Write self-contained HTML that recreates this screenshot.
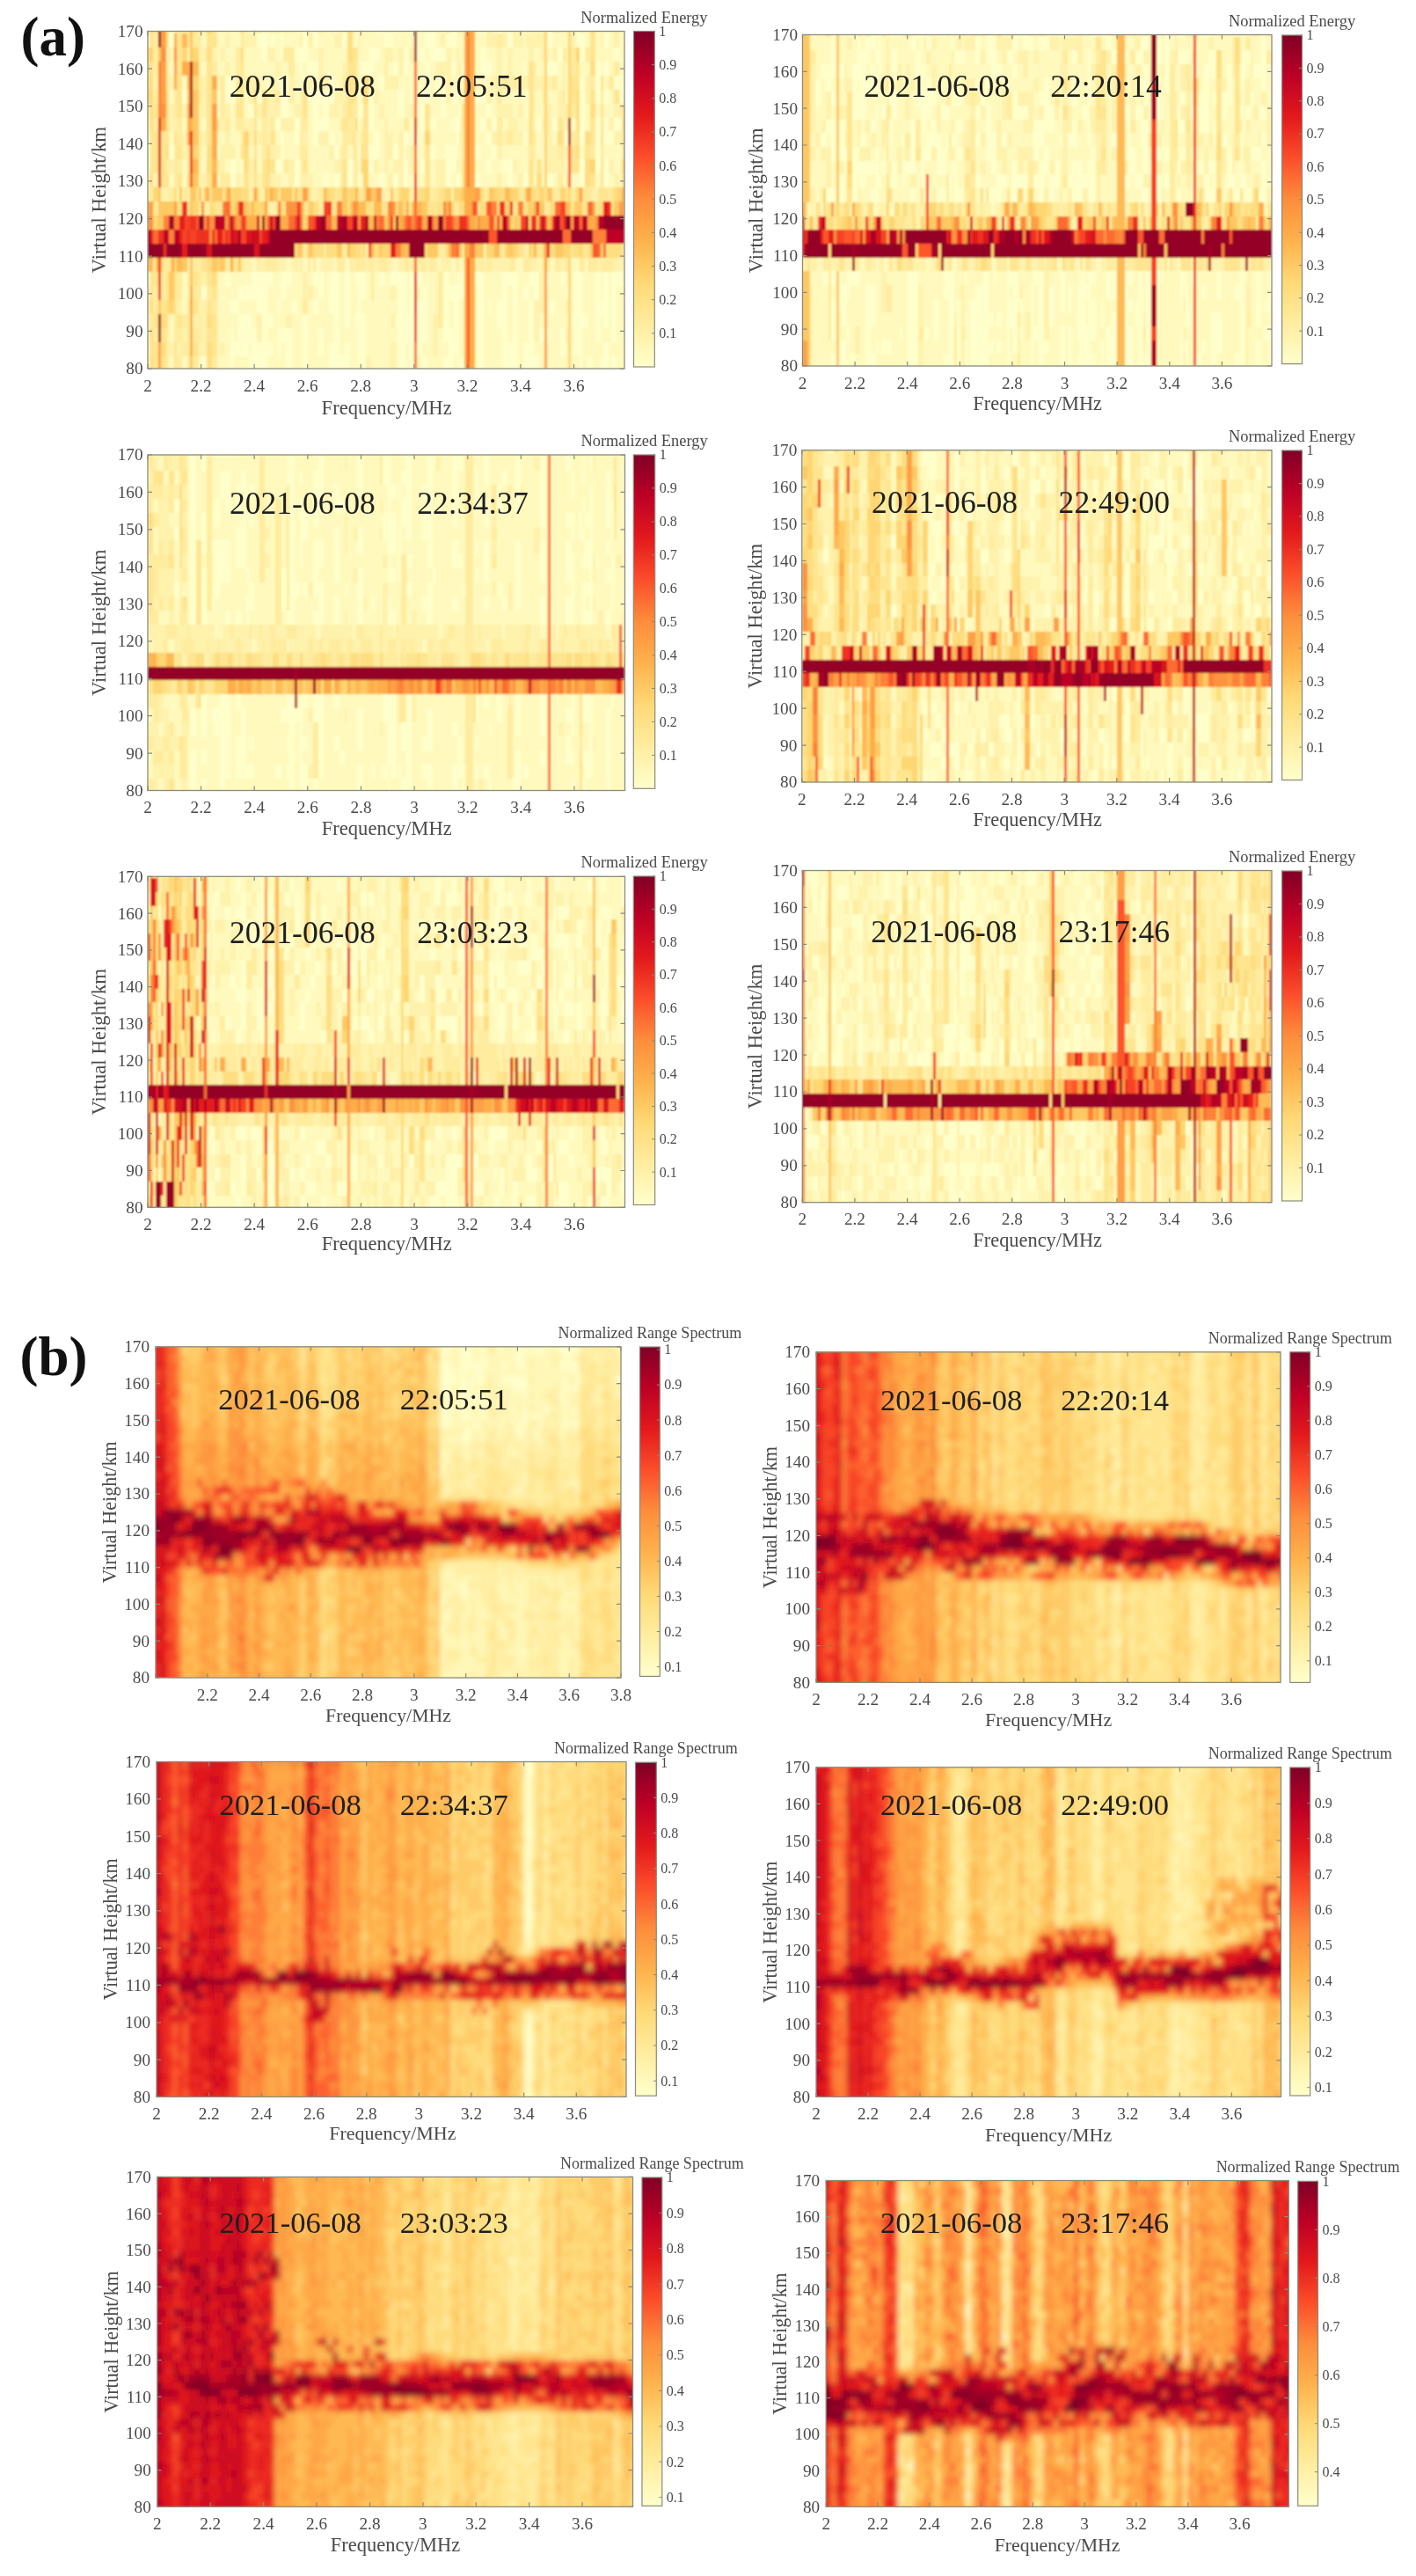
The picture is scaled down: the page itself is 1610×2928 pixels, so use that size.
<!DOCTYPE html><html><head><meta charset="utf-8"><style>html,body{margin:0;padding:0;background:#fff}svg{display:block;filter:blur(0.7px)}</style></head><body>
<svg width="1610" height="2928" viewBox="0 0 1610 2928" font-family="'Liberation Serif', 'Times New Roman', serif">
<defs><filter id="bl1" x="0" y="0" width="1" height="1"><feGaussianBlur stdDeviation="1.1"/></filter><filter id="bl2" x="0" y="0" width="1" height="1"><feGaussianBlur stdDeviation="3"/></filter></defs>
<rect width="100%" height="100%" fill="#fff"/>
<clipPath id="ca1"><rect x="168" y="35.5" width="542" height="383.5"/></clipPath>
<g clip-path="url(#ca1)"><g filter="url(#bl1)"><path fill="#ffffcc" d="M262 22h3v399h-3zm12 0h3v399h-3zm12 0h9v399h-9zm12 0h6v399h-6zm21 0h3v399h-3zm25 0h6v399h-6zm12 0h6v399h-6zm24 0h6v399h-6zm12 0h6v399h-6zm15 0h9v399h-9zm46 0h9v399h-9zm12 0h6v399h-6zm9 0h12v399h-12zm30 0h18v399h-18zm39 0h7v399h-7zm28 0h18v399h-18zm81 0h13v399h-13zm25 0h6v399h-6zm9 0h6v399h-6zm12 0h3v399h-3z"/><path fill="#fff9bd" d="M192 22h6v399h-6zm15 0h6v399h-6zm40 0h15v399h-15zm18 0h9v399h-9zm12 0h6v399h-6zm27 0h3v399h-3zm6 0h9v399h-9zm12 0h22v399h-22zm28 0h6v399h-6zm12 0h18v399h-18zm24 0h6v399h-6zm12 0h6v399h-6zm18 0h28v399h-28zm31 0h6v399h-6zm15 0h3v399h-3zm24 0h18v399h-18zm36 0h6v399h-6zm18 0h3v399h-3zm10 0h15v399h-15zm39 0h12v399h-12zm21 0h9v399h-9zm12 0h18v399h-18zm21 0h3v399h-3zm6 0h3v399h-3zm16 0h12v399h-12zm18 0h3v399h-3zm9 0h6v399h-6zm9 0h9v399h-9z"/><path fill="#fff2ad" d="M168 22h3v399h-3zm61 0h6v399h-6zm54 0h3v399h-3zm12 0h3v399h-3zm12 0h3v399h-3zm137 0h3v399h-3zm121 0h6v399h-6zm42 0h3v399h-3zm33 0h3v399h-3z"/><path fill="#ffec9e" d="M177 22h3v399h-3zm21 0h3v399h-3zm15 0h3v399h-3zm10 0h6v399h-6zm181 0h3v399h-3z"/><path fill="#ffe590" d="M174 22h3v399h-3zm9 0h9v399h-9zm18 0h6v399h-6zm34 0h12v399h-12zm366 0h6v399h-6z"/><path fill="#fede81" d="M171 22h3v399h-3z"/><path fill="#fed672" d="M619 22h3v399h-3zm27 0h3v399h-3z"/><path fill="#fec864" d="M180 22h3v399h-3zm36 0h7v399h-7z"/><path fill="#fead4a" d="M528 22h3v399h-3zm6 0h6v399h-6z"/><path fill="#fd8239" d="M531 22h3v399h-3z"/><path fill="#fc6c33" d="M471 22h3v399h-3z"/><path fill="#ffffcc" d="M229 405h6v16h-6zm54 0h3v16h-3zm12 -16h3v32h-3zm30 -16h7v48h-7zm49 16h6v32h-6zm12 16h6v16h-6zm136 0h6v16h-6zm73 0h18v16h-18zm73 0h6v16h-6zm15 0h3v16h-3zm12 0h3v16h-3zm-430 -16h9v16h-9zm12 -32h6v48h-6zm27 32h6v16h-6zm12 -16h3v32h-3zm46 0h6v32h-6zm233 16h12v16h-12zm42 -16h6v32h-6zm-366 -16h3v32h-3zm12 0h3v32h-3zm39 16h3v16h-3zm140 -16h3v32h-3zm139 -16h6v48h-6zm12 32h6v16h-6zm9 0h3v16h-3zm73 -64h3v80h-3zm-391 48h6v16h-6zm100 0h3v16h-3zm46 0h3v16h-3zm115 -16h6v32h-6zm100 16h3v16h-3zm-400 -16h6v16h-6zm30 -32h3v48h-3zm21 32h3v16h-3zm16 0h6v16h-6zm42 -32h6v48h-6zm182 32h3v16h-3zm69 0h6v16h-6zm58 0h3v16h-3zm-454 -16h6v16h-6zm42 0h3v16h-3zm6 0h9v16h-9zm45 -16h3v32h-3zm40 0h6v32h-6zm160 0h6v32h-6zm73 16h6v16h-6zm12 -16h6v32h-6zm36 16h3v16h-3zm-387 -16h6v16h-6zm48 0h6v16h-6zm21 0h7v16h-7zm79 0h3v16h-3zm27 0h6v16h-6zm13 0h9v16h-9zm96 0h3v16h-3zm61 0h6v16h-6zm21 0h3v16h-3zm15 0h6v16h-6zm64 0h6v16h-6zm-436 -128h3v32h-3zm70 0h6v32h-6zm33 16h6v16h-6zm30 -16h3v32h-3zm33 16h6v16h-6zm16 0h6v16h-6zm15 -16h3v32h-3zm60 16h3v16h-3zm18 0h3v16h-3zm55 0h6v16h-6zm27 0h6v16h-6zm-309 -16h6v16h-6zm106 -16h6v32h-6zm134 16h6v16h-6zm-361 -16h6v16h-6zm55 0h3v16h-3zm178 -16h6v32h-6zm22 16h6v16h-6zm42 0h6v16h-6zm51 0h3v16h-3zm19 0h6v16h-6zm145 0h3v16h-3zm-369 -31h6v31h-6zm39 15h6v16h-6zm12 0h3v16h-3zm76 0h3v16h-3zm91 0h6v16h-6zm42 0h3v16h-3zm48 0h3v16h-3zm49 0h6v16h-6zm-379 -15h6v15h-6zm49 0h12v15h-12zm57 -32h6v47h-6zm70 32h6v15h-6zm61 0h3v15h-3zm9 0h6v15h-6zm51 0h6v15h-6zm18 0h6v15h-6zm73 0h6v15h-6zm-454 -32h3v32h-3zm36 16h3v16h-3zm39 -32h6v48h-6zm46 16h6v32h-6zm133 -16h3v48h-3zm21 32h3v16h-3zm31 0h6v16h-6zm45 -16h3v32h-3zm-391 0h6v16h-6zm49 -16h6v32h-6zm9 0h3v32h-3zm30 16h3v16h-3zm55 0h6v16h-6zm12 0h6v16h-6zm12 -16h6v32h-6zm112 -16h3v48h-3zm54 32h3v16h-3zm10 0h3v16h-3zm157 -16h3v32h-3zm-403 0h3v16h-3zm127 0h6v16h-6zm64 0h6v16h-6zm27 0h3v16h-3zm179 0h3v16h-3zm-360 -32h3v32h-3zm9 16h6v16h-6zm66 0h9v16h-9zm31 0h6v16h-6zm15 -16h3v32h-3zm63 16h3v16h-3zm25 0h9v16h-9zm45 0h3v16h-3zm27 0h12v16h-12zm-287 -16h6v16h-6zm84 0h12v16h-12zm70 0h15v16h-15zm61 0h3v16h-3zm84 0h6v16h-6zm67 0h3v16h-3zm-509 -16h6v16h-6zm103 0h3v16h-3zm12 0h6v16h-6zm82 0h3v16h-3zm15 0h3v16h-3zm33 0h10v16h-10zm49 -16h9v32h-9zm136 0h6v32h-6zm-375 0h3v16h-3zm18 0h3v16h-3zm18 0h3v16h-3zm58 0h3v16h-3zm84 0h12v16h-12zm22 0h6v16h-6zm103 0h3v16h-3zm15 0h6v16h-6zm30 0h3v16h-3z"/><path fill="#fff9bd" d="M226 405h3v16h-3zm48 0h3v16h-3zm33 0h3v16h-3zm12 -16h3v32h-3zm37 -32h6v64h-6zm48 16h3v48h-3zm70 32h6v16h-6zm42 0h6v16h-6zm49 -32h6v48h-6zm75 32h3v16h-3zm12 0h7v16h-7zm10 -32h3v48h-3zm15 16h6v32h-6zm-394 0h3v16h-3zm197 0h6v16h-6zm24 0h6v16h-6zm103 0h3v16h-3zm91 0h3v16h-3zm-391 -16h3v16h-3zm85 0h6v16h-6zm52 0h3v16h-3zm133 -48h6v64h-6zm109 48h6v16h-6zm-424 -16h3v16h-3zm24 -16h6v32h-6zm33 0h3v32h-3zm191 0h6v32h-6zm130 -16h3v48h-3zm-366 16h3v16h-3zm9 0h3v16h-3zm24 -16h3v32h-3zm97 0h3v32h-3zm6 16h6v16h-6zm34 0h3v16h-3zm218 -32h3v48h-3zm-400 0h3v32h-3zm94 16h6v16h-6zm118 0h6v16h-6zm91 -16h6v32h-6zm36 16h6v16h-6zm-433 -16h3v16h-3zm106 0h3v16h-3zm9 0h3v16h-3zm197 0h6v16h-6zm30 0h12v16h-12zm-224 -16h6v16h-6zm58 0h6v16h-6zm15 0h3v16h-3zm21 0h3v16h-3zm12 0h6v16h-6zm121 0h6v16h-6zm73 0h3v16h-3zm66 0h7v16h-7zm-378 -96h3v16h-3zm45 0h3v16h-3zm37 -32h6v48h-6zm54 32h3v16h-3zm55 0h6v16h-6zm9 0h9v16h-9zm39 0h6v16h-6zm33 -48h4v64h-4zm25 48h6v16h-6zm12 0h6v16h-6zm24 -16h3v32h-3zm33 16h3v16h-3zm12 0h7v16h-7zm25 0h6v16h-6zm-509 -48h3v48h-3zm61 16h6v32h-6zm63 0h6v32h-6zm152 16h3v16h-3zm30 0h3v16h-3zm69 0h3v16h-3zm22 0h6v16h-6zm133 -16h3v32h-3zm-415 0h6v16h-6zm112 0h3v16h-3zm64 0h3v16h-3zm18 -16h6v32h-6zm27 -15h3v47h-3zm15 31h3v16h-3zm52 0h18v16h-18zm88 0h6v16h-6zm27 0h6v16h-6zm-424 -47h3v47h-3zm118 16h6v31h-6zm27 15h3v16h-3zm58 -15h6v31h-6zm42 15h12v16h-12zm36 -31h3v47h-3zm-314 16h6v15h-6zm63 0h6v15h-6zm152 -32h3v47h-3zm9 32h6v15h-6zm21 0h3v15h-3zm33 -16h6v31h-6zm64 16h6v15h-6zm36 -32h3v47h-3zm45 32h3v15h-3zm-193 -48h3v48h-3zm54 32h9v16h-9zm33 0h4v16h-4zm37 -16h6v32h-6zm94 16h6v16h-6zm9 0h6v16h-6zm-276 -16h3v16h-3zm55 -32h6v48h-6zm9 0h3v48h-3zm97 32h12v16h-12zm-273 -32h6v32h-6zm82 -16h6v48h-6zm27 0h3v48h-3zm46 32h6v16h-6zm24 -16h6v32h-6zm36 16h9v16h-9zm30 0h7v16h-7zm143 0h6v16h-6zm-457 -16h6v16h-6zm33 -32h3v48h-3zm21 16h15v32h-15zm24 16h3v16h-3zm12 0h3v16h-3zm25 0h6v16h-6zm100 0h3v16h-3zm99 -48h3v64h-3zm28 32h6v32h-6zm12 0h6v32h-6zm76 16h6v16h-6zm-303 -16h6v16h-6zm36 0h3v16h-3zm18 -32h6v48h-6zm73 32h3v16h-3zm30 0h6v16h-6zm94 0h3v16h-3zm70 -32h6v48h-6zm9 32h6v16h-6zm-457 -16h6v16h-6zm224 -16h9v32h-9zm12 16h6v16h-6zm12 -16h6v32h-6zm42 16h3v16h-3zm27 0h4v16h-4zm94 -16h3v32h-3zm-342 0h6v16h-6zm94 0h3v16h-3zm12 0h3v16h-3zm40 0h3v16h-3zm30 0h3v16h-3zm30 0h3v16h-3zm67 0h6v16h-6zm30 0h6v16h-6zm51 0h3v16h-3zm34 0h6v16h-6z"/><path fill="#fff2ad" d="M416 405h6v16h-6zm31 -16h3v32h-3zm-255 0h6v16h-6zm9 0h6v16h-6zm25 0h3v16h-3zm24 0h6v16h-6zm242 -32h6v48h-6zm-285 16h6v16h-6zm85 -16h3v32h-3zm318 -16h3v48h-3zm33 32h3v16h-3zm-424 -16h7v16h-7zm106 0h7v16h-7zm122 0h3v16h-3zm-246 -16h6v16h-6zm25 0h3v16h-3zm387 -32h6v48h-6zm30 32h3v16h-3zm-430 -16h3v16h-3zm131 0h12v16h-12zm103 0h3v16h-3zm-103 -16h6v16h-6zm-67 -16h6v16h-6zm21 0h3v16h-3zm18 0h9v16h-9zm16 0h12v16h-12zm33 0h15v16h-15zm36 0h3v16h-3zm15 -16h3v32h-3zm9 16h6v16h-6zm16 0h3v16h-3zm12 0h6v16h-6zm12 0h3v16h-3zm9 0h3v16h-3zm9 0h6v16h-6zm12 0h3v16h-3zm6 0h12v16h-12zm42 0h3v16h-3zm7 -16h3v32h-3zm9 16h6v16h-6zm12 0h9v16h-9zm33 0h3v16h-3zm6 0h3v16h-3zm27 0h3v16h-3zm43 0h3v16h-3zm18 0h12v16h-12zm-100 -16h3v16h-3zm-363 -48h3v16h-3zm75 0h3v16h-3zm-127 -16h9v16h-9zm18 0h3v16h-3zm6 0h3v16h-3zm6 0h3v16h-3zm85 0h3v16h-3zm55 0h9v16h-9zm81 0h10v16h-10zm34 0h3v16h-3zm21 0h3v16h-3zm24 0h3v16h-3zm161 0h6v16h-6zm-500 -16h6v16h-6zm52 -16h3v32h-3zm42 16h6v16h-6zm18 -16h3v32h-3zm6 16h3v16h-3zm18 0h9v16h-9zm18 -16h7v32h-7zm13 16h15v16h-15zm45 -32h3v48h-3zm15 16h3v32h-3zm40 16h3v16h-3zm12 -48h6v64h-6zm42 32h12v32h-12zm94 16h6v16h-6zm54 0h3v16h-3zm55 0h6v16h-6zm-506 -16h6v16h-6zm55 0h9v16h-9zm94 0h3v16h-3zm39 0h6v16h-6zm45 0h6v16h-6zm12 -47h4v63h-4zm10 47h6v16h-6zm18 -16h6v32h-6zm54 16h3v16h-3zm64 0h6v16h-6zm39 0h18v16h-18zm70 0h6v16h-6zm-485 -32h6v32h-6zm43 16h18v16h-18zm60 0h9v16h-9zm64 0h6v16h-6zm67 -16h3v32h-3zm181 16h12v16h-12zm21 0h3v16h-3zm-387 -16h6v16h-6zm30 -15h3v31h-3zm6 15h3v16h-3zm12 -47h3v63h-3zm40 47h6v16h-6zm18 0h12v16h-12zm42 0h3v16h-3zm118 0h3v16h-3zm37 0h6v16h-6zm12 0h6v16h-6zm12 0h12v16h-12zm39 -31h6v47h-6zm76 31h9v16h-9zm-506 -15h9v15h-9zm34 -16h3v31h-3zm24 16h6v15h-6zm27 0h6v15h-6zm42 0h16v15h-16zm22 -32h3v47h-3zm45 32h3v15h-3zm24 0h3v15h-3zm143 0h6v15h-6zm24 0h12v15h-12zm39 0h3v15h-3zm27 0h3v15h-3zm49 0h6v15h-6zm-500 -16h6v16h-6zm15 0h6v16h-6zm49 0h6v16h-6zm36 0h3v16h-3zm18 0h9v16h-9zm25 0h6v16h-6zm39 0h12v16h-12zm57 0h6v16h-6zm34 0h6v16h-6zm106 0h12v16h-12zm18 0h6v16h-6zm45 -16h6v32h-6zm64 16h9v16h-9zm-412 -32h3v32h-3zm24 0h3v32h-3zm18 0h7v32h-7zm52 16h15v16h-15zm45 0h6v16h-6zm82 -48h6v64h-6zm15 48h3v16h-3zm31 0h6v16h-6zm63 -16h3v32h-3zm49 0h6v32h-6zm-491 0h6v16h-6zm18 0h6v16h-6zm85 0h6v16h-6zm12 0h6v16h-6zm61 0h6v16h-6zm18 0h6v16h-6zm51 0h6v16h-6zm18 0h7v16h-7zm10 0h6v16h-6zm112 0h6v16h-6zm18 -32h6v48h-6zm12 32h12v16h-12zm21 0h6v16h-6zm12 0h6v16h-6zm-396 -32h3v32h-3zm30 16h6v16h-6zm57 0h6v16h-6zm49 -16h6v32h-6zm27 16h6v16h-6zm48 -16h4v32h-4zm16 0h6v32h-6zm42 16h12v16h-12zm24 0h6v16h-6zm-330 -16h9v16h-9zm24 0h3v16h-3zm28 0h6v16h-6zm9 0h6v16h-6zm54 0h3v16h-3zm6 0h3v16h-3zm131 0h3v16h-3zm24 0h6v16h-6zm54 0h3v16h-3zm82 -16h6v32h-6zm15 0h3v32h-3zm12 16h6v16h-6zm15 0h3v16h-3zm-387 -16h6v16h-6zm21 -16h6v32h-6zm9 16h6v16h-6zm55 0h3v16h-3zm9 0h6v16h-6zm30 0h9v16h-9zm27 0h3v16h-3zm94 0h6v16h-6zm52 0h12v16h-12zm18 0h6v16h-6zm12 -16h12v32h-12zm15 16h3v16h-3zm12 0h6v16h-6zm39 0h6v16h-6zm34 0h3v16h-3zm15 0h6v16h-6zm-491 -16h6v16h-6zm19 0h3v16h-3zm63 0h6v16h-6zm21 0h9v16h-9zm12 0h6v16h-6zm40 0h6v16h-6zm24 0h3v16h-3zm15 0h3v16h-3zm106 0h6v16h-6zm12 0h6v16h-6zm34 0h6v16h-6zm75 0h12v16h-12zm15 0h3v16h-3zm16 0h6v16h-6z"/><path fill="#ffec9e" d="M189 373h3v48h-3zm12 32h6v16h-6zm18 0h4v16h-4zm22 0h6v16h-6zm-34 -16h6v16h-6zm-33 -16h3v16h-3zm27 0h6v16h-6zm18 0h4v16h-4zm-48 -16h3v16h-3zm36 0h6v16h-6zm291 -48h6v64h-6zm-330 32h3v16h-3zm6 -16h3v32h-3zm67 16h6v16h-6zm103 0h6v16h-6zm-161 -32h6v32h-6zm18 0h6v32h-6zm18 16h4v16h-4zm16 0h6v16h-6zm187 -32h3v48h-3zm-248 0h3v16h-3zm12 0h6v16h-6zm33 0h4v16h-4zm37 0h6v16h-6zm18 0h3v16h-3zm18 0h3v16h-3zm9 0h15v16h-15zm49 0h3v16h-3zm6 0h3v16h-3zm27 0h9v16h-9zm15 0h3v16h-3zm9 0h9v16h-9zm12 0h3v16h-3zm12 0h10v16h-10zm28 0h6v16h-6zm9 0h3v16h-3zm9 0h6v16h-6zm12 0h6v16h-6zm30 0h3v16h-3zm21 0h3v16h-3zm6 0h4v16h-4zm7 0h6v16h-6zm27 0h6v16h-6zm15 0h9v16h-9zm21 0h3v16h-3zm6 0h3v16h-3zm9 0h6v16h-6zm12 0h3v16h-3zm16 0h6v16h-6zm9 0h12v16h-12zm15 0h15v16h-15zm-339 -16h6v16h-6zm24 0h3v16h-3zm21 0h6v16h-6zm109 0h9v16h-9zm27 0h3v16h-3zm46 0h3v16h-3zm24 0h3v16h-3zm18 0h3v16h-3zm-381 -48h3v16h-3zm18 0h3v16h-3zm54 0h3v16h-3zm9 0h3v16h-3zm34 0h3v16h-3zm15 -16h6v32h-6zm103 0h3v32h-3zm51 16h6v16h-6zm103 0h6v16h-6zm58 0h3v16h-3zm-509 -16h6v16h-6zm24 0h6v16h-6zm218 0h3v16h-3zm37 0h6v16h-6zm45 0h6v16h-6zm58 0h6v16h-6zm42 0h3v16h-3zm36 0h9v16h-9zm21 0h6v16h-6zm19 0h6v16h-6zm24 0h3v16h-3zm-442 -16h12v16h-12zm384 0h6v16h-6zm-445 -16h3v16h-3zm12 0h6v16h-6zm121 0h6v16h-6zm-24 -47h6v47h-6zm43 31h9v16h-9zm48 -16h6v32h-6zm12 16h3v16h-3zm124 -16h3v32h-3zm76 16h6v16h-6zm33 0h6v16h-6zm37 0h6v16h-6zm12 0h3v16h-3zm-482 -31h6v31h-6zm73 0h3v31h-3zm67 15h3v16h-3zm54 -15h6v31h-6zm15 15h3v16h-3zm155 -15h6v31h-6zm12 15h6v16h-6zm72 0h6v16h-6zm-475 -15h3v15h-3zm73 0h3v15h-3zm9 0h6v15h-6zm12 0h6v15h-6zm39 0h6v15h-6zm37 0h6v15h-6zm57 -16h3v31h-3zm58 16h6v15h-6zm-291 -16h3v16h-3zm82 -32h6v48h-6zm139 32h6v16h-6zm254 0h3v16h-3zm6 0h6v16h-6zm-475 -16h3v16h-3zm94 -48h6v64h-6zm45 48h6v16h-6zm252 0h6v16h-6zm75 0h3v16h-3zm43 0h3v16h-3zm-494 -32h3v32h-3zm85 16h3v16h-3zm88 0h6v16h-6zm27 0h6v16h-6zm182 0h6v16h-6zm12 0h6v16h-6zm45 0h6v16h-6zm43 0h6v16h-6zm21 0h6v16h-6zm-518 -48h3v48h-3zm67 32h6v16h-6zm87 -16h7v32h-7zm321 0h6v32h-6zm49 16h6v16h-6zm-376 -16h6v16h-6zm318 0h3v16h-3zm25 0h6v16h-6zm-446 -16h4v16h-4zm55 0h3v16h-3zm291 0h6v16h-6zm-364 -16h6v16h-6zm40 0h6v16h-6zm457 0h6v16h-6z"/><path fill="#ffe590" d="M177 389h3v32h-3zm21 0h3v32h-3zm-27 0h3v16h-3zm48 0h7v16h-7zm-42 -32h3v16h-3zm21 -48h3v48h-3zm21 32h7v16h-7zm-48 -32h3v32h-3zm6 0h3v16h-3zm42 0h7v16h-7zm-27 -16h3v16h-3zm37 0h6v16h-6zm36 0h6v16h-6zm145 -16h3v16h-3zm158 0h3v16h-3zm21 0h6v16h-6zm21 0h3v16h-3zm39 0h3v16h-3zm13 0h9v16h-9zm45 0h3v16h-3zm-494 -48h3v16h-3zm34 0h3v16h-3zm75 0h3v16h-3zm55 0h6v16h-6zm45 0h3v16h-3zm12 0h7v16h-7zm52 0h12v16h-12zm15 -16h3v32h-3zm42 16h3v16h-3zm40 0h6v16h-6zm12 -16h3v32h-3zm54 16h3v16h-3zm13 -16h6v32h-6zm33 0h3v32h-3zm-485 0h3v16h-3zm13 0h3v16h-3zm30 0h3v16h-3zm33 0h3v16h-3zm30 0h3v16h-3zm16 0h3v16h-3zm9 0h3v16h-3zm39 0h9v16h-9zm27 0h3v16h-3zm67 0h3v16h-3zm24 0h3v16h-3zm91 0h3v16h-3zm21 0h3v16h-3zm9 0h3v16h-3zm24 0h3v16h-3zm37 0h12v16h-12zm-403 -16h6v16h-6zm12 0h3v16h-3zm9 -16h6v32h-6zm91 0h6v32h-6zm94 -16h6v48h-6zm42 16h3v32h-3zm146 16h6v16h-6zm12 -16h3v32h-3zm-512 -32h3v48h-3zm6 0h3v48h-3zm36 16h3v32h-3zm94 16h6v16h-6zm37 0h6v16h-6zm266 0h6v16h-6zm39 0h10v16h-10zm-375 -16h3v16h-3zm15 0h3v16h-3zm121 0h9v16h-9zm239 0h6v16h-6zm16 0h6v16h-6zm42 -16h3v32h-3zm-509 0h3v16h-3zm109 0h6v16h-6zm94 0h3v16h-3zm12 -31h6v47h-6zm242 31h4v16h-4zm16 -15h6v31h-6zm12 -16h3v47h-3zm-394 0h3v31h-3zm100 16h6v15h-6zm94 -16h6v31h-6zm42 0h3v31h-3zm109 16h6v15h-6zm-457 -16h3v16h-3zm91 0h9v16h-9zm30 -16h6v32h-6zm46 0h6v32h-6zm51 -32h6v64h-6zm312 48h3v16h-3zm-433 -16h3v16h-3zm127 -48h3v64h-3zm248 32h6v32h-6zm22 16h6v16h-6zm27 0h6v16h-6zm-294 -16h3v16h-3zm251 -16h4v32h-4zm28 16h3v16h-3zm-512 -16h3v16h-3zm103 0h3v16h-3zm130 -16h3v16h-3zm267 -16h6v32h-6zm-500 0h3v16h-3zm42 -16h3v32h-3zm-36 0h3v16h-3zm42 0h7v16h-7z"/><path fill="#fede81" d="M235 389h6v32h-6zm-52 0h6v16h-6zm0 -32h6v16h-6zm52 0h6v16h-6zm-46 -16h3v16h-3zm52 -32h6v16h-6zm-6 -16h6v16h-6zm100 -16h3v16h-3zm21 0h12v16h-12zm15 0h12v16h-12zm33 0h6v16h-6zm9 0h3v16h-3zm12 0h6v16h-6zm58 0h3v16h-3zm24 0h3v16h-3zm97 0h3v16h-3zm12 0h3v16h-3zm9 0h6v16h-6zm27 0h7v16h-7zm37 0h18v16h-18zm-488 -48h6v16h-6zm37 0h6v16h-6zm118 0h6v16h-6zm39 -16h3v32h-3zm21 16h6v16h-6zm34 0h3v16h-3zm9 0h3v16h-3zm39 0h3v16h-3zm24 0h6v16h-6zm24 0h7v16h-7zm19 0h3v16h-3zm33 0h3v16h-3zm27 0h6v16h-6zm55 0h6v16h-6zm-482 -16h3v16h-3zm64 0h3v16h-3zm12 0h9v16h-9zm18 0h3v16h-3zm46 0h3v16h-3zm12 0h3v16h-3zm24 0h6v16h-6zm39 0h3v16h-3zm40 0h3v16h-3zm24 0h6v16h-6zm27 0h3v16h-3zm42 0h4v16h-4zm22 0h6v16h-6zm36 0h6v16h-6zm94 0h3v16h-3zm-485 -16h3v16h-3zm91 -32h3v48h-3zm306 32h6v16h-6zm55 -16h6v32h-6zm42 16h3v16h-3zm-472 -32h6v32h-6zm42 0h6v32h-6zm12 16h3v16h-3zm121 0h3v16h-3zm-221 -16h3v16h-3zm466 0h4v16h-4zm-366 -16h3v16h-3zm345 0h6v16h-6zm31 0h6v16h-6zm-261 -15h3v15h-3zm251 -32h4v47h-4zm52 32h3v15h-3zm-36 -16h6v16h-6zm-382 -16h3v16h-3zm124 -16h6v32h-6zm-245 -16h3v32h-3zm503 0h6v16h-6zm-436 -16h6v16h-6zm39 0h3v16h-3zm121 -32h6v48h-6zm-121 0h3v16h-3zm397 0h6v16h-6z"/><path fill="#fed672" d="M192 341h6v16h-6zm-9 -48h3v16h-3zm15 0h3v16h-3zm49 0h3v16h-3zm151 -16h6v16h-6zm36 0h10v16h-10zm119 0h9v16h-9zm21 0h3v16h-3zm9 0h6v16h-6zm18 0h3v16h-3zm39 0h6v16h-6zm19 0h3v16h-3zm24 0h3v16h-3zm-509 -32h6v16h-6zm170 0h6v16h-6zm236 0h6v16h-6zm9 0h3v16h-3zm12 0h3v16h-3zm-382 -16h7v16h-7zm43 0h6v16h-6zm21 0h3v16h-3zm6 0h12v16h-12zm30 0h3v16h-3zm25 0h3v16h-3zm6 0h3v16h-3zm163 0h3v16h-3zm61 0h3v16h-3zm30 0h3v16h-3zm48 0h3v16h-3zm-478 -16h6v16h-6zm91 0h9v16h-9zm39 0h3v16h-3zm67 0h3v16h-3zm27 0h6v16h-6zm58 0h9v16h-9zm27 0h6v16h-6zm24 0h6v16h-6zm9 0h9v16h-9zm46 0h6v16h-6zm18 0h9v16h-9zm33 0h6v16h-6zm24 0h6v16h-6zm18 0h4v16h-4zm46 0h6v16h-6zm-288 -32h6v32h-6zm258 0h6v16h-6zm36 0h3v16h-3zm-488 -16h7v16h-7zm58 -16h6v16h-6zm206 0h6v16h-6zm-315 -47h3v16h-3zm51 -16h7v16h-7zm-51 -32h6v16h-6zm39 0h6v16h-6zm12 0h7v16h-7zm436 0h4v16h-4zm-420 -32h6v16h-6z"/><path fill="#fec864" d="M192 309h6v32h-6zm15 -16h6v16h-6zm34 0h6v16h-6zm9 0h6v16h-6zm21 0h3v16h-3zm67 -16h6v16h-6zm12 0h6v16h-6zm33 0h6v16h-6zm48 0h3v16h-3zm55 0h12v16h-12zm36 0h3v16h-3zm18 0h10v16h-10zm37 0h6v16h-6zm54 0h9v16h-9zm40 0h3v16h-3zm-488 -48h3v32h-3zm112 16h3v16h-3zm142 0h4v16h-4zm10 0h3v16h-3zm115 0h3v16h-3zm24 0h3v16h-3zm24 0h3v16h-3zm12 0h3v16h-3zm-436 -16h12v16h-12zm91 0h6v16h-6zm76 0h3v16h-3zm36 -16h6v32h-6zm9 16h3v16h-3zm58 0h3v16h-3zm24 0h6v16h-6zm97 0h3v16h-3zm24 0h3v16h-3zm12 0h6v16h-6zm33 0h3v16h-3zm9 0h7v16h-7zm43 0h6v16h-6zm-494 -16h3v16h-3zm22 0h3v16h-3zm6 0h3v16h-3zm9 0h12v16h-12zm15 0h3v16h-3zm45 0h3v16h-3zm9 0h6v16h-6zm9 0h13v16h-13zm16 0h3v16h-3zm87 0h6v16h-6zm22 0h3v16h-3zm81 0h3v16h-3zm31 0h6v16h-6zm66 0h6v16h-6zm-399 -16h3v16h-3zm0 -95h3v63h-3zm18 0h6v16h-6z"/><path fill="#feba55" d="M168 293h6v16h-6zm9 0h3v16h-3zm24 0h6v16h-6zm194 -16h3v16h-3zm27 0h3v16h-3zm34 0h9v16h-9zm54 0h3v16h-3zm52 0h6v16h-6zm45 0h3v16h-3zm-230 -32h6v16h-6zm42 0h6v16h-6zm121 0h3v16h-3zm28 0h3v16h-3zm-300 -16h3v16h-3zm18 0h3v16h-3zm121 0h9v16h-9zm18 0h9v16h-9zm28 0h3v16h-3zm15 0h3v16h-3zm6 0h6v16h-6zm33 0h3v16h-3zm136 0h3v16h-3zm-275 -16h3v16h-3zm36 0h3v16h-3zm170 0h6v16h-6zm-355 -32h7v16h-7zm22 0h6v16h-6zm-28 -79h3v16h-3zm6 -32h7v16h-7zm-12 -32h6v16h-6z"/><path fill="#fead4a" d="M216 325h3v80h-3zm-21 -32h3v16h-3zm67 0h3v16h-3zm269 -16h3v16h-3zm-251 -32h12v16h-12zm21 0h3v16h-3zm18 0h9v16h-9zm134 0h6v16h-6zm27 0h6v16h-6zm66 0h10v16h-10zm79 0h3v16h-3zm46 0h6v16h-6zm-209 -16h3v16h-3zm69 -16h3v32h-3zm76 16h3v16h-3zm67 0h3v16h-3zm-439 -16h3v16h-3zm72 0h3v16h-3zm291 0h6v16h-6zm109 0h3v16h-3zm-466 -16h6v16h-6zm0 -48h6v32h-6zm-58 -15h6v15h-6zm30 0h6v15h-6zm-15 -48h3v16h-3zm15 -16h3v32h-3zm28 16h6v16h-6zm-34 -16h6v16h-6zm-9 -32h3v16h-3z"/><path fill="#fea044" d="M180 389h3v32h-3zm439 -112h3v144h-3zm-363 -32h3v16h-3zm12 0h6v16h-6zm227 0h3v16h-3zm154 0h3v16h-3zm19 0h3v16h-3zm-500 -16h6v16h-6zm30 0h3v16h-3zm103 0h3v16h-3zm146 0h3v16h-3zm257 0h6v16h-6zm-445 -16h3v16h-3zm30 0h3v16h-3zm55 0h6v16h-6zm72 0h6v16h-6zm12 0h6v16h-6zm112 0h6v16h-6zm119 0h3v16h-3zm-446 -64h3v16h-3zm28 -31h6v31h-6zm-28 0h3v16h-3zm-30 -48h6v48h-6zm15 0h3v16h-3zm-15 -48h6v32h-6z"/><path fill="#fd933f" d="M238 245h3v32h-3zm-70 0h6v16h-6zm64 0h3v16h-3zm9 0h3v16h-3zm166 0h3v16h-3zm34 0h3v16h-3zm27 0h3v16h-3zm24 0h3v16h-3zm24 0h6v16h-6zm27 0h3v16h-3zm134 0h3v16h-3zm-448 -16h3v16h-3zm96 0h13v16h-13zm76 0h6v16h-6zm-218 -111h6v16h-6zm0 -64h6v16h-6zm15 0h3v16h-3z"/><path fill="#fd8239" d="M450 277h6v16h-6zm63 0h6v16h-6zm21 0h6v16h-6zm-342 -16h6v16h-6zm482 0h15v16h-15zm-488 -16h6v16h-6zm12 0h6v16h-6zm230 0h3v16h-3zm31 0h3v16h-3zm45 -16h3v32h-3zm-251 0h3v16h-3zm63 0h3v16h-3zm25 0h3v16h-3zm42 0h6v16h-6zm58 0h6v16h-6zm69 0h3v16h-3zm49 0h6v16h-6zm30 0h6v16h-6zm-409 -159h3v64h-3z"/><path fill="#fc6c33" d="M519 277h3v16h-3zm161 0h3v16h-3zm6 0h3v16h-3zm-512 -16h6v16h-6zm70 0h3v16h-3zm396 0h9v16h-9zm-312 -16h7v16h-7zm13 0h3v16h-3zm30 0h6v16h-6zm60 0h6v16h-6zm100 0h3v16h-3zm46 0h3v16h-3zm82 0h3v16h-3zm-403 -16h6v16h-6zm375 0h6v16h-6zm37 0h6v16h-6z"/><path fill="#fc562c" d="M531 293h3v128h-3zm143 -16h6v16h-6zm-421 -16h3v16h-3zm303 0h9v16h-9zm-333 -16h3v16h-3zm36 0h3v16h-3zm6 0h3v16h-3zm39 0h3v16h-3zm46 0h6v16h-6zm112 0h6v16h-6zm51 0h3v16h-3zm43 0h6v16h-6zm81 0h3v16h-3zm-100 -16h6v16h-6zm16 0h6v16h-6zm-337 -32h3v16h-3zm430 -32h3v48h-3z"/><path fill="#f74327" d="M419 277h3v16h-3zm-212 -16h6v16h-6zm9 0h7v16h-7zm43 0h3v16h-3zm15 -16h6v32h-6zm21 16h3v16h-3zm-85 -16h6v16h-6zm25 0h3v16h-3zm75 0h3v16h-3zm25 0h3v16h-3zm21 0h3v16h-3zm39 0h6v16h-6zm79 0h6v16h-6zm33 0h6v16h-6zm58 0h3v16h-3zm27 0h6v16h-6zm21 0h3v16h-3zm6 0h3v16h-3zm-251 -16h6v16h-6zm269 0h6v16h-6zm55 0h3v16h-3z"/><path fill="#ee3122" d="M471 357h3v32h-3zm-291 -64h3v48h-3zm6 -16h3v16h-3zm-6 -16h6v16h-6zm33 0h3v16h-3zm10 0h15v16h-15zm18 0h3v16h-3zm15 0h3v16h-3zm-40 -16h7v16h-7zm228 0h3v16h-3zm78 0h9v16h-9zm82 0h6v16h-6zm36 0h3v16h-3zm-433 -16h6v16h-6zm64 0h6v16h-6zm67 0h3v16h-3zm36 0h3v16h-3zm194 0h6v16h-6zm42 0h3v16h-3zm-139 -32h3v32h-3zm-255 -48h3v48h-3z"/><path fill="#e51f1d" d="M471 309h3v48h-3zm-264 -32h6v16h-6zm237 0h6v16h-6zm178 0h3v16h-3zm-451 -16h3v16h-3zm33 -16h3v32h-3zm43 16h6v16h-6zm51 0h6v16h-6zm-91 -16h3v16h-3zm203 0h6v16h-6zm218 0h3v16h-3zm-48 -16h3v16h-3zm106 0h6v16h-6z"/><path fill="#d9131f" d="M235 277h6v16h-6zm54 0h6v16h-6zm-24 -16h6v16h-6zm15 0h6v16h-6zm-100 -127h3v79h-3zm291 0h3v31h-3z"/><path fill="#cc0a22" d="M262 261h3v16h-3zm24 0h9v16h-9zm18 0h3v16h-3z"/><path fill="#bf0126" d="M186 261h6v16h-6zm12 0h6v16h-6zm491 0h21v16h-21zm-445 -16h12v16h-12zm48 0h3v16h-3zm15 0h3v16h-3zm31 0h3v16h-3zm21 0h6v16h-6zm24 0h6v16h-6zm18 0h6v16h-6zm24 0h3v16h-3zm64 0h3v16h-3zm82 0h6v16h-6zm27 0h3v16h-3zm18 0h3v16h-3zm36 0h7v16h-7zm10 0h6v16h-6zm18 0h6v16h-6z"/><path fill="#aa0026" d="M168 261h3v16h-3zm103 0h3v16h-3zm-79 -16h6v16h-6zm70 0h3v16h-3zm106 0h3v16h-3zm21 0h6v16h-6zm97 0h3v16h-3zm145 0h6v16h-6zm15 -111h3v31h-3zm-430 -64h3v64h-3zm255 -48h3v48h-3z"/><path fill="#950026" d="M180 357h3v32h-3zm-12 -80h18v16h-18zm21 0h18v16h-18zm24 0h22v16h-22zm28 0h48v16h-48zm54 0h40v16h-40zm170 -16h18v32h-18zm-158 0h158v16h-158zm176 0h73v16h-73zm82 0h75v16h-75zm84 0h25v16h-25zm-423 -16h6v16h-6zm72 0h3v16h-3zm15 0h6v16h-6zm52 0h3v16h-3zm51 0h3v16h-3zm34 0h3v16h-3zm48 0h6v16h-6zm145 0h6v16h-6zm43 0h24v16h-24zm-506 -223h3v32h-3z"/></g></g>
<rect x="168" y="35.5" width="542" height="383.5" fill="none" stroke="#8a8a7a" stroke-width="1.3"/>
<path d="M168 419v-5M168 35.5v5M228.6 419v-5M228.6 35.5v5M289.1 419v-5M289.1 35.5v5M349.7 419v-5M349.7 35.5v5M410.2 419v-5M410.2 35.5v5M470.8 419v-5M470.8 35.5v5M531.4 419v-5M531.4 35.5v5M591.9 419v-5M591.9 35.5v5M652.5 419v-5M652.5 35.5v5M168 419h5M710 419h-5M168 376.4h5M710 376.4h-5M168 333.8h5M710 333.8h-5M168 291.2h5M710 291.2h-5M168 248.6h5M710 248.6h-5M168 205.9h5M710 205.9h-5M168 163.3h5M710 163.3h-5M168 120.7h5M710 120.7h-5M168 78.1h5M710 78.1h-5M168 35.5h5M710 35.5h-5" stroke="#8a8a7a" stroke-width="1.2" fill="none"/>
<g font-size="19.2" fill="#4a4a4a" text-anchor="end"><text x="162.5" y="425.4">80</text><text x="162.5" y="382.8">90</text><text x="162.5" y="340.2">100</text><text x="162.5" y="297.6">110</text><text x="162.5" y="255">120</text><text x="162.5" y="212.4">130</text><text x="162.5" y="169.8">140</text><text x="162.5" y="127.2">150</text><text x="162.5" y="84.5">160</text><text x="162.5" y="41.9">170</text></g><g font-size="19.2" fill="#4a4a4a" text-anchor="middle"><text x="168" y="444.5">2</text><text x="228.6" y="444.5">2.2</text><text x="289.1" y="444.5">2.4</text><text x="349.7" y="444.5">2.6</text><text x="410.2" y="444.5">2.8</text><text x="470.8" y="444.5">3</text><text x="531.4" y="444.5">3.2</text><text x="591.9" y="444.5">3.4</text><text x="652.5" y="444.5">3.6</text></g>
<text x="365.6" y="471.3" font-size="22.6" fill="#4a4a4a">Frequency/MHz</text>
<text transform="translate(120,227.2) rotate(-90)" text-anchor="middle" font-size="22.8" fill="#4a4a4a">Virtual Height/km</text>
<g font-size="35.6" fill="#1e1e1e"><text x="260.8" y="109.7">2021-06-08</text><text x="473.1" y="109.7">22:05:51</text></g>
<linearGradient id="ga1" x1="0" y1="1" x2="0" y2="0"><stop offset="0.000" stop-color="#ffffcc"/><stop offset="0.125" stop-color="#ffeda0"/><stop offset="0.250" stop-color="#fed976"/><stop offset="0.375" stop-color="#feb24c"/><stop offset="0.500" stop-color="#fd8d3c"/><stop offset="0.625" stop-color="#fc4e2a"/><stop offset="0.750" stop-color="#e31a1c"/><stop offset="0.875" stop-color="#bd0026"/><stop offset="1.000" stop-color="#800026"/></linearGradient>
<rect x="720.5" y="35.5" width="23.8" height="381.5" fill="url(#ga1)" stroke="#8a8a7a" stroke-width="1.2"/>
<path d="M744.3 378.9h-3.5M744.3 340.7h-3.5M744.3 302.6h-3.5M744.3 264.4h-3.5M744.3 226.2h-3.5M744.3 188.1h-3.5M744.3 149.9h-3.5M744.3 111.8h-3.5M744.3 73.6h-3.5M744.3 35.5h-3.5" stroke="#8a8a7a" stroke-width="1"/>
<g font-size="16" fill="#4a4a4a"><text x="749.3" y="384.2">0.1</text><text x="749.3" y="346.1">0.2</text><text x="749.3" y="307.9">0.3</text><text x="749.3" y="269.8">0.4</text><text x="749.3" y="231.6">0.5</text><text x="749.3" y="193.5">0.6</text><text x="749.3" y="155.3">0.7</text><text x="749.3" y="117.2">0.8</text><text x="749.3" y="79">0.9</text><text x="749.3" y="40.9">1</text></g>
<text x="732.4" y="25.5" text-anchor="middle" font-size="18.4" fill="#4a4a4a">Normalized Energy</text>
<clipPath id="ca2"><rect x="912.5" y="39.5" width="533.5" height="376.5"/></clipPath>
<g clip-path="url(#ca2)"><g filter="url(#bl1)"><path fill="#ffffcc" d="M945 26h6v392h-6zm9 0h6v392h-6zm15 0h9v392h-9zm15 0h12v392h-12zm48 0h12v392h-12zm15 0h3v392h-3zm32 0h6v392h-6zm9 0h3v392h-3zm15 0h24v392h-24zm42 0h3v392h-3zm6 0h6v392h-6zm21 0h3v392h-3zm9 0h12v392h-12zm27 0h3v392h-3zm20 0h3v392h-3zm9 0h9v392h-9zm27 0h6v392h-6zm15 0h9v392h-9zm15 0h15v392h-15zm21 0h3v392h-3zm27 0h3v392h-3zm6 0h3v392h-3zm21 0h2v392h-2zm8 0h6v392h-6zm33 0h6v392h-6zm18 0h12v392h-12z"/><path fill="#fff9bd" d="M924 26h18v392h-18zm36 0h9v392h-9zm18 0h6v392h-6zm18 0h36v392h-36zm54 0h29v392h-29zm35 0h3v392h-3zm6 0h12v392h-12zm36 0h18v392h-18zm21 0h3v392h-3zm9 0h15v392h-15zm18 0h6v392h-6zm18 0h15v392h-15zm18 0h17v392h-17zm20 0h6v392h-6zm15 0h18v392h-18zm42 0h6v392h-6zm30 0h12v392h-12zm18 0h6v392h-6zm9 0h3v392h-3zm6 0h6v392h-6zm9 0h9v392h-9zm11 0h6v392h-6zm18 0h21v392h-21zm33 0h6v392h-6zm18 0h6v392h-6z"/><path fill="#fff2ad" d="M921 26h3v392h-3zm123 0h3v392h-3zm372 0h6v392h-6z"/><path fill="#ffec9e" d="M942 26h3v392h-3zm388 0h6v392h-6z"/><path fill="#ffe590" d="M1383 26h6v392h-6z"/><path fill="#fec864" d="M912 26h9v392h-9zm39 0h3v392h-3z"/><path fill="#feba55" d="M1270 26h9v392h-9z"/><path fill="#f74327" d="M1309 26h6v392h-6z"/><path fill="#ee3122" d="M1357 26h3v392h-3z"/><path fill="#ffffcc" d="M960 387h3v31h-3zm6 15h3v16h-3zm107 0h6v16h-6zm24 -15h3v31h-3zm108 -16h3v47h-3zm9 0h5v47h-5zm11 31h3v16h-3zm6 -31h6v47h-6zm21 16h3v31h-3zm6 -16h6v47h-6zm102 31h6v16h-6zm44 0h6v16h-6zm39 -31h3v47h-3zm-447 16h3v15h-3zm6 0h12v15h-12zm125 0h3v15h-3zm6 0h6v15h-6zm233 0h3v15h-3zm17 -32h6v47h-6zm-420 16h3v16h-3zm60 0h3v16h-3zm27 0h6v16h-6zm12 -31h5v47h-5zm98 31h3v16h-3zm15 0h6v16h-6zm50 -47h3v63h-3zm215 47h3v16h-3zm-480 -47h3v47h-3zm137 31h3v16h-3zm30 0h3v16h-3zm6 0h6v16h-6zm15 -15h3v31h-3zm45 -16h6v47h-6zm38 -16h3v63h-3zm21 32h3v31h-3zm39 0h3v31h-3zm60 15h3v16h-3zm-191 -15h3v15h-3zm45 -32h3v47h-3zm9 16h5v31h-5zm226 16h3v15h-3zm-477 -32h3v32h-3zm110 0h6v32h-6zm161 16h3v16h-3zm24 -16h6v32h-6zm108 16h3v16h-3zm17 -16h6v32h-6zm21 16h6v16h-6zm39 -16h3v32h-3zm-507 0h6v16h-6zm30 0h3v16h-3zm131 0h3v16h-3zm33 0h3v16h-3zm18 0h3v16h-3zm27 0h6v16h-6zm143 0h3v16h-3zm27 0h3v16h-3zm9 0h3v16h-3zm-415 -94h6v16h-6zm57 -47h3v63h-3zm60 47h3v16h-3zm9 0h11v16h-11zm20 -31h3v47h-3zm6 31h3v16h-3zm36 0h12v16h-12zm66 -16h6v32h-6zm26 -15h9v47h-9zm99 15h3v32h-3zm21 16h3v16h-3zm32 0h6v16h-6zm33 0h6v16h-6zm12 0h6v16h-6zm-438 -31h6v31h-6zm21 15h3v16h-3zm15 -15h6v31h-6zm12 0h3v31h-3zm107 15h12v16h-12zm24 0h12v16h-12zm18 0h6v16h-6zm24 -15h6v31h-6zm15 15h5v16h-5zm17 0h6v16h-6zm60 0h3v16h-3zm33 0h6v16h-6zm47 0h3v16h-3zm24 0h9v16h-9zm-435 -31h3v31h-3zm42 16h6v15h-6zm27 0h3v15h-3zm36 -16h11v31h-11zm62 -16h6v47h-6zm161 16h3v31h-3zm51 16h3v15h-3zm24 0h6v15h-6zm11 0h3v15h-3zm21 -16h6v31h-6zm-384 -31h3v47h-3zm39 31h9v16h-9zm41 0h3v16h-3zm84 -31h6v47h-6zm143 31h3v16h-3zm6 0h6v16h-6zm21 0h3v16h-3zm77 0h6v16h-6zm-489 -16h6v16h-6zm45 0h6v16h-6zm48 0h3v16h-3zm27 0h17v16h-17zm23 0h3v16h-3zm9 0h3v16h-3zm54 0h6v16h-6zm66 0h3v16h-3zm9 0h11v16h-11zm175 0h6v16h-6zm-450 -15h6v15h-6zm111 -32h3v47h-3zm9 32h6v15h-6zm32 0h3v15h-3zm102 -16h6v31h-6zm26 16h6v15h-6zm120 -16h3v31h-3zm6 16h3v15h-3zm18 -32h6v47h-6zm8 -31h3v78h-3zm-393 -16h6v79h-6zm18 63h3v16h-3zm6 0h6v16h-6zm12 -16h6v32h-6zm39 -15h6v47h-6zm17 31h9v16h-9zm87 0h12v16h-12zm48 0h3v16h-3zm26 0h6v16h-6zm60 0h3v16h-3zm27 -16h3v32h-3zm36 16h3v16h-3zm35 -16h6v32h-6zm27 16h6v16h-6zm-489 -31h6v31h-6zm84 0h3v31h-3zm33 -32h3v63h-3zm15 47h6v16h-6zm26 -15h3v31h-3zm6 15h3v16h-3zm128 -15h6v31h-6zm126 15h3v16h-3zm50 -31h6v47h-6zm27 31h3v16h-3zm-483 -31h6v31h-6zm57 16h3v15h-3zm69 0h5v15h-5zm259 -63h6v78h-6zm-391 47h6v16h-6zm66 -47h3v63h-3zm15 31h6v32h-6zm12 16h3v16h-3zm24 0h3v16h-3zm77 0h12v16h-12zm247 -16h3v32h-3zm51 16h3v16h-3zm-429 -16h3v16h-3zm89 0h3v16h-3zm6 0h6v16h-6zm36 -15h6v31h-6zm21 15h3v16h-3zm71 0h6v16h-6zm72 0h3v16h-3zm27 -31h3v47h-3zm21 31h3v16h-3zm6 0h3v16h-3zm6 0h3v16h-3zm65 0h6v16h-6zm-363 -15h6v15h-6zm110 0h9v15h-9zm95 -16h6v31h-6zm-295 0h6v16h-6zm48 0h15v16h-15zm33 0h3v16h-3zm6 0h3v16h-3zm20 0h6v16h-6zm87 0h12v16h-12zm54 0h3v16h-3zm41 0h6v16h-6zm87 0h3v16h-3zm6 0h3v16h-3zm18 0h6v16h-6zm8 0h6v16h-6zm33 0h6v16h-6z"/><path fill="#fff9bd" d="M942 387h3v31h-3zm30 15h6v16h-6zm152 0h3v16h-3zm27 0h6v16h-6zm36 0h6v16h-6zm113 0h3v16h-3zm15 -78h3v94h-3zm15 -16h6v110h-6zm39 94h2v16h-2zm14 0h6v16h-6zm36 -31h3v47h-3zm15 16h6v31h-6zm-489 0h6v15h-6zm24 -63h3v78h-3zm21 47h6v31h-6zm250 16h6v15h-6zm-286 -16h6v16h-6zm170 0h3v16h-3zm224 0h3v16h-3zm21 -31h2v47h-2zm59 31h9v16h-9zm-474 -16h3v16h-3zm18 -31h6v47h-6zm236 31h3v16h-3zm74 0h6v16h-6zm60 0h3v16h-3zm92 0h6v16h-6zm-310 -47h3v47h-3zm140 32h6v15h-6zm36 -32h3v47h-3zm77 32h12v15h-12zm57 -32h3v47h-3zm-489 16h6v16h-6zm143 -16h3v32h-3zm15 0h6v32h-6zm137 16h6v16h-6zm42 0h6v16h-6zm95 -16h6v32h-6zm60 0h3v32h-3zm-516 0h3v16h-3zm36 0h3v16h-3zm27 0h12v16h-12zm60 0h6v16h-6zm65 0h9v16h-9zm63 0h3v16h-3zm176 0h3v16h-3zm21 0h2v16h-2zm47 0h3v16h-3zm-334 -15h3v15h-3zm63 0h3v15h-3zm-227 -63h3v16h-3zm75 0h3v16h-3zm444 0h3v16h-3zm-453 -32h6v32h-6zm48 0h3v32h-3zm9 -15h6v47h-6zm41 15h3v32h-3zm27 16h6v16h-6zm99 0h3v16h-3zm56 -31h6v47h-6zm15 31h9v16h-9zm15 0h3v16h-3zm12 -16h3v32h-3zm36 0h3v32h-3zm6 16h3v16h-3zm65 0h3v16h-3zm-492 -31h3v31h-3zm24 0h6v31h-6zm30 15h3v16h-3zm15 0h6v16h-6zm98 -15h3v31h-3zm27 15h12v16h-12zm30 -31h3v47h-3zm42 31h6v16h-6zm98 0h3v16h-3zm92 0h3v16h-3zm39 0h6v16h-6zm-337 -15h3v15h-3zm30 -16h6v31h-6zm12 16h6v15h-6zm173 -16h6v31h-6zm119 16h3v15h-3zm15 0h6v15h-6zm-453 -16h3v16h-3zm15 0h6v16h-6zm125 0h6v16h-6zm36 -31h6v47h-6zm30 31h6v16h-6zm47 -16h3v32h-3zm9 16h3v16h-3zm42 -31h3v47h-3zm27 31h3v16h-3zm71 0h6v16h-6zm57 0h6v16h-6zm-513 -16h3v16h-3zm21 0h3v16h-3zm27 -15h6v31h-6zm15 15h6v16h-6zm104 0h3v16h-3zm84 0h3v16h-3zm15 0h6v16h-6zm53 0h6v16h-6zm45 0h3v16h-3zm9 -15h3v31h-3zm48 15h3v16h-3zm27 0h2v16h-2zm44 0h9v16h-9zm15 -15h3v31h-3zm-396 0h3v15h-3zm47 -16h3v31h-3zm30 16h12v15h-12zm36 0h3v15h-3zm161 0h3v15h-3zm9 0h3v15h-3zm62 -47h3v62h-3zm54 47h9v15h-9zm-486 -16h6v16h-6zm39 -16h12v32h-12zm51 16h12v16h-12zm47 0h3v16h-3zm6 0h3v16h-3zm140 -47h3v63h-3zm9 47h3v16h-3zm143 0h3v16h-3zm33 -31h3v47h-3zm-459 0h6v31h-6zm81 15h6v16h-6zm86 0h6v16h-6zm119 -15h6v31h-6zm39 15h6v16h-6zm15 -15h3v31h-3zm12 -47h3v78h-3zm104 62h3v16h-3zm18 -15h6v31h-6zm-483 0h6v15h-6zm30 0h3v15h-3zm57 0h3v15h-3zm50 -16h3v31h-3zm6 0h3v31h-3zm27 0h6v31h-6zm30 0h3v31h-3zm6 16h6v15h-6zm21 -32h3v47h-3zm9 0h6v47h-6zm98 32h3v15h-3zm36 -16h3v31h-3zm65 16h3v15h-3zm-396 -16h6v16h-6zm51 -16h6v32h-6zm68 16h12v16h-12zm18 0h6v16h-6zm66 -16h6v32h-6zm98 16h3v16h-3zm12 0h3v16h-3zm119 0h6v16h-6zm-474 -31h3v31h-3zm12 -16h6v47h-6zm15 16h6v31h-6zm21 15h6v16h-6zm42 -15h3v31h-3zm15 15h3v16h-3zm32 -15h3v31h-3zm24 15h6v16h-6zm48 0h6v16h-6zm89 -15h6v31h-6zm42 -16h3v47h-3zm87 16h2v31h-2zm41 -16h3v47h-3zm18 16h6v31h-6zm-507 -16h3v31h-3zm120 16h6v15h-6zm74 0h6v15h-6zm122 -16h3v31h-3zm27 16h6v15h-6zm15 0h3v15h-3zm6 0h3v15h-3zm45 -16h6v31h-6zm12 16h3v15h-3zm6 0h3v15h-3zm32 -16h9v31h-9zm33 0h3v31h-3zm-378 0h6v16h-6zm47 0h3v16h-3zm6 0h3v16h-3zm21 0h6v16h-6zm36 0h3v16h-3zm6 0h6v16h-6zm21 0h3v16h-3zm15 0h6v16h-6zm107 0h12v16h-12zm122 0h6v16h-6zm15 0h3v16h-3z"/><path fill="#fff2ad" d="M1047 387h3v31h-3zm47 0h3v31h-3zm251 15h3v16h-3zm-373 -31h6v31h-6zm185 0h3v31h-3zm143 16h3v15h-3zm-134 -32h6v32h-6zm21 -47h6v79h-6zm158 63h3v16h-3zm-298 -47h3v47h-3zm38 31h3v16h-3zm9 -31h3v47h-3zm206 31h3v16h-3zm-298 -47h6v47h-6zm343 32h3v15h-3zm-254 -16h3v16h-3zm69 0h3v16h-3zm-248 -31h6v15h-6zm12 0h6v15h-6zm21 0h9v15h-9zm15 0h9v15h-9zm30 0h6v15h-6zm9 0h6v15h-6zm15 0h6v15h-6zm24 0h6v15h-6zm9 0h6v15h-6zm12 0h6v15h-6zm14 0h6v15h-6zm15 0h6v15h-6zm12 0h9v15h-9zm60 0h6v15h-6zm12 0h9v15h-9zm15 0h3v15h-3zm53 0h6v15h-6zm12 0h6v15h-6zm15 0h3v15h-3zm12 0h3v15h-3zm36 0h9v15h-9zm18 0h6v15h-6zm21 0h3v15h-3zm15 0h2v15h-2zm8 0h15v15h-15zm33 0h6v15h-6zm27 0h9v15h-9zm-396 -63h3v31h-3zm95 0h3v31h-3zm83 16h3v15h-3zm84 -16h3v31h-3zm68 16h3v15h-3zm-405 -16h3v16h-3zm15 0h6v16h-6zm18 0h9v16h-9zm24 0h3v16h-3zm9 0h3v16h-3zm15 0h3v16h-3zm38 0h3v16h-3zm9 0h3v16h-3zm15 0h6v16h-6zm9 0h9v16h-9zm15 0h3v16h-3zm72 -16h3v32h-3zm32 16h6v16h-6zm18 0h3v16h-3zm24 0h6v16h-6zm15 0h3v16h-3zm6 0h3v16h-3zm6 0h3v16h-3zm68 0h6v16h-6zm15 0h3v16h-3zm51 -16h3v32h-3zm-516 0h3v16h-3zm9 0h3v16h-3zm42 0h3v16h-3zm84 0h6v16h-6zm128 0h6v16h-6zm27 0h5v16h-5zm17 0h6v16h-6zm15 -16h6v32h-6zm75 16h3v16h-3zm39 -16h3v32h-3zm35 16h3v16h-3zm48 0h3v16h-3zm-504 -47h6v47h-6zm96 31h6v16h-6zm265 0h6v16h-6zm39 0h3v16h-3zm9 0h6v16h-6zm15 0h6v16h-6zm62 0h9v16h-9zm-471 -15h6v15h-6zm54 0h6v15h-6zm12 -16h6v31h-6zm77 16h6v15h-6zm18 0h6v15h-6zm24 -16h6v31h-6zm18 0h6v31h-6zm18 16h6v15h-6zm18 0h6v15h-6zm15 -47h6v62h-6zm107 47h6v15h-6zm21 0h3v15h-3zm6 0h6v15h-6zm12 0h3v15h-3zm15 -16h5v31h-5zm20 0h6v31h-6zm12 -16h3v47h-3zm-477 16h3v16h-3zm9 0h6v16h-6zm45 0h12v16h-12zm51 0h6v16h-6zm30 0h6v16h-6zm20 0h6v16h-6zm54 -31h6v47h-6zm30 31h12v16h-12zm83 -16h6v32h-6zm18 16h6v16h-6zm96 0h3v16h-3zm53 0h3v16h-3zm-486 -16h6v16h-6zm33 0h3v16h-3zm15 -15h3v31h-3zm15 15h6v16h-6zm12 0h9v16h-9zm92 0h9v16h-9zm21 0h6v16h-6zm30 0h6v16h-6zm170 0h6v16h-6zm39 0h3v16h-3zm9 0h6v16h-6zm11 0h6v16h-6zm57 0h3v16h-3zm9 -31h6v47h-6zm-516 -47h3v78h-3zm9 63h6v15h-6zm51 0h6v15h-6zm18 0h6v15h-6zm63 -16h5v31h-5zm17 16h3v15h-3zm15 0h6v15h-6zm66 0h12v15h-12zm51 -16h5v31h-5zm11 16h6v15h-6zm15 -16h6v31h-6zm24 -47h6v78h-6zm57 63h3v15h-3zm89 0h3v15h-3zm-471 -32h6v32h-6zm15 16h9v16h-9zm57 0h3v16h-3zm18 -16h6v32h-6zm74 16h6v16h-6zm12 0h6v16h-6zm24 -16h6v32h-6zm30 0h6v32h-6zm12 16h6v16h-6zm18 0h6v16h-6zm86 -31h6v47h-6zm15 31h6v16h-6zm36 -16h3v32h-3zm6 16h6v16h-6zm83 0h6v16h-6zm-417 -16h3v16h-3zm71 -15h3v31h-3zm18 0h6v31h-6zm12 15h6v16h-6zm48 0h12v16h-12zm51 0h6v16h-6zm89 0h3v16h-3zm51 0h6v16h-6zm86 0h6v16h-6zm-474 -15h9v15h-9zm42 0h6v15h-6zm18 -16h6v31h-6zm15 16h6v15h-6zm24 -16h6v31h-6zm44 16h6v15h-6zm72 0h6v15h-6zm39 0h5v15h-5zm128 -16h6v31h-6zm12 16h3v15h-3zm35 0h6v15h-6zm-429 -16h3v16h-3zm69 0h6v16h-6zm134 -16h6v32h-6zm42 16h9v16h-9zm35 0h6v16h-6zm39 0h3v16h-3zm12 0h6v16h-6zm30 0h3v16h-3zm80 -31h3v47h-3zm21 15h3v32h-3zm-414 -15h3v31h-3zm45 15h6v16h-6zm29 0h3v16h-3zm33 0h6v16h-6zm24 -15h6v31h-6zm18 15h6v16h-6zm18 0h6v16h-6zm50 -31h6v47h-6zm33 31h6v16h-6zm42 0h6v16h-6zm30 0h6v16h-6zm24 0h3v16h-3zm-391 -15h6v15h-6zm87 0h3v15h-3zm9 0h6v15h-6zm29 0h6v15h-6zm9 0h12v15h-12zm36 0h6v15h-6zm12 0h6v15h-6zm48 0h12v15h-12zm15 0h17v15h-17zm83 0h6v15h-6zm45 0h3v15h-3zm38 0h6v15h-6zm-390 -16h6v16h-6zm18 0h6v16h-6zm24 0h9v16h-9zm50 0h3v16h-3zm18 0h3v16h-3zm9 0h6v16h-6zm12 0h6v16h-6zm66 0h6v16h-6zm83 0h6v16h-6zm15 0h3v16h-3zm6 0h6v16h-6zm21 0h3v16h-3zm15 0h3v16h-3zm27 0h9v16h-9zm12 0h3v16h-3zm65 0h6v16h-6zm15 0h6v16h-6z"/><path fill="#ffec9e" d="M1085 371h3v47h-3zm72 31h3v16h-3zm-113 -31h6v16h-6zm50 0h3v16h-3zm206 0h3v16h-3zm-143 -16h3v16h-3zm262 0h3v16h-3zm-411 -31h6v31h-6zm-72 -31h6v15h-6zm36 0h6v15h-6zm12 0h6v15h-6zm42 0h6v15h-6zm86 0h3v15h-3zm21 0h12v15h-12zm24 0h3v15h-3zm24 0h6v15h-6zm9 0h6v15h-6zm21 0h6v15h-6zm47 0h9v15h-9zm24 0h9v15h-9zm24 0h3v15h-3zm54 0h3v15h-3zm68 0h3v15h-3zm-504 -47h6v15h-6zm24 -16h3v31h-3zm81 16h9v15h-9zm113 0h3v15h-3zm15 0h3v15h-3zm12 0h3v15h-3zm48 0h2v15h-2zm5 0h3v15h-3zm39 0h3v15h-3zm33 0h6v15h-6zm21 0h6v15h-6zm51 0h5v15h-5zm62 0h3v15h-3zm-489 -16h3v16h-3zm15 0h6v16h-6zm111 0h2v16h-2zm8 0h6v16h-6zm42 0h3v16h-3zm45 0h6v16h-6zm36 0h9v16h-9zm12 0h6v16h-6zm11 0h3v16h-3zm27 0h3v16h-3zm18 0h6v16h-6zm63 0h3v16h-3zm42 0h2v16h-2zm-293 -32h3v32h-3zm21 16h6v16h-6zm6 -16h6v16h-6zm66 -15h6v31h-6zm39 15h6v16h-6zm38 -15h12v15h-12zm33 0h3v15h-3zm69 -32h6v47h-6zm-340 16h3v16h-3zm95 -31h6v47h-6zm233 31h3v16h-3zm-307 -16h6v16h-6zm12 -15h6v31h-6zm38 15h3v16h-3zm173 -15h6v31h-6zm54 15h3v16h-3zm54 -31h3v47h-3zm44 31h6v16h-6zm-396 -15h3v15h-3zm238 0h6v15h-6zm39 0h6v15h-6zm-140 -32h6v32h-6zm203 16h6v16h-6zm-272 -16h3v16h-3zm27 0h6v16h-6zm96 0h6v16h-6zm53 -15h6v31h-6zm-244 -16h3v31h-3zm238 16h6v15h-6zm102 -16h6v31h-6zm-269 0h3v16h-3zm-158 -16h6v16h-6zm287 0h6v16h-6zm38 0h6v16h-6zm39 0h6v16h-6zm51 0h3v16h-3zm104 0h6v16h-6zm-24 -15h6v15h-6zm-477 -16h3v16h-3zm36 0h3v16h-3zm158 0h6v16h-6z"/><path fill="#ffe590" d="M918 293h3v15h-3zm36 0h6v15h-6zm57 0h3v15h-3zm21 0h6v15h-6zm47 0h3v15h-3zm15 0h6v15h-6zm15 0h3v15h-3zm12 0h6v15h-6zm27 0h9v15h-9zm18 0h6v15h-6zm30 0h6v15h-6zm21 0h5v15h-5zm11 0h3v15h-3zm6 0h6v15h-6zm57 0h15v15h-15zm33 0h3v15h-3zm6 0h3v15h-3zm12 0h12v15h-12zm21 0h6v15h-6zm29 0h18v15h-18zm30 0h6v15h-6zm9 0h6v15h-6zm-516 -47h6v15h-6zm54 0h3v15h-3zm12 0h3v15h-3zm24 0h6v15h-6zm12 0h12v15h-12zm83 0h3v15h-3zm6 -32h3v47h-3zm12 32h3v15h-3zm36 0h3v15h-3zm36 0h9v15h-9zm134 -16h3v31h-3zm15 16h3v15h-3zm6 0h9v15h-9zm44 0h3v15h-3zm-462 -16h6v16h-6zm15 0h3v16h-3zm36 0h3v16h-3zm57 0h6v16h-6zm15 0h3v16h-3zm38 0h6v16h-6zm15 -16h3v32h-3zm36 16h3v16h-3zm9 0h3v16h-3zm9 0h3v16h-3zm9 0h3v16h-3zm48 0h5v16h-5zm17 0h6v16h-6zm12 0h3v16h-3zm15 0h6v16h-6zm72 0h3v16h-3zm15 0h3v16h-3zm35 0h3v16h-3zm30 0h6v16h-6zm9 0h3v16h-3zm-456 -16h6v16h-6zm84 0h3v16h-3zm74 0h3v16h-3zm24 0h3v16h-3zm221 0h3v16h-3zm32 0h3v16h-3zm12 0h3v16h-3zm-402 -16h3v16h-3zm89 0h6v16h-6zm6 -15h6v15h-6zm-140 -79h6v79h-6zm78 63h6v16h-6zm56 0h6v16h-6zm155 0h6v16h-6zm152 0h6v16h-6zm-68 -31h3v31h-3zm12 0h6v15h-6zm56 -63h6v78h-6zm-396 47h3v16h-3zm200 0h6v16h-6zm38 0h12v16h-12zm0 -16h6v16h-6zm114 0h3v16h-3zm-152 -15h6v15h-6zm38 -16h12v16h-12zm6 -16h6v16h-6zm-6 -15h6v15h-6z"/><path fill="#fede81" d="M1020 293h6v15h-6zm45 0h5v15h-5zm50 0h6v15h-6zm93 0h3v15h-3zm163 0h3v15h-3zm-429 -16h3v16h-3zm125 0h3v16h-3zm-128 -31h9v15h-9zm12 0h6v15h-6zm24 0h6v15h-6zm15 -16h3v31h-3zm48 16h3v15h-3zm12 0h3v15h-3zm41 0h9v15h-9zm18 0h3v15h-3zm24 0h3v15h-3zm54 0h3v15h-3zm62 0h3v15h-3zm30 0h3v15h-3zm42 0h3v15h-3zm53 0h3v15h-3zm18 0h3v15h-3zm15 0h6v15h-6zm33 0h3v15h-3zm-504 -16h3v16h-3zm24 0h6v16h-6zm12 0h6v16h-6zm15 0h3v16h-3zm30 0h6v16h-6zm9 0h6v16h-6zm30 0h3v16h-3zm11 0h6v16h-6zm12 0h6v16h-6zm18 0h3v16h-3zm93 0h6v16h-6zm62 0h3v16h-3zm33 0h6v16h-6zm12 0h3v16h-3zm18 0h3v16h-3zm24 0h6v16h-6zm27 0h3v16h-3zm38 0h3v16h-3zm12 0h3v16h-3zm6 0h9v16h-9zm21 0h3v16h-3zm-435 -16h6v16h-6zm107 0h3v16h-3zm248 0h3v16h-3zm62 0h3v16h-3zm-462 -16h6v16h-6zm420 -47h6v32h-6zm-23 -62h3v15h-3zm23 -32h6v32h-6zm21 -15h6v31h-6z"/><path fill="#fed672" d="M1041 277h3v16h-3zm86 0h3v16h-3zm-170 -31h6v15h-6zm45 0h3v15h-3zm9 0h6v15h-6zm36 0h3v15h-3zm137 -16h3v31h-3zm15 16h3v15h-3zm32 0h6v15h-6zm15 0h3v15h-3zm60 0h3v15h-3zm24 0h3v15h-3zm107 0h3v15h-3zm-522 -16h3v16h-3zm36 0h3v16h-3zm57 0h3v16h-3zm51 0h6v16h-6zm119 0h6v16h-6zm9 0h3v16h-3zm104 0h3v16h-3zm80 0h3v16h-3zm15 0h3v16h-3zm6 0h6v16h-6zm15 0h3v16h-3zm-471 -16h3v16h-3zm221 0h6v16h-6zm12 0h6v16h-6zm259 0h3v16h-3zm-465 -31h6v15h-6z"/><path fill="#fec864" d="M1294 277h3v16h-3zm30 0h3v16h-3zm-361 -31h6v15h-6zm24 0h3v15h-3zm69 0h9v15h-9zm14 0h12v15h-12zm42 0h6v15h-6zm54 0h3v15h-3zm15 0h3v15h-3zm56 0h6v15h-6zm15 0h6v15h-6zm12 0h3v15h-3zm36 0h3v15h-3zm42 0h3v15h-3zm18 0h6v15h-6zm38 0h9v15h-9zm15 0h6v15h-6zm9 0h6v15h-6zm-247 -16h3v16h-3zm50 0h6v16h-6zm176 0h3v16h-3zm-18 -16h6v16h-6z"/><path fill="#feba55" d="M921 246h3v15h-3zm161 0h3v15h-3zm39 0h6v15h-6zm24 0h3v15h-3zm122 0h3v15h-3zm66 0h3v15h-3zm21 0h3v15h-3zm65 0h3v15h-3zm-268 -16h6v16h-6zm18 0h6v16h-6zm53 0h3v16h-3zm27 0h3v16h-3zm72 0h3v16h-3zm39 0h6v16h-6z"/><path fill="#fead4a" d="M969 230h3v16h-3zm173 0h6v16h-6zm289 0h6v16h-6z"/><path fill="#fea044" d="M912 387h6v31h-6zm96 -126h3v16h-3zm-15 -15h3v15h-3zm179 0h9v15h-9zm42 0h3v15h-3zm181 0h3v15h-3zm48 0h3v15h-3zm-531 -16h3v16h-3zm33 0h3v16h-3z"/><path fill="#fd933f" d="M948 261h3v16h-3zm33 0h3v16h-3zm39 0h3v16h-3zm6 0h3v16h-3zm56 0h6v16h-6zm12 0h6v16h-6zm69 0h3v16h-3zm92 0h3v16h-3zm18 0h3v16h-3zm-301 -15h3v15h-3zm113 0h6v15h-6zm75 0h3v15h-3zm-60 -16h3v16h-3zm233 0h6v16h-6zm65 0h3v16h-3z"/><path fill="#fd8239" d="M1300 277h3v16h-3zm89 0h3v16h-3zm-167 -16h3v16h-3zm45 0h6v16h-6zm99 0h3v16h-3zm-203 -15h3v15h-3zm119 0h6v15h-6zm54 0h3v15h-3zm41 0h6v15h-6zm54 0h6v15h-6z"/><path fill="#fc6c33" d="M972 261h6v16h-6zm274 0h9v16h-9zm12 0h9v16h-9zm18 0h3v16h-3zm42 0h6v16h-6zm-253 -15h5v15h-5zm137 0h12v15h-12z"/><path fill="#fc562c" d="M1026 277h6v16h-6zm18 0h15v16h-15zm-108 -16h6v16h-6zm24 0h9v16h-9zm218 0h3v16h-3zm6 0h3v16h-3zm41 0h3v16h-3zm69 0h6v16h-6zm104 0h3v16h-3z"/><path fill="#f74327" d="M951 261h9v16h-9zm18 0h3v16h-3zm33 0h6v16h-6zm226 0h6v16h-6zm-298 -15h3v15h-3zm123 -48h3v63h-3zm74 48h6v15h-6zm116 0h3v15h-3z"/><path fill="#ee3122" d="M915 261h3v16h-3zm173 0h6v16h-6zm15 0h3v16h-3zm9 0h6v16h-6zm18 0h3v16h-3zm42 0h6v16h-6zm-188 -15h3v15h-3zm155 0h3v15h-3zm9 0h6v15h-6zm110 0h3v15h-3zm30 0h6v15h-6z"/><path fill="#e51f1d" d="M912 261h3v32h-3zm21 0h3v16h-3zm9 0h6v16h-6zm134 0h3v16h-3zm33 0h3v16h-3zm24 0h3v16h-3zm101 0h6v16h-6zm-9 -15h6v15h-6zm158 0h6v15h-6z"/><path fill="#d9131f" d="M978 261h3v16h-3zm6 0h6v16h-6zm12 0h6v16h-6zm83 0h3v16h-3zm27 0h3v16h-3zm12 0h6v16h-6zm63 0h3v16h-3zm6 0h6v16h-6zm32 0h3v16h-3zm21 0h6v16h-6zm-328 -15h3v15h-3zm191 0h3v15h-3zm224 0h3v15h-3z"/><path fill="#cc0a22" d="M933 246h6v15h-6zm63 0h6v15h-6z"/><path fill="#bf0126" d="M1309 387h6v31h-6zm-295 -126h6v16h-6zm140 0h3v16h-3zm39 0h3v16h-3z"/><path fill="#aa0026" d="M1309 324h6v47h-6zm-340 -47h3v31h-3zm101 16h3v15h-3zm304 -16h3v31h-3zm42 16h3v15h-3zm-357 -16h6v16h-6zm-69 -16h6v16h-6zm21 0h3v16h-3zm125 0h6v16h-6zm30 0h6v16h-6zm143 -172h6v47h-6z"/><path fill="#950026" d="M915 277h27v16h-27zm30 0h24v16h-24zm27 0h54v16h-54zm60 -16h9v32h-9zm33 0h2v32h-2zm5 16h57v16h-57zm60 0h164v16h-164zm167 0h3v16h-3zm6 0h21v16h-21zm24 0h47v16h-47zm50 -16h12v32h-12zm15 16h54v16h-54zm-474 -16h15v16h-15zm105 0h3v16h-3zm6 0h3v16h-3zm12 0h24v16h-24zm26 0h9v16h-9zm33 0h3v16h-3zm24 0h6v16h-6zm18 0h12v16h-12zm15 0h6v16h-6zm39 0h23v16h-23zm83 0h15v16h-15zm21 0h18v16h-18zm24 0h42v16h-42zm45 0h8v16h-8zm20 0h9v16h-9zm12 0h45v16h-45zm-53 -31h9v16h-9zm-39 -204h6v63h-6z"/></g></g>
<rect x="912.5" y="39.5" width="533.5" height="376.5" fill="none" stroke="#8a8a7a" stroke-width="1.3"/>
<path d="M912.5 416v-5M912.5 39.5v5M972.1 416v-5M972.1 39.5v5M1031.7 416v-5M1031.7 39.5v5M1091.3 416v-5M1091.3 39.5v5M1150.9 416v-5M1150.9 39.5v5M1210.5 416v-5M1210.5 39.5v5M1270.2 416v-5M1270.2 39.5v5M1329.8 416v-5M1329.8 39.5v5M1389.4 416v-5M1389.4 39.5v5M912.5 416h5M1446 416h-5M912.5 374.2h5M1446 374.2h-5M912.5 332.3h5M1446 332.3h-5M912.5 290.5h5M1446 290.5h-5M912.5 248.7h5M1446 248.7h-5M912.5 206.8h5M1446 206.8h-5M912.5 165h5M1446 165h-5M912.5 123.2h5M1446 123.2h-5M912.5 81.3h5M1446 81.3h-5M912.5 39.5h5M1446 39.5h-5" stroke="#8a8a7a" stroke-width="1.2" fill="none"/>
<g font-size="19.2" fill="#4a4a4a" text-anchor="end"><text x="907" y="422.4">80</text><text x="907" y="380.6">90</text><text x="907" y="338.8">100</text><text x="907" y="296.9">110</text><text x="907" y="255.1">120</text><text x="907" y="213.3">130</text><text x="907" y="171.4">140</text><text x="907" y="129.6">150</text><text x="907" y="87.8">160</text><text x="907" y="45.9">170</text></g><g font-size="19.2" fill="#4a4a4a" text-anchor="middle"><text x="912.5" y="441.5">2</text><text x="972.1" y="441.5">2.2</text><text x="1031.7" y="441.5">2.4</text><text x="1091.3" y="441.5">2.6</text><text x="1150.9" y="441.5">2.8</text><text x="1210.5" y="441.5">3</text><text x="1270.2" y="441.5">3.2</text><text x="1329.8" y="441.5">3.4</text><text x="1389.4" y="441.5">3.6</text></g>
<text x="1106.3" y="465.8" font-size="22.4" fill="#4a4a4a">Frequency/MHz</text>
<text transform="translate(866.5,227.8) rotate(-90)" text-anchor="middle" font-size="22.6" fill="#4a4a4a">Virtual Height/km</text>
<g font-size="35.6" fill="#1e1e1e"><text x="982.2" y="109.8">2021-06-08</text><text x="1194.2" y="109.8">22:20:14</text></g>
<linearGradient id="ga2" x1="0" y1="1" x2="0" y2="0"><stop offset="0.000" stop-color="#ffffcc"/><stop offset="0.125" stop-color="#ffeda0"/><stop offset="0.250" stop-color="#fed976"/><stop offset="0.375" stop-color="#feb24c"/><stop offset="0.500" stop-color="#fd8d3c"/><stop offset="0.625" stop-color="#fc4e2a"/><stop offset="0.750" stop-color="#e31a1c"/><stop offset="0.875" stop-color="#bd0026"/><stop offset="1.000" stop-color="#800026"/></linearGradient>
<rect x="1457.6" y="40" width="22.9" height="373.6" fill="url(#ga2)" stroke="#8a8a7a" stroke-width="1.2"/>
<path d="M1480.5 376.2h-3.5M1480.5 338.9h-3.5M1480.5 301.5h-3.5M1480.5 264.2h-3.5M1480.5 226.8h-3.5M1480.5 189.4h-3.5M1480.5 152.1h-3.5M1480.5 114.7h-3.5M1480.5 77.4h-3.5M1480.5 40h-3.5" stroke="#8a8a7a" stroke-width="1"/>
<g font-size="16" fill="#4a4a4a"><text x="1485.5" y="381.6">0.1</text><text x="1485.5" y="344.2">0.2</text><text x="1485.5" y="306.9">0.3</text><text x="1485.5" y="269.5">0.4</text><text x="1485.5" y="232.2">0.5</text><text x="1485.5" y="194.8">0.6</text><text x="1485.5" y="157.4">0.7</text><text x="1485.5" y="120.1">0.8</text><text x="1485.5" y="82.7">0.9</text><text x="1485.5" y="45.4">1</text></g>
<text x="1469" y="30" text-anchor="middle" font-size="18.4" fill="#4a4a4a">Normalized Energy</text>
<clipPath id="ca3"><rect x="168" y="517" width="542.5" height="381.5"/></clipPath>
<g clip-path="url(#ca3)"><g filter="url(#bl1)"><path fill="#ffffcc" d="M216 503h7v398h-7zm13 0h6v398h-6zm21 0h12v398h-12zm18 0h12v398h-12zm61 0h6v398h-6zm12 0h3v398h-3zm15 0h12v398h-12zm24 0h6v398h-6zm27 0h6v398h-6zm28 0h15v398h-15zm27 0h6v398h-6zm24 0h6v398h-6zm28 0h6v398h-6zm36 0h6v398h-6zm36 0h6v398h-6zm28 0h6v398h-6zm30 0h9v398h-9zm18 0h3v398h-3zm9 0h3v398h-3zm18 0h6v398h-6z"/><path fill="#fff9bd" d="M198 503h6v398h-6zm15 0h3v398h-3zm10 0h6v398h-6zm18 0h9v398h-9zm21 0h6v398h-6zm18 0h37v398h-37zm40 0h6v398h-6zm15 0h6v398h-6zm9 0h12v398h-12zm24 0h12v398h-12zm18 0h21v398h-21zm27 0h22v398h-22zm37 0h6v398h-6zm18 0h18v398h-18zm24 0h22v398h-22zm28 0h9v398h-9zm18 0h12v398h-12zm18 0h30v398h-30zm36 0h22v398h-22zm28 0h3v398h-3zm6 0h18v398h-18zm27 0h9v398h-9zm12 0h6v398h-6zm9 0h15v398h-15zm21 0h15v398h-15z"/><path fill="#fff2ad" d="M180 503h12v398h-12z"/><path fill="#ffec9e" d="M168 503h12v398h-12zm24 0h6v398h-6zm15 0h6v398h-6zm28 0h6v398h-6zm82 0h3v398h-3zm9 0h3v398h-3zm130 0h6v398h-6zm73 0h9v398h-9z"/><path fill="#ffe590" d="M204 503h3v398h-3z"/><path fill="#fc6c33" d="M623 503h3v398h-3z"/><path fill="#ffffcc" d="M344 869h6v32h-6zm112 16h6v16h-6zm70 -16h3v32h-3zm30 16h3v16h-3zm27 0h3v16h-3zm-303 -16h9v16h-9zm33 0h7v16h-7zm13 0h3v16h-3zm97 0h3v16h-3zm30 0h3v16h-3zm27 0h6v16h-6zm40 -32h6v48h-6zm21 32h3v16h-3zm54 0h6v16h-6zm70 -16h6v32h-6zm-279 0h6v16h-6zm-103 -16h6v16h-6zm43 0h3v16h-3zm18 0h6v16h-6zm112 -16h6v32h-6zm24 16h6v16h-6zm61 0h3v16h-3zm-297 -32h6v32h-6zm312 16h3v16h-3zm-315 -16h3v16h-3zm79 0h9v16h-9zm15 0h6v16h-6zm206 -16h3v32h-3zm24 0h6v32h-6zm100 0h6v32h-6zm-339 0h3v16h-3zm18 0h6v16h-6zm351 0h3v16h-3zm-415 -111h3v32h-3zm46 16h3v16h-3zm339 0h6v16h-6zm-424 -16h3v16h-3zm42 -16h6v32h-6zm37 -16h6v48h-6zm103 32h3v16h-3zm57 0h6v16h-6zm91 0h6v16h-6zm124 -48h3v64h-3zm-497 32h6v16h-6zm46 -48h6v64h-6zm91 48h6v16h-6zm9 0h6v16h-6zm48 0h3v16h-3zm134 0h3v16h-3zm39 0h6v16h-6zm100 0h6v16h-6zm-385 -16h3v16h-3zm173 -47h3v63h-3zm39 47h3v16h-3zm49 0h3v16h-3zm-21 -16h6v16h-6zm145 -16h6v32h-6zm12 16h3v16h-3zm-436 -16h3v16h-3zm300 0h3v16h-3zm-343 -15h6v15h-6zm146 -16h6v31h-6zm136 0h6v31h-6zm179 0h3v31h-3zm36 -16h3v47h-3zm-451 0h6v32h-6zm39 16h6v16h-6zm173 -16h6v32h-6zm209 16h6v16h-6zm-467 -16h6v16h-6zm188 0h6v16h-6zm155 -32h3v48h-3zm24 16h6v32h-6zm-282 0h6v16h-6zm170 0h3v16h-3zm27 0h6v16h-6zm-154 -48h3v48h-3zm130 32h6v16h-6zm115 0h6v16h-6zm-79 -16h3v16h-3zm28 0h6v16h-6zm-276 -16h6v16h-6zm91 0h6v16h-6zm121 0h6v16h-6zm70 0h3v16h-3zm169 0h6v16h-6z"/><path fill="#fff9bd" d="M180 885h6v16h-6zm24 0h3v16h-3zm31 -96h6v112h-6zm21 96h6v16h-6zm12 0h12v16h-12zm49 0h3v16h-3zm9 0h3v16h-3zm36 0h6v16h-6zm18 -32h6v48h-6zm55 32h6v16h-6zm9 0h6v16h-6zm106 0h6v16h-6zm64 -16h6v32h-6zm30 0h6v32h-6zm27 16h3v16h-3zm-503 -32h6v32h-6zm61 16h6v16h-6zm212 0h3v16h-3zm15 -16h6v32h-6zm194 16h3v16h-3zm12 0h3v16h-3zm-345 -80h3v80h-3zm9 64h3v16h-3zm81 0h6v16h-6zm28 -32h6v48h-6zm51 32h6v16h-6zm28 -16h6v32h-6zm36 -32h6v64h-6zm-334 32h7v16h-7zm13 0h6v16h-6zm357 0h6v16h-6zm28 0h6v16h-6zm36 0h3v16h-3zm12 -16h3v32h-3zm-482 0h6v16h-6zm24 -16h3v32h-3zm64 0h6v32h-6zm58 16h3v16h-3zm54 -16h6v32h-6zm264 16h6v16h-6zm-476 -16h6v16h-6zm24 -16h6v32h-6zm322 0h6v32h-6zm-328 0h6v16h-6zm30 0h7v16h-7zm58 0h6v16h-6zm133 0h6v16h-6zm79 0h6v16h-6zm158 0h6v16h-6zm45 0h6v16h-6zm-518 -63h3v16h-3zm21 0h6v16h-6zm134 0h3v16h-3zm227 0h3v16h-3zm-303 -64h3v64h-3zm109 48h6v16h-6zm88 0h3v16h-3zm167 0h6v16h-6zm75 0h6v16h-6zm-509 -16h12v16h-12zm55 0h6v16h-6zm18 -32h3v48h-3zm21 -16h6v64h-6zm67 0h3v64h-3zm121 32h6v32h-6zm52 16h6v16h-6zm36 0h6v16h-6zm36 0h6v16h-6zm-330 -32h6v32h-6zm12 -16h6v48h-6zm88 32h6v16h-6zm88 -16h6v32h-6zm245 0h6v32h-6zm-482 0h6v16h-6zm173 0h6v16h-6zm61 0h3v16h-3zm73 -16h6v32h-6zm36 16h6v16h-6zm64 0h6v16h-6zm30 0h6v16h-6zm-282 -16h6v16h-6zm73 0h6v16h-6zm27 0h6v16h-6zm24 0h6v16h-6zm176 0h3v16h-3zm-433 -16h6v16h-6zm178 0h6v16h-6zm37 0h6v16h-6zm245 0h6v16h-6zm-515 -31h6v31h-6zm261 15h6v16h-6zm21 0h12v16h-12zm194 0h3v16h-3zm12 0h3v16h-3zm-412 -31h12v31h-12zm106 16h12v15h-12zm100 0h6v15h-6zm58 0h6v15h-6zm36 0h6v15h-6zm36 -16h6v31h-6zm28 16h6v15h-6zm30 0h6v15h-6zm45 0h6v15h-6zm-497 -16h6v16h-6zm76 0h6v16h-6zm94 0h6v16h-6zm18 0h6v16h-6zm27 -16h6v32h-6zm255 16h3v16h-3zm-488 -16h6v16h-6zm55 -32h6v48h-6zm21 32h6v16h-6zm24 0h6v16h-6zm161 -16h6v32h-6zm9 16h6v16h-6zm200 0h9v16h-9zm-327 -64h3v64h-3zm24 48h3v16h-3zm115 0h6v16h-6zm94 0h6v16h-6zm94 -16h6v32h-6zm18 16h3v16h-3zm-476 -16h6v16h-6zm82 -16h6v32h-6zm112 -16h6v48h-6zm64 0h6v48h-6zm227 32h3v16h-3zm-491 -16h6v16h-6zm70 0h12v16h-12zm24 -16h6v32h-6zm67 0h3v32h-3zm15 16h6v16h-6zm100 0h6v16h-6zm194 0h3v16h-3zm39 -16h6v32h-6zm-515 0h6v16h-6zm42 0h7v16h-7zm19 0h6v16h-6zm94 0h6v16h-6zm78 0h6v16h-6zm79 0h6v16h-6zm28 0h6v16h-6zm72 0h6v16h-6zm28 0h6v16h-6zm48 0h3v16h-3z"/><path fill="#fff2ad" d="M174 869h6v32h-6zm33 16h6v16h-6zm337 0h6v16h-6zm-352 -16h6v16h-6zm158 0h6v16h-6zm-176 -48h6v32h-6zm18 16h12v16h-12zm482 0h3v16h-3zm-506 -16h6v16h-6zm39 0h9v16h-9zm225 0h3v16h-3zm203 0h6v16h-6zm-422 -16h3v16h-3zm137 0h6v16h-6zm42 0h3v16h-3zm76 -16h6v32h-6zm109 0h6v16h-6zm-370 -47h6v16h-6zm25 0h6v16h-6zm221 -32h3v48h-3zm45 16h3v32h-3zm25 -16h6v48h-6zm-355 0h3v32h-3zm6 0h6v32h-6zm24 16h9v16h-9zm22 -16h15v32h-15zm18 16h9v16h-9zm12 0h18v16h-18zm24 0h12v16h-12zm18 0h6v16h-6zm9 -16h6v32h-6zm28 16h21v16h-21zm27 0h6v16h-6zm12 -16h6v32h-6zm21 0h6v32h-6zm12 16h9v16h-9zm22 -16h9v32h-9zm12 -48h6v80h-6zm15 64h3v16h-3zm12 -16h3v32h-3zm9 0h9v32h-9zm21 0h6v32h-6zm18 16h13v16h-13zm28 0h15v16h-15zm18 -16h3v32h-3zm15 16h24v16h-24zm30 0h13v16h-13zm25 0h12v16h-12zm15 0h18v16h-18zm27 -16h3v32h-3zm6 0h6v32h-6zm12 0h3v32h-3zm6 16h6v16h-6zm9 -16h3v32h-3zm6 -16h3v48h-3zm-536 16h3v16h-3zm30 0h12v16h-12zm15 0h4v16h-4zm19 0h9v16h-9zm18 0h9v16h-9zm12 0h18v16h-18zm21 0h9v16h-9zm12 0h3v16h-3zm15 0h13v16h-13zm25 0h21v16h-21zm27 0h3v16h-3zm9 0h15v16h-15zm21 0h6v16h-6zm9 0h3v16h-3zm9 0h10v16h-10zm28 0h6v16h-6zm15 0h6v16h-6zm9 0h6v16h-6zm15 0h12v16h-12zm24 0h6v16h-6zm13 0h6v16h-6zm21 0h6v16h-6zm9 0h9v16h-9zm12 0h12v16h-12zm15 0h24v16h-24zm33 0h7v16h-7zm13 0h3v16h-3zm6 0h6v16h-6zm9 0h6v16h-6zm9 0h12v16h-12zm15 0h9v16h-9zm12 0h3v16h-3zm9 -16h6v32h-6zm-488 0h6v16h-6zm200 0h3v16h-3zm76 0h6v16h-6zm-294 -16h6v16h-6zm30 -32h3v48h-3zm209 32h4v16h-4zm164 -16h6v32h-6zm97 16h3v16h-3zm-482 -32h6v32h-6zm158 16h6v16h-6zm209 0h6v16h-6zm-158 -16h6v16h-6zm273 -16h3v32h-3zm-467 0h6v16h-6zm94 0h6v16h-6zm134 0h6v16h-6zm266 0h6v16h-6zm-309 -47h3v47h-3zm167 31h6v16h-6zm48 -15h7v31h-7zm-415 0h6v15h-6zm109 0h6v15h-6zm100 0h6v15h-6zm31 0h3v15h-3zm-225 -16h6v16h-6zm352 0h6v16h-6zm-264 -16h6v16h-6zm55 0h6v16h-6zm82 0h3v16h-3zm-234 -16h6v16h-6zm9 0h6v16h-6zm370 0h6v16h-6zm15 0h3v16h-3zm-424 -16h6v16h-6zm6 -16h6v16h-6zm18 0h12v16h-12zm200 0h3v16h-3zm103 0h6v16h-6zm112 0h7v16h-7zm67 -16h3v32h-3zm-476 0h6v16h-6zm152 0h6v16h-6z"/><path fill="#ffec9e" d="M204 853h3v32h-3zm152 -32h6v64h-6zm221 -16h6v80h-6zm-397 48h6v16h-6zm6 -16h6v16h-6zm473 0h3v16h-3zm-206 -48h3v32h-3zm-249 0h3v16h-3zm-6 -16h3v16h-3zm25 0h3v16h-3zm-25 -31h3v16h-3zm43 0h3v16h-3zm24 0h6v16h-6zm9 0h6v16h-6zm24 0h12v16h-12zm22 -16h6v32h-6zm12 16h9v16h-9zm12 0h12v16h-12zm33 -16h6v32h-6zm15 16h6v16h-6zm34 0h6v16h-6zm9 0h18v16h-18zm51 0h12v16h-12zm31 0h6v16h-6zm36 0h6v16h-6zm12 0h9v16h-9zm15 0h3v16h-3zm21 0h9v16h-9zm49 0h3v16h-3zm33 0h6v16h-6zm18 0h3v16h-3zm-515 -16h3v16h-3zm27 0h7v16h-7zm34 0h3v16h-3zm21 0h6v16h-6zm30 0h3v16h-3zm9 0h10v16h-10zm43 0h6v16h-6zm12 0h6v16h-6zm12 0h3v16h-3zm9 0h6v16h-6zm12 0h6v16h-6zm15 0h13v16h-13zm22 -16h3v32h-3zm9 16h9v16h-9zm24 0h6v16h-6zm21 0h6v16h-6zm15 0h9v16h-9zm58 0h12v16h-12zm36 0h6v16h-6zm19 0h9v16h-9zm24 0h3v16h-3zm21 0h9v16h-9zm12 0h3v16h-3zm9 0h6v16h-6zm9 0h3v16h-3zm9 -16h3v32h-3zm-509 0h3v16h-3zm9 0h3v16h-3zm15 0h3v16h-3zm49 0h3v16h-3zm21 0h3v16h-3zm12 0h3v16h-3zm12 0h6v16h-6zm22 0h9v16h-9zm78 0h6v16h-6zm43 0h3v16h-3zm60 0h7v16h-7zm34 0h3v16h-3zm54 0h6v16h-6zm43 0h3v16h-3zm15 0h3v16h-3zm39 0h3v16h-3zm-491 -16h3v16h-3zm109 -127h4v143h-4zm-133 111h6v16h-6zm115 -95h6v79h-6zm-115 47h12v16h-12zm379 0h6v16h-6zm-379 -16h6v16h-6zm379 -15h6v15h-6zm139 -16h3v31h-3zm-139 -32h6v32h-6zm-379 0h6v16h-6zm115 -32h6v48h-6zm-91 16h3v16h-3zm228 -32h3v48h-3zm266 32h3v16h-3zm-512 -16h6v16h-6zm-6 -16h6v16h-6z"/><path fill="#ffe590" d="M192 885h6v16h-6zm467 -32h3v48h-3zm0 -64h3v48h-3zm-121 0h3v32h-3zm-315 0h6v16h-6zm-55 -16h6v16h-6zm21 0h6v16h-6zm18 0h6v16h-6zm25 0h12v16h-12zm-31 -31h3v16h-3zm12 0h10v16h-10zm37 0h9v16h-9zm21 0h3v16h-3zm15 0h12v16h-12zm70 0h9v16h-9zm15 0h6v16h-6zm12 0h9v16h-9zm24 0h3v16h-3zm16 0h3v16h-3zm33 0h3v16h-3zm6 0h12v16h-12zm15 0h9v16h-9zm24 0h16v16h-16zm46 0h6v16h-6zm12 0h6v16h-6zm24 0h15v16h-15zm27 0h13v16h-13zm16 0h18v16h-18zm36 0h9v16h-9zm15 0h6v16h-6zm18 0h6v16h-6zm-472 -128h6v96h-6zm-55 32h6v48h-6zm39 32h6v16h-6zm-15 -48h6v16h-6zm-24 -31h6v31h-6zm530 -48h3v32h-3zm-524 -16h12v16h-12zm18 0h6v16h-6zm15 0h6v16h-6zm491 -16h3v16h-3z"/><path fill="#fede81" d="M183 773h6v16h-6zm127 0h3v16h-3zm55 0h3v16h-3zm12 0h3v16h-3zm-154 -31h9v16h-9zm21 0h6v16h-6zm15 0h6v16h-6zm21 0h6v16h-6zm30 0h7v16h-7zm16 0h6v16h-6zm15 0h3v16h-3zm24 0h6v16h-6zm33 0h9v16h-9zm12 0h13v16h-13zm22 0h3v16h-3zm42 0h3v16h-3zm61 0h12v16h-12zm39 0h6v16h-6zm24 0h3v16h-3zm46 0h6v16h-6zm9 0h9v16h-9zm18 0h6v16h-6zm18 0h6v16h-6zm18 0h3v16h-3zm-503 -143h3v15h-3zm-36 -16h6v16h-6zm36 -32h3v16h-3z"/><path fill="#fed672" d="M174 773h9v16h-9zm27 0h6v16h-6zm19 0h3v16h-3zm6 0h6v16h-6zm18 0h15v16h-15zm54 0h3v16h-3zm25 0h3v16h-3zm21 0h3v16h-3zm45 0h6v16h-6zm-209 -31h9v16h-9z"/><path fill="#fec864" d="M213 773h7v16h-7zm55 0h3v16h-3zm18 0h6v16h-6zm15 0h9v16h-9zm19 0h3v16h-3zm6 0h6v16h-6zm12 0h3v16h-3zm9 0h6v16h-6zm39 0h3v16h-3zm12 0h6v16h-6zm12 0h7v16h-7zm104 0h3v16h-3zm-337 -31h3v16h-3z"/><path fill="#feba55" d="M277 773h3v16h-3zm15 0h6v16h-6zm21 0h7v16h-7zm19 0h3v16h-3zm9 0h3v16h-3zm12 0h3v16h-3zm6 0h3v16h-3zm45 0h6v16h-6zm13 0h3v16h-3zm9 0h3v16h-3zm54 0h6v16h-6zm76 0h6v16h-6zm30 0h9v16h-9zm55 0h3v16h-3zm9 0h3v16h-3zm27 0h9v16h-9zm-506 -31h3v16h-3zm18 0h9v16h-9z"/><path fill="#fead4a" d="M259 773h9v16h-9zm12 0h6v16h-6zm9 0h6v16h-6zm82 0h3v16h-3zm6 0h9v16h-9zm12 0h6v16h-6zm15 0h3v16h-3zm25 0h6v16h-6zm9 0h12v16h-12zm42 0h3v16h-3zm21 0h3v16h-3zm12 0h3v16h-3zm13 0h9v16h-9zm18 0h3v16h-3zm6 0h3v16h-3zm6 0h6v16h-6zm33 0h3v16h-3zm34 0h3v16h-3zm45 0h6v16h-6zm27 0h6v16h-6zm21 0h3v16h-3zm-539 -31h3v16h-3zm6 0h3v16h-3z"/><path fill="#fea044" d="M444 773h6v16h-6zm15 0h6v16h-6zm73 0h3v16h-3zm33 0h6v16h-6zm30 0h3v16h-3zm22 0h6v16h-6zm15 0h3v16h-3zm24 0h3v16h-3zm36 0h6v16h-6z"/><path fill="#fd933f" d="M441 773h3v16h-3zm9 0h3v16h-3zm15 0h6v16h-6zm9 0h6v16h-6zm12 0h6v16h-6zm40 0h6v16h-6zm27 0h3v16h-3zm30 0h3v16h-3zm15 0h3v16h-3zm9 0h7v16h-7zm37 0h6v16h-6zm9 0h3v16h-3zm12 0h12v16h-12zm33 0h3v16h-3z"/><path fill="#fd8239" d="M453 773h6v16h-6zm48 0h3v16h-3zm6 0h7v16h-7zm31 0h3v16h-3zm39 0h3v16h-3zm27 0h3v16h-3zm22 0h6v16h-6zm9 0h6v16h-6z"/><path fill="#fc6c33" d="M571 773h6v16h-6z"/><path fill="#fc562c" d="M544 773h3v16h-3zm18 0h3v16h-3zm142 -63h3v48h-3z"/><path fill="#f74327" d="M495 773h6v16h-6z"/><path fill="#ee3122" d="M701 773h6v16h-6z"/><path fill="#bf0126" d="M601 773h3v16h-3z"/><path fill="#aa0026" d="M335 758h3v47h-3z"/><path fill="#950026" d="M356 758h3v31h-3zm-188 0h167v15h-167zm170 0h18v15h-18zm21 0h351v15h-351z"/></g></g>
<rect x="168" y="517" width="542.5" height="381.5" fill="none" stroke="#8a8a7a" stroke-width="1.3"/>
<path d="M168 898.5v-5M168 517v5M228.6 898.5v-5M228.6 517v5M289.2 898.5v-5M289.2 517v5M349.8 898.5v-5M349.8 517v5M410.5 898.5v-5M410.5 517v5M471.1 898.5v-5M471.1 517v5M531.7 898.5v-5M531.7 517v5M592.3 898.5v-5M592.3 517v5M652.9 898.5v-5M652.9 517v5M168 898.5h5M710.5 898.5h-5M168 856.1h5M710.5 856.1h-5M168 813.7h5M710.5 813.7h-5M168 771.3h5M710.5 771.3h-5M168 728.9h5M710.5 728.9h-5M168 686.6h5M710.5 686.6h-5M168 644.2h5M710.5 644.2h-5M168 601.8h5M710.5 601.8h-5M168 559.4h5M710.5 559.4h-5M168 517h5M710.5 517h-5" stroke="#8a8a7a" stroke-width="1.2" fill="none"/>
<g font-size="19.2" fill="#4a4a4a" text-anchor="end"><text x="162.5" y="904.9">80</text><text x="162.5" y="862.5">90</text><text x="162.5" y="820.2">100</text><text x="162.5" y="777.8">110</text><text x="162.5" y="735.4">120</text><text x="162.5" y="693">130</text><text x="162.5" y="650.6">140</text><text x="162.5" y="608.2">150</text><text x="162.5" y="565.8">160</text><text x="162.5" y="523.4">170</text></g><g font-size="19.2" fill="#4a4a4a" text-anchor="middle"><text x="168" y="924">2</text><text x="228.6" y="924">2.2</text><text x="289.2" y="924">2.4</text><text x="349.8" y="924">2.6</text><text x="410.5" y="924">2.8</text><text x="471.1" y="924">3</text><text x="531.7" y="924">3.2</text><text x="592.3" y="924">3.4</text><text x="652.9" y="924">3.6</text></g>
<text x="365.7" y="949.4" font-size="22.6" fill="#4a4a4a">Frequency/MHz</text>
<text transform="translate(120,707.8) rotate(-90)" text-anchor="middle" font-size="22.8" fill="#4a4a4a">Virtual Height/km</text>
<g font-size="35.6" fill="#1e1e1e"><text x="260.9" y="583.7">2021-06-08</text><text x="474.2" y="583.7">22:34:37</text></g>
<linearGradient id="ga3" x1="0" y1="1" x2="0" y2="0"><stop offset="0.000" stop-color="#ffffcc"/><stop offset="0.125" stop-color="#ffeda0"/><stop offset="0.250" stop-color="#fed976"/><stop offset="0.375" stop-color="#feb24c"/><stop offset="0.500" stop-color="#fd8d3c"/><stop offset="0.625" stop-color="#fc4e2a"/><stop offset="0.750" stop-color="#e31a1c"/><stop offset="0.875" stop-color="#bd0026"/><stop offset="1.000" stop-color="#800026"/></linearGradient>
<rect x="720.3" y="517" width="24.4" height="379.3" fill="url(#ga3)" stroke="#8a8a7a" stroke-width="1.2"/>
<path d="M744.7 858.4h-3.5M744.7 820.4h-3.5M744.7 782.5h-3.5M744.7 744.6h-3.5M744.7 706.6h-3.5M744.7 668.7h-3.5M744.7 630.8h-3.5M744.7 592.9h-3.5M744.7 554.9h-3.5M744.7 517h-3.5" stroke="#8a8a7a" stroke-width="1"/>
<g font-size="16" fill="#4a4a4a"><text x="749.7" y="863.7">0.1</text><text x="749.7" y="825.8">0.2</text><text x="749.7" y="787.9">0.3</text><text x="749.7" y="749.9">0.4</text><text x="749.7" y="712">0.5</text><text x="749.7" y="674.1">0.6</text><text x="749.7" y="636.1">0.7</text><text x="749.7" y="598.2">0.8</text><text x="749.7" y="560.3">0.9</text><text x="749.7" y="522.4">1</text></g>
<text x="732.5" y="507" text-anchor="middle" font-size="18.4" fill="#4a4a4a">Normalized Energy</text>
<clipPath id="ca4"><rect x="911.8" y="511.7" width="534.2" height="377.3"/></clipPath>
<g clip-path="url(#ca4)"><g filter="url(#bl1)"><path fill="#ffffcc" d="M1157 498h3v393h-3zm122 0h6v393h-6zm48 0h6v393h-6zm18 0h6v393h-6zm14 0h9v393h-9z"/><path fill="#fff9bd" d="M1013 498h6v393h-6zm36 0h27v393h-27zm30 0h3v393h-3zm6 0h24v393h-24zm30 0h6v393h-6zm21 0h12v393h-12zm15 0h6v393h-6zm20 0h6v393h-6zm18 0h12v393h-12zm15 0h6v393h-6zm24 0h9v393h-9zm30 0h3v393h-3zm6 0h6v393h-6zm12 0h3v393h-3zm21 0h27v393h-27zm36 0h6v393h-6zm35 0h15v393h-15zm27 0h12v393h-12zm18 0h3v393h-3zm9 0h12v393h-12zm18 0h6v393h-6z"/><path fill="#fff2ad" d="M936 498h12v393h-12zm18 0h6v393h-6zm12 0h3v393h-3zm11 0h9v393h-9zm66 0h6v393h-6zm39 0h3v393h-3zm27 0h6v393h-6zm12 0h15v393h-15zm27 0h3v393h-3zm12 0h11v393h-11zm17 0h12v393h-12zm36 0h6v393h-6zm30 0h12v393h-12zm18 0h3v393h-3zm24 0h6v393h-6zm39 0h3v393h-3zm15 0h6v393h-6zm12 0h5v393h-5zm32 0h6v393h-6zm24 0h6v393h-6zm9 0h6v393h-6zm18 0h6v393h-6z"/><path fill="#ffec9e" d="M948 498h6v393h-6zm53 0h6v393h-6zm18 0h6v393h-6zm200 0h6v393h-6zm18 0h6v393h-6zm54 0h6v393h-6z"/><path fill="#ffe590" d="M924 498h12v393h-12zm47 0h6v393h-6zm36 0h6v393h-6zm24 0h6v393h-6zm170 0h3v393h-3z"/><path fill="#fede81" d="M912 498h6v393h-6zm48 0h6v393h-6zm9 0h2v393h-2zm17 0h3v393h-3zm9 0h6v393h-6zm30 0h6v393h-6zm12 0h6v393h-6zm218 0h3v393h-3z"/><path fill="#fed672" d="M918 498h6v393h-6zm71 0h6v393h-6z"/><path fill="#fec864" d="M1270 498h6v393h-6zm119 0h6v393h-6z"/><path fill="#fc6c33" d="M1076 498h3v393h-3z"/><path fill="#fc562c" d="M1210 498h3v393h-3zm15 0h3v393h-3z"/><path fill="#bf0126" d="M1356 498h3v393h-3z"/><path fill="#ffffcc" d="M1049 875h6v16h-6zm9 0h6v16h-6zm39 0h9v16h-9zm146 0h6v16h-6zm75 0h6v16h-6zm50 0h6v16h-6zm30 0h3v16h-3zm9 0h6v16h-6zm21 0h6v16h-6zm-492 -15h6v15h-6zm134 0h6v15h-6zm15 -16h6v31h-6zm12 16h3v15h-3zm18 0h6v15h-6zm27 0h6v15h-6zm92 0h3v15h-3zm21 -16h6v31h-6zm9 16h6v15h-6zm33 -32h3v47h-3zm6 32h3v15h-3zm80 0h6v15h-6zm30 0h3v15h-3zm27 0h6v15h-6zm-382 -16h12v16h-12zm21 0h6v16h-6zm21 0h6v16h-6zm24 0h6v16h-6zm53 0h6v16h-6zm54 0h3v16h-3zm-182 -16h6v16h-6zm21 0h6v16h-6zm36 0h3v16h-3zm9 0h6v16h-6zm27 0h9v16h-9zm62 0h6v16h-6zm30 0h3v16h-3zm15 0h6v16h-6zm27 -16h3v32h-3zm42 16h9v16h-9zm50 -16h6v32h-6zm45 16h9v16h-9zm12 -16h3v32h-3zm-361 0h6v16h-6zm72 0h12v16h-12zm35 0h6v16h-6zm251 -15h3v31h-3zm-373 0h6v15h-6zm9 0h6v15h-6zm27 0h6v15h-6zm12 0h3v15h-3zm137 0h3v15h-3zm99 0h6v15h-6zm41 0h3v15h-3zm24 0h3v15h-3zm-421 -16h3v16h-3zm129 0h3v16h-3zm95 0h3v16h-3zm57 0h3v16h-3zm6 0h6v16h-6zm176 0h6v16h-6zm-373 -79h3v16h-3zm21 0h3v16h-3zm9 0h3v16h-3zm167 0h6v16h-6zm33 0h3v16h-3zm9 0h6v16h-6zm92 0h3v16h-3zm-385 -15h6v15h-6zm42 0h3v15h-3zm134 0h6v15h-6zm27 0h3v15h-3zm27 -16h6v31h-6zm173 0h6v31h-6zm9 16h9v15h-9zm-367 -16h6v16h-6zm173 0h6v16h-6zm45 0h3v16h-3zm30 0h6v16h-6zm27 0h6v16h-6zm62 0h6v16h-6zm18 0h3v16h-3zm-358 -63h3v63h-3zm15 47h6v16h-6zm15 0h6v16h-6zm149 0h3v16h-3zm167 0h6v16h-6zm24 0h3v16h-3zm15 0h6v16h-6zm-382 -15h6v15h-6zm24 0h3v15h-3zm9 0h6v15h-6zm137 0h3v15h-3zm123 0h5v15h-5zm23 -16h3v31h-3zm24 16h3v15h-3zm15 0h3v15h-3zm15 0h6v15h-6zm-492 -16h6v16h-6zm128 -32h6v48h-6zm51 32h9v16h-9zm27 0h6v16h-6zm134 0h3v16h-3zm21 0h3v16h-3zm9 -16h6v32h-6zm18 16h3v16h-3zm9 0h6v16h-6zm74 0h6v16h-6zm-394 -16h6v16h-6zm78 0h6v16h-6zm137 -16h3v32h-3zm84 16h12v16h-12zm86 -16h3v32h-3zm-340 0h6v16h-6zm24 0h9v16h-9zm15 0h3v16h-3zm45 -31h6v47h-6zm29 31h6v16h-6zm42 0h3v16h-3zm105 -15h6v31h-6zm95 15h3v16h-3zm9 0h3v16h-3zm-409 -15h6v15h-6zm42 0h3v15h-3zm45 -16h6v31h-6zm176 16h3v15h-3zm24 0h3v15h-3zm125 0h3v15h-3zm-361 -16h6v16h-6zm21 -47h6v63h-6zm21 47h3v16h-3zm65 -16h6v32h-6zm135 16h6v16h-6zm45 -16h5v32h-5zm62 16h9v16h-9zm-298 -31h6v31h-6zm62 15h6v16h-6zm12 0h6v16h-6zm42 0h3v16h-3zm12 0h6v16h-6zm54 0h3v16h-3zm15 0h12v16h-12zm-257 -31h9v31h-9zm87 16h6v15h-6zm41 0h6v15h-6zm33 0h3v15h-3zm48 0h6v15h-6zm12 0h3v15h-3zm27 0h3v15h-3zm95 0h3v15h-3zm30 0h6v15h-6zm-379 -32h6v32h-6zm102 16h6v16h-6zm20 0h6v16h-6zm84 0h6v16h-6zm57 0h6v16h-6zm62 0h3v16h-3zm-432 -16h6v16h-6zm158 0h6v16h-6zm15 0h6v16h-6zm27 0h6v16h-6zm89 0h3v16h-3zm45 0h3v16h-3zm137 0h3v16h-3zm12 0h3v16h-3z"/><path fill="#fff9bd" d="M942 860h6v31h-6zm179 15h3v16h-3zm44 0h6v16h-6zm12 0h6v16h-6zm60 0h6v16h-6zm18 0h3v16h-3zm96 -15h5v31h-5zm8 0h3v31h-3zm24 15h12v16h-12zm-301 -15h3v15h-3zm78 -16h5v31h-5zm56 16h3v15h-3zm27 -16h6v31h-6zm36 16h12v15h-12zm45 -16h3v31h-3zm38 16h6v15h-6zm45 0h6v15h-6zm-471 -48h6v48h-6zm212 32h3v16h-3zm131 0h6v16h-6zm60 0h12v16h-12zm-373 -16h3v16h-3zm11 0h3v16h-3zm66 -16h3v32h-3zm39 16h3v16h-3zm95 -16h6v32h-6zm42 16h6v16h-6zm36 0h3v16h-3zm104 0h3v16h-3zm-250 -31h6v31h-6zm12 0h3v31h-3zm39 15h5v16h-5zm41 0h3v16h-3zm42 0h6v16h-6zm108 -31h5v47h-5zm-397 16h6v15h-6zm92 -16h3v31h-3zm173 16h6v15h-6zm30 0h9v15h-9zm110 -16h9v31h-9zm-235 0h6v16h-6zm24 0h3v16h-3zm131 0h6v16h-6zm12 0h6v16h-6zm33 0h3v16h-3zm-338 -63h6v16h-6zm176 0h3v16h-3zm-185 -16h3v16h-3zm266 0h6v16h-6zm18 0h3v16h-3zm18 0h6v16h-6zm45 0h3v16h-3zm27 -15h2v31h-2zm-415 0h6v15h-6zm241 0h12v15h-12zm24 0h3v15h-3zm126 -16h6v31h-6zm12 16h12v15h-12zm14 0h3v15h-3zm36 -16h6v31h-6zm-447 -16h6v32h-6zm35 16h3v16h-3zm272 0h6v16h-6zm75 -16h3v32h-3zm21 -31h6v63h-6zm-365 31h6v16h-6zm203 -15h6v31h-6zm30 15h6v16h-6zm30 -15h6v31h-6zm119 15h6v16h-6zm21 0h6v16h-6zm-417 -15h3v15h-3zm158 0h6v15h-6zm36 -16h11v31h-11zm17 16h6v15h-6zm39 0h3v15h-3zm45 0h3v15h-3zm155 -63h6v78h-6zm-268 -32h3v95h-3zm71 79h6v16h-6zm66 0h6v16h-6zm77 -32h6v48h-6zm-426 16h6v16h-6zm41 0h3v16h-3zm132 0h6v16h-6zm12 0h3v16h-3zm122 0h6v16h-6zm36 -16h6v32h-6zm60 0h6v32h-6zm12 16h5v16h-5zm56 0h6v16h-6zm-158 -16h6v16h-6zm75 -15h3v31h-3zm21 -16h6v47h-6zm38 31h6v16h-6zm-274 -15h6v15h-6zm12 0h3v15h-3zm44 0h6v15h-6zm12 0h6v15h-6zm39 -16h3v31h-3zm-274 0h6v16h-6zm35 0h3v16h-3zm66 0h6v16h-6zm39 0h3v16h-3zm161 0h6v16h-6zm12 -16h3v32h-3zm24 16h12v16h-12zm48 0h6v16h-6zm12 0h6v16h-6zm20 0h3v16h-3zm24 0h6v16h-6zm24 0h6v16h-6zm-453 -16h6v16h-6zm26 0h6v16h-6zm141 0h3v16h-3zm36 0h3v16h-3zm56 0h3v16h-3zm48 -15h3v31h-3zm18 15h6v16h-6zm137 0h6v16h-6zm-480 -15h12v15h-12zm110 -16h3v31h-3zm78 0h6v31h-6zm36 16h5v15h-5zm223 0h6v15h-6zm24 0h6v15h-6zm-325 -16h3v16h-3zm75 -16h3v32h-3zm20 16h6v16h-6zm36 0h6v16h-6zm114 0h6v16h-6zm12 -16h6v32h-6zm50 16h6v16h-6zm-423 -16h3v16h-3zm14 0h6v16h-6zm257 0h6v16h-6zm24 0h3v16h-3zm18 0h6v16h-6zm12 0h6v16h-6zm33 0h3v16h-3zm83 0h6v16h-6z"/><path fill="#fff2ad" d="M930 875h6v16h-6zm83 0h6v16h-6zm123 0h6v16h-6zm35 0h6v16h-6zm30 -47h3v63h-3zm30 47h6v16h-6zm33 0h6v16h-6zm12 0h3v16h-3zm15 0h6v16h-6zm12 0h3v16h-3zm9 0h6v16h-6zm65 -15h6v31h-6zm48 15h3v16h-3zm-346 -15h3v15h-3zm12 -16h6v31h-6zm113 16h6v15h-6zm15 0h6v15h-6zm12 0h3v15h-3zm191 -16h3v31h-3zm6 16h6v15h-6zm-415 -32h6v32h-6zm84 16h3v16h-3zm18 0h6v16h-6zm21 0h6v16h-6zm15 -16h6v32h-6zm20 16h6v16h-6zm24 -16h6v32h-6zm42 0h6v32h-6zm54 16h6v16h-6zm9 -16h3v32h-3zm62 16h12v16h-12zm27 0h6v16h-6zm36 0h3v16h-3zm15 0h6v16h-6zm-376 -16h6v16h-6zm15 0h3v16h-3zm110 0h6v16h-6zm123 -31h6v47h-6zm-206 15h3v16h-3zm98 -15h6v31h-6zm51 15h6v16h-6zm51 0h6v16h-6zm27 0h6v16h-6zm12 0h6v16h-6zm44 0h9v16h-9zm51 0h6v16h-6zm-427 -15h12v15h-12zm66 -16h3v31h-3zm21 16h6v15h-6zm36 0h6v15h-6zm53 0h15v15h-15zm87 0h3v15h-3zm101 0h6v15h-6zm48 0h3v15h-3zm-454 -16h6v16h-6zm99 0h6v16h-6zm21 0h6v16h-6zm60 0h6v16h-6zm38 0h6v16h-6zm111 0h6v16h-6zm33 0h6v16h-6zm56 0h6v16h-6zm9 0h3v16h-3zm24 0h3v16h-3zm-394 -47h3v16h-3zm200 0h6v16h-6zm-313 -16h6v16h-6zm33 0h3v16h-3zm15 0h3v16h-3zm11 0h3v16h-3zm21 0h3v16h-3zm6 0h3v16h-3zm6 0h6v16h-6zm30 0h6v16h-6zm30 0h3v16h-3zm72 0h3v16h-3zm6 0h3v16h-3zm62 -16h3v32h-3zm21 16h3v16h-3zm27 0h3v16h-3zm39 0h6v16h-6zm21 0h9v16h-9zm98 0h3v16h-3zm12 0h3v16h-3zm-495 -16h6v16h-6zm140 -15h6v31h-6zm45 0h6v31h-6zm74 15h9v16h-9zm15 0h3v16h-3zm15 -15h6v31h-6zm12 0h3v31h-3zm114 15h6v16h-6zm17 -15h6v31h-6zm27 15h6v16h-6zm12 -15h6v31h-6zm-400 -16h6v31h-6zm18 16h6v15h-6zm45 0h6v15h-6zm27 0h6v15h-6zm137 -32h3v47h-3zm36 32h6v15h-6zm42 0h6v15h-6zm27 0h6v15h-6zm89 0h3v15h-3zm-409 -16h6v16h-6zm129 0h6v16h-6zm53 0h6v16h-6zm108 -31h3v47h-3zm65 31h6v16h-6zm9 -16h6v32h-6zm51 0h6v32h-6zm12 16h6v16h-6zm-349 -16h6v16h-6zm24 0h6v16h-6zm56 0h6v16h-6zm30 0h9v16h-9zm18 0h6v16h-6zm114 0h6v16h-6zm56 0h6v16h-6zm24 0h3v16h-3zm9 -15h3v31h-3zm-421 0h6v15h-6zm18 0h6v15h-6zm45 0h6v15h-6zm131 0h6v15h-6zm9 0h6v15h-6zm27 0h3v15h-3zm6 0h6v15h-6zm39 0h3v15h-3zm21 0h3v15h-3zm128 0h3v15h-3zm-495 -16h6v16h-6zm83 0h6v16h-6zm84 -16h3v32h-3zm9 0h3v32h-3zm83 16h6v16h-6zm75 0h6v16h-6zm15 0h6v16h-6zm39 0h6v16h-6zm50 0h6v16h-6zm33 -16h6v32h-6zm27 16h6v16h-6zm12 0h6v16h-6zm-370 -16h6v16h-6zm45 0h6v16h-6zm21 0h6v16h-6zm83 0h6v16h-6zm84 -16h3v32h-3zm30 16h6v16h-6zm41 0h3v16h-3zm21 0h3v16h-3zm-382 -16h6v16h-6zm176 -31h6v47h-6zm45 31h3v16h-3zm78 -31h6v47h-6zm56 31h6v16h-6zm-438 -15h6v15h-6zm71 0h6v15h-6zm63 0h6v15h-6zm27 -32h6v47h-6zm15 32h3v15h-3zm30 0h6v15h-6zm95 0h3v15h-3zm6 -32h6v47h-6zm27 16h6v31h-6zm110 16h9v15h-9zm21 0h3v15h-3zm18 0h3v15h-3zm9 0h3v15h-3zm-373 -16h9v16h-9zm146 0h6v16h-6zm24 -16h6v32h-6zm15 16h3v16h-3zm140 0h3v16h-3zm24 -16h3v32h-3zm42 16h6v16h-6zm-376 -16h12v16h-12zm72 0h6v16h-6zm92 -15h3v31h-3zm48 15h3v16h-3zm27 0h3v16h-3zm65 0h6v16h-6zm9 0h6v16h-6zm24 0h6v16h-6zm21 0h3v16h-3zm-218 -31h6v31h-6zm30 0h3v31h-3zm21 16h6v15h-6zm36 0h6v15h-6zm27 -32h6v47h-6zm15 32h6v15h-6zm56 0h9v15h-9zm36 0h3v15h-3zm-477 -16h6v16h-6zm131 0h3v16h-3zm12 0h6v16h-6zm104 -16h6v32h-6zm42 16h6v16h-6zm63 0h6v16h-6zm59 0h3v16h-3zm69 -16h6v32h-6zm-415 0h6v16h-6zm84 0h3v16h-3zm122 0h6v16h-6zm9 0h3v16h-3zm27 0h6v16h-6zm51 0h6v16h-6zm39 0h6v16h-6zm17 0h6v16h-6z"/><path fill="#ffec9e" d="M1160 875h5v16h-5zm89 0h6v16h-6zm90 0h6v16h-6zm-326 -15h6v15h-6zm30 0h3v15h-3zm87 0h6v15h-6zm53 0h6v15h-6zm206 0h6v15h-6zm45 0h6v15h-6zm-457 -16h3v16h-3zm54 0h6v16h-6zm78 0h6v16h-6zm12 0h3v16h-3zm95 0h3v16h-3zm191 0h6v16h-6zm-453 -16h6v16h-6zm176 0h6v16h-6zm83 0h3v16h-3zm126 0h6v16h-6zm38 -16h6v32h-6zm12 16h6v16h-6zm-423 -31h3v31h-3zm229 15h6v16h-6zm132 0h6v16h-6zm-167 -15h5v15h-5zm17 -16h6v31h-6zm39 16h3v15h-3zm69 0h6v15h-6zm104 0h6v15h-6zm18 0h6v15h-6zm9 0h6v15h-6zm-391 -16h6v16h-6zm18 0h3v16h-3zm140 0h6v16h-6zm30 0h3v16h-3zm126 0h6v16h-6zm38 0h6v16h-6zm24 0h6v16h-6zm-489 -63h3v32h-3zm27 16h6v16h-6zm15 0h3v16h-3zm35 0h3v16h-3zm36 0h3v16h-3zm27 0h9v16h-9zm66 -16h3v32h-3zm12 16h3v16h-3zm9 0h3v16h-3zm53 0h3v16h-3zm9 0h3v16h-3zm12 0h3v16h-3zm36 0h3v16h-3zm84 0h3v16h-3zm9 0h3v16h-3zm9 0h2v16h-2zm11 0h3v16h-3zm18 0h6v16h-6zm12 0h3v16h-3zm21 0h6v16h-6zm30 0h3v16h-3zm-388 -16h3v16h-3zm9 0h3v16h-3zm6 0h3v16h-3zm27 0h3v16h-3zm24 0h3v16h-3zm110 0h3v16h-3zm21 0h3v16h-3zm113 0h6v16h-6zm21 0h6v16h-6zm15 0h6v16h-6zm39 0h3v16h-3zm-358 -16h3v16h-3zm146 0h3v16h-3zm72 0h3v16h-3zm12 0h6v16h-6zm21 0h12v16h-12zm26 0h3v16h-3zm18 0h6v16h-6zm30 0h6v16h-6zm36 0h3v16h-3zm-513 -15h6v15h-6zm191 0h3v15h-3zm9 0h6v15h-6zm21 0h6v15h-6zm44 0h6v15h-6zm188 0h6v15h-6zm51 0h6v15h-6zm-510 -16h6v16h-6zm12 0h6v16h-6zm30 0h5v16h-5zm14 0h6v16h-6zm99 0h3v16h-3zm27 0h3v16h-3zm54 0h5v16h-5zm41 0h9v16h-9zm99 0h3v16h-3zm107 -16h6v32h-6zm15 16h3v16h-3zm-373 -16h6v16h-6zm33 0h3v16h-3zm42 0h6v16h-6zm137 0h3v16h-3zm173 0h6v16h-6zm-504 -15h6v15h-6zm149 0h3v15h-3zm27 0h9v15h-9zm42 0h3v15h-3zm53 0h3v15h-3zm63 0h6v15h-6zm36 0h3v15h-3zm101 0h6v15h-6zm-435 -48h3v48h-3zm11 32h3v16h-3zm132 0h6v16h-6zm119 0h3v16h-3zm21 0h6v16h-6zm-280 -16h2v16h-2zm38 0h6v16h-6zm39 0h3v16h-3zm78 0h6v16h-6zm41 0h6v16h-6zm18 0h6v16h-6zm102 0h6v16h-6zm-355 -16h6v16h-6zm50 0h6v16h-6zm63 -15h3v31h-3zm63 15h3v16h-3zm54 0h5v16h-5zm217 0h6v16h-6zm24 0h6v16h-6zm39 0h6v16h-6zm-486 -31h6v31h-6zm92 16h3v15h-3zm84 -16h6v31h-6zm83 0h3v31h-3zm72 16h6v15h-6zm48 0h6v15h-6zm101 -16h6v31h-6zm-501 0h3v16h-3zm53 0h3v16h-3zm123 0h6v16h-6zm12 0h3v16h-3zm-185 -16h6v16h-6zm30 -15h3v31h-3zm283 0h6v31h-6zm51 15h3v16h-3zm39 -15h6v31h-6zm-368 0h6v15h-6zm36 0h6v15h-6zm36 0h3v15h-3zm87 0h6v15h-6zm71 0h3v15h-3zm12 0h3v15h-3zm72 -16h6v31h-6zm137 16h3v15h-3zm-492 -16h6v16h-6zm24 0h6v16h-6zm167 -16h3v32h-3zm256 16h6v16h-6zm-370 -16h6v16h-6zm75 0h3v16h-3zm27 0h6v16h-6zm27 0h6v16h-6zm24 0h11v16h-11zm17 0h6v16h-6zm12 0h6v16h-6zm24 0h3v16h-3zm176 0h6v16h-6zm45 0h6v16h-6z"/><path fill="#ffe590" d="M948 875h6v16h-6zm38 -15h3v31h-3zm33 15h12v16h-12zm-107 -15h6v15h-6zm48 0h6v15h-6zm59 -16h12v16h-12zm-59 -16h6v16h-6zm59 0h6v16h-6zm266 -16h6v32h-6zm42 16h6v16h-6zm-379 -16h6v16h-6zm53 -15h6v31h-6zm248 15h6v16h-6zm-289 -15h6v15h-6zm367 0h6v15h-6zm-341 -16h3v16h-3zm421 0h6v16h-6zm9 0h6v16h-6zm18 0h6v16h-6zm-361 -47h3v16h-3zm87 0h2v16h-2zm149 0h3v16h-3zm101 0h3v16h-3zm-459 -16h6v16h-6zm53 0h3v16h-3zm9 0h6v16h-6zm39 0h3v16h-3zm122 0h3v16h-3zm24 0h3v16h-3zm6 0h3v16h-3zm30 0h12v16h-12zm24 0h6v16h-6zm24 0h3v16h-3zm9 0h3v16h-3zm-343 -31h6v31h-6zm47 15h6v16h-6zm260 0h6v16h-6zm128 0h6v16h-6zm51 0h6v16h-6zm-465 -15h2v15h-2zm110 0h3v15h-3zm206 -47h6v62h-6zm15 47h3v15h-3zm59 0h3v15h-3zm48 0h6v15h-6zm-447 -16h6v16h-6zm26 -16h3v32h-3zm57 0h3v32h-3zm72 16h6v16h-6zm36 0h6v16h-6zm-150 -16h6v16h-6zm18 0h12v16h-12zm60 0h3v16h-3zm27 0h3v16h-3zm149 0h6v16h-6zm45 0h3v16h-3zm-352 -15h6v15h-6zm32 0h6v15h-6zm45 0h6v15h-6zm18 -32h3v32h-3zm36 -31h3v63h-3zm72 0h6v63h-6zm149 47h3v16h-3zm59 -32h3v48h-3zm-199 16h5v16h-5zm-135 -16h6v16h-6zm230 -15h6v31h-6zm-286 -16h2v31h-2zm50 16h6v15h-6zm185 0h6v15h-6zm-244 -16h6v16h-6zm223 0h6v16h-6zm-271 -16h6v16h-6zm113 0h6v16h-6zm18 0h3v16h-3zm-74 -15h2v15h-2zm32 0h6v15h-6zm-35 -16h3v16h-3zm-6 -16h6v16h-6zm26 0h3v16h-3zm15 0h6v16h-6zm18 0h6v16h-6z"/><path fill="#fede81" d="M971 875h3v16h-3zm75 -31h3v47h-3zm-116 -32h6v48h-6zm41 16h6v16h-6zm60 0h6v16h-6zm-24 -16h6v16h-6zm48 -31h3v47h-3zm352 31h6v16h-6zm-436 -15h6v15h-6zm457 0h6v15h-6zm-510 -16h6v16h-6zm367 0h6v16h-6zm42 0h6v16h-6zm56 0h6v16h-6zm-262 -47h6v16h-6zm21 0h6v16h-6zm110 0h3v16h-3zm24 0h3v16h-3zm21 0h9v16h-9zm15 0h6v16h-6zm113 0h6v16h-6zm12 0h6v16h-6zm-507 -16h3v16h-3zm6 0h6v16h-6zm21 0h3v16h-3zm101 0h6v16h-6zm24 0h6v16h-6zm9 0h6v16h-6zm51 0h3v16h-3zm53 0h3v16h-3zm27 0h3v16h-3zm84 0h9v16h-9zm71 0h6v16h-6zm15 0h6v16h-6zm42 0h6v16h-6zm-463 -47h6v47h-6zm18 31h6v16h-6zm27 0h6v16h-6zm36 -15h3v31h-3zm105 15h3v16h-3zm119 0h3v16h-3zm9 0h6v16h-6zm-367 -15h12v15h-12zm89 0h6v15h-6zm51 0h6v15h-6zm200 -16h3v31h-3zm-340 0h6v16h-6zm71 0h6v16h-6zm42 -16h6v32h-6zm51 16h3v16h-3zm209 0h6v16h-6zm68 -31h3v47h-3zm-250 15h6v16h-6zm42 -15h6v31h-6zm-233 -16h6v31h-6zm71 16h6v15h-6zm60 0h6v15h-6zm108 0h3v15h-3zm101 -32h3v47h-3zm33 32h6v15h-6zm-320 -16h6v16h-6zm36 0h6v16h-6zm254 -16h3v16h-3zm30 -16h6v32h-6zm-284 0h6v16h-6zm-89 -31h6v16h-6zm161 0h3v16h-3zm72 -31h6v47h-6zm110 31h3v16h-3zm30 0h6v16h-6zm-320 -16h6v16h-6zm230 0h3v16h-3zm-212 -15h6v15h-6zm-18 -16h6v16h-6zm36 0h6v16h-6zm-83 -16h6v16h-6zm24 0h6v16h-6z"/><path fill="#fed672" d="M924 875h3v16h-3zm36 0h6v16h-6zm9 0h2v16h-2zm26 0h6v16h-6zm42 -15h6v31h-6zm-107 0h6v15h-6zm95 0h12v15h-12zm-39 -32h3v32h-3zm442 0h6v32h-6zm-382 -16h3v32h-3zm-86 0h6v16h-6zm35 0h6v16h-6zm-9 -15h3v15h-3zm-74 -16h6v16h-6zm48 0h6v16h-6zm77 0h6v16h-6zm-113 -47h3v16h-3zm6 0h6v16h-6zm41 0h6v16h-6zm45 0h6v16h-6zm27 0h6v16h-6zm69 0h3v16h-3zm50 0h3v16h-3zm24 0h6v16h-6zm75 0h3v16h-3zm57 0h3v16h-3zm35 0h3v16h-3zm6 -16h3v32h-3zm15 16h6v16h-6zm-441 -16h3v16h-3zm9 0h3v16h-3zm27 0h2v16h-2zm29 0h3v16h-3zm90 0h3v16h-3zm83 0h3v16h-3zm45 0h3v16h-3zm48 0h6v16h-6zm98 0h3v16h-3zm21 0h3v16h-3zm39 0h3v16h-3zm-436 -31h3v31h-3zm51 -16h6v47h-6zm9 31h3v16h-3zm12 0h6v16h-6zm33 0h6v16h-6zm45 0h3v16h-3zm155 -15h6v31h-6zm137 15h6v16h-6zm12 0h3v16h-3zm-445 -15h6v15h-6zm30 0h6v15h-6zm132 -32h3v47h-3zm8 32h6v15h-6zm-158 -16h6v16h-6zm42 0h6v16h-6zm51 -79h6v79h-6zm191 63h6v16h-6zm-305 -15h3v15h-3zm9 0h6v15h-6zm42 0h6v15h-6zm-125 -16h6v16h-6zm48 -32h6v48h-6zm89 0h6v48h-6zm108 32h3v16h-3zm104 0h3v16h-3zm-242 -16h12v16h-12zm-50 -16h2v16h-2zm26 0h6v16h-6zm24 0h6v16h-6zm242 -15h3v31h-3zm-349 -16h6v31h-6zm59 16h6v15h-6zm15 0h3v15h-3zm51 0h6v15h-6zm254 0h6v15h-6zm-367 -16h6v16h-6zm71 -31h6v47h-6zm24 15h6v32h-6zm-59 0h3v16h-3zm77 0h6v16h-6zm-12 -15h6v15h-6zm-30 -32h6v16h-6zm42 0h6v16h-6z"/><path fill="#fec864" d="M918 875h6v16h-6zm62 -15h6v15h-6zm15 -16h6v16h-6zm170 -16h6v16h-6zm0 -31h6v15h-6zm263 -16h6v16h-6zm-95 -16h3v16h-3zm35 0h6v16h-6zm-388 -31h9v16h-9zm18 0h3v16h-3zm15 0h3v16h-3zm18 0h6v16h-6zm96 0h3v16h-3zm6 -16h6v32h-6zm15 16h12v16h-12zm68 0h3v16h-3zm48 0h3v16h-3zm15 0h6v16h-6zm42 0h6v16h-6zm47 0h3v16h-3zm-259 -63h6v63h-6zm48 47h5v16h-5zm32 0h6v16h-6zm60 0h3v16h-3zm78 0h15v16h-15zm-248 -16h3v16h-3zm-125 -15h6v15h-6zm146 -16h6v31h-6zm-75 -47h6v16h-6zm266 0h6v16h-6zm-373 -16h6v16h-6zm36 -16h6v32h-6zm-36 -15h6v15h-6zm-6 -47h6v15h-6zm107 0h6v15h-6zm18 0h6v15h-6z"/><path fill="#feba55" d="M1165 844h6v31h-6zm-185 -32h6v48h-6zm185 0h6v16h-6zm263 0h6v16h-6zm-448 -31h6v16h-6zm185 0h6v16h-6zm-244 -16h6v16h-6zm65 0h6v16h-6zm93 0h3v16h-3zm257 0h6v16h-6zm92 0h6v16h-6zm-483 -31h6v16h-6zm137 0h6v16h-6zm24 0h6v16h-6zm74 -16h6v32h-6zm191 16h3v16h-3zm24 0h3v16h-3zm-218 -16h3v16h-3zm9 0h3v16h-3zm-232 -16h6v16h-6zm0 -47h6v32h-6zm0 -31h6v16h-6zm-6 -16h6v16h-6zm83 -31h6v15h-6z"/><path fill="#fead4a" d="M992 828h3v47h-3zm-3 0h3v32h-3zm-9 -31h6v15h-6zm-53 -32h3v16h-3zm30 0h6v16h-6zm9 0h3v16h-3zm26 0h3v16h-3zm90 0h3v16h-3zm24 0h3v16h-3zm21 0h6v16h-6zm15 0h3v16h-3zm23 0h3v16h-3zm156 0h3v16h-3zm21 0h3v16h-3zm20 0h6v16h-6zm48 0h3v16h-3zm-391 -47h3v16h-3zm105 0h3v16h-3zm27 0h6v16h-6zm220 0h6v16h-6zm72 0h3v16h-3zm-525 -16h6v16h-6zm107 0h3v16h-3zm39 0h3v16h-3zm84 0h6v16h-6zm205 0h3v16h-3zm-399 -62h6v15h-6zm-6 -79h6v47h-6zm83 0h6v16h-6zm-83 -31h6v15h-6zm83 -32h6v16h-6z"/><path fill="#fea044" d="M989 781h6v47h-6zm-41 -16h6v16h-6zm21 0h5v16h-5zm14 0h3v16h-3zm15 0h3v16h-3zm150 0h6v16h-6zm247 0h6v16h-6zm-373 -47h6v16h-6zm78 0h9v16h-9zm15 0h3v16h-3zm-30 -16h3v16h-3zm80 0h6v16h-6zm33 0h6v16h-6zm-286 -31h6v16h-6zm119 -47h6v31h-6zm-83 -79h6v16h-6zm83 -31h6v47h-6z"/><path fill="#fd933f" d="M992 875h3v16h-3zm-68 -63h6v32h-6zm45 0h2v16h-2zm8 -47h6v16h-6zm72 0h3v16h-3zm96 0h3v16h-3zm17 0h3v16h-3zm189 0h2v16h-2zm29 0h15v16h-15zm-307 -47h3v16h-3zm140 0h3v16h-3zm60 0h3v16h-3zm69 0h3v16h-3zm65 0h3v16h-3zm-495 -31h6v31h-6zm0 -47h6v31h-6zm119 -48h6v32h-6z"/><path fill="#fd8239" d="M924 844h6v16h-6zm45 0h2v16h-2zm-45 -63h6v31h-6zm45 0h2v31h-2zm-27 -16h6v16h-6zm21 0h3v16h-3zm11 0h3v16h-3zm21 0h3v16h-3zm6 0h9v16h-9zm15 0h3v16h-3zm18 0h3v16h-3zm24 0h3v16h-3zm12 0h3v16h-3zm24 0h6v16h-6zm21 0h3v16h-3zm215 0h3v16h-3zm44 0h6v16h-6zm27 0h9v16h-9zm12 0h3v16h-3zm21 0h9v16h-9zm-167 -15h3v15h-3zm6 -16h3v16h-3zm33 0h3v16h-3zm92 0h6v16h-6zm-418 -16h6v16h-6zm373 0h3v16h-3zm63 0h6v16h-6z"/><path fill="#fc6c33" d="M969 828h2v16h-2zm149 -63h3v16h-3zm206 0h6v16h-6zm29 0h3v16h-3zm6 0h3v16h-3zm57 0h12v16h-12zm-209 -15h3v15h-3zm12 0h3v15h-3zm57 0h6v15h-6zm51 0h12v15h-12zm15 0h3v15h-3zm-350 -16h6v16h-6zm102 0h6v16h-6zm80 0h6v16h-6zm153 0h6v16h-6zm-406 -16h6v16h-6zm206 0h6v16h-6zm149 0h6v16h-6zm24 0h6v16h-6zm51 0h2v16h-2z"/><path fill="#fc562c" d="M927 860h3v31h-3zm47 0h3v31h-3zm15 0h3v31h-3zm-77 -95h3v16h-3zm98 0h6v16h-6zm36 0h3v16h-3zm15 0h3v16h-3zm12 0h3v16h-3zm15 0h6v16h-6zm257 0h6v16h-6zm98 0h3v16h-3zm-191 -15h3v15h-3zm39 0h6v15h-6zm-123 -16h6v16h-6zm99 0h6v16h-6zm119 0h6v16h-6zm-41 -16h6v16h-6z"/><path fill="#f74327" d="M1040 765h6v16h-6zm36 0h3v16h-3zm27 0h3v16h-3zm134 -15h3v15h-3zm66 0h6v15h-6zm-388 -16h6v16h-6zm343 0h3v16h-3zm161 0h6v16h-6zm-21 -16h3v16h-3zm-250 -47h3v31h-3z"/><path fill="#ee3122" d="M915 765h6v16h-6zm39 0h3v16h-3zm77 0h3v16h-3zm21 0h6v16h-6zm33 0h3v16h-3zm36 0h6v16h-6zm47 0h6v16h-6zm27 -15h3v15h-3zm15 0h3v15h-3zm24 0h3v15h-3zm15 0h3v15h-3zm36 0h6v15h-6zm152 0h9v15h-9zm-480 -16h9v16h-9zm92 -47h3v63h-3zm296 47h6v16h-6zm86 0h6v16h-6zm-355 -173h3v47h-3zm-146 -16h3v32h-3zm33 -15h3v31h-3z"/><path fill="#e51f1d" d="M1160 765h2v16h-2zm20 0h6v16h-6zm12 0h6v16h-6zm54 0h3v16h-3zm15 -15h6v15h-6zm78 0h3v15h-3zm-224 -16h3v16h-3zm80 0h6v16h-6zm39 0h3v16h-3zm131 0h3v16h-3zm39 0h6v16h-6zm-179 -142h3v48h-3z"/><path fill="#d9131f" d="M1312 765h9v16h-9zm-57 -15h6v15h-6zm42 0h3v15h-3zm24 0h6v15h-6zm-314 -16h6v16h-6zm93 0h6v16h-6zm110 -63h3v31h-3z"/><path fill="#cc0a22" d="M1240 765h6v16h-6zm-27 -15h6v15h-6zm-247 -16h5v16h-5zm11 0h3v16h-3zm93 0h3v16h-3zm6 0h6v16h-6zm128 0h3v16h-3zm36 0h3v16h-3z"/><path fill="#bf0126" d="M1210 812h3v48h-3zm87 -31h3v31h-3zm-188 0h3v16h-3zm146 0h3v16h-3zm-101 -16h6v16h-6zm20 0h6v16h-6zm33 0h12v16h-12zm24 0h6v16h-6zm39 -15h6v15h-6zm12 0h3v15h-3zm18 0h3v15h-3zm9 0h12v15h-12zm-221 -16h3v16h-3zm251 0h3v16h-3zm-263 -110h3v31h-3zm134 -94h3v47h-3z"/><path fill="#aa0026" d="M930 765h6v16h-6zm89 0h6v16h-6zm45 0h6v16h-6zm45 0h6v16h-6zm24 0h3v16h-3zm53 0h6v16h-6zm33 0h3v16h-3zm18 0h3v16h-3zm12 0h3v16h-3zm-81 -15h9v15h-9zm15 0h3v15h-3zm15 0h3v15h-3zm24 0h12v15h-12zm-185 -16h6v16h-6zm24 0h3v16h-3zm30 0h3v16h-3zm116 0h6v16h-6zm36 0h6v16h-6zm42 0h6v16h-6zm51 0h3v16h-3z"/><path fill="#950026" d="M936 750h6v31h-6zm89 0h6v31h-6zm12 0h3v31h-3zm63 0h3v31h-3zm36 0h6v31h-6zm62 15h9v16h-9zm24 0h9v16h-9zm30 0h60v16h-60zm-340 -15h24v15h-24zm30 0h83v15h-83zm89 0h6v15h-6zm9 0h60v15h-60zm63 0h33v15h-33zm39 0h26v15h-26zm35 0h6v15h-6zm9 0h9v15h-9zm15 0h6v15h-6zm39 0h9v15h-9zm105 0h92v15h-92zm-281 -16h6v16h-6zm173 0h3v16h-3z"/></g></g>
<rect x="911.8" y="511.7" width="534.2" height="377.3" fill="none" stroke="#8a8a7a" stroke-width="1.3"/>
<path d="M911.8 889v-5M911.8 511.7v5M971.5 889v-5M971.5 511.7v5M1031.2 889v-5M1031.2 511.7v5M1090.9 889v-5M1090.9 511.7v5M1150.5 889v-5M1150.5 511.7v5M1210.2 889v-5M1210.2 511.7v5M1269.9 889v-5M1269.9 511.7v5M1329.6 889v-5M1329.6 511.7v5M1389.3 889v-5M1389.3 511.7v5M911.8 889h5M1446 889h-5M911.8 847.1h5M1446 847.1h-5M911.8 805.2h5M1446 805.2h-5M911.8 763.2h5M1446 763.2h-5M911.8 721.3h5M1446 721.3h-5M911.8 679.4h5M1446 679.4h-5M911.8 637.5h5M1446 637.5h-5M911.8 595.5h5M1446 595.5h-5M911.8 553.6h5M1446 553.6h-5M911.8 511.7h5M1446 511.7h-5" stroke="#8a8a7a" stroke-width="1.2" fill="none"/>
<g font-size="19.2" fill="#4a4a4a" text-anchor="end"><text x="906.3" y="895.4">80</text><text x="906.3" y="853.5">90</text><text x="906.3" y="811.6">100</text><text x="906.3" y="769.7">110</text><text x="906.3" y="727.7">120</text><text x="906.3" y="685.8">130</text><text x="906.3" y="643.9">140</text><text x="906.3" y="602">150</text><text x="906.3" y="560.1">160</text><text x="906.3" y="518.1">170</text></g><g font-size="19.2" fill="#4a4a4a" text-anchor="middle"><text x="911.8" y="914.5">2</text><text x="971.5" y="914.5">2.2</text><text x="1031.2" y="914.5">2.4</text><text x="1090.9" y="914.5">2.6</text><text x="1150.5" y="914.5">2.8</text><text x="1210.2" y="914.5">3</text><text x="1269.9" y="914.5">3.2</text><text x="1329.6" y="914.5">3.4</text><text x="1389.3" y="914.5">3.6</text></g>
<text x="1106.3" y="938.7" font-size="22.4" fill="#4a4a4a">Frequency/MHz</text>
<text transform="translate(865.8,700.4) rotate(-90)" text-anchor="middle" font-size="22.6" fill="#4a4a4a">Virtual Height/km</text>
<g font-size="35.6" fill="#1e1e1e"><text x="991.1" y="583.3">2021-06-08</text><text x="1203.6" y="583.3">22:49:00</text></g>
<linearGradient id="ga4" x1="0" y1="1" x2="0" y2="0"><stop offset="0.000" stop-color="#ffffcc"/><stop offset="0.125" stop-color="#ffeda0"/><stop offset="0.250" stop-color="#fed976"/><stop offset="0.375" stop-color="#feb24c"/><stop offset="0.500" stop-color="#fd8d3c"/><stop offset="0.625" stop-color="#fc4e2a"/><stop offset="0.750" stop-color="#e31a1c"/><stop offset="0.875" stop-color="#bd0026"/><stop offset="1.000" stop-color="#800026"/></linearGradient>
<rect x="1457.6" y="512" width="22.9" height="374.7" fill="url(#ga4)" stroke="#8a8a7a" stroke-width="1.2"/>
<path d="M1480.5 849.2h-3.5M1480.5 811.8h-3.5M1480.5 774.3h-3.5M1480.5 736.8h-3.5M1480.5 699.4h-3.5M1480.5 661.9h-3.5M1480.5 624.4h-3.5M1480.5 586.9h-3.5M1480.5 549.5h-3.5M1480.5 512h-3.5" stroke="#8a8a7a" stroke-width="1"/>
<g font-size="16" fill="#4a4a4a"><text x="1485.5" y="854.6">0.1</text><text x="1485.5" y="817.1">0.2</text><text x="1485.5" y="779.7">0.3</text><text x="1485.5" y="742.2">0.4</text><text x="1485.5" y="704.7">0.5</text><text x="1485.5" y="667.2">0.6</text><text x="1485.5" y="629.8">0.7</text><text x="1485.5" y="592.3">0.8</text><text x="1485.5" y="554.8">0.9</text><text x="1485.5" y="517.4">1</text></g>
<text x="1469" y="502" text-anchor="middle" font-size="18.4" fill="#4a4a4a">Normalized Energy</text>
<clipPath id="ca5"><rect x="168" y="996.3" width="542.5" height="376"/></clipPath>
<g clip-path="url(#ca5)"><g filter="url(#bl1)"><path fill="#ffffcc" d="M241 983h3v391h-3zm33 0h6v391h-6zm18 0h6v391h-6zm12 0h6v391h-6zm191 0h6v391h-6zm12 0h13v391h-13zm19 0h3v391h-3zm36 0h12v391h-12zm21 0h6v391h-6zm46 0h3v391h-3zm12 0h6v391h-6zm42 0h9v391h-9z"/><path fill="#fff9bd" d="M180 983h3v391h-3zm55 0h3v391h-3zm9 0h6v391h-6zm12 0h18v391h-18zm30 0h6v391h-6zm12 0h3v391h-3zm12 0h3v391h-3zm13 0h60v391h-60zm63 0h9v391h-9zm15 0h6v391h-6zm9 0h7v391h-7zm10 0h6v391h-6zm9 0h9v391h-9zm15 0h9v391h-9zm15 0h12v391h-12zm24 0h9v391h-9zm18 0h6v391h-6zm37 0h12v391h-12zm18 0h6v391h-6zm18 0h3v391h-3zm6 0h3v391h-3zm15 0h25v391h-25zm37 0h9v391h-9zm15 0h18v391h-18zm30 0h6v391h-6zm18 0h15v391h-15z"/><path fill="#fff2ad" d="M174 983h3v391h-3zm52 0h3v391h-3zm12 0h3v391h-3zm12 0h6v391h-6zm30 0h6v391h-6zm37 0h6v391h-6zm66 0h3v391h-3zm15 0h3v391h-3zm9 0h3v391h-3zm10 0h3v391h-3zm9 0h3v391h-3zm12 0h6v391h-6zm15 0h3v391h-3zm18 0h12v391h-12zm21 0h3v391h-3zm28 0h6v391h-6zm12 0h3v391h-3zm45 0h3v391h-3zm12 0h6v391h-6zm34 0h6v391h-6zm42 0h9v391h-9z"/><path fill="#ffec9e" d="M186 983h3v391h-3zm21 0h3v391h-3zm16 0h3v391h-3zm327 0h6v391h-6z"/><path fill="#ffe590" d="M168 983h3v391h-3zm15 0h3v391h-3zm12 0h3v391h-3zm9 0h3v391h-3zm6 0h3v391h-3zm482 0h3v391h-3z"/><path fill="#fede81" d="M192 983h3v391h-3zm21 0h10v391h-10zm243 0h3v391h-3z"/><path fill="#fed672" d="M177 983h3v391h-3zm24 0h3v391h-3zm28 0h3v391h-3z"/><path fill="#fec864" d="M171 983h3v391h-3zm27 0h3v391h-3zm476 0h3v391h-3z"/><path fill="#feba55" d="M313 983h4v391h-4z"/><path fill="#fead4a" d="M395 983h3v391h-3z"/><path fill="#fea044" d="M301 983h3v391h-3zm234 0h3v391h-3z"/><path fill="#fd8239" d="M620 983h3v391h-3z"/><path fill="#fc6c33" d="M232 983h3v391h-3z"/><path fill="#fc562c" d="M529 983h3v391h-3z"/><path fill="#d9131f" d="M189 983h3v391h-3z"/><path fill="#ffffcc" d="M268 1359h6v15h-6zm42 0h3v15h-3zm31 0h6v15h-6zm24 0h6v15h-6zm94 0h6v15h-6zm30 0h6v15h-6zm109 0h12v15h-12zm37 -16h6v31h-6zm33 16h6v15h-6zm-433 -16h3v16h-3zm27 0h6v16h-6zm85 0h12v16h-12zm36 0h12v16h-12zm118 0h6v16h-6zm37 0h12v16h-12zm154 -16h3v32h-3zm15 0h3v32h-3zm-463 0h6v16h-6zm66 -15h3v31h-3zm19 15h6v16h-6zm12 0h6v16h-6zm60 -15h6v31h-6zm197 15h12v16h-12zm25 -15h6v31h-6zm54 15h6v16h-6zm-330 -15h6v15h-6zm24 0h6v15h-6zm58 0h6v15h-6zm36 0h6v15h-6zm55 0h6v15h-6zm18 0h6v15h-6zm60 0h6v15h-6zm49 0h6v15h-6zm-288 -16h12v16h-12zm124 0h6v16h-6zm73 -16h6v32h-6zm54 16h7v16h-7zm25 0h6v16h-6zm-397 -16h3v16h-3zm30 0h6v16h-6zm18 0h6v16h-6zm55 0h6v16h-6zm79 0h6v16h-6zm112 0h3v16h-3zm42 0h3v16h-3zm73 0h6v16h-6zm-379 -109h6v15h-6zm30 -16h3v31h-3zm67 16h6v15h-6zm55 0h6v15h-6zm39 0h6v15h-6zm139 0h12v15h-12zm-342 -16h6v16h-6zm85 -16h6v32h-6zm60 16h6v16h-6zm9 0h10v16h-10zm19 0h6v16h-6zm72 0h6v16h-6zm103 0h6v16h-6zm52 -16h6v32h-6zm-221 0h3v16h-3zm9 0h3v16h-3zm100 0h6v16h-6zm54 0h6v16h-6zm34 0h3v16h-3zm15 0h6v16h-6zm60 0h3v16h-3zm-469 -15h3v15h-3zm30 0h6v15h-6zm42 0h3v15h-3zm37 0h6v15h-6zm42 0h6v15h-6zm28 0h9v15h-9zm30 0h6v15h-6zm30 -16h6v31h-6zm24 16h6v15h-6zm55 -32h6v47h-6zm21 32h6v15h-6zm27 0h6v15h-6zm13 0h3v15h-3zm18 0h6v15h-6zm-373 -16h6v16h-6zm91 0h6v16h-6zm48 -47h6v63h-6zm28 47h6v16h-6zm181 0h7v16h-7zm37 -16h6v32h-6zm9 16h6v16h-6zm45 0h6v16h-6zm-366 -16h6v16h-6zm24 0h6v16h-6zm18 0h6v16h-6zm33 -31h7v47h-7zm43 31h3v16h-3zm136 0h15v16h-15zm28 0h3v16h-3zm-294 -15h6v15h-6zm24 0h6v15h-6zm42 0h6v15h-6zm40 0h9v15h-9zm60 0h6v15h-6zm31 0h6v15h-6zm24 0h6v15h-6zm60 0h13v15h-13zm-369 -16h3v16h-3zm51 0h6v16h-6zm43 0h6v16h-6zm24 -31h6v47h-6zm30 31h6v16h-6zm15 0h3v16h-3zm19 0h3v16h-3zm18 0h3v16h-3zm42 -16h6v32h-6zm97 16h3v16h-3zm15 0h9v16h-9zm15 0h6v16h-6zm28 0h9v16h-9zm24 -16h6v32h-6zm21 0h6v32h-6zm-397 0h6v16h-6zm55 -31h6v47h-6zm36 31h6v16h-6zm149 0h6v16h-6zm57 0h6v16h-6zm115 -15h3v31h-3zm-512 0h3v15h-3zm76 0h6v15h-6zm12 0h6v15h-6zm30 0h3v15h-3zm67 0h6v15h-6zm70 0h3v15h-3zm200 0h6v15h-6zm-391 -16h6v16h-6zm79 0h6v16h-6zm87 0h7v16h-7zm10 0h6v16h-6zm33 0h3v16h-3zm124 0h6v16h-6zm21 -16h6v32h-6zm109 0h3v32h-3zm-481 0h3v16h-3zm12 0h3v16h-3zm30 0h6v16h-6zm30 -15h3v31h-3zm31 15h6v16h-6zm54 0h6v16h-6zm52 0h3v16h-3zm182 0h3v16h-3zm15 0h3v16h-3zm36 0h6v16h-6zm-351 -15h12v15h-12zm24 0h6v15h-6zm48 0h6v15h-6zm12 0h6v15h-6zm25 0h3v15h-3zm130 0h6v15h-6zm79 0h6v15h-6zm21 0h6v15h-6zm21 0h6v15h-6z"/><path fill="#fff9bd" d="M238 1327h3v47h-3zm12 32h6v15h-6zm24 0h12v15h-12zm18 -16h6v31h-6zm91 16h3v15h-3zm15 0h3v15h-3zm73 0h6v15h-6zm49 0h9v15h-9zm30 0h6v15h-6zm18 0h6v15h-6zm9 -47h3v62h-3zm52 31h3v31h-3zm63 16h3v15h-3zm-375 -16h6v16h-6zm90 0h3v16h-3zm46 0h3v16h-3zm24 0h6v16h-6zm85 0h6v16h-6zm27 0h6v16h-6zm-415 -16h3v16h-3zm52 0h3v16h-3zm172 -15h3v31h-3zm40 15h6v16h-6zm54 0h9v16h-9zm40 -31h3v47h-3zm18 31h6v16h-6zm15 -31h3v47h-3zm76 16h6v31h-6zm24 15h9v16h-9zm-424 -15h3v15h-3zm51 0h6v15h-6zm91 -16h3v31h-3zm70 -16h3v47h-3zm42 16h6v31h-6zm67 0h3v31h-3zm21 0h6v31h-6zm82 16h3v15h-3zm18 0h6v15h-6zm9 0h3v15h-3zm-454 -16h3v16h-3zm36 0h6v16h-6zm152 0h3v16h-3zm66 0h3v16h-3zm22 0h6v16h-6zm36 0h6v16h-6zm18 0h6v16h-6zm21 0h6v16h-6zm-366 -16h3v16h-3zm57 0h6v16h-6zm24 0h6v16h-6zm13 0h6v16h-6zm100 0h3v16h-3zm54 0h6v16h-6zm36 0h7v16h-7zm13 0h6v16h-6zm103 0h9v16h-9zm18 0h6v16h-6zm51 0h3v16h-3zm-506 -62h3v15h-3zm440 0h3v15h-3zm-452 -16h3v16h-3zm64 -47h3v31h-3zm36 16h6v15h-6zm18 0h6v15h-6zm12 -16h6v31h-6zm94 16h3v15h-3zm19 0h3v15h-3zm36 -16h3v31h-3zm42 16h6v15h-6zm12 0h7v15h-7zm55 0h6v15h-6zm21 0h12v15h-12zm46 0h3v15h-3zm39 0h6v15h-6zm-445 -16h3v16h-3zm18 -31h3v47h-3zm142 15h3v32h-3zm94 16h6v16h-6zm85 0h3v16h-3zm27 0h6v16h-6zm34 -31h6v47h-6zm18 31h6v16h-6zm24 -31h3v47h-3zm-415 -16h6v47h-6zm245 31h6v16h-6zm25 0h9v16h-9zm45 -15h3v31h-3zm103 0h6v31h-6zm-388 0h6v15h-6zm24 0h6v15h-6zm149 0h3v15h-3zm18 0h6v15h-6zm91 0h3v15h-3zm27 -16h6v31h-6zm52 16h6v15h-6zm48 0h3v15h-3zm-466 -16h3v16h-3zm15 0h3v16h-3zm54 -31h6v47h-6zm91 31h3v16h-3zm43 0h3v16h-3zm12 -16h6v32h-6zm69 16h22v16h-22zm70 -16h3v32h-3zm6 0h6v32h-6zm100 0h6v32h-6zm-497 0h3v16h-3zm55 -31h3v47h-3zm63 31h6v16h-6zm94 0h3v16h-3zm109 -15h7v31h-7zm13 15h6v16h-6zm121 0h6v16h-6zm27 0h6v16h-6zm-394 -15h12v15h-12zm179 -16h3v31h-3zm18 16h12v15h-12zm24 0h6v15h-6zm67 0h3v15h-3zm6 0h6v15h-6zm61 0h3v15h-3zm36 0h3v15h-3zm-415 -16h6v16h-6zm24 0h6v16h-6zm43 0h6v16h-6zm121 0h6v16h-6zm54 -63h3v79h-3zm28 63h9v16h-9zm45 0h3v16h-3zm12 0h3v16h-3zm46 -16h6v32h-6zm60 0h6v32h-6zm-379 0h6v16h-6zm79 0h3v16h-3zm15 -15h3v31h-3zm9 15h3v16h-3zm19 -15h3v31h-3zm45 -16h6v47h-6zm61 31h3v16h-3zm36 -15h6v31h-6zm97 -32h3v63h-3zm24 47h3v16h-3zm-451 -31h3v31h-3zm12 16h6v15h-6zm257 0h7v15h-7zm-281 -16h3v16h-3zm15 0h3v16h-3zm39 0h6v16h-6zm103 0h3v16h-3zm34 0h3v16h-3zm103 0h9v16h-9zm63 -16h12v32h-12zm46 -15h3v47h-3zm12 15h6v32h-6zm27 16h6v16h-6zm15 0h12v16h-12zm-433 -31h6v31h-6zm24 0h6v31h-6zm18 15h6v16h-6zm12 0h6v16h-6zm13 0h6v16h-6zm81 -15h3v31h-3zm79 15h6v16h-6zm30 0h7v16h-7zm25 -15h3v31h-3zm45 0h3v31h-3zm112 15h6v16h-6zm-515 -15h3v15h-3zm52 0h3v15h-3zm54 0h6v15h-6zm137 0h3v15h-3zm21 0h6v15h-6zm33 0h6v15h-6zm43 0h15v15h-15zm48 0h6v15h-6zm61 0h6v15h-6z"/><path fill="#fff2ad" d="M286 1327h6v47h-6zm49 32h6v15h-6zm54 0h6v15h-6zm46 -16h3v31h-3zm9 16h3v15h-3zm21 0h6v15h-6zm79 0h6v15h-6zm66 -16h7v31h-7zm52 0h3v31h-3zm15 16h6v15h-6zm-433 -16h6v16h-6zm79 -16h6v32h-6zm18 16h6v16h-6zm36 0h6v16h-6zm33 0h7v16h-7zm10 0h6v16h-6zm63 0h9v16h-9zm43 0h3v16h-3zm24 0h6v16h-6zm24 -31h3v47h-3zm109 31h6v16h-6zm12 -31h6v47h-6zm-454 15h3v16h-3zm15 0h6v16h-6zm103 0h6v16h-6zm27 0h3v16h-3zm61 0h6v16h-6zm136 0h6v16h-6zm12 0h3v16h-3zm61 0h6v16h-6zm45 0h6v16h-6zm-457 -15h6v15h-6zm91 0h6v15h-6zm42 -32h6v47h-6zm43 32h6v15h-6zm24 0h3v15h-3zm15 0h6v15h-6zm30 0h3v15h-3zm12 0h6v15h-6zm43 0h12v15h-12zm24 0h6v15h-6zm42 0h7v15h-7zm79 0h3v15h-3zm-421 -16h6v16h-6zm42 -31h3v47h-3zm13 31h6v16h-6zm48 0h6v16h-6zm39 0h7v16h-7zm97 0h7v16h-7zm31 0h6v16h-6zm42 -16h3v32h-3zm15 16h3v16h-3zm34 0h3v16h-3zm33 -16h3v32h-3zm30 16h3v16h-3zm-506 -31h3v31h-3zm49 15h3v16h-3zm27 0h6v16h-6zm73 0h6v16h-6zm112 0h6v16h-6zm36 0h9v16h-9zm67 0h6v16h-6zm33 -15h6v31h-6zm27 15h7v16h-7zm22 0h3v16h-3zm57 0h3v16h-3zm6 0h6v16h-6zm12 0h3v16h-3zm-512 -15h3v15h-3zm76 0h9v15h-9zm15 0h3v15h-3zm18 0h6v15h-6zm25 0h6v15h-6zm27 0h9v15h-9zm45 0h3v15h-3zm9 0h7v15h-7zm10 0h6v15h-6zm24 0h3v15h-3zm18 0h6v15h-6zm27 0h3v15h-3zm9 0h3v15h-3zm28 0h3v15h-3zm18 0h6v15h-6zm12 0h12v15h-12zm18 0h3v15h-3zm43 0h3v15h-3zm18 0h6v15h-6zm15 0h6v15h-6zm48 0h6v15h-6zm-518 -47h3v15h-3zm67 -32h3v47h-3zm24 32h6v15h-6zm39 0h3v15h-3zm40 -32h6v47h-6zm42 32h3v15h-3zm40 -32h3v47h-3zm18 16h3v31h-3zm76 -16h3v47h-3zm24 32h6v15h-6zm57 0h3v15h-3zm7 0h6v15h-6zm45 -32h3v47h-3zm18 32h3v15h-3zm-494 -16h3v16h-3zm40 0h3v16h-3zm48 0h3v16h-3zm21 0h3v16h-3zm52 0h6v16h-6zm21 -16h3v32h-3zm9 16h6v16h-6zm27 0h3v16h-3zm9 -16h7v32h-7zm37 0h3v32h-3zm12 0h3v32h-3zm9 16h3v16h-3zm27 -16h9v32h-9zm73 0h3v32h-3zm30 0h3v32h-3zm6 0h3v32h-3zm31 0h6v32h-6zm9 0h3v32h-3zm6 16h6v16h-6zm33 -31h3v47h-3zm6 15h6v32h-6zm-460 0h3v16h-3zm6 -15h3v31h-3zm6 15h6v16h-6zm27 0h3v16h-3zm9 0h3v16h-3zm9 0h6v16h-6zm18 0h3v16h-3zm19 0h12v16h-12zm15 0h3v16h-3zm9 0h3v16h-3zm9 0h3v16h-3zm12 0h9v16h-9zm18 0h9v16h-9zm37 0h3v16h-3zm6 0h3v16h-3zm85 0h6v16h-6zm51 0h3v16h-3zm9 -15h3v31h-3zm12 15h3v16h-3zm9 0h3v16h-3zm6 0h3v16h-3zm6 0h3v16h-3zm10 -15h3v31h-3zm24 15h3v16h-3zm6 0h6v16h-6zm15 -15h3v31h-3zm18 -16h3v47h-3zm6 16h3v31h-3zm9 15h12v16h-12zm-439 -15h12v15h-12zm130 0h3v15h-3zm15 0h6v15h-6zm137 0h6v15h-6zm42 -32h3v47h-3zm97 16h3v31h-3zm-391 0h6v16h-6zm79 0h6v16h-6zm12 -31h6v47h-6zm167 31h6v16h-6zm91 0h6v16h-6zm54 0h3v16h-3zm6 0h6v16h-6zm-451 -16h6v16h-6zm85 -15h6v31h-6zm30 15h6v16h-6zm30 0h6v16h-6zm76 -15h6v31h-6zm18 -32h6v63h-6zm18 47h19v16h-19zm-266 -47h3v47h-3zm151 32h3v15h-3zm24 0h7v15h-7zm34 -47h3v62h-3zm94 47h6v15h-6zm30 0h6v15h-6zm27 0h3v15h-3zm37 -32h3v47h-3zm21 32h3v15h-3zm24 0h6v15h-6zm-491 -16h3v16h-3zm58 -16h6v32h-6zm145 16h6v16h-6zm100 -16h3v32h-3zm73 16h3v16h-3zm42 -16h6v32h-6zm58 0h3v32h-3zm-406 0h6v16h-6zm67 0h12v16h-12zm18 0h6v16h-6zm45 -15h3v31h-3zm152 15h12v16h-12zm36 0h3v16h-3zm79 -15h3v31h-3zm-430 0h3v15h-3zm39 -16h6v31h-6zm67 16h6v15h-6zm30 0h6v15h-6zm61 0h6v15h-6zm94 0h6v15h-6zm66 0h9v15h-9zm-397 -32h3v32h-3zm121 16h9v16h-9zm31 0h12v16h-12zm112 0h6v16h-6zm36 -16h6v32h-6zm61 16h6v16h-6zm39 0h6v16h-6zm34 0h3v16h-3zm45 0h3v16h-3zm-455 -47h3v47h-3zm28 16h3v31h-3zm9 15h6v16h-6zm24 0h6v16h-6zm91 -31h6v47h-6zm61 31h6v16h-6zm15 0h3v16h-3zm66 -31h6v47h-6zm13 16h6v31h-6zm24 0h6v31h-6zm12 15h6v16h-6zm54 0h6v16h-6zm28 0h3v16h-3zm15 -15h9v31h-9zm60 15h3v16h-3zm-384 -15h12v15h-12zm63 0h3v15h-3zm109 0h6v15h-6zm49 -16h6v31h-6zm30 16h3v15h-3zm6 0h3v15h-3zm76 0h6v15h-6zm-488 -16h3v16h-3zm12 0h3v16h-3zm43 -31h3v47h-3zm33 15h6v32h-6zm30 16h6v16h-6zm24 0h3v16h-3zm91 0h6v16h-6zm82 0h6v16h-6zm79 0h3v16h-3zm48 0h7v16h-7zm22 0h9v16h-9zm15 0h6v16h-6zm-406 -16h3v16h-3zm82 0h6v16h-6zm97 0h6v16h-6zm118 0h6v16h-6zm36 0h3v16h-3zm21 0h3v16h-3zm-415 -15h6v15h-6zm149 0h12v15h-12zm24 0h12v15h-12zm33 0h3v15h-3zm24 0h7v15h-7zm34 0h9v15h-9zm45 0h3v15h-3zm61 0h6v15h-6zm33 0h6v15h-6zm21 0h6v15h-6zm37 0h6v15h-6zm21 0h3v15h-3zm30 0h3v15h-3z"/><path fill="#ffec9e" d="M216 1359h4v15h-4zm10 0h3v15h-3zm97 0h6v15h-6zm-67 -16h6v16h-6zm24 0h6v16h-6zm18 0h3v16h-3zm128 0h3v16h-3zm45 0h6v16h-6zm161 0h3v16h-3zm-255 -16h6v16h-6zm67 0h3v16h-3zm185 -15h3v31h-3zm-455 -16h3v31h-3zm76 16h12v15h-12zm221 0h6v15h-6zm146 0h3v15h-3zm84 0h6v15h-6zm-521 -16h6v16h-6zm9 0h3v16h-3zm24 -16h3v32h-3zm194 16h3v16h-3zm-212 -16h3v16h-3zm49 0h6v16h-6zm194 0h9v16h-9zm-255 -15h3v15h-3zm43 0h6v15h-6zm9 0h3v15h-3zm12 0h9v15h-9zm12 0h12v15h-12zm36 0h6v15h-6zm22 0h3v15h-3zm9 0h3v15h-3zm9 0h21v15h-21zm30 0h15v15h-15zm18 0h12v15h-12zm15 0h3v15h-3zm6 0h6v15h-6zm25 0h12v15h-12zm18 0h9v15h-9zm12 0h3v15h-3zm9 0h15v15h-15zm24 0h6v15h-6zm9 0h22v15h-22zm37 0h6v15h-6zm30 0h6v15h-6zm9 0h6v15h-6zm15 0h9v15h-9zm12 0h13v15h-13zm25 0h6v15h-6zm12 0h9v15h-9zm15 0h6v15h-6zm9 0h9v15h-9zm12 0h9v15h-9zm15 0h6v15h-6zm15 0h3v15h-3zm-503 -47h3v15h-3zm9 0h3v15h-3zm22 0h12v15h-12zm54 0h9v15h-9zm43 -16h9v31h-9zm30 -16h3v47h-3zm55 32h6v15h-6zm45 -32h3v47h-3zm9 32h6v15h-6zm21 0h6v15h-6zm9 0h6v15h-6zm13 -16h6v31h-6zm30 -31h6v62h-6zm12 15h9v47h-9zm91 32h12v15h-12zm42 0h12v15h-12zm-494 -16h3v16h-3zm40 0h3v16h-3zm6 0h3v16h-3zm15 0h15v16h-15zm30 0h6v16h-6zm9 -16h3v32h-3zm12 0h6v32h-6zm16 16h3v16h-3zm6 0h3v16h-3zm12 -16h3v32h-3zm15 16h6v16h-6zm12 0h6v16h-6zm15 0h12v16h-12zm21 -16h6v32h-6zm16 16h6v16h-6zm21 0h6v16h-6zm24 -16h3v32h-3zm6 0h3v32h-3zm12 0h3v32h-3zm21 0h10v32h-10zm16 16h3v16h-3zm18 -16h3v32h-3zm27 16h3v16h-3zm6 0h6v16h-6zm36 0h13v16h-13zm19 -16h6v32h-6zm15 16h3v16h-3zm6 0h3v16h-3zm9 -16h3v32h-3zm6 16h3v16h-3zm6 0h3v16h-3zm9 -16h3v32h-3zm9 16h3v16h-3zm15 0h9v16h-9zm-533 -16h3v16h-3zm82 0h18v16h-18zm21 0h6v16h-6zm9 0h6v16h-6zm12 0h3v16h-3zm6 0h3v16h-3zm37 0h3v16h-3zm9 0h3v16h-3zm15 0h3v16h-3zm18 -15h3v31h-3zm21 15h6v16h-6zm22 0h3v16h-3zm15 0h3v16h-3zm9 -15h3v31h-3zm6 15h3v16h-3zm18 0h3v16h-3zm12 0h3v16h-3zm6 0h6v16h-6zm37 0h3v16h-3zm9 0h3v16h-3zm9 0h3v16h-3zm30 0h3v16h-3zm9 0h6v16h-6zm30 -15h7v31h-7zm13 15h3v16h-3zm9 0h3v16h-3zm21 -15h3v31h-3zm18 15h3v16h-3zm36 0h3v16h-3zm-527 -31h3v31h-3zm15 16h3v15h-3zm212 0h3v15h-3zm31 -16h6v31h-6zm51 16h6v15h-6zm203 0h3v15h-3zm-509 -16h3v16h-3zm67 0h6v16h-6zm209 0h6v16h-6zm79 0h6v16h-6zm79 0h3v16h-3zm-443 -16h3v16h-3zm21 0h3v16h-3zm18 0h3v16h-3zm13 -15h3v31h-3zm181 15h3v16h-3zm82 0h6v16h-6zm-306 -31h3v31h-3zm324 16h7v15h-7zm185 0h3v15h-3zm-488 -16h3v16h-3zm6 0h3v16h-3zm70 -16h6v32h-6zm55 16h6v16h-6zm197 -16h3v32h-3zm121 16h3v16h-3zm-458 -16h3v16h-3zm91 -15h6v31h-6zm131 15h3v16h-3zm78 0h6v16h-6zm-269 -15h3v15h-3zm369 0h3v15h-3zm82 0h6v15h-6zm-482 -16h3v16h-3zm231 0h3v16h-3zm88 0h6v16h-6zm-334 -16h3v16h-3zm46 0h3v16h-3zm103 0h6v16h-6zm48 0h6v16h-6zm264 0h6v16h-6zm-473 -15h3v15h-3zm6 0h3v15h-3zm233 0h3v15h-3zm261 0h6v15h-6zm39 0h3v15h-3zm-497 -16h3v16h-3zm6 -16h4v16h-4zm19 0h3v16h-3zm-67 -15h3v15h-3zm21 0h3v15h-3zm21 0h3v15h-3zm443 0h3v15h-3zm15 0h6v15h-6z"/><path fill="#ffe590" d="M207 1343h3v31h-3zm22 16h3v15h-3zm69 0h3v15h-3zm-124 -16h3v16h-3zm39 -31h3v47h-3zm264 -16h6v47h-6zm140 31h3v16h-3zm-319 -31h3v31h-3zm228 0h3v31h-3zm91 -16h3v32h-3zm-234 0h6v16h-6zm-160 -15h3v15h-3zm18 0h6v15h-6zm15 0h3v15h-3zm33 0h6v15h-6zm31 0h6v15h-6zm163 0h6v15h-6zm179 0h3v15h-3zm24 0h6v15h-6zm18 0h3v15h-3zm-478 -47h6v15h-6zm78 0h6v15h-6zm25 0h3v15h-3zm15 0h6v15h-6zm57 0h3v15h-3zm9 0h7v15h-7zm58 0h3v15h-3zm64 0h3v15h-3zm33 0h9v15h-9zm33 0h3v15h-3zm31 0h3v15h-3zm9 0h9v15h-9zm-425 -16h3v16h-3zm-27 -31h3v31h-3zm27 0h3v15h-3zm158 0h6v15h-6zm-197 -16h3v16h-3zm46 0h3v16h-3zm269 0h6v16h-6zm121 -16h7v16h-7zm-430 -31h3v31h-3zm309 16h6v15h-6zm-282 -32h3v32h-3zm13 0h3v32h-3zm-4 -15h4v31h-4zm155 15h6v16h-6zm143 0h6v16h-6zm-328 -15h3v15h-3zm131 0h6v15h-6zm233 0h6v15h-6zm-337 -16h3v16h-3zm246 -16h6v32h-6zm36 16h6v16h-6zm55 -47h6v31h-6zm-364 -16h3v32h-3zm6 16h3v16h-3zm-3 -16h3v16h-3zm18 0h3v16h-3zm13 -15h3v15h-3z"/><path fill="#fede81" d="M201 1359h3v15h-3zm9 -16h3v16h-3zm-21 -31h3v31h-3zm109 15h3v16h-3zm228 0h3v16h-3zm-316 -15h3v15h-3zm255 -32h6v32h-6zm-258 0h3v16h-3zm91 0h3v16h-3zm179 0h6v16h-6zm49 0h3v16h-3zm69 0h3v16h-3zm-424 -15h3v15h-3zm403 -47h3v31h-3zm127 0h3v31h-3zm-448 0h18v15h-18zm24 0h12v15h-12zm43 0h3v15h-3zm21 0h3v15h-3zm18 0h3v15h-3zm6 0h15v15h-15zm24 0h3v15h-3zm15 0h6v15h-6zm19 0h6v15h-6zm36 0h3v15h-3zm6 0h3v15h-3zm12 -16h6v31h-6zm9 16h6v15h-6zm21 0h7v15h-7zm13 0h3v15h-3zm63 0h3v15h-3zm6 0h3v15h-3zm15 0h3v15h-3zm31 0h3v15h-3zm27 0h9v15h-9zm21 0h6v15h-6zm-482 -16h3v16h-3zm228 0h3v16h-3zm-234 -16h3v16h-3zm-24 -15h3v15h-3zm146 -79h6v94h-6zm148 79h6v15h-6zm36 0h6v15h-6zm-324 -16h3v16h-3zm27 0h3v16h-3zm167 -47h6v63h-6zm179 47h6v16h-6zm60 0h7v16h-7zm85 -78h6v78h-6zm-527 31h3v31h-3zm36 16h3v15h-3zm6 0h3v15h-3zm340 0h6v15h-6zm60 0h7v15h-7zm-412 -16h6v16h-6zm209 -16h3v32h-3zm-230 -31h3v47h-3zm21 31h3v16h-3zm261 -15h6v31h-6zm-88 0h6v15h-6zm-24 -16h6v16h-6zm-170 -31h3v15h-3zm24 0h6v15h-6zm9 0h3v15h-3zm137 -16h6v31h-6zm-164 0h3v16h-3zm18 0h3v16h-3zm258 0h6v16h-6zm-264 -16h3v16h-3zm355 0h6v16h-6zm-321 -15h3v15h-3zm230 0h6v15h-6z"/><path fill="#fed672" d="M168 1359h3v15h-3zm48 -32h4v32h-4zm-18 0h3v16h-3zm-27 -15h3v15h-3zm21 -16h3v16h-3zm24 0h4v16h-4zm-45 -16h3v16h-3zm21 -15h3v15h-3zm0 -47h3v15h-3zm24 -16h4v31h-4zm101 16h3v15h-3zm6 0h6v15h-6zm33 0h3v15h-3zm30 0h3v15h-3zm112 0h3v15h-3zm94 0h3v15h-3zm112 0h6v15h-6zm-536 -16h3v16h-3zm36 -16h3v16h-3zm6 0h3v16h-3zm10 0h3v16h-3zm169 -15h6v15h-6zm-179 -16h6v16h-6zm255 0h6v16h-6zm-245 -31h3v31h-3zm-22 0h3v15h-3zm209 0h3v15h-3zm52 -16h6v31h-6zm-267 0h3v16h-3zm24 0h4v16h-4zm-12 -16h3v16h-3zm16 -31h3v31h-3zm-49 -16h3v32h-3zm524 16h6v16h-6zm-527 -16h3v16h-3zm36 0h3v16h-3zm9 0h3v16h-3zm134 0h6v16h-6zm112 -15h6v15h-6zm-261 -16h3v16h-3zm6 -16h3v32h-3zm-12 0h3v16h-3zm155 -15h6v31h-6zm112 15h6v16h-6z"/><path fill="#fec864" d="M201 1327h3v16h-3zm19 0h3v16h-3zm9 0h3v16h-3zm-46 -15h3v15h-3zm46 -32h3v32h-3zm-28 -15h3v15h-3zm122 -16h6v16h-6zm27 0h6v16h-6zm9 0h6v16h-6zm15 0h6v16h-6zm12 0h6v16h-6zm91 0h6v16h-6zm15 0h3v16h-3zm25 0h6v16h-6zm54 0h6v16h-6zm-370 -31h3v15h-3zm43 -16h3v16h-3zm339 0h3v16h-3zm115 0h3v16h-3zm-521 -31h3v31h-3zm33 0h3v15h-3zm19 -16h3v16h-3zm160 0h6v16h-6zm-188 -63h3v16h-3zm9 0h3v16h-3zm-9 -47h3v16h-3zm494 0h6v16h-6zm-494 -62h3v15h-3z"/><path fill="#feba55" d="M229 1343h3v16h-3zm0 -31h3v15h-3zm-22 -47h3v15h-3zm134 -16h3v16h-3zm69 0h3v16h-3zm13 0h6v16h-6zm15 0h12v16h-12zm15 0h3v16h-3zm6 0h6v16h-6zm9 0h3v16h-3zm91 0h3v16h-3zm-367 -63h3v32h-3zm37 16h3v16h-3zm88 0h6v16h-6zm9 0h3v16h-3zm160 0h6v16h-6zm-288 -172h3v31h-3zm31 -32h3v16h-3zm-58 -15h3v15h-3z"/><path fill="#fead4a" d="M220 1265h3v47h-3zm78 -16h3v16h-3zm37 0h6v16h-6zm21 0h3v16h-3zm9 0h6v16h-6zm18 0h3v16h-3zm15 0h9v16h-9zm22 0h3v16h-3zm36 0h3v16h-3zm9 0h3v16h-3zm6 0h6v16h-6zm15 0h6v16h-6zm9 0h6v16h-6zm15 0h4v16h-4zm40 0h9v16h-9zm-300 -47h6v16h-6zm24 0h6v16h-6zm30 0h3v16h-3zm391 0h3v16h-3zm-524 -63h3v32h-3zm42 -62h3v47h-3z"/><path fill="#fea044" d="M177 1312h3v15h-3zm3 -32h3v16h-3zm0 -31h6v16h-6zm124 0h3v16h-3zm13 0h6v16h-6zm27 0h6v16h-6zm48 0h6v16h-6zm21 0h4v16h-4zm16 0h6v16h-6zm21 0h3v16h-3zm51 0h6v16h-6zm13 0h3v16h-3zm18 0h3v16h-3zm6 0h12v16h-12zm30 0h3v16h-3zm-388 -47h3v16h-3zm3 -63h3v16h-3zm40 -15h3v31h-3zm-16 -47h3v15h-3zm9 -16h4v16h-4zm13 -31h3v15h-3z"/><path fill="#fd933f" d="M186 1296h3v47h-3zm-18 -47h6v16h-6zm27 0h3v16h-3zm18 0h3v16h-3zm67 0h3v16h-3zm9 0h9v16h-9zm21 0h3v16h-3zm19 0h6v16h-6zm42 0h3v16h-3zm36 0h3v16h-3zm10 0h3v16h-3zm66 0h3v16h-3zm24 0h3v16h-3zm16 0h6v16h-6zm39 0h6v16h-6zm15 0h9v16h-9zm-351 -63h3v32h-3zm-43 -15h3v31h-3zm-12 -63h3v31h-3zm9 -47h3v31h-3zm15 -31h3v31h-3z"/><path fill="#fd8239" d="M168 1139h3v16h-3zm6 -94h3v47h-3z"/><path fill="#fc6c33" d="M223 1296h3v31h-3zm27 -47h6v16h-6zm430 0h6v16h-6zm12 0h12v16h-12zm-503 -235h3v31h-3zm-12 -16h3v16h-3z"/><path fill="#fc562c" d="M168 1312h3v31h-3zm94 -63h3v16h-3zm6 0h3v16h-3zm339 0h3v16h-3zm10 0h3v16h-3zm-434 -31h3v15h-3zm-9 -126h3v47h-3zm55 0h3v32h-3zm-28 -31h3v31h-3zm9 0h3v31h-3z"/><path fill="#f74327" d="M204 1343h3v16h-3zm28 0h3v16h-3zm-25 -31h3v31h-3zm173 -47h3v15h-3zm-188 -16h3v16h-3zm82 0h6v16h-6zm367 0h3v16h-3zm-470 -63h3v47h-3zm209 -15h3v31h-3zm294 0h3v31h-3zm-467 -47h3v47h-3zm-39 -63h3v31h-3zm24 -16h3v16h-3z"/><path fill="#ee3122" d="M171 1343h3v31h-3zm503 -16h3v47h-3zm-491 16h3v16h-3zm18 -63h3v47h-3zm100 0h3v32h-3zm-112 -31h3v16h-3zm76 0h3v16h-3zm321 0h3v16h-3zm24 0h4v16h-4zm-309 -16h3v16h-3zm-94 -31h3v31h-3zm91 0h3v31h-3zm15 -31h4v62h-4zm82 31h3v31h-3zm146 0h3v31h-3zm82 0h3v31h-3zm48 0h3v31h-3zm-458 -78h3v15h-3zm-27 -79h3v32h-3z"/><path fill="#e51f1d" d="M210 1265h3v47h-3zm-6 15h3v16h-3zm12 -15h4v31h-4zm373 -16h3v31h-3zm12 0h3v31h-3zm-375 0h6v16h-6zm9 0h9v16h-9zm48 0h6v16h-6zm352 0h6v16h-6zm24 0h6v16h-6zm9 0h3v16h-3zm36 0h6v16h-6zm-527 -16h3v16h-3zm9 0h3v16h-3zm249 -31h3v31h-3zm245 0h3v31h-3zm-488 -63h3v47h-3zm-15 -31h3v16h-3zm15 -47h3v31h-3zm31 -31h3v47h-3zm-3 -32h3v47h-3zm-49 0h3v32h-3z"/><path fill="#d9131f" d="M195 1296h3v47h-3zm-18 -31h3v47h-3zm497 15h3v16h-3zm-470 -15h3v15h-3zm-18 -16h3v16h-3zm12 0h3v16h-3zm49 0h3v16h-3zm24 0h3v16h-3zm343 0h3v16h-3zm6 0h6v16h-6zm12 0h3v16h-3zm12 0h6v16h-6zm42 0h6v16h-6zm-488 -63h3v47h-3zm182 16h3v31h-3zm200 0h3v31h-3zm15 0h3v31h-3zm37 0h3v31h-3zm-452 -16h3v16h-3zm-12 -31h3v31h-3zm64 0h3v16h-3zm69 -63h3v63h-3zm-69 -15h3v47h-3zm163 0h3v47h-3z"/><path fill="#cc0a22" d="M226 1280h3v47h-3zm-58 -15h3v47h-3zm6 -16h6v16h-6zm27 0h6v16h-6zm19 0h3v16h-3zm36 0h6v16h-6zm336 0h6v16h-6zm64 0h3v16h-3zm-440 -94h4v47h-4zm13 16h3v15h-3zm0 -47h3v15h-3zm-55 -126h3v32h-3z"/><path fill="#bf0126" d="M207 1249h6v16h-6zm25 0h3v16h-3zm366 0h3v16h-3zm6 0h3v16h-3zm22 0h6v16h-6zm24 0h6v16h-6zm15 0h3v16h-3zm9 0h6v16h-6zm-503 -16h3v16h-3z"/><path fill="#aa0026" d="M189 1343h3v31h-3zm27 -94h4v16h-4zm7 0h3v16h-3zm21 0h3v16h-3zm63 0h3v16h-3zm73 -16h3v32h-3zm55 16h3v16h-3zm100 -16h3v32h-3zm136 16h3v16h-3zm-488 -16h3v16h-3zm403 -31h3v31h-3zm15 0h3v31h-3zm73 -94h3v31h-3zm-139 -78h3v47h-3z"/><path fill="#950026" d="M177 1343h6v31h-6zm15 0h6v31h-6zm-24 -110h3v16h-3zm6 0h3v16h-3zm6 0h3v16h-3zm12 0h40v16h-40zm43 0h66v16h-66zm69 0h76v16h-76zm79 0h12v16h-12zm15 0h137v16h-137zm140 0h36v16h-36zm39 0h124v16h-124zm127 0h6v16h-6zm-169 -31h3v31h-3z"/></g></g>
<rect x="168" y="996.3" width="542.5" height="376" fill="none" stroke="#8a8a7a" stroke-width="1.3"/>
<path d="M168 1372.3v-5M168 996.3v5M228.6 1372.3v-5M228.6 996.3v5M289.2 1372.3v-5M289.2 996.3v5M349.8 1372.3v-5M349.8 996.3v5M410.5 1372.3v-5M410.5 996.3v5M471.1 1372.3v-5M471.1 996.3v5M531.7 1372.3v-5M531.7 996.3v5M592.3 1372.3v-5M592.3 996.3v5M652.9 1372.3v-5M652.9 996.3v5M168 1372.3h5M710.5 1372.3h-5M168 1330.5h5M710.5 1330.5h-5M168 1288.7h5M710.5 1288.7h-5M168 1247h5M710.5 1247h-5M168 1205.2h5M710.5 1205.2h-5M168 1163.4h5M710.5 1163.4h-5M168 1121.6h5M710.5 1121.6h-5M168 1079.9h5M710.5 1079.9h-5M168 1038.1h5M710.5 1038.1h-5M168 996.3h5M710.5 996.3h-5" stroke="#8a8a7a" stroke-width="1.2" fill="none"/>
<g font-size="19.2" fill="#4a4a4a" text-anchor="end"><text x="162.5" y="1378.7">80</text><text x="162.5" y="1337">90</text><text x="162.5" y="1295.2">100</text><text x="162.5" y="1253.4">110</text><text x="162.5" y="1211.6">120</text><text x="162.5" y="1169.8">130</text><text x="162.5" y="1128.1">140</text><text x="162.5" y="1086.3">150</text><text x="162.5" y="1044.5">160</text><text x="162.5" y="1002.7">170</text></g><g font-size="19.2" fill="#4a4a4a" text-anchor="middle"><text x="168" y="1397.8">2</text><text x="228.6" y="1397.8">2.2</text><text x="289.2" y="1397.8">2.4</text><text x="349.8" y="1397.8">2.6</text><text x="410.5" y="1397.8">2.8</text><text x="471.1" y="1397.8">3</text><text x="531.7" y="1397.8">3.2</text><text x="592.3" y="1397.8">3.4</text><text x="652.9" y="1397.8">3.6</text></g>
<text x="365.7" y="1420.8" font-size="22.6" fill="#4a4a4a">Frequency/MHz</text>
<text transform="translate(120,1184.3) rotate(-90)" text-anchor="middle" font-size="22.8" fill="#4a4a4a">Virtual Height/km</text>
<g font-size="35.6" fill="#1e1e1e"><text x="260.9" y="1072">2021-06-08</text><text x="474.2" y="1072">23:03:23</text></g>
<linearGradient id="ga5" x1="0" y1="1" x2="0" y2="0"><stop offset="0.000" stop-color="#ffffcc"/><stop offset="0.125" stop-color="#ffeda0"/><stop offset="0.250" stop-color="#fed976"/><stop offset="0.375" stop-color="#feb24c"/><stop offset="0.500" stop-color="#fd8d3c"/><stop offset="0.625" stop-color="#fc4e2a"/><stop offset="0.750" stop-color="#e31a1c"/><stop offset="0.875" stop-color="#bd0026"/><stop offset="1.000" stop-color="#800026"/></linearGradient>
<rect x="720.3" y="996" width="24.4" height="373.5" fill="url(#ga5)" stroke="#8a8a7a" stroke-width="1.2"/>
<path d="M744.7 1332.2h-3.5M744.7 1294.8h-3.5M744.7 1257.5h-3.5M744.7 1220.1h-3.5M744.7 1182.8h-3.5M744.7 1145.4h-3.5M744.7 1108h-3.5M744.7 1070.7h-3.5M744.7 1033.3h-3.5M744.7 996h-3.5" stroke="#8a8a7a" stroke-width="1"/>
<g font-size="16" fill="#4a4a4a"><text x="749.7" y="1337.5">0.1</text><text x="749.7" y="1300.2">0.2</text><text x="749.7" y="1262.8">0.3</text><text x="749.7" y="1225.5">0.4</text><text x="749.7" y="1188.1">0.5</text><text x="749.7" y="1150.8">0.6</text><text x="749.7" y="1113.4">0.7</text><text x="749.7" y="1076.1">0.8</text><text x="749.7" y="1038.7">0.9</text><text x="749.7" y="1001.4">1</text></g>
<text x="732.5" y="986" text-anchor="middle" font-size="18.4" fill="#4a4a4a">Normalized Energy</text>
<clipPath id="ca6"><rect x="912.3" y="989.5" width="533.7" height="377.2"/></clipPath>
<g clip-path="url(#ca6)"><g filter="url(#bl1)"><path fill="#ffffcc" d="M924 976h6v393h-6zm9 0h6v393h-6zm42 0h6v393h-6zm48 0h3v393h-3zm29 0h6v393h-6zm33 0h3v393h-3zm6 0h12v393h-12zm75 0h12v393h-12z"/><path fill="#fff9bd" d="M915 976h3v393h-3zm15 0h3v393h-3zm9 0h3v393h-3zm6 0h30v393h-30zm42 0h9v393h-9zm12 0h6v393h-6zm12 0h12v393h-12zm21 0h11v393h-11zm14 0h6v393h-6zm12 0h3v393h-3zm9 0h6v393h-6zm12 0h6v393h-6zm24 0h45v393h-45zm48 0h15v393h-15zm27 0h3v393h-3zm9 0h6v393h-6zm12 0h47v393h-47zm53 0h3v393h-3zm15 0h3v393h-3zm24 0h6v393h-6zm63 0h3v393h-3zm47 0h6v393h-6z"/><path fill="#fff2ad" d="M918 976h6v393h-6zm63 0h6v393h-6zm15 0h3v393h-3zm47 0h3v393h-3zm21 0h3v393h-3zm24 0h3v393h-3zm60 0h3v393h-3zm33 0h6v393h-6zm65 0h6v393h-6zm63 0h3v393h-3zm6 0h12v393h-12zm18 0h3v393h-3zm15 0h6v393h-6zm23 0h6v393h-6zm18 0h9v393h-9zm24 0h9v393h-9z"/><path fill="#ffec9e" d="M1026 976h6v393h-6zm235 0h6v393h-6zm18 0h12v393h-12zm18 0h12v393h-12zm30 0h6v393h-6zm15 0h6v393h-6zm18 0h3v393h-3zm5 0h6v393h-6zm12 0h12v393h-12zm30 0h3v393h-3zm33 0h3v393h-3z"/><path fill="#ffe590" d="M1005 976h6v393h-6zm56 0h3v393h-3zm12 0h6v393h-6zm182 0h6v393h-6zm81 0h6v393h-6zm27 0h2v393h-2zm47 0h3v393h-3zm12 0h18v393h-18z"/><path fill="#fed672" d="M1193 976h3v393h-3z"/><path fill="#fec864" d="M942 976h3v393h-3zm501 0h3v393h-3z"/><path fill="#fd8239" d="M912 976h3v393h-3zm400 0h3v393h-3z"/><path fill="#fc562c" d="M1196 976h3v393h-3zm74 0h9v393h-9zm128 0h3v393h-3z"/><path fill="#bf0126" d="M1357 976h3v393h-3z"/><path fill="#ffffcc" d="M957 1353h3v16h-3zm89 -16h6v32h-6zm33 -15h6v47h-6zm72 31h9v16h-9zm53 0h6v16h-6zm-211 -31h3v31h-3zm27 15h3v16h-3zm12 0h6v16h-6zm86 -15h3v31h-3zm18 15h6v16h-6zm21 0h3v16h-3zm42 0h5v16h-5zm47 0h6v16h-6zm-235 -15h6v15h-6zm15 0h6v15h-6zm47 0h6v15h-6zm30 0h6v15h-6zm18 0h15v15h-15zm83 0h6v15h-6zm24 0h6v15h-6zm12 -16h6v31h-6zm12 16h3v15h-3zm-214 -16h5v16h-5zm89 -16h3v32h-3zm54 16h6v16h-6zm86 0h3v16h-3zm87 -16h3v32h-3zm-436 0h6v16h-6zm39 0h3v16h-3zm116 0h12v16h-12zm36 -16h6v32h-6zm9 16h3v16h-3zm30 0h3v16h-3zm9 0h3v16h-3zm65 0h12v16h-12zm-271 -16h6v16h-6zm42 0h3v16h-3zm74 0h6v16h-6zm12 0h6v16h-6zm24 0h6v16h-6zm33 0h6v16h-6zm51 0h6v16h-6zm29 0h6v16h-6zm12 0h6v16h-6zm39 0h3v16h-3zm81 0h6v16h-6zm-433 -15h3v15h-3zm30 -63h12v16h-12zm87 0h6v16h-6zm11 0h9v16h-9zm30 -32h6v48h-6zm30 32h6v16h-6zm12 0h12v16h-12zm21 -16h6v32h-6zm12 16h3v16h-3zm9 0h3v16h-3zm-227 -16h3v16h-3zm21 -16h6v32h-6zm45 16h3v16h-3zm15 0h6v16h-6zm9 0h3v16h-3zm6 0h6v16h-6zm53 -16h6v32h-6zm42 -31h6v63h-6zm30 47h6v16h-6zm27 0h9v16h-9zm32 0h6v16h-6zm12 -16h6v32h-6zm30 16h3v16h-3zm-295 -31h3v31h-3zm75 0h6v31h-6zm202 15h6v16h-6zm-304 -31h3v31h-3zm15 -16h6v47h-6zm75 32h3v15h-3zm-27 -32h3v32h-3zm45 16h5v16h-5zm92 0h3v16h-3zm18 0h3v16h-3zm45 0h3v16h-3zm11 0h6v16h-6zm24 0h6v16h-6zm39 0h3v16h-3zm81 0h6v16h-6zm56 0h3v16h-3zm12 0h3v16h-3zm-477 -16h3v16h-3zm18 0h3v16h-3zm54 0h6v16h-6zm21 0h6v16h-6zm14 -15h6v31h-6zm57 15h6v16h-6zm113 0h6v16h-6zm18 0h6v16h-6zm12 0h6v16h-6zm-331 -15h3v15h-3zm15 0h3v15h-3zm36 0h3v15h-3zm274 -16h6v31h-6zm114 16h3v15h-3zm-397 -16h3v16h-3zm54 0h6v16h-6zm9 0h3v16h-3zm59 0h6v16h-6zm24 0h6v16h-6zm15 0h3v16h-3zm18 0h6v16h-6zm15 0h6v16h-6zm77 0h6v16h-6zm18 0h9v16h-9zm-331 -16h3v16h-3zm30 -16h6v32h-6zm271 16h6v16h-6zm18 0h6v16h-6zm120 0h3v16h-3zm-403 -16h6v16h-6zm95 0h6v16h-6zm72 0h3v16h-3zm122 0h6v16h-6zm12 -15h3v31h-3zm-283 0h6v15h-6zm24 0h3v15h-3zm18 0h6v15h-6zm47 0h3v15h-3zm51 0h9v15h-9zm48 0h3v15h-3zm59 0h6v15h-6zm12 0h12v15h-12zm126 0h3v15h-3zm59 0h6v15h-6zm-447 -16h3v16h-3zm54 -31h3v47h-3zm26 31h6v16h-6zm33 0h6v16h-6zm24 -16h6v32h-6zm18 16h6v16h-6zm9 0h3v16h-3zm18 0h9v16h-9zm80 0h6v16h-6zm18 0h6v16h-6zm21 0h3v16h-3zm24 0h6v16h-6zm-340 -16h15v16h-15zm54 -15h6v31h-6zm27 15h6v16h-6zm32 0h3v16h-3zm54 0h3v16h-3zm39 -15h3v31h-3zm77 15h6v16h-6zm18 -15h3v31h-3zm-334 0h6v15h-6zm75 0h3v15h-3zm134 -16h3v31h-3zm9 16h6v15h-6zm63 0h5v15h-5zm23 -16h6v31h-6zm-271 0h6v16h-6zm15 0h3v16h-3zm51 0h3v16h-3zm29 0h6v16h-6zm12 0h3v16h-3zm57 0h3v16h-3zm36 0h6v16h-6zm30 0h6v16h-6zm29 0h6v16h-6zm24 0h12v16h-12zm120 0h3v16h-3z"/><path fill="#fff9bd" d="M924 1353h6v16h-6zm51 0h6v16h-6zm21 -16h3v32h-3zm27 0h9v32h-9zm29 16h6v16h-6zm36 -16h3v32h-3zm9 16h6v16h-6zm69 0h12v16h-12zm27 -16h3v32h-3zm122 0h6v32h-6zm18 -15h3v47h-3zm56 31h6v16h-6zm-471 -16h6v16h-6zm15 0h6v16h-6zm110 0h3v16h-3zm30 0h6v16h-6zm12 0h3v16h-3zm6 0h6v16h-6zm75 0h3v16h-3zm143 0h3v16h-3zm39 0h6v16h-6zm65 0h6v16h-6zm-438 -31h6v31h-6zm30 16h6v15h-6zm143 0h3v15h-3zm33 0h6v15h-6zm179 0h3v15h-3zm-436 -16h6v16h-6zm9 0h6v16h-6zm48 0h6v16h-6zm15 0h3v16h-3zm30 0h6v16h-6zm26 0h6v16h-6zm33 0h3v16h-3zm6 0h12v16h-12zm280 0h6v16h-6zm18 0h6v16h-6zm-346 -16h3v16h-3zm126 -16h6v32h-6zm77 16h6v16h-6zm167 0h6v16h-6zm-495 -16h6v16h-6zm87 0h6v16h-6zm18 0h9v16h-9zm29 0h6v16h-6zm12 0h3v16h-3zm84 0h3v16h-3zm18 0h3v16h-3zm167 0h3v16h-3zm-400 -78h6v16h-6zm164 0h6v16h-6zm84 0h6v16h-6zm-263 -16h12v16h-12zm63 -16h6v32h-6zm104 16h6v16h-6zm63 0h3v16h-3zm21 0h6v16h-6zm77 0h6v16h-6zm51 0h6v16h-6zm36 0h3v16h-3zm-409 -47h6v47h-6zm72 0h3v47h-3zm47 31h3v16h-3zm9 -15h6v31h-6zm36 0h3v31h-3zm9 -47h6v78h-6zm69 62h3v16h-3zm15 -15h6v31h-6zm190 0h6v31h-6zm27 15h3v16h-3zm-480 -15h6v15h-6zm57 0h6v15h-6zm116 -16h6v31h-6zm57 16h3v15h-3zm21 -32h6v47h-6zm24 32h3v15h-3zm92 0h6v15h-6zm48 -32h3v47h-3zm80 32h6v15h-6zm-370 -16h3v16h-3zm21 0h3v16h-3zm182 0h6v16h-6zm69 0h6v16h-6zm-397 -16h6v16h-6zm15 -15h6v31h-6zm42 15h12v16h-12zm110 0h3v16h-3zm63 0h3v16h-3zm18 0h3v16h-3zm119 0h6v16h-6zm24 0h3v16h-3zm39 0h6v16h-6zm41 0h3v16h-3zm-366 -31h3v31h-3zm29 16h6v15h-6zm123 0h3v15h-3zm71 0h6v15h-6zm149 0h3v15h-3zm-399 -16h3v16h-3zm68 -63h3v79h-3zm21 63h3v16h-3zm96 -16h6v32h-6zm128 16h3v16h-3zm6 0h6v16h-6zm27 0h6v16h-6zm-367 -16h6v16h-6zm191 -16h3v32h-3zm182 16h6v16h-6zm65 -16h6v32h-6zm-495 -15h12v31h-12zm15 15h6v16h-6zm90 0h3v16h-3zm62 -31h3v47h-3zm12 31h6v16h-6zm72 -15h6v31h-6zm77 0h6v31h-6zm69 0h6v31h-6zm-167 0h3v15h-3zm27 -32h3v47h-3zm122 32h6v15h-6zm12 0h3v15h-3zm33 0h6v15h-6zm-361 -16h6v16h-6zm71 -16h6v32h-6zm233 16h6v16h-6zm18 0h6v16h-6zm110 0h6v16h-6zm-495 -16h6v16h-6zm78 0h3v16h-3zm27 0h3v16h-3zm68 0h6v16h-6zm57 0h3v16h-3zm18 0h9v16h-9zm15 0h6v16h-6zm146 0h6v16h-6zm21 0h6v16h-6zm47 0h6v16h-6zm-462 -31h6v31h-6zm42 0h6v31h-6zm68 16h3v15h-3zm42 0h3v15h-3zm161 0h6v15h-6zm63 0h3v15h-3zm89 -16h3v31h-3zm-480 0h6v16h-6zm87 0h6v16h-6zm18 0h9v16h-9zm29 0h6v16h-6zm45 0h6v16h-6zm69 0h3v16h-3zm9 0h3v16h-3zm140 0h6v16h-6z"/><path fill="#fff2ad" d="M915 1322h3v47h-3zm18 31h6v16h-6zm36 0h6v16h-6zm30 0h12v16h-12zm59 -16h3v32h-3zm15 16h6v16h-6zm36 0h9v16h-9zm21 0h6v16h-6zm57 0h6v16h-6zm35 0h6v16h-6zm18 0h6v16h-6zm12 0h3v16h-3zm149 -16h6v32h-6zm-471 -31h3v47h-3zm15 31h12v16h-12zm15 0h9v16h-9zm27 0h6v16h-6zm18 0h15v16h-15zm104 0h6v16h-6zm18 0h6v16h-6zm15 -15h6v31h-6zm36 15h3v16h-3zm56 0h6v16h-6zm93 0h6v16h-6zm33 0h3v16h-3zm74 0h3v16h-3zm-510 -15h6v15h-6zm9 0h6v15h-6zm18 0h9v15h-9zm18 -16h6v31h-6zm48 16h3v15h-3zm21 0h5v15h-5zm113 0h6v15h-6zm9 -48h6v63h-6zm33 48h3v15h-3zm29 -16h6v31h-6zm39 16h9v15h-9zm18 0h6v15h-6zm63 0h6v15h-6zm-343 -16h18v16h-18zm33 0h6v16h-6zm14 0h6v16h-6zm27 0h6v16h-6zm42 0h3v16h-3zm6 -32h6v48h-6zm9 32h3v16h-3zm6 -16h6v32h-6zm42 0h3v32h-3zm32 0h6v32h-6zm81 16h12v16h-12zm146 0h3v16h-3zm-504 -16h6v16h-6zm12 0h6v16h-6zm21 0h3v16h-3zm39 0h12v16h-12zm18 0h9v16h-9zm15 0h5v16h-5zm29 0h6v16h-6zm24 0h6v16h-6zm12 0h6v16h-6zm39 0h6v16h-6zm9 0h6v16h-6zm42 -16h3v32h-3zm6 0h5v32h-5zm17 16h6v16h-6zm18 0h6v16h-6zm27 0h6v16h-6zm18 0h6v16h-6zm12 0h6v16h-6zm36 -16h6v32h-6zm101 16h6v16h-6zm-504 -16h6v16h-6zm36 0h6v16h-6zm113 0h6v16h-6zm54 0h3v16h-3zm77 0h6v16h-6zm51 0h6v16h-6zm42 0h6v16h-6zm57 0h3v16h-3zm80 0h3v16h-3zm-519 -62h3v15h-3zm36 0h3v15h-3zm27 0h3v15h-3zm15 0h3v15h-3zm6 -16h3v31h-3zm12 16h3v15h-3zm12 0h3v15h-3zm26 0h6v15h-6zm42 0h3v15h-3zm24 0h3v15h-3zm21 0h6v15h-6zm33 0h3v15h-3zm83 0h3v15h-3zm-292 -32h6v32h-6zm42 16h9v16h-9zm18 0h3v16h-3zm6 0h6v16h-6zm32 0h3v16h-3zm27 0h3v16h-3zm24 0h6v16h-6zm18 0h3v16h-3zm6 -16h3v32h-3zm27 16h6v16h-6zm33 -32h3v48h-3zm6 32h5v16h-5zm-284 -16h3v16h-3zm54 -16h6v32h-6zm188 0h3v32h-3zm9 16h3v16h-3zm161 -16h6v32h-6zm53 16h3v16h-3zm-393 -31h6v31h-6zm30 15h3v16h-3zm21 0h5v16h-5zm20 0h3v16h-3zm9 0h6v16h-6zm48 0h3v16h-3zm21 0h6v16h-6zm74 0h6v16h-6zm30 0h6v16h-6zm39 0h6v16h-6zm18 -15h6v31h-6zm63 0h3v31h-3zm-421 0h3v15h-3zm12 0h6v15h-6zm48 -16h6v31h-6zm12 16h6v15h-6zm116 0h3v15h-3zm6 0h3v15h-3zm27 0h6v15h-6zm44 0h6v15h-6zm18 0h6v15h-6zm12 -16h6v31h-6zm57 0h6v31h-6zm63 16h3v15h-3zm44 0h3v15h-3zm30 0h6v15h-6zm-471 -16h9v16h-9zm12 -16h6v32h-6zm63 16h6v16h-6zm26 0h3v16h-3zm9 -31h6v47h-6zm69 31h6v16h-6zm21 0h3v16h-3zm21 0h3v16h-3zm32 0h6v16h-6zm42 0h9v16h-9zm90 -31h6v47h-6zm35 31h6v16h-6zm57 0h3v16h-3zm-510 -31h6v31h-6zm42 15h3v16h-3zm54 -15h3v31h-3zm18 15h5v16h-5zm92 0h3v16h-3zm74 0h6v16h-6zm93 0h6v16h-6zm107 0h3v16h-3zm36 0h3v16h-3zm-483 -15h3v15h-3zm42 0h6v15h-6zm33 0h6v15h-6zm26 0h3v15h-3zm57 0h6v15h-6zm12 -16h3v31h-3zm51 0h3v31h-3zm149 16h6v15h-6zm107 -16h3v31h-3zm-519 0h3v16h-3zm18 0h6v16h-6zm12 0h6v16h-6zm15 0h9v16h-9zm57 0h3v16h-3zm98 -16h3v32h-3zm18 16h3v16h-3zm42 0h3v16h-3zm116 0h6v16h-6zm-367 -16h9v16h-9zm15 0h3v16h-3zm21 -16h6v32h-6zm51 0h6v32h-6zm9 16h3v16h-3zm18 0h5v16h-5zm65 -16h6v32h-6zm39 16h6v16h-6zm9 0h6v16h-6zm36 -31h6v47h-6zm17 31h6v16h-6zm36 0h6v16h-6zm45 -31h6v47h-6zm12 31h12v16h-12zm30 -16h6v32h-6zm33 16h3v16h-3zm41 -16h3v32h-3zm-435 0h3v16h-3zm33 0h6v16h-6zm122 -15h6v31h-6zm9 0h3v31h-3zm30 0h6v31h-6zm18 15h3v16h-3zm38 0h6v16h-6zm51 0h3v16h-3zm30 0h6v16h-6zm107 0h3v16h-3zm24 0h6v16h-6zm9 0h3v16h-3zm-417 -15h6v15h-6zm12 0h11v15h-11zm35 0h6v15h-6zm60 0h3v15h-3zm164 0h6v15h-6zm12 0h6v15h-6zm80 -16h6v31h-6zm39 16h6v15h-6zm-483 -16h3v16h-3zm21 0h6v16h-6zm15 -16h6v32h-6zm12 16h6v16h-6zm24 0h6v16h-6zm27 0h5v16h-5zm20 0h3v16h-3zm84 0h6v16h-6zm15 0h3v16h-3zm21 0h3v16h-3zm21 -16h11v32h-11zm143 0h6v32h-6zm12 16h3v16h-3zm44 0h9v16h-9zm36 0h3v16h-3zm6 0h3v16h-3zm-510 -16h3v16h-3zm36 -15h3v31h-3zm164 15h12v16h-12zm30 0h6v16h-6zm107 -15h3v31h-3zm12 15h12v16h-12zm86 0h6v16h-6zm12 0h6v16h-6zm-390 -15h6v15h-6zm39 0h6v15h-6zm12 0h5v15h-5zm20 0h3v15h-3zm60 0h3v15h-3zm33 0h6v15h-6zm59 0h6v15h-6zm30 0h6v15h-6zm57 0h6v15h-6zm39 0h6v15h-6zm47 0h6v15h-6zm51 0h3v15h-3zm6 -16h3v31h-3zm-525 0h3v16h-3zm24 0h3v16h-3zm18 0h3v16h-3zm203 0h6v16h-6zm27 0h6v16h-6zm29 0h6v16h-6zm87 0h6v16h-6zm57 0h3v16h-3zm17 0h6v16h-6zm24 0h6v16h-6z"/><path fill="#ffec9e" d="M945 1353h6v16h-6zm301 0h6v16h-6zm102 0h6v16h-6zm47 0h3v16h-3zm15 0h3v16h-3zm18 -16h6v32h-6zm-361 0h6v16h-6zm155 0h6v16h-6zm215 0h3v16h-3zm-471 -15h3v15h-3zm355 -16h6v31h-6zm68 16h6v15h-6zm12 0h6v15h-6zm21 0h6v15h-6zm12 0h3v15h-3zm-495 -16h3v16h-3zm6 0h6v16h-6zm98 0h3v16h-3zm150 0h3v16h-3zm202 0h3v16h-3zm15 -32h3v48h-3zm18 32h6v16h-6zm-173 -16h6v16h-6zm12 0h3v16h-3zm104 0h6v16h-6zm-441 -16h3v16h-3zm113 0h3v16h-3zm99 0h6v16h-6zm179 0h6v16h-6zm-316 -31h3v16h-3zm62 0h3v16h-3zm-143 -31h6v15h-6zm15 0h3v15h-3zm15 0h6v15h-6zm9 0h15v15h-15zm21 0h9v15h-9zm30 0h9v15h-9zm41 0h6v15h-6zm18 0h3v15h-3zm9 0h6v15h-6zm12 0h6v15h-6zm15 0h3v15h-3zm12 0h6v15h-6zm12 0h3v15h-3zm9 0h9v15h-9zm15 0h6v15h-6zm24 0h6v15h-6zm26 0h6v15h-6zm12 0h6v15h-6zm12 0h6v15h-6zm-262 -16h6v16h-6zm54 -32h3v48h-3zm41 16h3v32h-3zm24 16h3v16h-3zm-83 -16h6v16h-6zm62 0h6v16h-6zm120 0h6v16h-6zm217 0h3v16h-3zm24 0h6v16h-6zm-417 -16h6v16h-6zm92 -15h6v31h-6zm96 0h5v31h-5zm122 15h6v16h-6zm68 0h9v16h-9zm30 0h3v16h-3zm-414 -15h6v15h-6zm59 0h9v15h-9zm176 0h6v15h-6zm96 0h6v15h-6zm98 0h3v15h-3zm-42 -16h3v16h-3zm33 0h3v16h-3zm-367 -16h3v16h-3zm129 0h6v16h-6zm12 0h5v16h-5zm56 -15h6v31h-6zm108 15h2v16h-2zm35 0h3v16h-3zm30 0h9v16h-9zm-435 -47h3v47h-3zm211 32h6v15h-6zm132 0h6v15h-6zm53 0h6v15h-6zm12 0h3v15h-3zm9 0h3v15h-3zm18 0h6v15h-6zm-423 -32h6v32h-6zm83 -31h3v63h-3zm233 47h6v16h-6zm42 -16h2v32h-2zm8 16h6v16h-6zm18 0h3v16h-3zm-456 -16h6v16h-6zm54 0h6v16h-6zm71 0h3v16h-3zm75 0h3v16h-3zm122 -16h6v32h-6zm140 16h3v16h-3zm39 0h6v16h-6zm-235 -16h11v16h-11zm220 0h3v16h-3zm-480 -15h3v15h-3zm60 0h6v15h-6zm182 0h6v15h-6zm23 0h6v15h-6zm63 0h3v15h-3zm122 0h6v15h-6zm21 0h3v15h-3zm18 0h6v15h-6zm9 0h3v15h-3zm-468 -16h6v16h-6zm36 0h6v16h-6zm161 0h3v16h-3zm21 0h6v16h-6zm68 0h6v16h-6zm60 0h6v16h-6zm21 -16h6v32h-6zm12 16h6v16h-6zm71 0h3v16h-3zm-423 -31h3v15h-3zm71 0h6v15h-6zm188 0h6v15h-6zm66 -16h6v31h-6zm98 16h3v15h-3zm-83 -16h6v16h-6zm35 0h6v16h-6zm24 0h3v16h-3zm33 0h6v16h-6z"/><path fill="#ffe590" d="M1365 1353h6v16h-6zm18 0h6v16h-6zm-122 -16h6v16h-6zm-316 -15h6v15h-6zm230 0h3v15h-3zm185 -16h3v16h-3zm5 0h6v16h-6zm75 0h3v16h-3zm-265 -16h3v16h-3zm128 0h6v16h-6zm-358 -16h6v16h-6zm51 0h3v16h-3zm283 0h6v16h-6zm81 0h3v16h-3zm5 0h6v16h-6zm-444 -62h3v31h-3zm54 15h6v16h-6zm77 0h6v16h-6zm63 0h6v16h-6zm12 -15h3v31h-3zm48 -32h3v63h-3zm24 32h3v31h-3zm-281 0h3v15h-3zm12 0h9v15h-9zm15 0h6v15h-6zm15 0h3v15h-3zm42 0h3v15h-3zm30 0h11v15h-11zm32 0h6v15h-6zm36 0h3v15h-3zm12 0h3v15h-3zm6 0h3v15h-3zm12 0h3v15h-3zm21 0h6v15h-6zm21 0h3v15h-3zm6 0h3v15h-3zm15 0h3v15h-3zm9 0h2v15h-2zm11 0h6v15h-6zm12 0h6v15h-6zm15 0h6v15h-6zm-253 -16h6v16h-6zm200 0h6v16h-6zm23 0h3v16h-3zm105 0h6v16h-6zm15 0h6v16h-6zm24 0h3v16h-3zm11 -47h3v63h-3zm15 47h3v16h-3zm39 0h3v16h-3zm-140 -16h12v16h-12zm24 -16h6v32h-6zm65 -15h3v47h-3zm72 15h3v32h-3zm-298 0h6v16h-6zm45 -31h6v47h-6zm74 31h6v16h-6zm116 0h6v16h-6zm30 0h3v16h-3zm-298 -47h6v47h-6zm218 32h6v15h-6zm56 -16h6v31h-6zm-122 0h6v16h-6zm99 0h3v16h-3zm35 0h6v16h-6zm18 0h3v16h-3zm6 0h3v16h-3zm21 0h3v16h-3zm-322 -16h3v16h-3zm203 0h12v16h-12zm62 0h3v16h-3zm18 0h3v16h-3zm6 0h3v16h-3zm-381 -47h6v47h-6zm235 32h6v15h-6zm158 -16h3v31h-3zm-220 0h5v16h-5zm86 0h6v16h-6zm12 0h12v16h-12zm95 0h3v16h-3zm15 0h3v16h-3zm6 0h6v16h-6zm27 0h3v16h-3zm-179 -16h6v16h-6zm104 0h6v16h-6zm21 0h3v16h-3zm21 -16h3v16h-3zm33 -15h3v31h-3zm-414 0h6v15h-6zm173 0h5v15h-5zm166 0h6v15h-6zm-104 -16h6v16h-6zm99 0h3v16h-3zm47 0h3v16h-3zm-381 -16h6v16h-6zm17 0h3v16h-3zm218 -15h6v15h-6zm146 -16h3v16h-3z"/><path fill="#fede81" d="M1437 1353h3v16h-3zm-30 -31h6v31h-6zm-152 -16h6v16h-6zm-74 -32h6v32h-6zm241 0h6v16h-6zm-229 -31h3v16h-3zm-194 -16h3v16h-3zm71 0h6v16h-6zm54 0h3v16h-3zm18 0h6v16h-6zm18 0h9v16h-9zm-117 -15h6v15h-6zm27 0h3v15h-3zm9 0h3v15h-3zm24 0h6v15h-6zm60 0h6v15h-6zm24 0h6v15h-6zm17 0h3v15h-3zm33 0h3v15h-3zm9 0h6v15h-6zm90 -32h6v32h-6zm9 16h3v16h-3zm65 0h3v16h-3zm-301 -16h6v16h-6zm33 0h6v16h-6zm221 0h2v16h-2zm56 0h9v16h-9zm-301 -16h3v16h-3zm24 -31h6v31h-6zm113 16h6v15h-6zm108 0h2v15h-2zm44 0h6v15h-6zm-289 -16h3v16h-3zm81 0h5v16h-5zm190 0h3v16h-3zm12 0h3v16h-3zm-15 -16h3v16h-3zm27 -15h6v31h-6zm-304 -32h6v47h-6zm33 32h6v15h-6zm45 -16h6v31h-6zm173 16h11v15h-11zm-167 -16h3v16h-3zm172 0h6v16h-6zm18 0h6v16h-6zm12 0h3v16h-3zm6 0h6v16h-6zm21 0h6v16h-6zm-223 -16h5v16h-5zm137 0h6v16h-6zm53 0h6v16h-6zm21 0h3v16h-3zm-337 -16h6v16h-6zm287 0h3v16h-3zm-334 -31h6v16h-6zm337 -16h2v32h-2zm44 -15h6v31h-6zm15 15h6v16h-6zm15 0h3v16h-3zm-244 -31h3v16h-3zm62 0h12v16h-12z"/><path fill="#fed672" d="M1285 1353h6v16h-6zm-110 -47h3v16h-3zm247 -16h6v16h-6zm-247 -16h3v16h-3zm167 0h6v16h-6zm-409 -15h6v15h-6zm-18 -32h3v16h-3zm9 0h12v16h-12zm42 0h6v16h-6zm95 0h3v16h-3zm15 0h12v16h-12zm27 0h6v16h-6zm45 0h6v16h-6zm30 0h9v16h-9zm-36 -31h6v16h-6zm89 0h6v16h-6zm137 0h3v16h-3zm27 0h3v16h-3zm30 0h3v16h-3zm-83 -16h6v16h-6zm-233 -16h6v16h-6zm9 -15h3v15h-3zm24 -32h6v16h-6zm250 0h3v16h-3zm-193 -15h5v15h-5zm205 0h6v15h-6zm0 -32h6v16h-6zm-295 -16h6v16h-6z"/><path fill="#fec864" d="M1285 1306h6v47h-6zm24 0h3v16h-3zm33 -16h6v16h-6zm-33 -16h3v16h-3zm-385 -15h6v15h-6zm24 0h6v15h-6zm24 0h3v15h-3zm24 0h6v15h-6zm116 0h3v15h-3zm6 0h6v15h-6zm69 0h6v15h-6zm32 0h18v15h-18zm30 0h6v15h-6zm90 0h12v15h-12zm44 0h3v15h-3zm27 0h9v15h-9zm-203 -32h3v32h-3zm-256 0h6v16h-6zm87 0h5v16h-5zm62 0h3v16h-3zm102 0h5v16h-5zm104 -15h3v15h-3zm-57 -16h3v16h-3zm9 0h6v16h-6zm36 0h9v16h-9zm110 0h6v16h-6zm33 0h3v16h-3zm-128 -32h3v32h-3zm92 16h3v16h-3zm-208 -63h3v16h-3z"/><path fill="#feba55" d="M1419 1353h3v16h-3zm-83 -63h6v63h-6zm83 16h3v16h-3zm-134 -32h6v32h-6zm24 16h3v16h-3zm6 -31h6v31h-6zm-361 0h3v15h-3zm12 0h3v15h-3zm15 0h6v15h-6zm21 0h6v15h-6zm18 0h9v15h-9zm65 0h6v15h-6zm51 0h9v15h-9zm15 0h6v15h-6zm48 0h3v15h-3zm11 0h6v15h-6zm33 0h3v15h-3zm48 0h3v15h-3zm74 0h3v15h-3zm69 -16h3v31h-3zm-3 0h3v16h-3zm6 0h9v16h-9zm-501 -16h6v16h-6zm12 0h3v16h-3zm12 0h6v16h-6zm33 0h6v16h-6zm12 0h3v16h-3zm9 0h18v16h-18zm29 0h6v16h-6zm45 0h12v16h-12zm33 0h3v16h-3zm9 0h3v16h-3zm6 0h6v16h-6zm33 0h6v16h-6zm18 0h9v16h-9zm80 -15h3v15h-3zm51 0h6v15h-6zm65 0h3v15h-3zm12 0h3v15h-3zm-110 -16h3v16h-3zm36 0h3v16h-3zm27 0h6v16h-6zm29 -16h3v16h-3zm57 0h6v16h-6zm3 -16h3v16h-3zm0 -62h3v31h-3z"/><path fill="#fead4a" d="M1419 1322h3v31h-3zm-36 0h6v15h-6zm36 -48h3v32h-3zm-83 0h6v16h-6zm-358 -15h3v15h-3zm146 0h6v15h-6zm33 0h6v15h-6zm21 0h3v15h-3zm155 0h6v15h-6zm21 0h3v15h-3zm74 0h6v15h-6zm-483 -32h3v16h-3zm12 0h3v16h-3zm24 0h6v16h-6zm27 0h6v16h-6zm24 0h6v16h-6zm32 0h3v16h-3zm90 0h6v16h-6zm83 0h6v16h-6zm140 0h6v16h-6zm36 0h6v16h-6zm-158 -15h6v15h-6zm69 0h3v15h-3zm36 -16h5v16h-5zm14 0h6v16h-6zm9 0h6v16h-6zm-12 -16h6v16h-6zm-56 -16h6v16h-6zm68 0h6v16h-6zm54 -31h3v31h-3z"/><path fill="#fea044" d="M1270 1274h9v95h-9zm113 0h6v48h-6zm-408 -15h3v15h-3zm12 0h3v15h-3zm21 0h6v15h-6zm30 0h5v15h-5zm8 0h12v15h-12zm51 0h6v15h-6zm66 0h6v15h-6zm39 0h2v15h-2zm44 0h3v15h-3zm18 0h12v15h-12zm42 0h3v15h-3zm15 0h12v15h-12zm80 0h3v15h-3zm-483 -32h3v16h-3zm54 0h3v16h-3zm15 0h6v16h-6zm62 0h3v16h-3zm60 0h6v16h-6zm24 0h3v16h-3zm92 0h6v16h-6zm51 0h3v16h-3zm24 0h3v16h-3zm6 0h6v16h-6zm15 0h3v16h-3zm15 0h6v16h-6zm38 0h3v16h-3zm45 0h3v16h-3zm24 0h3v16h-3zm-152 -15h6v15h-6zm54 0h3v15h-3zm15 0h5v15h-5zm-45 -32h6v16h-6zm68 0h6v16h-6zm60 -31h3v31h-3zm-164 -16h6v31h-6zm36 16h6v15h-6zm-36 -79h6v47h-6zm158 16h3v16h-3zm-167 -110h9v47h-9z"/><path fill="#fd933f" d="M1383 1337h6v16h-6zm-20 -15h2v15h-2zm0 -32h2v16h-2zm-418 -31h3v15h-3zm15 0h6v15h-6zm30 0h6v15h-6zm71 0h9v15h-9zm84 0h6v15h-6zm39 0h3v15h-3zm95 0h6v15h-6zm81 0h5v15h-5zm26 0h6v15h-6zm-116 -32h3v16h-3zm63 0h3v16h-3zm107 0h3v16h-3zm-164 -15h3v15h-3zm21 0h3v15h-3zm39 0h6v15h-6zm-117 -16h3v16h-3zm24 0h6v16h-6zm45 0h6v16h-6zm21 0h3v16h-3zm80 0h6v16h-6zm39 0h6v16h-6zm15 -16h3v16h-3zm-164 -63h6v16h-6zm0 -63h6v16h-6z"/><path fill="#fd8239" d="M1363 1337h2v16h-2zm0 -31h2v16h-2zm0 -32h2v16h-2zm-406 -15h3v15h-3zm12 0h3v15h-3zm74 0h3v15h-3zm30 0h3v15h-3zm9 0h3v15h-3zm21 0h6v15h-6zm90 0h3v15h-3zm44 0h6v15h-6zm48 0h6v15h-6zm24 0h3v15h-3zm62 0h12v15h-12zm48 0h3v15h-3zm24 0h3v15h-3zm-54 -16h6v16h-6zm-137 -16h6v16h-6zm108 0h3v16h-3zm-99 -15h3v15h-3zm54 0h3v15h-3zm-99 -16h3v16h-3zm21 0h6v16h-6zm27 0h6v16h-6zm39 0h6v16h-6zm21 0h6v16h-6zm89 0h6v16h-6zm-134 -157h6v15h-6z"/><path fill="#fc6c33" d="M930 1259h3v15h-3zm9 0h3v15h-3zm75 0h6v15h-6zm15 0h9v15h-9zm47 0h6v15h-6zm15 0h6v15h-6zm24 0h3v15h-3zm15 0h6v15h-6zm74 0h6v15h-6zm12 0h3v15h-3zm39 0h6v15h-6zm21 0h3v15h-3zm18 0h6v15h-6zm74 0h3v15h-3zm24 0h6v15h-6zm30 0h6v15h-6zm15 0h6v15h-6zm-33 -16h3v16h-3zm21 0h3v16h-3zm-212 -16h6v16h-6zm78 0h3v16h-3zm21 0h9v16h-9zm51 0h5v16h-5zm8 0h3v16h-3zm39 0h3v16h-3zm27 0h3v16h-3zm-158 -15h3v15h-3zm9 0h3v15h-3zm77 0h6v15h-6zm-152 -16h3v16h-3z"/><path fill="#fc562c" d="M1109 1259h3v15h-3zm60 0h9v15h-9zm134 0h3v15h-3zm101 0h6v15h-6zm6 -16h3v16h-3zm-191 -16h6v16h-6zm30 0h3v16h-3zm75 0h3v16h-3zm110 -15h3v31h-3zm-15 0h6v15h-6zm12 0h3v15h-3zm-149 -16h3v16h-3zm119 0h3v16h-3z"/><path fill="#f74327" d="M1428 1243h3v16h-3zm-426 -16h3v16h-3zm208 0h3v16h-3zm72 0h9v16h-9zm21 0h3v16h-3zm-21 -15h6v15h-6zm51 0h3v15h-3zm15 0h6v15h-6zm53 0h3v15h-3zm-176 -16h3v16h-3zm27 0h6v16h-6z"/><path fill="#ee3122" d="M942 1227h3v16h-3zm125 0h3v16h-3zm164 0h6v16h-6zm48 0h3v16h-3zm128 0h3v16h-3zm-346 -31h3v31h-3zm248 16h3v15h-3zm-81 -16h3v16h-3zm114 0h3v16h-3z"/><path fill="#e51f1d" d="M1371 1243h3v16h-3zm36 0h3v16h-3zm12 0h6v16h-6zm-152 -16h3v16h-3zm3 -15h3v15h-3zm30 0h6v15h-6zm140 -16h3v16h-3zm3 -94h3v47h-3zm-531 0h3v15h-3zm531 -63h3v47h-3zm-531 -63h3v31h-3z"/><path fill="#d9131f" d="M1374 1243h3v16h-3zm21 0h6v16h-6zm-173 -47h3v16h-3zm57 0h3v16h-3zm92 0h3v16h-3z"/><path fill="#cc0a22" d="M1365 1243h6v16h-6zm48 0h6v16h-6z"/><path fill="#bf0126" d="M1377 1243h3v16h-3zm6 0h6v16h-6zm18 -16h3v32h-3zm-158 0h6v16h-6zm18 0h6v16h-6zm33 0h6v16h-6zm33 -15h6v31h-6zm27 15h3v16h-3zm14 0h3v16h-3zm24 0h6v16h-6zm12 -15h3v31h-3zm-62 0h3v15h-3zm35 0h6v15h-6zm15 0h3v15h-3zm15 0h6v15h-6zm-9 -173h3v78h-3z"/><path fill="#aa0026" d="M942 1243h3v31h-3zm116 0h3v31h-3zm12 16h3v15h-3zm111 0h3v15h-3zm80 -16h3v31h-3zm39 16h3v15h-3zm51 0h3v15h-3zm29 -16h3v16h-3zm-122 -16h3v16h-3zm167 0h9v16h-9zm-161 -15h3v15h-3zm9 0h3v15h-3zm81 0h6v15h-6zm17 0h6v15h-6zm15 0h6v15h-6zm27 0h6v15h-6zm15 0h3v15h-3zm-232 -110h3v31h-3z"/><path fill="#950026" d="M912 1243h30v16h-30zm33 0h60v16h-60zm63 0h50v16h-50zm53 0h6v16h-6zm9 0h123v16h-123zm126 0h11v16h-11zm14 0h51v16h-51zm54 0h101v16h-101zm-206 -16h3v16h-3zm215 0h3v16h-3zm69 0h12v16h-12zm41 0h9v16h-9zm39 0h3v16h-3zm3 -15h3v15h-3zm12 0h9v15h-9zm-27 -32h9v16h-9z"/></g></g>
<rect x="912.3" y="989.5" width="533.7" height="377.2" fill="none" stroke="#8a8a7a" stroke-width="1.3"/>
<path d="M912.3 1366.7v-5M912.3 989.5v5M971.9 1366.7v-5M971.9 989.5v5M1031.6 1366.7v-5M1031.6 989.5v5M1091.2 1366.7v-5M1091.2 989.5v5M1150.8 1366.7v-5M1150.8 989.5v5M1210.5 1366.7v-5M1210.5 989.5v5M1270.1 1366.7v-5M1270.1 989.5v5M1329.7 1366.7v-5M1329.7 989.5v5M1389.4 1366.7v-5M1389.4 989.5v5M912.3 1366.7h5M1446 1366.7h-5M912.3 1324.8h5M1446 1324.8h-5M912.3 1282.9h5M1446 1282.9h-5M912.3 1241h5M1446 1241h-5M912.3 1199.1h5M1446 1199.1h-5M912.3 1157.1h5M1446 1157.1h-5M912.3 1115.2h5M1446 1115.2h-5M912.3 1073.3h5M1446 1073.3h-5M912.3 1031.4h5M1446 1031.4h-5M912.3 989.5h5M1446 989.5h-5" stroke="#8a8a7a" stroke-width="1.2" fill="none"/>
<g font-size="19.2" fill="#4a4a4a" text-anchor="end"><text x="906.8" y="1373.1">80</text><text x="906.8" y="1331.2">90</text><text x="906.8" y="1289.3">100</text><text x="906.8" y="1247.4">110</text><text x="906.8" y="1205.5">120</text><text x="906.8" y="1163.6">130</text><text x="906.8" y="1121.7">140</text><text x="906.8" y="1079.8">150</text><text x="906.8" y="1037.8">160</text><text x="906.8" y="995.9">170</text></g><g font-size="19.2" fill="#4a4a4a" text-anchor="middle"><text x="912.3" y="1392.2">2</text><text x="971.9" y="1392.2">2.2</text><text x="1031.6" y="1392.2">2.4</text><text x="1091.2" y="1392.2">2.6</text><text x="1150.8" y="1392.2">2.8</text><text x="1210.5" y="1392.2">3</text><text x="1270.1" y="1392.2">3.2</text><text x="1329.7" y="1392.2">3.4</text><text x="1389.4" y="1392.2">3.6</text></g>
<text x="1106.3" y="1416.5" font-size="22.4" fill="#4a4a4a">Frequency/MHz</text>
<text transform="translate(866.3,1178.1) rotate(-90)" text-anchor="middle" font-size="22.6" fill="#4a4a4a">Virtual Height/km</text>
<g font-size="35.6" fill="#1e1e1e"><text x="990.3" y="1070.6">2021-06-08</text><text x="1203.6" y="1070.6">23:17:46</text></g>
<linearGradient id="ga6" x1="0" y1="1" x2="0" y2="0"><stop offset="0.000" stop-color="#ffffcc"/><stop offset="0.125" stop-color="#ffeda0"/><stop offset="0.250" stop-color="#fed976"/><stop offset="0.375" stop-color="#feb24c"/><stop offset="0.500" stop-color="#fd8d3c"/><stop offset="0.625" stop-color="#fc4e2a"/><stop offset="0.750" stop-color="#e31a1c"/><stop offset="0.875" stop-color="#bd0026"/><stop offset="1.000" stop-color="#800026"/></linearGradient>
<rect x="1457.6" y="990" width="22.9" height="375" fill="url(#ga6)" stroke="#8a8a7a" stroke-width="1.2"/>
<path d="M1480.5 1327.5h-3.5M1480.5 1290h-3.5M1480.5 1252.5h-3.5M1480.5 1215h-3.5M1480.5 1177.5h-3.5M1480.5 1140h-3.5M1480.5 1102.5h-3.5M1480.5 1065h-3.5M1480.5 1027.5h-3.5M1480.5 990h-3.5" stroke="#8a8a7a" stroke-width="1"/>
<g font-size="16" fill="#4a4a4a"><text x="1485.5" y="1332.9">0.1</text><text x="1485.5" y="1295.4">0.2</text><text x="1485.5" y="1257.9">0.3</text><text x="1485.5" y="1220.4">0.4</text><text x="1485.5" y="1182.9">0.5</text><text x="1485.5" y="1145.4">0.6</text><text x="1485.5" y="1107.9">0.7</text><text x="1485.5" y="1070.4">0.8</text><text x="1485.5" y="1032.9">0.9</text><text x="1485.5" y="995.4">1</text></g>
<text x="1469" y="980" text-anchor="middle" font-size="18.4" fill="#4a4a4a">Normalized Energy</text>
<clipPath id="cb1"><rect x="177" y="1530.8" width="529" height="376.2"/></clipPath>
<g clip-path="url(#cb1)"><g filter="url(#bl2)"><path fill="#fff7b7" d="M500 1525h18v388h-18zm24 0h12v388h-12zm17 0h6v388h-6zm24 0h12v388h-12zm18 0h17v388h-17zm23 0h6v388h-6zm29 0h12v388h-12zm18 0h6v388h-6z"/><path fill="#ffeea3" d="M518 1525h6v388h-6zm18 0h5v388h-5zm11 0h18v388h-18zm30 0h6v388h-6zm23 0h6v388h-6zm12 0h23v388h-23zm35 0h6v388h-6z"/><path fill="#ffe58f" d="M365 1525h6v388h-6zm124 0h5v388h-5zm182 0h17v388h-17zm23 0h18v388h-18z"/><path fill="#fedb7b" d="M342 1525h5v388h-5zm35 0h6v388h-6zm282 0h12v388h-12zm29 0h6v388h-6z"/><path fill="#fecb67" d="M253 1525h6v388h-6zm53 0h6v388h-6zm65 0h6v388h-6zm23 0h18v388h-18zm30 0h6v388h-6zm12 0h6v388h-6zm11 0h6v388h-6zm36 0h6v388h-6zm11 0h6v388h-6z"/><path fill="#feb953" d="M206 1525h18v388h-18zm42 0h5v388h-5zm35 0h6v388h-6zm17 0h6v388h-6zm12 0h12v388h-12zm18 0h12v388h-12zm17 0h18v388h-18zm36 0h11v388h-11zm29 0h12v388h-12zm18 0h6v388h-6zm12 0h5v388h-5zm11 0h24v388h-24z"/><path fill="#fea747" d="M224 1525h24v388h-24zm53 0h6v388h-6zm12 0h11v388h-11zm35 0h6v388h-6zm153 0h6v388h-6z"/><path fill="#fd9640" d="M259 1525h18v388h-18z"/><path fill="#fd7e38" d="M201 1525h5v388h-5z"/><path fill="#fc612f" d="M195 1525h6v388h-6z"/><path fill="#f84528" d="M189 1525h6v388h-6z"/><path fill="#ec2c21" d="M171 1525h12v388h-12z"/><path fill="#df171d" d="M183 1525h6v388h-6z"/><path fill="#ffffcc" d="M594 1874h6v8h-6zm-94 -26h6v9h-6zm6 -16h6v8h-6zm-6 -17h6v8h-6zm24 -17h6v17h-6zm-24 -133h6v8h-6zm0 -17h6v8h-6zm24 -17h12v8h-12zm6 -8h6v8h-6zm58 0h6v8h-6zm18 0h6v8h-6zm-106 -25h12v25h-12zm41 16h6v9h-6zm42 0h5v9h-5zm11 -16h6v25h-6zm18 16h6v9h-6zm29 0h6v9h-6zm12 0h6v9h-6zm-129 -8h12v8h-12zm23 -17h6v25h-6zm59 17h6v8h-6zm-82 -81h6v81h-6zm59 73h5v8h-5zm35 0h6v8h-6zm35 0h6v8h-6zm-153 -73h6v73h-6zm36 64h5v9h-5zm105 0h6v9h-6zm-135 -41h6v41h-6zm24 25h6v16h-6zm11 8h6v8h-6zm53 -17h6v25h-6zm41 17h6v8h-6zm-52 -17h11v17h-11zm58 0h6v17h-6zm12 -16h6v33h-6zm-141 8h6v17h-6zm24 8h17v9h-17zm35 0h12v9h-12zm129 0h12v9h-12zm-159 -16h6v16h-6zm-11 0h11v8h-11zm17 -23h6v31h-6zm24 23h6v8h-6zm17 0h12v8h-12zm47 0h18v8h-18zm-105 -23h6v23h-6zm53 14h11v9h-11zm58 -14h6v23h-6zm-135 0h6v14h-6zm59 0h6v14h-6zm23 0h12v14h-12zm18 0h12v14h-12zm29 0h6v14h-6zm12 0h12v14h-12z"/><path fill="#fff7b7" d="M518 1890h6v23h-6zm29 0h6v23h-6zm30 9h6v14h-6zm-41 -17h5v17h-5zm11 -34h6v34h-6zm30 26h6v8h-6zm70 0h6v8h-6zm-129 -9h6v9h-6zm18 -8h5v8h-5zm76 -9h6v9h-6zm-65 -16h12v8h-12zm30 0h6v8h-6zm-30 -9h6v9h-6zm100 0h6v9h-6zm-70 -16h6v16h-6zm41 8h6v8h-6zm-82 -8h5v8h-5zm111 0h6v8h-6zm-129 -9h6v9h-6zm106 0h6v9h-6zm-6 -8h6v8h-6zm29 -109h6v9h-6zm-111 -8h5v8h-5zm11 -25h6v8h-6zm30 -9h6v17h-6zm35 -8h6v17h-6zm-94 0h6v8h-6zm29 -8h6v16h-6zm-11 -25h5v33h-5zm-18 -73h6v98h-6zm35 89h12v9h-12zm71 0h6v9h-6zm23 -16h6v25h-6zm-94 8h6v8h-6zm24 -33h6v41h-6zm23 33h6v8h-6zm12 0h12v8h-12zm0 -67h6v67h-6zm12 59h6v8h-6zm-71 -9h12v9h-12zm47 0h6v9h-6zm18 0h6v9h-6zm59 -16h5v25h-5zm-141 0h5v16h-5zm11 8h12v8h-12zm100 -8h6v16h-6zm53 8h12v8h-12zm-153 -8h6v8h-6zm12 -34h6v42h-6zm41 34h6v8h-6zm18 -48h12v56h-12zm12 31h5v17h-5zm-94 0h5v8h-5zm11 0h12v8h-12zm30 -31h6v39h-6zm23 31h6v8h-6zm47 0h6v8h-6zm-94 -17h6v17h-6zm-17 -14h5v23h-5zm64 0h6v23h-6zm47 14h6v9h-6zm30 0h5v9h-5zm-47 -14h5v14h-5zm70 0h12v14h-12z"/><path fill="#ffeea3" d="M565 1899h6v14h-6zm18 0h11v14h-11zm-77 -25h6v25h-6zm65 -9h6v34h-6zm35 17h6v17h-6zm-94 -8h6v16h-6zm29 8h6v8h-6zm24 0h6v8h-6zm18 0h5v8h-5zm117 0h12v8h-12zm-65 -17h6v9h-6zm18 0h6v9h-6zm24 0h5v9h-5zm-312 -8h6v8h-6zm218 -9h5v17h-5zm23 9h6v8h-6zm-100 -9h12v9h-12zm24 -8h6v17h-6zm105 8h12v9h-12zm42 0h5v9h-5zm-165 -16h6v16h-6zm59 -9h6v25h-6zm70 17h6v8h-6zm59 0h12v8h-12zm-135 -25h6v25h-6zm29 17h6v8h-6zm12 0h6v8h-6zm29 0h6v8h-6zm-129 -17h6v17h-6zm18 8h6v9h-6zm59 0h5v9h-5zm94 0h5v9h-5zm-165 -8h6v8h-6zm94 -17h6v25h-6zm-23 9h5v8h-5zm52 0h6v8h-6zm-129 -9h6v9h-6zm24 0h6v9h-6zm11 0h6v9h-6zm100 -16h6v25h-6zm24 16h6v9h-6zm12 -8h5v17h-5zm17 8h6v9h-6zm-129 -8h6v8h-6zm23 0h6v8h-6zm65 -8h6v16h-6zm47 8h12v8h-12zm-176 -17h12v17h-12zm17 0h6v17h-6zm30 0h6v17h-6zm12 0h5v17h-5zm11 9h6v8h-6zm12 0h6v8h-6zm29 0h6v8h-6zm-129 -9h12v9h-12zm59 0h6v9h-6zm112 0h5v9h-5zm-36 -67h6v9h-6zm12 -8h6v17h-6zm-153 -17h6v25h-6zm71 17h6v8h-6zm12 0h17v8h-17zm23 -17h6v25h-6zm-94 -33h6v50h-6zm12 42h12v8h-12zm17 0h6v8h-6zm24 0h6v8h-6zm29 0h6v8h-6zm41 -9h12v17h-12zm-129 -16h6v25h-6zm18 -9h6v34h-6zm47 25h6v9h-6zm12 -25h11v34h-11zm-53 9h6v16h-6zm11 -9h6v25h-6zm94 -17h6v42h-6zm18 17h6v25h-6zm-88 9h12v8h-12zm29 0h6v8h-6zm47 -9h6v17h-6zm-35 -17h6v26h-6zm-41 0h12v17h-12zm29 9h6v8h-6zm-88 -9h6v9h-6zm35 0h6v9h-6zm42 0h11v9h-11zm-12 -8h6v8h-6zm70 0h6v8h-6zm12 0h6v8h-6zm24 -33h5v41h-5zm23 33h12v8h-12zm-194 -8h6v8h-6zm100 -9h6v9h-6zm76 -8h6v17h-6zm12 0h6v17h-6zm-329 -8h6v8h-6zm206 0h6v8h-6zm17 0h6v8h-6zm77 0h6v8h-6zm35 0h12v8h-12zm-29 -17h6v17h-6zm11 8h6v9h-6zm12 -64h6v73h-6zm-12 48h12v8h-12zm18 0h12v8h-12zm-335 -9h6v9h-6zm294 0h12v9h-12zm18 -16h5v25h-5zm-12 -23h6v39h-6zm17 31h12v8h-12zm18 -17h12v25h-12zm-211 9h5v8h-5zm193 -23h6v31h-6zm-340 0h5v23h-5zm329 0h6v23h-6zm17 0h6v23h-6zm-29 0h6v14h-6zm18 0h5v14h-5z"/><path fill="#ffe58f" d="M553 1899h6v14h-6zm77 0h5v14h-5zm58 -9h6v23h-6zm-311 0h6v9h-6zm182 -16h6v25h-6zm100 16h12v9h-12zm-41 -8h6v8h-6zm41 0h6v8h-6zm-123 -8h5v8h-5zm29 -9h6v9h-6zm35 0h6v9h-6zm-47 -8h12v8h-12zm77 0h5v8h-5zm29 0h6v8h-6zm29 0h6v8h-6zm-129 -9h6v9h-6zm47 0h6v9h-6zm59 -25h6v34h-6zm-88 17h6v8h-6zm82 -8h6v16h-6zm-59 0h6v8h-6zm24 0h11v8h-11zm-65 -9h6v9h-6zm71 -16h5v16h-5zm29 0h6v16h-6zm29 8h6v8h-6zm-129 -8h6v8h-6zm59 0h6v8h-6zm47 0h6v8h-6zm23 -9h6v9h-6zm-58 -16h5v8h-5zm-130 -9h6v9h-6zm59 0h6v9h-6zm29 0h12v9h-12zm100 0h6v9h-6zm-70 -50h6v8h-6zm-35 -17h17v9h-17zm23 0h6v9h-6zm12 0h12v9h-12zm17 -8h6v17h-6zm12 0h6v17h-6zm-141 0h41v8h-41zm53 0h12v8h-12zm71 -42h5v50h-5zm11 42h6v8h-6zm-123 -8h6v8h-6zm29 0h18v8h-18zm53 -42h6v50h-6zm18 33h12v17h-12zm-77 0h6v9h-6zm12 -8h18v17h-18zm24 8h6v9h-6zm-59 -8h6v8h-6zm53 0h6v8h-6zm35 0h18v8h-18zm35 0h6v8h-6zm-105 -17h5v17h-5zm17 9h12v8h-12zm53 0h6v8h-6zm12 0h12v8h-12zm-100 -9h6v9h-6zm47 0h6v9h-6zm59 0h6v9h-6zm-71 -8h12v8h-12zm135 0h6v8h-6zm-135 -9h6v9h-6zm77 -8h5v17h-5zm17 8h6v9h-6zm12 0h6v9h-6zm-35 -8h6v8h-6zm41 0h6v8h-6zm23 0h6v8h-6zm-29 -25h12v17h-12zm29 -17h6v34h-6zm-346 0h5v25h-5zm29 17h6v8h-6zm6 -8h6v8h-6zm70 -9h6v9h-6zm212 -16h12v25h-12zm-282 8h6v8h-6zm-35 -8h5v8h-5zm152 0h6v8h-6zm-117 -25h6v25h-6zm311 16h6v9h-6zm-346 -16h5v16h-5zm317 -9h6v25h-6zm29 9h6v8h-6zm-317 -23h6v23h-6zm23 14h6v9h-6zm53 0h6v9h-6zm36 0h6v9h-6zm-47 -14h6v14h-6z"/><path fill="#fedb7b" d="M447 1899h6v14h-6zm42 -9h5v23h-5zm182 -16h6v25h-6zm-224 8h6v8h-6zm235 0h6v8h-6zm12 0h6v8h-6zm-329 -8h6v8h-6zm29 0h6v8h-6zm95 0h5v8h-5zm-53 -9h6v9h-6zm258 0h6v9h-6zm-323 -17h6v17h-6zm118 9h5v8h-5zm-124 -25h6v25h-6zm329 8h6v8h-6zm-23 -8h6v8h-6zm11 -25h6v33h-6zm-311 8h6v8h-6zm118 -8h5v16h-5zm-124 -9h6v17h-6zm82 9h6v8h-6zm-82 -25h12v8h-12zm124 -9h5v17h-5zm111 0h30v9h-30zm47 0h12v9h-12zm-6 -8h6v8h-6zm41 0h6v8h-6zm-99 -8h5v8h-5zm117 0h12v8h-12zm-170 -9h6v9h-6zm41 -42h6v25h-6zm64 9h6v16h-6zm-17 0h17v8h-17zm23 0h12v8h-12zm-64 -9h6v9h-6zm23 0h6v9h-6zm30 0h5v9h-5zm41 0h17v9h-17zm-118 -8h6v8h-6zm129 -8h6v16h-6zm18 8h12v8h-12zm-129 -8h6v8h-6zm76 0h6v8h-6zm24 -9h11v17h-11zm-182 0h5v9h-5zm205 0h18v9h-18zm-70 -8h6v8h-6zm47 -42h6v50h-6zm23 42h6v8h-6zm-205 -25h5v25h-5zm193 8h6v17h-6zm-317 0h12v9h-12zm329 -8h6v17h-6zm-329 -9h6v17h-6zm317 0h6v9h-6zm-246 -8h6v8h-6zm-65 -8h6v8h-6zm118 0h5v8h-5zm-6 -9h6v9h-6zm11 -8h6v17h-6zm-58 0h6v8h-6zm11 -8h6v16h-6zm-76 -50h6v58h-6zm35 50h6v8h-6zm53 0h6v8h-6zm-35 -9h6v9h-6zm12 0h6v9h-6zm47 0h6v9h-6zm11 0h6v9h-6zm-47 -8h6v8h-6zm12 0h6v8h-6zm-65 -25h6v25h-6zm42 17h6v8h-6zm47 0h11v8h-11zm-230 -9h6v9h-6zm106 -39h6v48h-6zm47 39h6v9h-6zm36 0h11v9h-11zm23 0h12v9h-12zm18 -16h6v25h-6zm11 0h6v25h-6zm-188 -9h6v25h-6zm130 0h6v25h-6zm11 17h12v8h-12zm-111 -8h6v8h-6zm64 0h12v8h-12zm59 0h6v8h-6zm12 0h6v8h-6zm-65 -23h6v23h-6zm18 14h6v9h-6zm-218 -14h6v14h-6zm188 0h6v14h-6zm48 0h11v14h-11zm17 0h6v14h-6zm35 0h6v14h-6z"/><path fill="#fecb67" d="M336 1899h6v14h-6zm23 -9h6v23h-6zm18 9h6v14h-6zm65 -9h5v23h-5zm11 9h6v14h-6zm12 -9h6v23h-6zm-165 0h6v9h-6zm159 -25h6v34h-6zm-211 17h5v8h-5zm223 0h6v8h-6zm-112 -8h6v8h-6zm83 0h5v8h-5zm-194 -9h5v9h-5zm52 0h6v9h-6zm-82 -8h6v8h-6zm124 0h5v8h-5zm70 0h6v8h-6zm-206 -9h6v9h-6zm177 0h6v9h-6zm-135 -8h5v8h-5zm94 0h5v8h-5zm17 -8h6v16h-6zm83 8h5v8h-5zm11 0h6v8h-6zm12 0h12v8h-12zm24 0h5v8h-5zm-206 -8h6v8h-6zm94 0h6v8h-6zm35 -17h6v17h-6zm30 8h5v9h-5zm23 0h6v9h-6zm-12 -8h12v8h-12zm-241 -8h6v8h-6zm36 0h5v8h-5zm70 0h6v8h-6zm41 -17h6v25h-6zm18 17h12v8h-12zm76 0h6v8h-6zm18 0h6v8h-6zm-223 -17h5v8h-5zm94 0h5v8h-5zm35 0h6v8h-6zm65 0h5v8h-5zm29 -8h6v8h-6zm159 -9h17v9h-17zm-171 -8h6v8h-6zm65 0h53v8h-53zm100 0h6v8h-6zm-100 -8h6v8h-6zm53 0h6v8h-6zm17 0h6v8h-6zm30 -26h6v9h-6zm6 -8h5v8h-5zm-77 -8h6v8h-6zm47 0h18v8h-18zm53 0h18v8h-18zm-164 -25h5v25h-5zm70 16h12v9h-12zm100 -8h12v8h-12zm29 0h6v8h-6zm-311 -59h6v51h-6zm305 42h12v9h-12zm-340 -8h5v8h-5zm0 -34h5v26h-5zm346 17h6v9h-6zm-217 -8h6v8h-6zm-188 -9h6v9h-6zm170 -8h6v17h-6zm36 8h5v9h-5zm-241 -8h5v8h-5zm88 -8h6v16h-6zm76 8h6v8h-6zm30 -8h5v16h-5zm-83 -25h6v33h-6zm106 25h6v8h-6zm-247 -50h6v50h-6zm65 41h6v9h-6zm29 0h6v9h-6zm41 0h6v9h-6zm24 0h17v9h-17zm82 0h6v9h-6zm12 -16h6v25h-6zm-265 0h6v16h-6zm42 -9h5v25h-5zm70 9h6v16h-6zm18 8h6v8h-6zm11 0h6v8h-6zm83 0h6v8h-6zm12 -33h5v41h-5zm11 -9h6v50h-6zm12 25h6v25h-6zm-165 -8h6v25h-6zm83 -8h11v33h-11zm29 -25h6v58h-6zm-129 41h6v9h-6zm29 0h6v9h-6zm18 0h12v9h-12zm17 0h12v9h-12zm112 0h6v9h-6zm-141 -33h6v33h-6zm18 25h6v8h-6zm23 -8h6v16h-6zm112 0h6v16h-6zm-265 0h12v8h-12zm77 -48h6v56h-6zm70 48h6v8h-6zm65 0h6v8h-6zm41 -9h6v17h-6zm18 9h6v8h-6zm-229 -48h5v48h-5zm52 23h6v25h-6zm12 16h6v9h-6zm24 0h6v9h-6zm11 -39h6v48h-6zm36 0h6v48h-6zm47 0h6v48h-6zm-212 0h6v39h-6zm112 31h6v8h-6zm59 -31h5v39h-5zm82 31h6v8h-6zm-265 -8h6v8h-6zm212 -23h6v31h-6zm24 14h5v17h-5zm23 -14h6v31h-6zm-253 0h6v23h-6zm12 0h6v23h-6zm88 14h6v9h-6zm18 -14h12v23h-12zm23 0h6v23h-6zm100 14h12v9h-12zm-158 -14h5v14h-5zm23 0h6v14h-6zm94 0h6v14h-6zm41 0h6v14h-6zm18 0h6v14h-6z"/><path fill="#feb953" d="M236 1899h6v14h-6zm17 0h6v14h-6zm12 0h6v14h-6zm41 0h6v14h-6zm88 0h6v14h-6zm-170 -9h6v9h-6zm71 0h5v9h-5zm105 -8h6v17h-6zm77 8h12v9h-12zm-224 -16h6v16h-6zm53 0h6v16h-6zm88 8h6v8h-6zm12 0h6v8h-6zm18 -17h6v25h-6zm53 17h6v8h-6zm-241 -8h6v8h-6zm88 0h6v8h-6zm123 0h6v8h-6zm47 -9h6v17h-6zm-94 0h12v9h-12zm-94 -8h6v8h-6zm18 0h6v8h-6zm112 0h6v8h-6zm-183 -17h6v17h-6zm141 8h6v9h-6zm83 0h6v9h-6zm-182 -8h5v8h-5zm105 -8h12v16h-12zm24 8h6v8h-6zm-100 -8h6v8h-6zm153 -9h6v17h-6zm-171 0h6v9h-6zm100 -8h6v17h-6zm18 -17h6v34h-6zm-200 0h6v25h-6zm71 9h5v16h-5zm29 8h6v8h-6zm70 0h12v8h-12zm100 -8h6v16h-6zm-241 -17h6v17h-6zm12 8h6v9h-6zm41 0h6v9h-6zm94 -16h6v25h-6zm83 8h6v17h-6zm-59 -8h6v8h-6zm59 -25h6v25h-6zm-106 8h6v8h-6zm135 0h12v8h-12zm65 0h11v8h-11zm17 0h6v8h-6zm65 0h6v8h-6zm18 0h5v8h-5zm-183 -8h18v8h-18zm65 0h6v8h-6zm135 0h6v8h-6zm6 -9h12v9h-12zm-211 -25h11v8h-11zm164 0h6v8h-6zm-170 -50h6v50h-6zm82 42h6v8h-6zm29 0h6v8h-6zm77 0h6v8h-6zm-177 -9h12v9h-12zm53 0h12v9h-12zm141 0h12v9h-12zm-435 -8h6v8h-6zm53 0h6v8h-6zm94 0h12v8h-12zm24 -25h6v33h-6zm12 8h6v25h-6zm11 17h6v8h-6zm-105 -8h5v8h-5zm64 -42h6v50h-6zm88 33h6v17h-6zm-100 0h6v9h-6zm-141 -8h6v8h-6zm118 0h6v8h-6zm76 0h6v8h-6zm-223 -8h6v8h-6zm82 -26h6v34h-6zm130 9h6v25h-6zm58 17h6v8h-6zm-241 -9h6v9h-6zm42 0h5v9h-5zm99 0h12v9h-12zm-23 -17h6v17h-6zm23 9h6v8h-6zm30 0h6v8h-6zm70 0h6v8h-6zm-241 -25h6v25h-6zm147 8h12v8h-12zm47 0h6v8h-6zm-170 -8h6v8h-6zm18 -25h5v33h-5zm11 25h6v8h-6zm118 0h6v8h-6zm53 -25h6v33h-6zm-253 -50h6v75h-6zm18 66h6v9h-6zm23 0h6v9h-6zm59 -89h6v98h-6zm76 81h6v17h-6zm-170 0h6v8h-6zm47 0h6v8h-6zm117 0h6v8h-6zm-158 -8h12v8h-12zm-6 -17h12v17h-12zm35 8h6v9h-6zm-23 -8h6v8h-6zm17 0h6v8h-6zm36 -42h5v50h-5zm182 42h6v8h-6zm-247 -33h6v33h-6zm6 16h6v9h-6zm23 0h6v9h-6zm18 -8h6v17h-6zm12 8h6v9h-6zm188 -39h6v48h-6zm-235 23h6v16h-6zm-6 0h6v8h-6zm29 0h6v8h-6zm-12 -9h6v9h-6zm36 0h6v9h-6zm-59 -14h6v14h-6zm12 0h6v14h-6z"/><path fill="#fea747" d="M259 1899h6v14h-6zm71 0h6v14h-6zm-118 -9h6v9h-6zm53 -33h6v33h-6zm88 17h6v16h-6zm65 8h6v8h-6zm-212 -8h12v8h-12zm53 0h6v8h-6zm41 0h6v8h-6zm112 -9h6v17h-6zm18 -8h6v25h-6zm-147 8h6v9h-6zm29 0h6v9h-6zm-12 -8h6v8h-6zm30 0h6v8h-6zm17 0h6v8h-6zm42 0h5v8h-5zm29 0h6v8h-6zm-206 -17h6v17h-6zm188 8h6v9h-6zm-194 -8h6v8h-6zm59 0h6v8h-6zm82 -8h6v16h-6zm83 8h6v8h-6zm-171 -8h6v8h-6zm59 0h6v8h-6zm18 0h6v8h-6zm82 -9h6v17h-6zm-200 0h6v9h-6zm47 0h6v9h-6zm88 0h6v9h-6zm-147 -8h6v8h-6zm59 -8h6v8h-6zm82 0h12v8h-12zm71 -9h6v17h-6zm-65 -8h6v17h-6zm77 8h6v9h-6zm-224 -16h6v16h-6zm12 8h6v8h-6zm47 0h6v8h-6zm82 -8h6v16h-6zm-29 0h6v8h-6zm24 0h5v8h-5zm64 0h6v8h-6zm12 -9h6v17h-6zm12 9h6v8h-6zm-182 -9h5v9h-5zm123 0h12v9h-12zm23 -8h6v8h-6zm48 0h5v8h-5zm58 0h12v8h-12zm135 0h6v8h-6zm18 0h6v8h-6zm12 0h6v8h-6zm-312 -8h6v8h-6zm136 0h5v8h-5zm23 0h12v8h-12zm29 -9h6v17h-6zm12 9h6v8h-6zm65 0h6v8h-6zm70 -9h6v9h-6zm-376 -25h12v8h-12zm171 0h6v8h-6zm94 0h6v8h-6zm-329 -8h5v8h-5zm176 0h18v8h-18zm70 0h6v8h-6zm18 -9h6v17h-6zm47 9h6v8h-6zm29 0h6v8h-6zm-376 -25h6v25h-6zm124 16h6v9h-6zm82 -25h6v34h-6zm41 25h12v9h-12zm47 0h6v9h-6zm12 0h6v9h-6zm23 0h6v9h-6zm159 0h12v9h-12zm-482 -67h6v67h-6zm82 59h6v8h-6zm12 0h12v8h-12zm18 -8h6v16h-6zm64 0h6v16h-6zm36 0h6v16h-6zm23 0h6v16h-6zm-247 -51h6v59h-6zm130 51h6v8h-6zm17 -42h6v50h-6zm12 42h6v8h-6zm12 0h12v8h-12zm23 -25h6v33h-6zm12 8h6v25h-6zm30 8h5v17h-5zm23 0h12v17h-12zm-217 -25h5v34h-5zm11 25h6v9h-6zm41 -16h6v25h-6zm18 0h6v25h-6zm29 -9h6v34h-6zm36 25h11v9h-11zm-171 -16h6v16h-6zm71 8h6v8h-6zm23 0h6v8h-6zm24 0h12v8h-12zm59 0h11v8h-11zm70 0h12v8h-12zm-206 -8h6v8h-6zm59 -9h6v17h-6zm18 -8h6v25h-6zm59 17h5v8h-5zm29 0h18v8h-18zm-135 -17h6v17h-6zm53 8h6v9h-6zm47 0h6v9h-6zm29 0h12v9h-12zm53 0h6v9h-6zm-212 -8h6v8h-6zm12 0h6v8h-6zm35 -9h6v17h-6zm18 9h6v8h-6zm82 -9h6v17h-6zm18 0h6v17h-6zm12 0h6v17h-6zm-218 0h6v9h-6zm135 0h6v9h-6zm42 0h11v9h-11zm-106 -8h6v8h-6zm70 -8h6v16h-6zm-147 0h6v8h-6zm253 0h6v8h-6zm-129 -9h6v9h-6zm-65 -16h6v16h-6zm6 -34h6v42h-6zm-12 25h6v9h-6zm6 -16h6v16h-6zm-6 0h6v8h-6zm0 -17h12v8h-12zm0 -31h6v31h-6zm6 0h6v23h-6z"/><path fill="#fd9640" d="M230 1899h6v14h-6zm47 -25h6v39h-6zm12 16h6v23h-6zm-47 0h6v9h-6zm-12 -8h6v8h-6zm59 -17h6v17h-6zm-59 -8h6v17h-6zm12 0h6v8h-6zm35 0h6v8h-6zm12 -34h6v34h-6zm-59 17h6v8h-6zm47 -17h6v17h-6zm53 0h6v9h-6zm-100 -16h6v16h-6zm12 8h6v8h-6zm47 -8h6v8h-6zm-53 -17h6v17h-6zm41 0h6v8h-6zm12 0h11v8h-11zm29 0h6v8h-6zm-94 -8h6v8h-6zm82 -9h6v9h-6zm94 0h6v9h-6zm42 0h5v9h-5zm23 0h6v9h-6zm-129 -8h6v8h-6zm17 0h12v8h-12zm18 0h6v8h-6zm59 0h6v8h-6zm17 0h6v8h-6zm30 0h6v8h-6zm12 0h5v8h-5zm47 -8h5v8h-5zm35 0h6v8h-6zm35 0h6v8h-6zm41 0h6v8h-6zm24 0h17v8h-17zm-206 -34h18v8h-18zm118 0h11v8h-11zm58 0h6v8h-6zm36 0h5v8h-5zm-453 -8h6v8h-6zm18 -9h6v17h-6zm47 0h6v17h-6zm11 9h12v8h-12zm165 0h6v8h-6zm24 0h5v8h-5zm17 0h6v8h-6zm12 0h6v8h-6zm23 0h12v8h-12zm-141 -9h6v9h-6zm53 0h6v9h-6zm24 -8h6v17h-6zm-271 0h6v8h-6zm30 -59h6v59h-6zm-24 42h6v9h-6zm30 -8h6v17h-6zm35 -25h6v42h-6zm47 25h6v17h-6zm129 8h6v9h-6zm-164 -8h11v8h-11zm129 0h6v8h-6zm59 -8h6v16h-6zm-253 -9h12v9h-12zm6 -17h6v17h-6zm12 0h6v17h-6zm82 9h6v8h-6zm-35 -9h6v9h-6zm-59 -25h6v9h-6zm-29 -25h5v17h-5zm88 0h6v9h-6zm-12 -16h6v8h-6zm-76 -17h5v17h-5zm0 -31h5v23h-5z"/><path fill="#fd7e38" d="M271 1890h6v9h-6zm0 -25h6v17h-6zm0 -25h6v8h-6zm0 -25h6v8h-6zm0 -33h6v16h-6zm-12 0h6v8h-6zm24 0h12v8h-12zm17 0h6v8h-6zm24 0h6v8h-6zm-118 -9h6v9h-6zm12 -8h6v17h-6zm35 8h6v9h-6zm83 0h6v9h-6zm29 0h6v9h-6zm18 -8h11v17h-11zm47 8h12v9h-12zm17 0h18v9h-18zm-176 -8h6v8h-6zm147 0h6v8h-6zm53 0h6v8h-6zm59 -8h6v8h-6zm158 0h6v8h-6zm6 -9h6v9h-6zm-53 -17h6v9h-6zm-317 -16h6v16h-6zm300 8h6v8h-6zm35 0h6v8h-6zm-376 -17h6v17h-6zm117 9h6v8h-6zm-70 -9h6v9h-6zm23 0h6v9h-6zm41 0h6v9h-6zm42 0h6v9h-6zm11 0h6v9h-6zm83 0h6v9h-6zm-300 -8h12v8h-12zm18 0h5v8h-5zm11 0h6v8h-6zm12 0h12v8h-12zm18 0h6v8h-6zm47 0h11v8h-11zm29 0h6v8h-6zm-94 -8h6v8h-6zm18 -9h6v9h-6zm17 0h6v9h-6zm24 0h6v9h-6zm35 0h6v9h-6zm-94 -16h6v16h-6zm-12 0h6v8h-6zm30 -9h6v17h-6zm-18 -8h6v8h-6zm6 -9h6v9h-6zm-82 -50h6v9h-6zm0 -50h6v9h-6z"/><path fill="#fc612f" d="M201 1899h5v14h-5zm0 -17h5v8h-5zm-12 -25h6v8h-6zm82 0h6v8h-6zm-70 -9h5v9h-5zm-12 -33h6v17h-6zm12 -25h5v25h-5zm-12 0h6v8h-6zm76 -8h6v8h-6zm12 0h6v8h-6zm29 0h6v8h-6zm-76 -9h12v9h-12zm112 0h5v9h-5zm-130 -8h6v8h-6zm71 0h6v8h-6zm264 -17h6v9h-6zm83 -17h5v9h-5zm17 -8h6v8h-6zm-394 -8h6v8h-6zm141 0h6v8h-6zm77 0h12v8h-12zm65 0h5v8h-5zm152 0h6v8h-6zm-482 -9h6v9h-6zm12 0h6v9h-6zm30 0h5v9h-5zm23 0h6v9h-6zm29 0h12v9h-12zm83 0h6v9h-6zm-182 -16h5v16h-5zm41 8h6v8h-6zm41 -8h6v16h-6zm88 0h6v16h-6zm-94 0h6v8h-6zm12 0h6v8h-6zm11 0h6v8h-6zm59 0h6v8h-6zm-106 -9h6v9h-6zm83 0h11v9h-11zm-135 -16h5v16h-5zm-12 0h6v8h-6zm12 -26h5v17h-5zm0 -16h5v8h-5zm-12 -25h6v8h-6zm0 -73h6v64h-6z"/><path fill="#f84528" d="M195 1857h6v33h-6zm0 -17h6v8h-6zm0 -58h6v8h-6zm41 0h17v8h-17zm100 0h6v8h-6zm-77 -9h6v9h-6zm18 0h18v9h-18zm194 0h6v9h-6zm-276 -8h6v8h-6zm82 0h6v8h-6zm53 0h6v8h-6zm135 0h6v8h-6zm123 -8h6v16h-6zm12 8h24v8h-24zm30 0h5v8h-5zm17 0h6v8h-6zm24 0h6v8h-6zm-459 -17h6v17h-6zm71 9h12v8h-12zm64 -9h6v17h-6zm12 9h6v8h-6zm53 0h6v8h-6zm135 0h6v8h-6zm65 0h6v8h-6zm-212 -9h6v9h-6zm136 -8h5v17h-5zm111 0h6v17h-6zm12 0h6v17h-6zm23 8h6v9h-6zm-382 -8h6v8h-6zm147 0h6v8h-6zm59 0h6v8h-6zm194 0h12v8h-12zm-388 -9h6v9h-6zm171 0h6v9h-6zm11 0h6v9h-6zm118 -8h6v17h-6zm76 8h6v9h-6zm-435 -8h6v8h-6zm53 0h6v8h-6zm94 0h6v8h-6zm194 0h18v8h-18zm71 0h12v8h-12zm-394 -8h6v8h-6zm24 0h5v8h-5zm47 -9h5v17h-5zm76 9h6v8h-6zm106 0h12v8h-12zm53 0h11v8h-11zm100 0h11v8h-11zm17 0h6v8h-6zm-499 -9h6v9h-6zm29 0h6v9h-6zm29 0h12v9h-12zm65 0h6v9h-6zm47 0h12v9h-12zm59 0h6v9h-6zm112 0h5v9h-5zm-271 -8h6v8h-6zm94 0h6v8h-6zm18 0h6v8h-6zm-147 -8h6v8h-6zm12 0h6v8h-6zm53 0h5v8h-5zm11 0h12v8h-12zm-105 -9h5v9h-5zm23 0h6v9h-6zm88 0h6v9h-6zm-117 -33h6v33h-6zm-24 -17h12v8h-12zm24 -17h6v25h-6zm0 -16h6v8h-6zm0 -17h6v8h-6zm-24 -25h12v17h-12z"/><path fill="#ec2c21" d="M189 1865h6v9h-6zm0 -83h6v8h-6zm12 -9h5v9h-5zm158 0h6v9h-6zm47 -8h6v17h-6zm-170 0h6v8h-6zm70 -17h6v25h-6zm18 17h6v8h-6zm-129 -17h6v17h-6zm29 9h6v8h-6zm18 0h6v8h-6zm58 0h6v8h-6zm30 0h12v8h-12zm88 0h6v8h-6zm41 0h12v8h-12zm18 0h6v8h-6zm88 0h6v8h-6zm59 0h6v8h-6zm11 0h6v8h-6zm-429 -9h6v9h-6zm83 0h6v9h-6zm105 0h6v9h-6zm12 0h6v9h-6zm24 0h12v9h-12zm53 0h6v9h-6zm41 0h6v9h-6zm35 0h6v9h-6zm18 0h11v9h-11zm35 -8h6v17h-6zm18 8h5v9h-5zm23 -8h6v17h-6zm12 8h6v9h-6zm12 0h5v9h-5zm-324 -8h6v8h-6zm18 -9h6v17h-6zm170 9h6v8h-6zm12 0h6v8h-6zm141 0h6v8h-6zm-493 -9h5v9h-5zm76 0h12v9h-12zm41 0h6v9h-6zm18 0h17v9h-17zm41 0h6v9h-6zm12 0h5v9h-5zm111 0h6v9h-6zm36 0h5v9h-5zm23 -8h6v17h-6zm29 8h18v9h-18zm30 0h6v9h-6zm29 0h6v9h-6zm35 -8h6v17h-6zm-470 0h6v8h-6zm30 0h6v8h-6zm41 0h6v8h-6zm53 0h6v8h-6zm11 0h12v8h-12zm59 0h36v8h-36zm106 0h6v8h-6zm41 0h6v8h-6zm12 0h6v8h-6zm129 0h6v8h-6zm-329 -8h6v8h-6zm82 0h6v8h-6zm12 0h6v8h-6zm41 0h6v8h-6zm-311 -17h6v17h-6zm123 8h6v9h-6zm65 0h6v9h-6zm12 0h5v9h-5zm135 0h6v9h-6zm-329 -16h6v16h-6zm129 8h6v8h-6zm-71 -8h12v8h-12zm94 0h6v8h-6zm-158 -17h6v17h-6zm-6 -92h6v25h-6zm0 -25h6v8h-6zm0 -31h6v23h-6z"/><path fill="#df171d" d="M171 1874h12v16h-12zm0 -17h12v8h-12zm0 -42h12v8h-12zm0 -17h12v9h-12zm129 -8h12v8h-12zm-129 -33h12v33h-12zm59 25h6v8h-6zm23 0h6v8h-6zm59 -17h6v25h-6zm-123 8h12v9h-12zm23 0h6v9h-6zm12 -8h6v17h-6zm18 8h6v9h-6zm53 0h11v9h-11zm23 0h18v9h-18zm29 0h12v9h-12zm47 0h6v9h-6zm18 -8h6v17h-6zm12 0h6v17h-6zm-223 0h11v8h-11zm29 0h6v8h-6zm59 0h6v8h-6zm11 0h6v8h-6zm18 0h6v8h-6zm24 0h11v8h-11zm23 -8h6v16h-6zm35 8h6v8h-6zm36 -8h6v16h-6zm17 0h6v16h-6zm-247 0h6v8h-6zm12 -9h6v17h-6zm59 0h6v17h-6zm94 9h23v8h-23zm71 0h5v8h-5zm-241 -9h5v9h-5zm23 0h6v9h-6zm71 0h5v9h-5zm58 0h6v9h-6zm30 0h6v9h-6zm41 0h6v9h-6zm88 0h12v9h-12zm53 0h12v9h-12zm23 0h18v9h-18zm83 0h6v9h-6zm-159 -8h6v8h-6zm88 0h6v8h-6zm65 0h6v8h-6zm-459 -9h6v9h-6zm65 0h6v9h-6zm59 0h6v9h-6zm147 0h6v9h-6zm12 0h5v9h-5zm117 0h6v9h-6zm88 0h18v9h-18zm-446 -8h5v8h-5zm11 -8h6v16h-6zm83 8h5v8h-5zm100 0h11v8h-11zm17 0h6v8h-6zm47 0h6v8h-6zm24 0h6v8h-6zm17 0h6v8h-6zm141 0h6v8h-6zm12 -8h12v16h-12zm-482 0h6v8h-6zm12 -9h6v17h-6zm47 0h6v17h-6zm35 9h12v8h-12zm18 0h12v8h-12zm41 0h23v8h-23zm35 -9h12v17h-12zm47 9h6v8h-6zm-252 -9h5v9h-5zm35 0h6v9h-6zm59 0h5v9h-5zm29 0h6v9h-6zm23 -8h6v17h-6zm12 8h6v9h-6zm71 0h6v9h-6zm12 0h5v9h-5zm-271 -25h12v25h-12zm212 17h11v8h-11zm-135 -8h5v8h-5zm-77 -51h12v34h-12z"/><path fill="#cd0b22" d="M183 1890h6v23h-6zm0 -42h6v9h-6zm-12 -8h12v8h-12zm12 -8h6v8h-6zm0 -17h6v8h-6zm-12 -25h12v8h-12zm12 -25h6v17h-6zm112 0h5v8h-5zm-106 -8h6v8h-6zm12 0h5v8h-5zm35 0h6v8h-6zm106 0h5v8h-5zm105 0h6v8h-6zm24 0h6v8h-6zm159 0h5v8h-5zm11 -17h6v25h-6zm-358 8h6v9h-6zm106 0h5v9h-5zm100 0h11v9h-11zm64 0h6v9h-6zm82 0h6v9h-6zm-340 -8h5v8h-5zm64 -17h12v25h-12zm83 17h5v8h-5zm58 0h6v8h-6zm18 0h6v8h-6zm12 0h6v8h-6zm17 0h6v8h-6zm12 0h12v8h-12zm47 0h6v8h-6zm-394 -9h6v9h-6zm47 0h12v9h-12zm65 0h6v9h-6zm29 0h6v9h-6zm30 0h6v9h-6zm76 0h18v9h-18zm218 0h5v9h-5zm-471 -8h6v8h-6zm165 0h6v8h-6zm129 0h6v8h-6zm18 0h12v8h-12zm18 0h11v8h-11zm-365 -17h12v17h-12zm65 9h6v8h-6zm-53 -34h6v34h-6zm170 17h6v8h-6zm-170 -42h6v17h-6zm0 -33h6v8h-6z"/><path fill="#b90026" d="M265 1757h12v8h-12zm47 0h18v8h-18zm112 0h12v8h-12zm-253 -17h12v8h-12zm412 0h17v8h-17zm-165 -9h18v9h-18zm-129 -8h17v8h-17zm88 0h23v8h-23zm-194 -8h6v8h-6zm164 0h18v8h-18z"/><path fill="#9d0026" d="M242 1765h23v8h-23zm-12 -8h6v8h-6zm65 0h5v8h-5zm305 0h6v8h-6zm53 0h18v8h-18zm-482 -9h24v9h-24zm71 0h35v9h-35zm58 0h6v9h-6zm12 0h24v9h-24zm47 0h24v9h-24zm106 -8h18v17h-18zm35 8h12v9h-12zm106 0h6v9h-6zm12 -8h12v17h-12zm-435 0h23v8h-23zm41 0h47v8h-47zm94 0h35v8h-35zm59 0h65v8h-65zm76 0h12v8h-12zm30 0h17v8h-17zm41 -9h6v17h-6zm47 9h12v8h-12zm59 0h11v8h-11zm-447 -9h18v9h-18zm53 0h23v9h-23zm53 0h23v9h-23zm105 0h24v9h-24zm42 0h23v9h-23zm70 0h6v9h-6zm24 0h6v9h-6zm11 0h12v9h-12zm112 0h24v9h-24zm-482 -8h24v8h-24zm47 0h24v8h-24zm47 0h18v8h-18zm188 0h6v8h-6zm-258 -8h23v8h-23z"/><path fill="#800026" d="M248 1757h17v8h-17zm146 0h18v8h-18zm-164 -9h12v9h-12zm106 0h11v9h-11zm76 0h12v9h-12zm30 0h23v9h-23zm-236 -8h18v8h-18zm65 0h24v8h-24zm35 0h12v8h-12zm365 0h23v8h-23zm-500 -9h12v9h-12zm47 0h18v9h-18zm294 0h12v9h-12zm41 0h6v9h-6zm12 0h23v9h-23zm70 0h6v9h-6zm-440 -8h11v8h-11zm135 0h6v8h-6zm-141 -8h6v8h-6z"/></g></g>
<rect x="177" y="1530.8" width="529" height="376.2" fill="none" stroke="#8a8a7a" stroke-width="1.3"/>
<path d="M177 1907v-5M177 1530.8v5M235.8 1907v-5M235.8 1530.8v5M294.6 1907v-5M294.6 1530.8v5M353.3 1907v-5M353.3 1530.8v5M412.1 1907v-5M412.1 1530.8v5M470.9 1907v-5M470.9 1530.8v5M529.7 1907v-5M529.7 1530.8v5M588.4 1907v-5M588.4 1530.8v5M647.2 1907v-5M647.2 1530.8v5M706 1907v-5M706 1530.8v5M177 1907h5M706 1907h-5M177 1865.2h5M706 1865.2h-5M177 1823.4h5M706 1823.4h-5M177 1781.6h5M706 1781.6h-5M177 1739.8h5M706 1739.8h-5M177 1698h5M706 1698h-5M177 1656.2h5M706 1656.2h-5M177 1614.4h5M706 1614.4h-5M177 1572.6h5M706 1572.6h-5M177 1530.8h5M706 1530.8h-5" stroke="#8a8a7a" stroke-width="1.2" fill="none"/>
<g font-size="19.2" fill="#4a4a4a" text-anchor="end"><text x="170" y="1913.4">80</text><text x="170" y="1871.6">90</text><text x="170" y="1829.8">100</text><text x="170" y="1788">110</text><text x="170" y="1746.2">120</text><text x="170" y="1704.4">130</text><text x="170" y="1662.6">140</text><text x="170" y="1620.8">150</text><text x="170" y="1579">160</text><text x="170" y="1537.2">170</text></g><g font-size="19.2" fill="#4a4a4a" text-anchor="middle"><text x="235.8" y="1932.5">2.2</text><text x="294.6" y="1932.5">2.4</text><text x="353.3" y="1932.5">2.6</text><text x="412.1" y="1932.5">2.8</text><text x="470.9" y="1932.5">3</text><text x="529.7" y="1932.5">3.2</text><text x="588.4" y="1932.5">3.4</text><text x="647.2" y="1932.5">3.6</text><text x="706" y="1932.5">3.8</text></g>
<text x="370.1" y="1956.5" font-size="21.8" fill="#4a4a4a">Frequency/MHz</text>
<text transform="translate(131.8,1718.9) rotate(-90)" text-anchor="middle" font-size="22.1" fill="#4a4a4a">Virtual Height/km</text>
<g font-size="34.6" fill="#1e1e1e"><text x="248.2" y="1601.6">2021-06-08</text><text x="454.8" y="1601.6">22:05:51</text></g>
<linearGradient id="gb1" x1="0" y1="1" x2="0" y2="0"><stop offset="0.000" stop-color="#ffffcc"/><stop offset="0.125" stop-color="#ffeda0"/><stop offset="0.250" stop-color="#fed976"/><stop offset="0.375" stop-color="#feb24c"/><stop offset="0.500" stop-color="#fd8d3c"/><stop offset="0.625" stop-color="#fc4e2a"/><stop offset="0.750" stop-color="#e31a1c"/><stop offset="0.875" stop-color="#bd0026"/><stop offset="1.000" stop-color="#800026"/></linearGradient>
<rect x="727.5" y="1531" width="22.8" height="374.4" fill="url(#gb1)" stroke="#8a8a7a" stroke-width="1.2"/>
<path d="M750.3 1894.6h-3.5M750.3 1854.5h-3.5M750.3 1814.5h-3.5M750.3 1774.4h-3.5M750.3 1734.3h-3.5M750.3 1694.3h-3.5M750.3 1654.2h-3.5M750.3 1614.1h-3.5M750.3 1574.1h-3.5M750.3 1534h-3.5" stroke="#8a8a7a" stroke-width="1"/>
<g font-size="16" fill="#4a4a4a"><text x="755.3" y="1899.9">0.1</text><text x="755.3" y="1859.9">0.2</text><text x="755.3" y="1819.8">0.3</text><text x="755.3" y="1779.8">0.4</text><text x="755.3" y="1739.7">0.5</text><text x="755.3" y="1699.6">0.6</text><text x="755.3" y="1659.6">0.7</text><text x="755.3" y="1619.5">0.8</text><text x="755.3" y="1579.4">0.9</text><text x="755.3" y="1539.4">1</text></g>
<text x="738.9" y="1521" text-anchor="middle" font-size="18.0" fill="#4a4a4a">Normalized Range Spectrum</text>
<clipPath id="cb2"><rect x="928" y="1536.8" width="528" height="375.6"/></clipPath>
<g clip-path="url(#cb2)"><g filter="url(#bl2)"><path fill="#ffeea3" d="M1247 1531h5v387h-5zm17 0h6v387h-6zm89 0h17v387h-17zm82 0h6v387h-6z"/><path fill="#ffe58f" d="M1129 1531h5v387h-5zm123 0h6v387h-6zm18 0h6v387h-6zm12 0h12v387h-12zm18 0h29v387h-29zm70 0h6v387h-6zm18 0h6v387h-6zm30 0h6v387h-6z"/><path fill="#fedb7b" d="M1111 1531h6v387h-6zm29 0h18v387h-18zm24 0h18v387h-18zm35 0h6v387h-6zm18 0h30v387h-30zm41 0h6v387h-6zm36 0h6v387h-6zm35 0h6v387h-6zm12 0h6v387h-6zm35 0h12v387h-12zm18 0h6v387h-6zm18 0h6v387h-6zm17 0h6v387h-6zm12 0h24v387h-24z"/><path fill="#fecb67" d="M1070 1531h11v387h-11zm23 0h12v387h-12zm24 0h12v387h-12zm17 0h6v387h-6zm24 0h6v387h-6zm24 0h17v387h-17zm23 0h12v387h-12zm71 0h6v387h-6zm59 0h6v387h-6zm12 0h6v387h-6zm53 0h12v387h-12z"/><path fill="#feb953" d="M1064 1531h6v387h-6zm23 0h6v387h-6zm337 0h5v387h-5z"/><path fill="#fea747" d="M1016 1531h24v387h-24zm36 0h6v387h-6zm29 0h6v387h-6zm24 0h6v387h-6z"/><path fill="#fd9640" d="M1005 1531h6v387h-6zm35 0h12v387h-12zm18 0h6v387h-6z"/><path fill="#fd7e38" d="M957 1531h6v387h-6zm42 0h6v387h-6zm12 0h5v387h-5z"/><path fill="#fc612f" d="M975 1531h18v387h-18z"/><path fill="#f84528" d="M934 1531h12v387h-12zm29 0h12v387h-12zm30 0h6v387h-6z"/><path fill="#ec2c21" d="M946 1531h6v387h-6z"/><path fill="#df171d" d="M922 1531h12v387h-12zm30 0h5v387h-5z"/><path fill="#fff7b7" d="M1270 1862h6v9h-6zm-6 -50h6v9h-6zm89 -117h6v9h-6zm-89 -8h6v8h-6zm0 -25h6v8h-6zm0 -17h6v9h-6zm171 0h6v9h-6zm-70 -25h5v9h-5zm0 -16h5v8h-5zm-118 -73h5v14h-5zm112 0h6v14h-6z"/><path fill="#ffeea3" d="M1282 1904h6v14h-6zm136 0h6v14h-6zm-289 -17h5v17h-5zm141 9h6v8h-6zm118 0h6v8h-6zm-77 -9h6v9h-6zm-41 -8h6v8h-6zm12 -17h6v17h-6zm18 9h6v8h-6zm-171 -9h5v9h-5zm188 0h6v9h-6zm-47 -8h6v8h-6zm41 0h6v8h-6zm77 -50h6v50h-6zm-106 33h6v9h-6zm29 0h6v9h-6zm107 -25h6v34h-6zm-148 -8h6v25h-6zm36 17h5v8h-5zm-177 -9h5v9h-5zm153 0h6v9h-6zm24 -8h5v8h-5zm17 0h6v8h-6zm95 -75h6v8h-6zm-136 -17h6v8h-6zm106 -8h6v16h-6zm-259 0h5v8h-5zm153 -9h6v9h-6zm24 0h5v9h-5zm112 -8h6v17h-6zm-289 -42h5v42h-5zm141 34h6v8h-6zm12 0h6v8h-6zm106 0h6v8h-6zm-82 -25h5v25h-5zm17 -9h6v34h-6zm-53 9h6v16h-6zm106 8h6v8h-6zm12 -17h6v9h-6zm30 0h6v9h-6zm-148 -8h6v8h-6zm18 0h6v8h-6zm12 0h6v8h-6zm23 -8h6v8h-6zm-53 -9h6v9h-6zm30 -8h6v8h-6zm-171 -17h5v9h-5zm141 0h6v9h-6zm148 0h6v9h-6zm-136 -8h12v8h-12zm29 0h12v8h-12zm-182 -8h5v8h-5zm141 0h6v8h-6zm30 0h6v8h-6zm88 0h6v8h-6zm30 0h6v8h-6zm-112 -9h5v9h-5zm-24 -8h6v8h-6zm35 0h6v8h-6zm101 0h6v8h-6zm-112 -9h11v9h-11zm82 0h6v9h-6zm-259 -22h5v22h-5zm141 0h6v22h-6zm53 14h6v8h-6zm18 0h6v8h-6zm47 -14h6v14h-6z"/><path fill="#ffe58f" d="M1111 1904h6v14h-6zm41 0h6v14h-6zm24 0h6v14h-6zm118 0h6v14h-6zm35 -8h6v22h-6zm53 8h6v14h-6zm53 -8h6v22h-6zm12 -50h6v72h-6zm-301 33h6v25h-6zm89 17h6v8h-6zm12 -9h5v17h-5zm11 9h6v8h-6zm83 0h6v8h-6zm-165 -25h6v25h-6zm53 16h6v9h-6zm124 0h6v9h-6zm12 0h5v9h-5zm47 0h6v9h-6zm-301 -8h6v8h-6zm153 0h6v8h-6zm77 0h6v8h-6zm18 -17h6v25h-6zm-65 9h6v8h-6zm35 0h6v8h-6zm24 -9h6v17h-6zm23 -16h6v33h-6zm-230 16h12v9h-12zm71 0h12v9h-12zm41 0h6v9h-6zm124 0h6v9h-6zm47 0h12v9h-12zm-253 -8h6v8h-6zm59 0h6v8h-6zm12 0h5v8h-5zm82 0h6v8h-6zm106 -8h6v16h-6zm-289 0h12v8h-12zm148 0h6v8h-6zm-148 -9h6v9h-6zm101 -8h5v17h-5zm82 0h6v17h-6zm-106 -8h6v16h-6zm12 8h6v8h-6zm147 0h6v8h-6zm65 0h6v8h-6zm-301 -17h6v17h-6zm30 -8h6v25h-6zm88 17h6v8h-6zm77 0h6v8h-6zm94 0h6v8h-6zm-295 -9h6v9h-6zm12 0h6v9h-6zm142 -8h6v17h-6zm35 8h6v9h-6zm30 0h6v9h-6zm17 -8h6v17h-6zm53 0h6v17h-6zm-88 0h6v8h-6zm94 0h6v8h-6zm-188 -8h5v8h-5zm17 0h6v8h-6zm65 0h6v8h-6zm24 0h6v8h-6zm12 0h5v8h-5zm29 -76h6v17h-6zm-53 -8h6v17h-6zm24 -8h5v25h-5zm70 16h6v9h-6zm12 0h6v9h-6zm-271 -16h6v16h-6zm47 8h6v8h-6zm35 0h6v8h-6zm36 -8h6v16h-6zm35 -17h6v33h-6zm30 25h6v8h-6zm-130 -8h6v8h-6zm18 0h5v8h-5zm17 0h6v8h-6zm118 -25h6v33h-6zm12 16h6v17h-6zm41 9h6v8h-6zm-324 -9h6v9h-6zm35 0h12v9h-12zm195 0h6v9h-6zm18 0h6v9h-6zm17 0h6v9h-6zm71 0h6v9h-6zm-200 -8h5v8h-5zm106 0h6v8h-6zm-118 -8h6v8h-6zm59 0h6v8h-6zm65 0h11v8h-11zm17 -9h6v17h-6zm53 9h12v8h-12zm18 -9h6v17h-6zm-301 0h6v9h-6zm30 0h6v9h-6zm82 0h12v9h-12zm154 0h6v9h-6zm-301 -8h6v8h-6zm118 0h6v8h-6zm18 0h5v8h-5zm82 0h6v8h-6zm24 0h6v8h-6zm29 -17h6v25h-6zm47 17h12v8h-12zm-283 -8h6v8h-6zm118 0h6v8h-6zm77 0h6v8h-6zm53 -9h6v17h-6zm53 9h6v8h-6zm-271 -9h6v9h-6zm-30 -16h6v16h-6zm89 8h6v8h-6zm23 0h12v8h-12zm71 0h6v8h-6zm100 0h12v8h-12zm-171 -8h6v8h-6zm36 -17h6v25h-6zm65 8h6v17h-6zm94 9h12v8h-12zm-301 -9h6v9h-6zm12 0h6v9h-6zm83 -16h5v25h-5zm147 8h6v17h-6zm35 8h6v9h-6zm18 0h6v9h-6zm-271 -16h6v16h-6zm153 8h6v8h-6zm36 0h5v8h-5zm70 0h6v8h-6zm-289 -17h6v17h-6zm77 9h12v8h-12zm35 0h6v8h-6zm101 0h6v8h-6zm17 -9h6v17h-6zm53 9h6v8h-6zm18 0h6v8h-6zm-118 -9h6v9h-6zm12 -8h6v17h-6zm-94 0h5v8h-5zm135 0h6v8h-6zm12 0h6v8h-6zm53 0h6v8h-6zm-336 -17h6v17h-6zm65 0h6v17h-6zm53 9h12v8h-12zm65 0h6v8h-6zm35 0h6v8h-6zm30 0h6v8h-6zm-207 -17h6v17h-6zm95 8h5v9h-5zm17 -8h6v17h-6zm118 -9h6v26h-6zm30 17h6v9h-6zm-266 -8h6v8h-6zm112 0h6v8h-6zm36 0h6v8h-6zm47 -9h6v17h-6zm53 9h6v8h-6zm35 0h6v8h-6zm-200 -9h6v9h-6zm12 0h11v9h-11zm-89 -22h6v22h-6zm177 14h6v8h-6zm118 0h6v8h-6zm-271 -14h6v14h-6zm53 0h6v14h-6zm29 0h6v14h-6zm95 0h6v14h-6zm23 0h6v14h-6zm53 0h12v14h-12z"/><path fill="#fedb7b" d="M1093 1904h6v14h-6zm195 0h6v14h-6zm59 -17h6v31h-6zm-95 0h6v17h-6zm118 9h6v8h-6zm36 -17h6v25h-6zm12 17h6v8h-6zm-325 -9h12v9h-12zm30 0h6v9h-6zm177 -8h6v17h-6zm35 0h6v17h-6zm-18 0h6v8h-6zm-124 -17h6v17h-6zm59 9h6v8h-6zm95 -9h6v9h-6zm-248 -8h6v8h-6zm18 0h6v8h-6zm159 -17h6v25h-6zm124 17h6v8h-6zm-271 -8h5v8h-5zm29 -9h6v17h-6zm94 9h6v8h-6zm83 -34h6v42h-6zm12 34h6v8h-6zm-272 -9h6v9h-6zm118 -8h6v17h-6zm177 8h6v9h-6zm36 0h6v9h-6zm-307 -8h6v8h-6zm271 -8h6v8h-6zm36 0h6v8h-6zm-248 -9h6v9h-6zm118 0h6v9h-6zm71 -16h6v25h-6zm53 8h6v17h-6zm-283 0h6v8h-6zm183 -8h6v16h-6zm118 8h6v8h-6zm-136 -8h12v8h-12zm24 0h17v8h-17zm-36 -17h6v8h-6zm100 0h6v8h-6zm-123 -8h5v8h-5zm153 -26h6v9h-6zm18 -8h6v17h-6zm-118 0h6v8h-6zm-112 -8h5v8h-5zm64 -17h6v17h-6zm12 8h6v9h-6zm12 -8h6v17h-6zm47 8h6v9h-6zm30 0h12v9h-12zm-160 -8h6v8h-6zm107 0h6v8h-6zm35 0h6v8h-6zm65 0h12v8h-12zm-89 -8h6v8h-6zm89 -9h6v9h-6zm-242 -8h6v8h-6zm159 0h6v8h-6zm18 0h6v8h-6zm-242 -8h6v8h-6zm183 0h6v8h-6zm30 0h5v8h-5zm41 -17h6v25h-6zm-230 0h6v17h-6zm41 8h6v9h-6zm94 -8h6v17h-6zm65 8h6v9h-6zm-242 -8h6v8h-6zm18 0h6v8h-6zm112 0h6v8h-6zm71 0h6v8h-6zm59 0h6v8h-6zm-201 -8h6v8h-6zm177 0h6v8h-6zm-153 -17h6v17h-6zm24 8h6v9h-6zm94 0h6v9h-6zm24 0h6v9h-6zm-225 -8h6v8h-6zm260 0h6v8h-6zm53 -8h6v16h-6zm-41 -9h6v17h-6zm23 9h6v8h-6zm-247 -9h6v9h-6zm35 0h6v9h-6zm47 0h6v9h-6zm130 0h6v9h-6zm-218 -8h6v8h-6zm153 0h6v8h-6zm12 0h6v8h-6zm-77 -8h6v8h-6zm71 -9h6v17h-6zm130 0h6v17h-6zm-248 0h6v9h-6zm130 0h6v9h-6zm47 -16h6v25h-6zm12 16h6v9h-6zm-213 -8h6v8h-6zm77 0h6v8h-6zm41 0h6v8h-6zm148 -8h6v16h-6zm-301 -17h6v17h-6zm248 0h6v17h-6zm59 8h6v9h-6zm12 0h6v9h-6zm-166 -8h6v8h-6zm59 0h6v8h-6zm24 0h6v8h-6zm35 0h6v8h-6zm-94 -31h6v31h-6zm41 14h6v17h-6zm83 0h6v17h-6zm-242 0h6v8h-6zm177 -14h6v22h-6zm35 14h6v8h-6zm-177 -14h6v14h-6zm18 0h6v14h-6zm41 0h6v14h-6z"/><path fill="#fecb67" d="M1064 1896h6v22h-6zm159 8h6v14h-6zm18 -8h6v22h-6zm153 8h6v14h-6zm30 -8h5v22h-5zm-254 0h6v8h-6zm271 0h6v8h-6zm12 -9h12v17h-12zm-230 0h6v9h-6zm-71 -8h6v8h-6zm260 0h6v8h-6zm12 -25h5v33h-5zm-260 17h12v8h-12zm0 -17h6v17h-6zm277 8h6v9h-6zm-377 -8h6v8h-6zm23 -8h6v16h-6zm112 -9h6v25h-6zm30 17h6v8h-6zm23 0h6v8h-6zm160 0h6v8h-6zm-242 -8h6v8h-6zm53 0h6v8h-6zm18 -9h6v9h-6zm-77 -8h12v8h-12zm212 0h6v8h-6zm36 0h6v8h-6zm12 -8h5v16h-5zm-360 -9h6v17h-6zm23 9h6v8h-6zm24 0h6v8h-6zm53 -9h6v17h-6zm35 0h6v17h-6zm242 9h6v8h-6zm-212 -17h6v17h-6zm224 0h12v17h-12zm-283 0h6v8h-6zm88 0h6v8h-6zm154 0h6v8h-6zm-348 -8h6v8h-6zm135 0h6v8h-6zm183 0h6v8h-6zm-218 -9h6v9h-6zm189 0h12v9h-12zm-207 -8h6v8h-6zm30 0h6v8h-6zm41 0h6v8h-6zm30 0h5v8h-5zm129 0h6v8h-6zm-200 -42h6v8h-6zm53 0h6v8h-6zm183 0h6v8h-6zm12 0h5v8h-5zm11 0h30v8h-30zm-194 -17h6v17h-6zm41 9h6v8h-6zm147 0h6v8h-6zm24 0h12v8h-12zm-206 -9h5v9h-5zm194 0h6v9h-6zm-312 -8h5v8h-5zm11 0h6v8h-6zm24 0h6v8h-6zm248 0h6v8h-6zm12 0h5v8h-5zm29 -25h12v33h-12zm-342 17h6v8h-6zm59 0h6v8h-6zm-83 -17h6v17h-6zm337 0h5v17h-5zm-254 0h6v8h-6zm29 -8h6v16h-6zm36 8h6v8h-6zm177 0h6v8h-6zm17 0h6v8h-6zm-365 -17h6v17h-6zm112 9h6v8h-6zm82 0h6v8h-6zm-171 -9h6v9h-6zm83 0h6v9h-6zm53 0h6v9h-6zm230 0h12v9h-12zm-254 -8h6v8h-6zm59 -8h6v16h-6zm112 8h6v8h-6zm-200 -8h6v8h-6zm59 0h6v8h-6zm195 0h5v8h-5zm17 -9h6v17h-6zm-277 -8h6v17h-6zm77 8h6v9h-6zm-177 -8h6v8h-6zm23 0h6v8h-6zm53 0h6v8h-6zm30 0h6v8h-6zm53 -8h6v16h-6zm201 8h5v8h-5zm29 0h12v8h-12zm-12 -8h6v8h-6zm-413 -9h6v9h-6zm36 0h6v9h-6zm106 0h6v9h-6zm29 0h6v9h-6zm42 0h6v9h-6zm183 0h5v9h-5zm29 0h12v9h-12zm-289 -16h6v8h-6zm260 0h5v8h-5zm17 0h6v8h-6zm-354 -9h6v9h-6zm53 0h6v9h-6zm313 -8h12v17h-12zm-289 0h6v8h-6zm94 0h6v8h-6zm118 0h6v8h-6zm-312 -17h6v17h-6zm76 9h6v8h-6zm83 0h6v8h-6zm201 -9h5v17h-5zm-254 -8h6v17h-6zm29 0h6v17h-6zm30 8h12v9h-12zm-89 -8h6v8h-6zm83 0h6v8h-6zm230 0h12v8h-12zm-389 -9h6v9h-6zm23 0h6v9h-6zm65 0h6v9h-6zm18 -22h6v22h-6zm47 14h6v8h-6zm18 0h6v8h-6zm6 -14h6v14h-6zm171 0h6v14h-6z"/><path fill="#feb953" d="M1105 1904h6v14h-6zm18 0h6v14h-6zm35 -8h6v8h-6zm35 0h6v8h-6zm12 0h6v8h-6zm71 0h6v8h-6zm165 -9h6v9h-6zm-413 -8h12v8h-12zm42 0h5v8h-5zm123 0h6v8h-6zm-118 -8h6v8h-6zm48 0h6v8h-6zm59 0h11v8h-11zm-154 -9h12v9h-12zm65 0h6v9h-6zm24 0h6v9h-6zm-89 -33h6v33h-6zm47 25h6v8h-6zm48 0h6v8h-6zm11 0h6v8h-6zm-112 -8h6v8h-6zm48 -9h5v9h-5zm35 0h6v9h-6zm77 0h11v9h-11zm-148 -8h6v8h-6zm41 0h6v8h-6zm42 -17h6v25h-6zm71 9h5v16h-5zm-83 -9h6v17h-6zm-30 0h6v9h-6zm24 0h6v9h-6zm24 0h6v9h-6zm-95 -16h6v8h-6zm42 0h17v8h-17zm118 0h11v8h-11zm200 0h6v8h-6zm-336 -9h6v9h-6zm165 0h18v9h-18zm59 0h6v9h-6zm65 0h6v9h-6zm29 0h6v9h-6zm30 0h6v9h-6zm-236 -8h6v8h-6zm-24 -8h6v8h-6zm12 0h6v8h-6zm71 0h6v8h-6zm195 -17h6v8h-6zm-236 -17h6v8h-6zm177 0h6v8h-6zm41 0h12v8h-12zm-271 -8h5v8h-5zm11 0h6v8h-6zm18 0h12v8h-12zm47 0h6v8h-6zm18 0h6v8h-6zm35 0h6v8h-6zm112 0h6v8h-6zm-259 -17h6v17h-6zm124 8h6v9h-6zm-118 -8h12v8h-12zm17 0h6v8h-6zm48 0h6v8h-6zm-101 -8h6v8h-6zm42 -9h6v17h-6zm-95 0h6v9h-6zm42 0h5v9h-5zm5 -8h6v8h-6zm-47 -8h12v8h-12zm183 0h6v8h-6zm-88 -17h6v17h-6zm11 8h6v9h-6zm-106 -25h6v25h-6zm160 9h5v16h-5zm23 8h6v8h-6zm-130 -8h6v8h-6zm-29 -9h6v9h-6zm53 0h6v9h-6zm12 0h6v9h-6zm-36 -8h6v8h-6zm107 -8h5v16h-5zm-160 0h6v8h-6zm47 0h6v8h-6zm18 0h6v8h-6zm24 0h12v8h-12zm17 0h6v8h-6zm-100 -17h6v8h-6zm18 0h6v8h-6zm18 0h5v8h-5zm112 -8h6v8h-6zm11 0h6v8h-6zm-177 -9h12v9h-12zm83 -8h6v17h-6zm18 8h6v9h-6zm94 0h6v9h-6zm-189 -8h12v8h-12zm53 0h12v8h-12zm107 0h6v8h-6zm-154 -17h6v17h-6zm106 0h6v17h-6zm54 0h5v17h-5zm-118 0h5v9h-5zm-36 -8h6v8h-6zm59 0h6v8h-6zm12 0h6v8h-6zm77 -9h6v17h-6zm-154 -8h6v8h-6zm24 0h6v8h-6zm41 0h6v8h-6zm30 0h6v8h-6zm11 0h6v8h-6zm-100 -14h6v14h-6zm83 0h6v14h-6zm71 0h5v14h-5z"/><path fill="#fea747" d="M1040 1896h6v22h-6zm-35 -9h6v9h-6zm41 0h6v9h-6zm-6 -25h6v25h-6zm0 -25h6v9h-6zm6 -8h6v8h-6zm-6 -8h6v8h-6zm6 -9h6v9h-6zm-6 -16h6v16h-6zm354 0h6v8h-6zm47 0h24v8h-24zm-289 -9h12v9h-12zm47 0h18v9h-18zm36 0h12v9h-12zm35 0h6v9h-6zm41 0h6v9h-6zm24 0h6v9h-6zm30 -8h5v17h-5zm41 8h6v9h-6zm41 0h6v9h-6zm-383 -8h6v8h-6zm47 0h6v8h-6zm71 0h17v8h-17zm41 0h6v8h-6zm83 0h5v8h-5zm11 0h6v8h-6zm-200 -8h6v8h-6zm17 0h6v8h-6zm59 0h6v8h-6zm48 0h6v8h-6zm171 -17h6v8h-6zm29 0h6v8h-6zm-248 -17h6v8h-6zm65 0h6v8h-6zm18 0h6v8h-6zm12 -8h6v16h-6zm18 0h5v16h-5zm29 8h6v8h-6zm53 0h12v8h-12zm-94 -8h12v8h-12zm17 0h18v8h-18zm-188 -9h6v9h-6zm23 0h12v9h-12zm36 0h41v9h-41zm47 0h6v9h-6zm-189 -33h6v17h-6zm-35 0h6v8h-6zm35 -17h12v9h-12zm6 -8h6v8h-6zm-6 -8h6v8h-6zm24 0h6v8h-6zm-24 -25h12v8h-12zm6 -25h6v8h-6zm-6 -9h6v9h-6zm6 -8h6v8h-6zm-41 -17h6v9h-6zm35 -17h12v9h-12zm0 -8h6v8h-6zm6 -14h6v14h-6z"/><path fill="#fd9640" d="M1011 1904h11v14h-11zm23 0h6v14h-6zm18 0h6v14h-6zm-41 -8h5v8h-5zm5 -9h6v9h-6zm89 -8h6v8h-6zm-94 -8h5v8h-5zm-54 -9h6v9h-6zm54 -16h5v16h-5zm11 -17h6v8h-6zm59 0h6v8h-6zm-65 -8h6v8h-6zm-5 -17h5v17h-5zm-12 0h6v8h-6zm401 -8h6v8h-6zm-366 -9h6v9h-6zm95 0h23v9h-23zm41 0h6v9h-6zm77 0h5v9h-5zm35 0h6v9h-6zm18 0h6v9h-6zm76 0h12v9h-12zm-354 -8h6v8h-6zm65 0h6v8h-6zm47 0h6v8h-6zm24 0h6v8h-6zm47 0h6v8h-6zm36 0h6v8h-6zm17 0h6v8h-6zm53 0h6v8h-6zm-182 -8h5v8h-5zm-77 -9h6v9h-6zm377 -8h6v8h-6zm-47 -9h12v9h-12zm42 0h5v9h-5zm11 0h6v9h-6zm-188 -16h11v16h-11zm82 8h6v8h-6zm12 0h6v8h-6zm29 0h6v8h-6zm-247 -8h6v8h-6zm88 0h6v8h-6zm124 0h6v8h-6zm18 0h6v8h-6zm12 0h5v8h-5zm-142 -9h6v9h-6zm-201 -16h6v16h-6zm59 8h6v8h-6zm12 0h12v8h-12zm-82 -8h5v8h-5zm53 0h6v8h-6zm11 0h6v8h-6zm-64 -25h5v16h-5zm94 -9h6v17h-6zm-53 0h6v9h-6zm-36 -25h6v25h-6zm18 9h6v8h-6zm-77 -17h6v8h-6zm65 0h6v8h-6zm-6 -33h6v33h-6zm65 25h6v8h-6zm-100 -9h6v9h-6zm30 -25h5v9h-5zm94 0h6v9h-6zm-53 -8h6v8h-6zm-36 -17h6v17h-6zm-59 0h6v9h-6zm54 -8h5v8h-5zm11 -9h6v9h-6zm59 -8h6v8h-6zm-70 -14h5v14h-5zm94 0h6v14h-6z"/><path fill="#fd7e38" d="M981 1871h6v47h-6zm24 33h6v14h-6zm-30 -17h6v9h-6zm83 -33h6v33h-6zm-83 0h6v8h-6zm30 -8h6v8h-6zm-24 -34h6v25h-6zm24 0h6v9h-6zm407 -25h6v17h-6zm-384 0h6v9h-6zm224 0h6v9h-6zm54 0h5v9h-5zm23 0h6v9h-6zm112 0h6v9h-6zm-401 -8h12v8h-12zm18 0h6v8h-6zm35 0h6v8h-6zm30 0h6v8h-6zm141 0h6v8h-6zm24 0h6v8h-6zm65 0h6v8h-6zm29 0h6v8h-6zm-330 -8h6v8h-6zm94 0h6v8h-6zm42 0h5v8h-5zm247 -17h6v8h-6zm-41 -9h6v9h-6zm-389 -8h6v8h-6zm218 0h6v8h-6zm18 0h6v8h-6zm82 0h6v8h-6zm30 0h6v8h-6zm-207 -8h12v8h-12zm30 0h12v8h-12zm23 0h6v8h-6zm30 0h6v8h-6zm35 0h6v8h-6zm-159 -9h6v9h-6zm24 0h5v9h-5zm11 0h6v9h-6zm18 0h6v9h-6zm18 0h6v9h-6zm-171 -8h6v8h-6zm23 0h6v8h-6zm42 0h5v8h-5zm-12 -25h6v8h-6zm-53 -8h6v8h-6zm41 0h6v8h-6zm-59 -9h6v9h-6zm71 0h6v9h-6zm-77 -25h6v17h-6zm77 -8h6v17h-6zm-12 0h6v8h-6zm-65 -8h6v8h-6zm77 -9h6v9h-6zm-83 -8h6v8h-6zm30 -8h6v16h-6zm-24 -9h6v17h-6zm77 -16h6v16h-6zm-71 -9h6v9h-6zm59 -8h6v8h-6zm-71 -9h6v9h-6zm6 -22h6v22h-6zm24 0h6v22h-6zm53 0h6v22h-6z"/><path fill="#fc612f" d="M957 1904h12v14h-12zm-17 -17h6v17h-6zm17 0h6v9h-6zm12 -16h6v16h-6zm30 0h6v16h-6zm-59 -9h6v17h-6zm23 9h6v8h-6zm30 -9h6v9h-6zm-30 -16h6v16h-6zm-29 0h6v8h-6zm35 0h6v8h-6zm-6 -17h6v8h-6zm-6 -17h6v9h-6zm130 -25h6v9h-6zm89 0h12v9h-12zm212 0h6v9h-6zm65 0h12v9h-12zm-383 -8h5v8h-5zm271 0h6v8h-6zm-330 -8h5v8h-5zm35 0h6v8h-6zm12 0h6v8h-6zm17 0h6v8h-6zm12 0h6v8h-6zm71 0h6v8h-6zm195 0h6v8h-6zm23 -26h6v9h-6zm65 0h6v9h-6zm-224 -8h6v8h-6zm77 0h6v8h-6zm23 0h6v8h-6zm-41 -8h6v8h-6zm65 0h6v8h-6zm-378 -9h6v9h-6zm83 0h6v9h-6zm24 0h5v9h-5zm100 0h6v9h-6zm-171 -8h6v8h-6zm76 0h6v8h-6zm12 0h6v8h-6zm-147 -17h6v9h-6zm59 -25h6v17h-6zm-36 -8h12v8h-12zm30 0h6v8h-6zm-24 -25h6v8h-6zm24 0h6v8h-6zm6 -8h6v8h-6zm-42 -17h6v8h-6zm42 -8h6v16h-6zm-30 0h6v8h-6zm-6 -34h6v34h-6zm-23 9h6v8h-6zm59 0h6v8h-6zm-65 -26h12v9h-12zm35 0h6v9h-6zm24 -8h6v8h-6z"/><path fill="#f84528" d="M987 1904h6v14h-6zm0 -25h6v8h-6zm-41 -17h6v17h-6zm35 0h12v9h-12zm6 -8h6v8h-6zm-41 -17h6v17h-6zm41 -8h6v17h-6zm-41 -25h6v17h-6zm41 8h6v9h-6zm419 -16h6v8h-6zm12 0h11v8h-11zm17 -9h6v17h-6zm-448 0h6v9h-6zm106 0h6v9h-6zm18 0h18v9h-18zm77 0h5v9h-5zm70 0h12v9h-12zm30 0h12v9h-12zm29 0h6v9h-6zm77 0h6v9h-6zm24 0h6v9h-6zm11 0h6v9h-6zm-430 -8h12v8h-12zm130 0h5v8h-5zm11 0h6v8h-6zm12 0h6v8h-6zm47 0h6v8h-6zm12 0h6v8h-6zm18 -8h6v16h-6zm23 8h6v8h-6zm24 0h12v8h-12zm18 0h6v8h-6zm29 0h18v8h-18zm36 0h6v8h-6zm94 0h12v8h-12zm-478 -8h6v8h-6zm12 0h6v8h-6zm29 0h6v8h-6zm48 0h11v8h-11zm59 0h6v8h-6zm112 0h6v8h-6zm94 0h24v8h-24zm-230 -9h6v9h-6zm47 0h6v9h-6zm36 0h6v9h-6zm177 0h6v9h-6zm-284 -8h6v8h-6zm124 -17h6v17h-6zm53 8h6v9h-6zm154 0h12v9h-12zm23 0h6v9h-6zm18 0h18v9h-18zm-242 -8h12v8h-12zm30 -8h6v16h-6zm29 8h12v8h-12zm18 0h6v8h-6zm29 0h6v8h-6zm54 0h5v8h-5zm17 0h6v8h-6zm-265 -17h6v17h-6zm17 0h6v17h-6zm36 9h6v8h-6zm23 0h6v8h-6zm24 0h6v8h-6zm53 0h6v8h-6zm59 0h6v8h-6zm18 0h6v8h-6zm12 0h6v8h-6zm-354 -9h6v9h-6zm70 0h6v9h-6zm18 0h6v9h-6zm71 0h6v9h-6zm-177 -8h6v8h-6zm47 0h6v8h-6zm12 0h6v8h-6zm12 0h6v8h-6zm-77 -8h6v8h-6zm6 -17h6v17h-6zm-12 -8h6v8h-6zm-29 -17h6v17h-6zm41 -8h6v8h-6zm-41 -9h6v9h-6zm0 -25h6v17h-6zm41 -8h6v17h-6zm0 -17h6v9h-6zm-41 -8h6v8h-6zm0 -17h6v9h-6zm41 -17h6v17h-6zm-12 -8h6v8h-6zm12 -14h6v14h-6z"/><path fill="#ec2c21" d="M934 1904h6v14h-6zm35 0h6v14h-6zm-6 -8h6v8h-6zm-41 -25h12v25h-12zm18 8h6v8h-6zm12 0h5v8h-5zm11 -17h6v9h-6zm-41 -8h12v8h-12zm47 0h6v8h-6zm-17 -25h5v8h-5zm17 -8h6v8h-6zm12 -17h6v8h-6zm-41 -8h6v8h-6zm17 -9h6v9h-6zm36 0h6v9h-6zm200 0h6v9h-6zm-206 -8h6v8h-6zm130 0h6v8h-6zm289 0h6v8h-6zm12 0h17v8h-17zm-419 -8h6v8h-6zm41 0h6v8h-6zm212 0h12v8h-12zm24 -9h6v17h-6zm106 9h12v8h-12zm-425 -9h6v9h-6zm59 0h6v9h-6zm18 0h6v9h-6zm47 0h6v9h-6zm24 0h6v9h-6zm29 0h6v9h-6zm24 0h12v9h-12zm18 0h6v9h-6zm12 0h5v9h-5zm94 0h6v9h-6zm153 0h6v9h-6zm18 0h12v9h-12zm-383 -8h5v8h-5zm23 0h6v8h-6zm136 -9h6v17h-6zm12 0h11v17h-11zm183 9h5v8h-5zm23 0h6v8h-6zm-454 -17h6v17h-6zm65 8h6v9h-6zm47 -8h6v17h-6zm12 8h6v9h-6zm12 0h5v9h-5zm94 0h6v9h-6zm12 0h6v9h-6zm59 0h6v9h-6zm-360 -8h6v8h-6zm23 0h6v8h-6zm12 0h6v8h-6zm47 0h12v8h-12zm18 0h12v8h-12zm65 0h6v8h-6zm12 0h6v8h-6zm12 0h6v8h-6zm-95 -8h6v8h-6zm-17 -9h11v9h-11zm29 -8h6v17h-6zm-106 0h6v8h-6zm29 0h6v8h-6zm6 -8h6v8h-6zm-6 -59h12v9h-12zm-23 -8h6v8h-6zm23 0h6v8h-6zm-41 -17h12v9h-12zm30 0h5v9h-5zm-18 -16h6v16h-6zm35 -17h6v8h-6zm-35 -17h6v9h-6zm0 -25h6v8h-6z"/><path fill="#df171d" d="M963 1804h6v8h-6zm0 -17h6v9h-6zm-29 -8h6v8h-6zm47 0h6v8h-6zm53 0h6v8h-6zm354 0h12v8h-12zm47 0h6v8h-6zm12 0h6v8h-6zm-490 -8h18v8h-18zm48 0h6v8h-6zm306 0h6v8h-6zm12 0h6v8h-6zm-383 -9h6v9h-6zm82 0h12v9h-12zm18 0h6v9h-6zm24 0h6v9h-6zm153 0h18v9h-18zm71 0h6v9h-6zm77 0h5v9h-5zm76 0h12v9h-12zm-484 -8h6v8h-6zm48 0h6v8h-6zm11 0h12v8h-12zm65 0h12v8h-12zm18 0h12v8h-12zm136 0h6v8h-6zm171 0h6v8h-6zm47 0h12v8h-12zm-478 -9h6v9h-6zm148 0h6v9h-6zm41 0h12v9h-12zm24 0h11v9h-11zm17 0h6v9h-6zm12 0h6v9h-6zm65 0h12v9h-12zm41 0h12v9h-12zm-312 -16h5v16h-5zm41 8h6v8h-6zm65 0h6v8h-6zm12 0h5v8h-5zm-183 -8h6v8h-6zm59 0h6v8h-6zm106 0h6v8h-6zm-154 -9h6v9h-6zm24 0h6v9h-6zm18 0h6v9h-6zm-53 -8h6v8h-6zm0 -167h6v8h-6z"/><path fill="#cd0b22" d="M922 1837h12v17h-12zm12 -33h6v8h-6zm18 0h11v8h-11zm17 0h6v8h-6zm-6 -8h6v8h-6zm18 0h6v8h-6zm-41 -9h17v9h-17zm35 0h6v9h-6zm30 0h23v9h-23zm94 -8h6v17h-6zm-142 0h18v8h-18zm54 0h11v8h-11zm17 0h6v8h-6zm47 0h12v8h-12zm225 0h6v8h-6zm112 0h6v8h-6zm-390 -8h6v8h-6zm12 0h6v8h-6zm47 0h6v8h-6zm183 0h12v8h-12zm53 0h6v8h-6zm77 0h6v8h-6zm-472 -9h18v9h-18zm124 0h6v9h-6zm12 0h6v9h-6zm12 0h11v9h-11zm17 0h12v9h-12zm53 0h6v9h-6zm12 0h6v9h-6zm18 0h6v9h-6zm124 0h6v9h-6zm112 0h6v9h-6zm-443 -17h6v17h-6zm30 9h12v8h-12zm18 0h5v8h-5zm53 0h6v8h-6zm47 -9h6v17h-6zm112 9h6v8h-6zm177 0h6v8h-6zm-431 -9h6v9h-6zm12 0h12v9h-12zm195 0h6v9h-6zm35 0h6v9h-6zm89 0h6v9h-6zm70 0h6v9h-6zm-430 -16h6v16h-6zm12 -9h5v25h-5zm23 17h12v8h-12zm24 0h6v8h-6zm47 0h6v8h-6zm88 0h12v8h-12zm-118 -8h12v8h-12zm71 -9h6v17h-6zm12 0h6v17h-6zm-165 0h6v9h-6zm35 0h6v9h-6zm18 0h12v9h-12zm35 0h18v9h-18zm36 0h12v9h-12zm23 0h6v9h-6zm-29 -16h6v16h-6zm12 8h6v8h-6zm-18 -8h6v8h-6zm12 0h6v8h-6zm12 0h5v8h-5zm-148 -34h12v9h-12zm30 -8h5v8h-5zm-30 -33h12v8h-12zm30 0h5v8h-5zm0 -17h5v8h-5zm0 -59h5v9h-5z"/><path fill="#b90026" d="M975 1804h6v8h-6zm-53 -8h18v8h-18zm12 -9h6v9h-6zm35 0h6v9h-6zm-47 -16h12v16h-12zm53 8h6v8h-6zm6 -8h6v8h-6zm-18 -9h6v9h-6zm148 0h23v9h-23zm259 0h12v9h-12zm-342 -17h12v17h-12zm165 9h6v8h-6zm83 0h24v8h-24zm-319 -9h6v9h-6zm65 0h6v9h-6zm18 0h6v9h-6zm94 0h6v9h-6zm-188 -8h6v8h-6zm112 0h6v8h-6zm-77 -8h6v8h-6zm112 0h6v8h-6zm-171 -9h12v9h-12zm18 0h12v9h-12z"/><path fill="#9d0026" d="M975 1796h6v8h-6zm466 -17h6v8h-6zm-448 -17h6v17h-6zm100 9h24v8h-24zm71 0h18v8h-18zm35 0h24v8h-24zm107 -26h5v34h-5zm94 26h24v8h-24zm-454 -17h6v17h-6zm23 0h24v17h-24zm30 8h17v9h-17zm194 0h24v9h-24zm42 0h23v9h-23zm65 -8h6v17h-6zm11 -9h6v26h-6zm30 9h18v17h-18zm41 8h24v9h-24zm-430 -8h5v8h-5zm165 0h23v8h-23zm47 0h18v8h-18zm24 0h5v8h-5zm11 0h24v8h-24zm53 0h24v8h-24zm65 0h24v8h-24zm42 0h41v8h-41zm-360 -9h23v9h-23zm65 0h41v9h-41zm118 0h6v9h-6zm76 0h24v9h-24zm59 0h6v9h-6zm42 0h11v9h-11zm-331 -8h6v8h-6zm59 0h12v8h-12zm59 0h30v8h-30zm-112 -8h53v8h-53zm18 -9h6v9h-6z"/><path fill="#800026" d="M981 1787h6v9h-6zm419 -8h6v8h-6zm-466 -8h6v8h-6zm348 0h24v8h-24zm77 0h23v8h-23zm65 0h41v8h-41zm-166 -9h18v9h-18zm59 0h24v9h-24zm95 0h23v9h-23zm-490 -17h24v17h-24zm118 9h24v8h-24zm100 -9h24v17h-24zm42 9h6v8h-6zm-236 -9h6v9h-6zm100 0h12v9h-12zm289 0h24v9h-24zm-271 -8h23v8h-23z"/></g></g>
<rect x="928" y="1536.8" width="528" height="375.6" fill="none" stroke="#8a8a7a" stroke-width="1.3"/>
<path d="M928 1912.4v-5M928 1536.8v5M987 1912.4v-5M987 1536.8v5M1046 1912.4v-5M1046 1536.8v5M1105 1912.4v-5M1105 1536.8v5M1164 1912.4v-5M1164 1536.8v5M1223 1912.4v-5M1223 1536.8v5M1282 1912.4v-5M1282 1536.8v5M1341 1912.4v-5M1341 1536.8v5M1400 1912.4v-5M1400 1536.8v5M928 1912.4h5M1456 1912.4h-5M928 1870.7h5M1456 1870.7h-5M928 1828.9h5M1456 1828.9h-5M928 1787.2h5M1456 1787.2h-5M928 1745.5h5M1456 1745.5h-5M928 1703.7h5M1456 1703.7h-5M928 1662h5M1456 1662h-5M928 1620.3h5M1456 1620.3h-5M928 1578.5h5M1456 1578.5h-5M928 1536.8h5M1456 1536.8h-5" stroke="#8a8a7a" stroke-width="1.2" fill="none"/>
<g font-size="19.2" fill="#4a4a4a" text-anchor="end"><text x="921" y="1918.8">80</text><text x="921" y="1877.1">90</text><text x="921" y="1835.4">100</text><text x="921" y="1793.6">110</text><text x="921" y="1751.9">120</text><text x="921" y="1710.2">130</text><text x="921" y="1668.4">140</text><text x="921" y="1626.7">150</text><text x="921" y="1585">160</text><text x="921" y="1543.2">170</text></g><g font-size="19.2" fill="#4a4a4a" text-anchor="middle"><text x="928" y="1937.9">2</text><text x="987" y="1937.9">2.2</text><text x="1046" y="1937.9">2.4</text><text x="1105" y="1937.9">2.6</text><text x="1164" y="1937.9">2.8</text><text x="1223" y="1937.9">3</text><text x="1282" y="1937.9">3.2</text><text x="1341" y="1937.9">3.4</text><text x="1400" y="1937.9">3.6</text></g>
<text x="1120.1" y="1961.5" font-size="22.0" fill="#4a4a4a">Frequency/MHz</text>
<text transform="translate(882.8,1724.6) rotate(-90)" text-anchor="middle" font-size="22.1" fill="#4a4a4a">Virtual Height/km</text>
<g font-size="34.6" fill="#1e1e1e"><text x="1000.9" y="1602.5">2021-06-08</text><text x="1206.2" y="1602.5">22:20:14</text></g>
<linearGradient id="gb2" x1="0" y1="1" x2="0" y2="0"><stop offset="0.000" stop-color="#ffffcc"/><stop offset="0.125" stop-color="#ffeda0"/><stop offset="0.250" stop-color="#fed976"/><stop offset="0.375" stop-color="#feb24c"/><stop offset="0.500" stop-color="#fd8d3c"/><stop offset="0.625" stop-color="#fc4e2a"/><stop offset="0.750" stop-color="#e31a1c"/><stop offset="0.875" stop-color="#bd0026"/><stop offset="1.000" stop-color="#800026"/></linearGradient>
<rect x="1466.8" y="1536.8" width="22.9" height="375.6" fill="url(#gb2)" stroke="#8a8a7a" stroke-width="1.2"/>
<path d="M1489.7 1887.8h-3.5M1489.7 1848.8h-3.5M1489.7 1809.8h-3.5M1489.7 1770.8h-3.5M1489.7 1731.8h-3.5M1489.7 1692.8h-3.5M1489.7 1653.8h-3.5M1489.7 1614.8h-3.5M1489.7 1575.8h-3.5M1489.7 1536.8h-3.5" stroke="#8a8a7a" stroke-width="1"/>
<g font-size="16" fill="#4a4a4a"><text x="1494.7" y="1893.2">0.1</text><text x="1494.7" y="1854.2">0.2</text><text x="1494.7" y="1815.2">0.3</text><text x="1494.7" y="1776.2">0.4</text><text x="1494.7" y="1737.2">0.5</text><text x="1494.7" y="1698.2">0.6</text><text x="1494.7" y="1659.2">0.7</text><text x="1494.7" y="1620.2">0.8</text><text x="1494.7" y="1581.2">0.9</text><text x="1494.7" y="1542.2">1</text></g>
<text x="1478.2" y="1526.8" text-anchor="middle" font-size="18.0" fill="#4a4a4a">Normalized Range Spectrum</text>
<clipPath id="cb3"><rect x="178" y="2002.5" width="534" height="380.9"/></clipPath>
<g clip-path="url(#cb3)"><g filter="url(#bl2)"><path fill="#ffffcc" d="M596 1996h6v393h-6z"/><path fill="#fff7b7" d="M602 1996h6v393h-6z"/><path fill="#ffeea3" d="M620 1996h5v393h-5z"/><path fill="#ffe58f" d="M614 1996h6v393h-6zm17 0h18v393h-18zm30 0h6v393h-6z"/><path fill="#fedb7b" d="M512 1996h6v393h-6zm12 0h6v393h-6zm12 0h6v393h-6zm12 0h12v393h-12zm42 0h6v393h-6zm18 0h6v393h-6zm17 0h6v393h-6zm24 0h6v393h-6zm18 0h12v393h-12zm18 0h6v393h-6zm24 0h12v393h-12z"/><path fill="#fecb67" d="M411 1996h6v393h-6zm107 0h6v393h-6zm12 0h6v393h-6zm12 0h6v393h-6zm36 0h12v393h-12zm77 0h6v393h-6zm24 0h6v393h-6zm18 0h12v393h-12z"/><path fill="#feb953" d="M423 1996h6v393h-6zm12 0h6v393h-6zm17 0h12v393h-12zm18 0h12v393h-12zm18 0h18v393h-18zm72 0h12v393h-12zm131 0h6v393h-6z"/><path fill="#fea747" d="M303 1996h12v393h-12zm18 0h6v393h-6zm18 0h6v393h-6zm48 0h6v393h-6zm18 0h6v393h-6zm12 0h6v393h-6zm12 0h6v393h-6zm17 0h6v393h-6zm18 0h6v393h-6zm18 0h6v393h-6zm24 0h6v393h-6zm66 0h6v393h-6z"/><path fill="#fd9640" d="M273 1996h12v393h-12zm24 0h6v393h-6zm18 0h6v393h-6zm12 0h6v393h-6zm66 0h12v393h-12zm48 0h5v393h-5z"/><path fill="#fd7e38" d="M285 1996h12v393h-12zm48 0h6v393h-6zm30 0h6v393h-6zm12 0h12v393h-12z"/><path fill="#fc612f" d="M196 1996h6v393h-6zm12 0h6v393h-6zm137 0h6v393h-6zm12 0h6v393h-6zm12 0h6v393h-6z"/><path fill="#f84528" d="M262 1996h11v393h-11z"/><path fill="#ec2c21" d="M184 1996h12v393h-12zm18 0h6v393h-6zm18 0h6v393h-6zm12 0h6v393h-6zm24 0h6v393h-6zm95 0h6v393h-6z"/><path fill="#df171d" d="M214 1996h6v393h-6zm12 0h6v393h-6zm18 0h12v393h-12z"/><path fill="#cd0b22" d="M172 1996h12v393h-12zm66 0h6v393h-6z"/><path fill="#ffffcc" d="M602 2316h6v8h-6zm0 -144h6v8h-6zm0 -93h6v8h-6zm0 -83h6v23h-6z"/><path fill="#fff7b7" d="M620 2375h5v14h-5zm0 -34h5v9h-5zm-24 -51h6v9h-6zm0 -84h6v8h-6zm24 -102h5v9h-5zm0 -17h5v9h-5z"/><path fill="#ffeea3" d="M602 2366h6v9h-6zm59 -59h6v9h-6zm-65 -25h12v8h-12zm0 -68h6v9h-6zm6 -17h6v9h-6zm12 -8h6v17h-6zm17 -43h6v9h-6zm-29 -33h6v16h-6z"/><path fill="#ffe58f" d="M649 2358h6v31h-6zm18 17h6v14h-6zm-113 -25h6v25h-6zm119 0h6v8h-6zm-161 -9h6v9h-6zm173 -8h6v17h-6zm-173 -9h6v9h-6zm137 0h6v9h-6zm0 -17h6v9h-6zm60 0h12v9h-12zm-155 -8h6v8h-6zm54 -9h6v9h-6zm41 0h6v9h-6zm18 -8h6v17h-6zm18 0h6v17h-6zm-65 -9h11v9h-11zm-30 -59h6v9h-6zm12 0h6v9h-6zm18 -25h5v25h-5zm29 0h6v17h-6zm-137 -9h6v9h-6zm173 0h6v9h-6zm-173 -25h6v17h-6zm137 -9h6v26h-6zm36 9h6v8h-6zm24 0h12v8h-12zm0 -17h12v8h-12zm-161 -9h6v9h-6zm101 0h6v9h-6zm-95 -16h6v16h-6zm71 8h6v8h-6zm60 -8h6v8h-6zm-173 -9h6v9h-6zm108 -8h5v8h-5zm-108 -17h6v8h-6zm113 0h6v8h-6zm24 0h6v8h-6zm36 -17h6v25h-6zm24 8h12v9h-12zm-36 -8h6v8h-6zm-53 -9h5v9h-5zm29 0h6v9h-6zm36 -8h6v8h-6zm-36 -49h6v15h-6z"/><path fill="#fedb7b" d="M661 2375h6v14h-6zm36 0h6v14h-6zm-54 -9h6v9h-6zm12 -8h6v17h-6zm-71 0h6v8h-6zm30 0h6v8h-6zm-203 -8h6v8h-6zm220 0h6v8h-6zm12 -9h6v17h-6zm-101 -8h6v17h-6zm72 8h6v9h-6zm41 0h12v9h-12zm-125 -17h6v17h-6zm131 0h6v17h-6zm-30 0h12v9h-12zm12 -8h6v8h-6zm54 0h6v8h-6zm-179 -17h6v17h-6zm66 0h6v17h-6zm53 0h6v17h-6zm-226 0h6v8h-6zm167 0h6v8h-6zm65 0h6v8h-6zm-191 -9h6v9h-6zm179 -8h6v17h-6zm24 8h6v9h-6zm24 -8h6v17h-6zm-149 0h6v8h-6zm113 0h6v8h-6zm18 0h6v8h-6zm36 0h6v8h-6zm-83 -9h6v9h-6zm17 -67h18v8h-18zm-220 -9h6v9h-6zm131 0h6v9h-6zm89 0h6v9h-6zm30 0h6v9h-6zm-131 -17h6v17h-6zm113 0h6v17h-6zm-12 -17h12v26h-12zm-89 9h6v8h-6zm113 0h6v8h-6zm42 -9h6v17h-6zm-83 -8h6v8h-6zm23 -9h6v17h-6zm18 0h6v9h-6zm-71 -8h6v8h-6zm47 -9h6v17h-6zm-17 0h6v9h-6zm23 -8h6v17h-6zm42 8h6v9h-6zm-65 -16h6v8h-6zm17 -9h6v17h-6zm-101 0h6v9h-6zm12 0h6v9h-6zm95 0h12v9h-12zm-53 -8h6v8h-6zm30 0h6v8h-6zm29 -17h6v17h-6zm18 0h6v17h-6zm-119 0h6v8h-6zm72 0h6v8h-6zm83 0h6v8h-6zm-66 -9h12v9h-12zm24 0h6v9h-6zm-137 -8h6v8h-6zm12 0h6v8h-6zm84 -9h6v17h-6zm23 -8h6v25h-6zm-6 8h6v9h-6zm12 -8h6v17h-6zm18 0h6v17h-6zm-6 0h6v8h-6zm42 0h6v8h-6zm-155 -9h6v9h-6zm-12 -8h6v8h-6zm84 0h6v8h-6zm17 -9h6v17h-6zm12 -8h6v17h-6zm12 8h12v9h-12zm-71 -8h6v8h-6zm30 0h6v8h-6zm41 0h6v8h-6zm24 0h6v8h-6zm18 -15h6v23h-6zm-167 0h6v15h-6zm101 0h12v15h-12z"/><path fill="#fecb67" d="M470 2341h6v48h-6zm18 34h6v14h-6zm72 0h6v14h-6zm-60 -17h6v17h-6zm48 8h6v9h-6zm42 -8h6v17h-6zm18 8h6v9h-6zm83 -8h6v17h-6zm-239 -8h6v16h-6zm36 -9h6v17h-6zm102 -17h6v26h-6zm77 17h6v9h-6zm24 -34h6v43h-6zm-191 17h6v17h-6zm24 9h6v8h-6zm101 -9h6v17h-6zm48 9h6v8h-6zm-250 -9h6v9h-6zm29 0h6v9h-6zm257 0h12v9h-12zm-239 -8h6v8h-6zm18 0h6v8h-6zm24 0h6v8h-6zm12 0h6v8h-6zm12 -9h6v17h-6zm30 9h6v8h-6zm-18 -9h6v9h-6zm119 0h12v9h-12zm-209 -8h6v8h-6zm150 0h6v8h-6zm-138 -9h6v9h-6zm24 0h12v9h-12zm131 0h6v9h-6zm66 0h6v9h-6zm18 0h12v9h-12zm-185 -17h6v17h-6zm36 9h6v8h-6zm-90 -9h6v9h-6zm66 0h6v9h-6zm12 0h12v9h-12zm42 0h6v9h-6zm12 0h12v9h-12zm59 0h12v9h-12zm-149 -17h6v9h-6zm-60 -33h6v8h-6zm42 0h12v8h-12zm18 0h6v8h-6zm12 0h6v8h-6zm12 0h6v8h-6zm-113 -9h6v9h-6zm47 0h6v9h-6zm30 0h6v9h-6zm48 0h6v9h-6zm-96 -34h6v34h-6zm42 26h6v8h-6zm155 0h6v8h-6zm-179 -17h6v17h-6zm66 0h6v17h-6zm12 -9h6v26h-6zm42 17h6v9h-6zm77 -8h12v8h-12zm-179 -9h6v9h-6zm102 0h6v9h-6zm83 0h6v9h-6zm-250 -8h6v8h-6zm71 0h12v8h-12zm18 0h6v8h-6zm155 0h6v8h-6zm-346 -9h6v9h-6zm215 -17h6v26h-6zm12 17h6v9h-6zm60 0h6v9h-6zm77 0h12v9h-12zm-215 -25h6v25h-6zm18 17h6v8h-6zm12 -9h6v17h-6zm90 9h6v8h-6zm35 0h6v8h-6zm48 0h6v8h-6zm-250 -9h6v9h-6zm101 -50h6v59h-6zm84 50h6v9h-6zm101 0h12v9h-12zm-388 -8h6v8h-6zm131 0h6v8h-6zm215 0h6v8h-6zm24 -17h6v25h-6zm-179 8h6v9h-6zm78 0h6v9h-6zm35 0h6v9h-6zm-137 -33h6v33h-6zm12 0h6v33h-6zm36 17h6v16h-6zm12 8h6v8h-6zm137 0h6v8h-6zm-191 -8h6v8h-6zm114 0h6v8h-6zm17 -9h6v17h-6zm-77 0h6v9h-6zm-54 -8h6v8h-6zm215 -9h12v17h-12zm-257 0h6v9h-6zm24 0h6v9h-6zm72 0h12v9h-12zm42 0h6v9h-6zm47 0h6v9h-6zm54 -8h6v17h-6zm-221 0h6v8h-6zm30 0h6v8h-6zm36 0h6v8h-6zm131 -17h6v25h-6zm-143 -17h6v34h-6zm24 17h6v17h-6zm-96 0h6v8h-6zm48 0h6v8h-6zm90 0h6v8h-6zm35 -9h6v9h-6zm-137 -8h6v8h-6zm12 0h6v8h-6zm66 0h6v8h-6zm101 0h6v8h-6zm-107 -9h6v9h-6zm65 0h6v9h-6zm66 0h6v9h-6zm-239 -8h6v8h-6zm18 0h6v8h-6zm18 0h6v8h-6zm12 0h6v8h-6zm24 0h6v8h-6zm143 0h6v8h-6zm-191 -9h6v9h-6zm197 0h6v9h-6zm18 0h6v9h-6zm-191 -8h6v8h-6zm24 -15h6v23h-6zm66 15h6v8h-6zm35 0h6v8h-6zm-155 -15h6v15h-6zm24 0h6v15h-6zm54 0h6v15h-6zm143 0h6v15h-6z"/><path fill="#feb953" d="M411 2358h6v31h-6zm95 17h6v14h-6zm12 0h6v14h-6zm161 0h6v14h-6zm-358 -25h6v25h-6zm382 8h6v17h-6zm-274 -8h6v16h-6zm113 8h6v8h-6zm36 -8h6v16h-6zm-54 0h6v8h-6zm-215 -9h6v9h-6zm78 0h6v9h-6zm131 0h6v9h-6zm161 0h6v9h-6zm-250 -8h6v8h-6zm53 0h6v8h-6zm102 0h6v8h-6zm-173 -9h6v9h-6zm167 0h6v9h-6zm125 -8h6v17h-6zm-382 -9h6v9h-6zm108 -8h6v17h-6zm53 8h6v9h-6zm-95 -8h6v8h-6zm30 0h6v8h-6zm262 0h6v8h-6zm24 -9h6v17h-6zm-125 0h6v9h-6zm-257 -8h6v8h-6zm18 -9h6v17h-6zm257 0h6v9h-6zm77 0h18v9h-18zm24 0h6v9h-6zm-60 -17h6v9h-6zm-226 -25h6v9h-6zm113 0h6v9h-6zm54 0h6v9h-6zm89 0h6v9h-6zm-346 -8h6v8h-6zm221 0h6v8h-6zm54 0h6v8h-6zm-209 -17h6v17h-6zm42 0h6v17h-6zm149 8h6v9h-6zm30 0h6v9h-6zm-287 -8h6v8h-6zm251 0h6v8h-6zm-155 -9h6v9h-6zm256 0h6v9h-6zm24 0h12v9h-12zm-376 -8h6v8h-6zm108 0h6v8h-6zm77 0h6v8h-6zm197 0h6v8h-6zm-364 -9h6v9h-6zm239 0h6v9h-6zm77 0h6v9h-6zm24 -8h6v17h-6zm-268 0h6v8h-6zm18 0h6v8h-6zm143 0h6v8h-6zm-251 -17h6v8h-6zm90 -9h6v17h-6zm71 9h6v8h-6zm90 0h6v8h-6zm131 -26h6v34h-6zm-364 17h6v9h-6zm125 0h6v9h-6zm114 0h12v9h-12zm-149 -25h6v25h-6zm149 17h6v8h-6zm101 0h6v8h-6zm-107 -9h6v9h-6zm-251 -25h6v25h-6zm185 17h6v8h-6zm78 -17h6v25h-6zm-120 9h6v8h-6zm-35 -17h6v17h-6zm149 -9h6v26h-6zm119 17h12v9h-12zm-125 -17h6v17h-6zm107 9h6v8h-6zm-358 -9h6v9h-6zm161 0h6v9h-6zm24 0h6v9h-6zm12 0h6v9h-6zm-131 -8h6v8h-6zm-48 -17h6v17h-6zm78 8h6v9h-6zm65 -8h6v17h-6zm24 8h6v9h-6zm72 0h12v9h-12zm101 0h6v9h-6zm18 0h12v9h-12zm-376 -17h6v17h-6zm90 0h6v17h-6zm292 9h6v8h-6zm-316 -9h6v9h-6zm30 0h6v9h-6zm29 0h6v9h-6zm96 0h6v9h-6zm30 -8h6v17h-6zm-143 -9h6v17h-6zm-42 0h6v9h-6zm24 0h6v9h-6zm167 0h6v9h-6zm125 0h6v9h-6zm-185 -8h6v8h-6zm12 -9h6v9h-6zm42 0h6v9h-6zm131 0h6v9h-6zm-364 -8h6v8h-6zm107 0h6v8h-6zm72 0h6v8h-6zm-113 -15h6v15h-6zm101 0h6v15h-6zm72 0h6v15h-6z"/><path fill="#fea747" d="M399 2366h6v23h-6zm101 9h6v14h-6zm-65 -9h6v9h-6zm131 0h6v9h-6zm-125 -8h5v8h-5zm119 0h6v8h-6zm-245 -17h6v17h-6zm84 -8h6v25h-6zm36 0h6v25h-6zm-108 0h6v17h-6zm66 -9h6v9h-6zm48 -8h5v17h-5zm17 8h6v9h-6zm102 0h6v9h-6zm-233 -17h6v9h-6zm131 0h6v9h-6zm-143 -25h6v25h-6zm126 8h5v17h-5zm-114 0h12v9h-12zm96 0h6v9h-6zm12 0h6v9h-6zm-108 -8h6v8h-6zm72 0h6v8h-6zm36 -9h6v9h-6zm23 0h6v9h-6zm245 0h18v9h-18zm-280 -8h6v8h-6zm173 0h6v8h-6zm77 0h6v8h-6zm-179 -9h6v9h-6zm161 0h6v9h-6zm48 0h6v9h-6zm-209 -16h6v8h-6zm48 0h6v8h-6zm-227 -9h6v9h-6zm78 0h12v9h-12zm30 0h6v9h-6zm-96 -8h6v8h-6zm114 0h5v8h-5zm113 0h6v8h-6zm36 0h6v8h-6zm47 0h6v8h-6zm-149 -9h6v9h-6zm72 0h6v9h-6zm-245 -17h6v17h-6zm84 0h6v17h-6zm36 9h6v8h-6zm41 0h6v8h-6zm-149 -9h6v9h-6zm114 -8h5v8h-5zm17 -34h6v42h-6zm-143 17h6v17h-6zm12 -9h6v26h-6zm233 17h6v9h-6zm-167 -8h12v8h-12zm48 0h5v8h-5zm-6 -9h6v9h-6zm-12 -8h6v8h-6zm18 0h5v8h-5zm35 -9h6v17h-6zm90 9h6v8h-6zm-251 -17h6v17h-6zm120 8h6v9h-6zm125 0h6v9h-6zm-233 -17h6v17h-6zm72 9h6v8h-6zm95 0h6v8h-6zm-59 -9h6v9h-6zm23 0h6v9h-6zm102 0h6v9h-6zm-245 -8h6v8h-6zm12 -8h6v8h-6zm108 -9h6v17h-6zm-120 -8h6v17h-6zm143 8h6v9h-6zm-131 -8h6v8h-6zm96 0h6v8h-6zm137 0h6v8h-6zm-125 -9h11v9h-11zm-120 -8h6v8h-6zm12 -9h6v17h-6zm66 9h6v8h-6zm6 -26h6v26h-6zm24 17h6v9h-6zm53 -17h6v26h-6zm84 17h6v9h-6zm-102 -8h6v8h-6zm-143 -17h6v17h-6zm120 -17h6v34h-6zm-108 8h6v9h-6zm149 0h6v9h-6zm18 0h6v9h-6zm-95 -8h6v8h-6zm59 0h6v8h-6zm102 -9h6v17h-6zm-245 -8h6v17h-6zm12 0h6v17h-6zm167 8h6v9h-6zm-95 -23h6v15h-6zm36 0h11v15h-11z"/><path fill="#fd9640" d="M285 2366h6v23h-6zm120 9h6v14h-6zm12 -9h6v23h-6zm29 9h6v14h-6zm-71 -9h6v9h-6zm89 0h6v9h-6zm108 0h6v9h-6zm-167 -8h6v8h-6zm-120 -8h6v8h-6zm24 0h6v8h-6zm54 0h6v8h-6zm101 -17h6v25h-6zm-131 8h6v9h-6zm30 -8h6v8h-6zm83 0h6v8h-6zm-155 -9h6v9h-6zm12 0h6v9h-6zm18 0h6v9h-6zm12 -25h6v34h-6zm42 17h6v17h-6zm30 8h6v9h-6zm77 0h6v9h-6zm90 0h6v9h-6zm-287 -25h6v25h-6zm102 17h6v8h-6zm-84 -9h6v9h-6zm6 -8h6v8h-6zm96 -9h6v17h-6zm-66 0h6v9h-6zm233 0h6v9h-6zm-197 -8h6v8h-6zm12 -9h6v17h-6zm30 9h6v8h-6zm89 0h6v8h-6zm-221 -9h12v9h-12zm18 -8h6v17h-6zm30 8h6v9h-6zm113 0h6v9h-6zm-137 -8h6v8h-6zm185 0h6v8h-6zm120 0h6v8h-6zm65 0h6v8h-6zm-209 -9h6v9h-6zm30 0h6v9h-6zm18 0h6v9h-6zm149 0h6v9h-6zm18 0h6v9h-6zm12 0h6v9h-6zm-310 -16h6v8h-6zm161 0h6v8h-6zm-245 -9h6v9h-6zm18 0h6v9h-6zm84 0h6v9h-6zm12 0h6v9h-6zm12 0h12v9h-12zm53 0h6v9h-6zm120 -8h6v17h-6zm-269 0h12v8h-12zm42 0h6v8h-6zm71 0h6v8h-6zm60 0h6v8h-6zm54 0h6v8h-6zm24 0h6v8h-6zm-167 -9h6v9h-6zm47 -8h6v17h-6zm203 8h6v9h-6zm-382 -8h6v8h-6zm48 -9h6v17h-6zm-24 0h6v9h-6zm72 0h6v9h-6zm24 -8h6v8h-6zm41 0h6v8h-6zm-113 -26h6v26h-6zm42 9h6v17h-6zm-72 0h6v8h-6zm-18 -9h6v9h-6zm120 -8h6v17h-6zm-102 0h6v8h-6zm-18 -17h12v8h-12zm179 0h6v8h-6zm-131 -9h6v9h-6zm113 -8h6v17h-6zm-155 0h6v8h-6zm12 0h12v8h-12zm60 0h6v8h-6zm-60 -8h6v8h-6zm30 0h12v8h-12zm72 0h6v8h-6zm77 0h6v8h-6zm-173 -9h6v9h-6zm155 0h6v9h-6zm-161 -8h6v8h-6zm30 -9h6v17h-6zm149 9h6v8h-6zm-143 -9h6v9h-6zm66 0h6v9h-6zm101 -8h6v8h-6zm-221 -43h6v43h-6zm36 34h6v9h-6zm42 0h6v9h-6zm24 0h6v9h-6zm18 0h6v9h-6zm-102 -8h6v8h-6zm30 0h6v8h-6zm84 0h6v8h-6zm29 0h6v8h-6zm-29 -34h6v25h-6zm-114 8h12v9h-12zm72 0h6v9h-6zm30 0h6v9h-6zm59 0h6v9h-6zm-83 -8h6v8h-6zm65 0h6v8h-6zm60 0h6v8h-6zm-221 -9h6v9h-6zm48 -8h6v17h-6zm42 8h6v9h-6zm107 0h6v9h-6zm-65 -8h6v8h-6zm89 0h6v8h-6zm-203 -15h6v15h-6zm143 0h6v15h-6zm18 0h6v15h-6z"/><path fill="#fd7e38" d="M279 2350h6v39h-6zm78 8h6v8h-6zm-84 -34h6v34h-6zm24 0h6v34h-6zm72 26h6v8h-6zm24 -17h6v8h-6zm-114 -17h6v8h-6zm-6 -17h6v17h-6zm24 0h6v17h-6zm60 0h6v17h-6zm84 8h5v9h-5zm-162 -8h6v8h-6zm90 -9h6v9h-6zm-90 -8h6v8h-6zm18 0h6v8h-6zm96 0h6v8h-6zm-114 -17h6v8h-6zm18 -9h6v17h-6zm24 9h12v8h-12zm72 0h6v8h-6zm59 0h42v8h-42zm120 0h12v8h-12zm18 0h6v8h-6zm35 0h24v8h-24zm-298 -9h6v9h-6zm203 0h12v9h-12zm30 0h6v9h-6zm36 0h6v9h-6zm77 0h6v9h-6zm-364 -16h6v8h-6zm114 0h6v8h-6zm-84 -9h6v9h-6zm102 0h5v9h-5zm47 0h12v9h-12zm96 0h6v9h-6zm12 0h6v9h-6zm-323 -8h6v8h-6zm24 0h6v8h-6zm269 0h6v8h-6zm54 -9h5v17h-5zm77 9h6v8h-6zm-328 -9h6v9h-6zm245 0h6v9h-6zm35 0h6v9h-6zm36 0h12v9h-12zm-244 -8h5v8h-5zm-162 -17h6v17h-6zm18 8h6v9h-6zm60 -8h6v17h-6zm12 8h6v9h-6zm24 0h6v9h-6zm-120 -25h6v25h-6zm24 -9h6v26h-6zm-18 9h6v8h-6zm-6 -17h6v8h-6zm84 -17h6v17h-6zm36 8h6v9h-6zm-197 -8h6v8h-6zm101 0h6v8h-6zm48 0h6v8h-6zm-66 -17h6v8h-6zm0 -25h6v17h-6zm18 0h6v17h-6zm96 8h12v9h-12zm-120 -8h6v8h-6zm84 -9h6v17h-6zm12 -8h6v8h-6zm-90 -9h6v9h-6zm-6 -17h6v9h-6zm-77 -8h6v8h-6zm83 0h6v8h-6zm48 0h6v8h-6zm30 -9h6v17h-6zm-84 -8h6v8h-6zm24 -17h6v25h-6zm72 8h6v9h-6zm-96 -23h6v23h-6zm72 15h6v8h-6zm12 0h6v8h-6z"/><path fill="#fc612f" d="M363 2366h6v23h-6zm18 9h6v14h-6zm-6 -17h12v8h-12zm-113 -8h5v8h-5zm29 -9h6v17h-6zm-29 -34h5v17h-5zm101 0h6v9h-6zm-101 -25h5v8h-5zm29 0h6v8h-6zm245 0h6v8h-6zm12 0h6v8h-6zm-281 -9h6v9h-6zm30 0h6v9h-6zm245 0h6v9h-6zm18 0h6v9h-6zm-161 -8h6v8h-6zm12 0h6v8h-6zm24 0h6v8h-6zm77 0h12v8h-12zm155 0h6v8h-6zm-394 -9h12v9h-12zm30 0h6v9h-6zm12 0h6v9h-6zm143 0h6v9h-6zm30 0h6v9h-6zm90 0h6v9h-6zm12 0h6v9h-6zm30 0h5v9h-5zm11 0h6v9h-6zm30 0h6v9h-6zm30 0h6v9h-6zm-394 -16h6v8h-6zm132 0h6v8h-6zm107 0h6v8h-6zm18 0h6v8h-6zm-245 -9h6v9h-6zm149 0h12v9h-12zm54 0h6v9h-6zm60 0h6v9h-6zm36 -8h6v8h-6zm23 0h6v8h-6zm12 0h6v8h-6zm12 0h6v8h-6zm-274 -17h6v8h-6zm-18 -26h6v17h-6zm-101 -8h5v8h-5zm101 -9h6v9h-6zm-72 -17h6v17h-6zm-29 0h11v9h-11zm71 0h6v9h-6zm0 -25h6v8h-6zm48 -34h6v9h-6zm-90 -17h6v17h-6zm72 -17h6v17h-6zm-72 -17h6v9h-6zm150 0h5v9h-5zm-179 -8h5v8h-5zm17 0h6v8h-6zm12 -17h6v8h-6zm-6 -15h6v15h-6zm96 0h6v15h-6z"/><path fill="#f84528" d="M190 2375h6v14h-6zm18 -25h6v25h-6zm24 16h6v9h-6zm119 0h6v9h-6zm-149 -16h6v8h-6zm149 0h6v8h-6zm-155 -9h6v9h-6zm6 -8h6v8h-6zm143 0h6v8h-6zm-155 -9h6v9h-6zm18 0h6v9h-6zm-12 -8h6v8h-6zm149 -17h6v8h-6zm-131 -9h6v9h-6zm-6 -8h6v8h-6zm-6 -9h6v9h-6zm-6 -8h6v8h-6zm358 0h6v8h-6zm101 0h6v8h-6zm-220 -9h6v9h-6zm41 0h6v9h-6zm72 0h6v9h-6zm24 0h6v9h-6zm137 0h12v9h-12zm-328 -16h6v8h-6zm-54 -9h6v9h-6zm143 0h6v9h-6zm30 0h6v9h-6zm-310 -8h6v8h-6zm292 -9h6v17h-6zm167 9h6v8h-6zm18 0h6v8h-6zm18 0h6v8h-6zm24 0h12v8h-12zm-501 -9h6v9h-6zm417 0h6v9h-6zm12 0h12v9h-12zm-453 -8h6v8h-6zm12 -9h6v9h-6zm149 0h6v9h-6zm-155 -8h6v8h-6zm18 -9h6v17h-6zm137 0h6v9h-6zm-161 -17h6v9h-6zm24 -8h6v8h-6zm137 -9h6v9h-6zm24 -8h6v17h-6zm-149 0h6v8h-6zm36 0h6v8h-6zm-66 -34h6v34h-6zm-6 17h6v8h-6zm12 0h6v8h-6zm12 -17h6v17h-6zm-12 -8h6v17h-6zm173 8h6v9h-6zm-24 -8h6v8h-6zm-137 -17h6v17h-6zm48 8h6v9h-6zm-72 -17h6v17h-6zm6 -8h6v17h-6zm6 -9h6v9h-6zm149 0h6v9h-6zm24 0h6v9h-6zm-161 -25h6v25h-6zm-18 -9h6v9h-6zm12 0h6v9h-6zm6 -8h6v8h-6zm137 -15h6v15h-6z"/><path fill="#ec2c21" d="M214 2375h6v14h-6zm12 0h6v14h-6zm18 0h6v14h-6zm-30 -17h6v8h-6zm12 0h6v8h-6zm0 -17h6v9h-6zm18 0h6v9h-6zm18 -8h11v17h-11zm-48 -9h6v9h-6zm36 0h6v9h-6zm-24 -34h6v34h-6zm41 26h6v8h-6zm78 -26h6v9h-6zm-131 -25h6v17h-6zm12 8h6v9h-6zm41 -8h6v8h-6zm72 0h6v8h-6zm209 0h6v8h-6zm143 0h6v8h-6zm-465 -9h6v9h-6zm119 0h6v9h-6zm137 0h6v9h-6zm24 0h6v9h-6zm60 0h6v9h-6zm113 0h6v9h-6zm-435 -16h6v8h-6zm83 0h6v8h-6zm-42 -9h6v9h-6zm323 0h6v9h-6zm-382 -8h6v8h-6zm250 0h6v8h-6zm-30 -9h6v9h-6zm257 0h6v9h-6zm-477 -8h6v8h-6zm18 0h6v8h-6zm-30 -51h6v34h-6zm30 25h6v9h-6zm-18 -25h6v17h-6zm18 0h6v8h-6zm-30 -17h6v8h-6zm12 -9h6v9h-6zm24 0h6v9h-6zm17 0h6v9h-6zm-23 -8h6v8h-6zm-30 -17h6v17h-6zm12 9h6v8h-6zm41 -17h6v17h-6zm-41 0h6v8h-6zm36 0h5v8h-5zm5 -17h6v8h-6zm-53 -26h6v17h-6zm12 0h6v9h-6zm18 -8h6v17h-6zm23 8h6v9h-6zm-17 -8h6v8h-6zm-24 -9h6v9h-6zm-12 -17h6v9h-6zm53 -23h6v15h-6z"/><path fill="#df171d" d="M232 2375h12v14h-12zm6 -9h6v9h-6zm18 -8h6v17h-6zm-72 0h6v8h-6zm48 0h6v8h-6zm119 0h6v8h-6zm-131 -8h6v8h-6zm18 0h6v8h-6zm18 -9h6v9h-6zm-24 -17h6v17h-6zm119 0h6v9h-6zm-131 -8h6v8h-6zm18 0h6v8h-6zm18 0h6v8h-6zm-84 -17h12v8h-12zm48 0h6v8h-6zm18 -26h6v34h-6zm-30 17h6v9h-6zm155 0h6v9h-6zm-131 -8h6v8h-6zm119 0h6v8h-6zm18 0h6v8h-6zm-149 -9h6v9h-6zm-36 -17h6v17h-6zm24 9h6v8h-6zm24 -9h6v17h-6zm113 9h6v8h-6zm96 -9h5v17h-5zm83 9h24v8h-24zm36 0h12v8h-12zm24 -9h6v17h-6zm18 0h12v17h-12zm18 9h5v8h-5zm29 -9h6v17h-6zm12 9h6v8h-6zm24 0h6v8h-6zm12 0h24v8h-24zm-435 -9h11v9h-11zm29 0h6v9h-6zm18 0h6v9h-6zm30 0h6v9h-6zm125 0h6v9h-6zm60 0h6v9h-6zm18 0h6v9h-6zm12 0h6v9h-6zm60 0h6v9h-6zm11 0h6v9h-6zm18 0h6v9h-6zm-411 -25h6v17h-6zm30 9h5v8h-5zm101 0h6v8h-6zm12 0h6v8h-6zm18 0h6v8h-6zm12 0h6v8h-6zm12 0h6v8h-6zm101 0h18v8h-18zm-328 -9h6v9h-6zm12 0h12v9h-12zm54 0h6v9h-6zm11 0h18v9h-18zm66 0h6v9h-6zm24 0h6v9h-6zm89 0h12v9h-12zm60 0h6v9h-6zm12 0h6v9h-6zm12 0h6v9h-6zm12 0h12v9h-12zm48 0h6v9h-6zm-352 -8h6v8h-6zm131 0h6v8h-6zm95 0h6v8h-6zm84 0h6v8h-6zm66 0h6v8h-6zm11 0h6v8h-6zm48 0h6v8h-6zm18 0h6v8h-6zm-459 -9h6v9h-6zm399 0h6v9h-6zm30 -8h6v17h-6zm48 8h12v9h-12zm-507 -8h12v8h-12zm149 0h6v8h-6zm209 0h6v8h-6zm-328 -17h6v17h-6zm-48 0h6v8h-6zm78 0h5v8h-5zm-90 -9h12v9h-12zm48 -17h6v17h-6zm36 -8h6v25h-6zm-54 8h6v9h-6zm30 0h6v9h-6zm-60 -8h12v8h-12zm179 -9h6v17h-6zm-131 0h6v9h-6zm12 -17h6v26h-6zm6 9h6v8h-6zm-18 -9h6v9h-6zm18 -16h6v16h-6zm-66 0h12v8h-12zm48 0h6v8h-6zm131 0h6v8h-6zm-119 -17h12v8h-12zm-48 -9h6v9h-6zm36 0h6v9h-6zm18 -17h6v26h-6zm-66 9h12v8h-12zm30 -9h6v17h-6zm149 0h6v17h-6zm-167 -8h6v8h-6zm48 -9h6v17h-6zm24 -8h6v25h-6zm-18 8h6v9h-6zm-18 -42h6v34h-6zm18 17h6v8h-6zm-6 -17h6v17h-6zm6 0h6v8h-6zm18 -15h6v15h-6zm95 0h6v15h-6z"/><path fill="#cd0b22" d="M244 2366h6v9h-6zm6 -8h6v8h-6zm-54 -68h6v9h-6zm155 0h12v9h-12zm-167 -17h6v17h-6zm30 9h6v8h-6zm30 0h6v8h-6zm-48 -9h6v9h-6zm155 0h12v9h-12zm18 0h6v9h-6zm-107 -8h5v8h-5zm184 0h6v8h-6zm54 0h6v8h-6zm-256 -9h6v9h-6zm149 0h6v9h-6zm-114 -8h12v8h-12zm144 0h23v8h-23zm119 0h12v8h-12zm113 0h18v8h-18zm-465 -8h12v8h-12zm179 -9h6v17h-6zm-119 -8h6v17h-6zm95 8h6v9h-6zm131 0h6v9h-6zm60 0h6v9h-6zm24 0h6v9h-6zm54 0h6v9h-6zm23 0h6v9h-6zm48 0h6v9h-6zm-501 -17h6v9h-6zm36 -17h6v26h-6zm24 17h6v9h-6zm310 0h6v9h-6zm119 0h6v9h-6zm-18 -8h6v8h-6zm54 0h12v8h-12zm-465 -17h6v8h-6zm0 -43h6v9h-6zm6 -33h6v8h-6zm0 -43h6v9h-6zm-36 -42h6v8h-6zm30 -9h6v9h-6zm-30 -23h6v15h-6z"/><path fill="#b90026" d="M238 2324h6v9h-6zm-36 -42h6v8h-6zm18 0h6v8h-6zm137 0h12v8h-12zm-167 -17h6v17h-6zm66 8h6v9h-6zm95 -8h6v8h-6zm18 0h6v8h-6zm-197 -9h12v9h-12zm66 0h6v9h-6zm12 0h6v9h-6zm137 0h6v9h-6zm12 0h12v9h-12zm18 -8h6v17h-6zm-215 0h6v8h-6zm12 -8h6v16h-6zm53 8h12v8h-12zm24 0h6v8h-6zm84 0h6v8h-6zm30 0h12v8h-12zm41 -8h6v16h-6zm84 8h12v8h-12zm167 -8h6v16h-6zm-513 0h6v8h-6zm42 0h6v8h-6zm131 0h6v8h-6zm95 0h12v8h-12zm36 0h6v8h-6zm78 0h6v8h-6zm125 0h6v8h-6zm-71 -9h5v9h-5zm11 0h6v9h-6zm12 0h6v9h-6zm30 0h12v9h-12zm-465 -8h6v8h-6zm24 0h6v8h-6zm12 0h6v8h-6zm107 0h6v8h-6zm221 0h12v8h-12zm89 0h6v8h-6zm18 0h6v8h-6zm24 0h6v8h-6zm-501 -9h6v9h-6zm453 0h6v9h-6zm42 0h6v9h-6zm-24 -8h6v8h-6zm12 0h6v8h-6zm18 0h6v8h-6zm-519 -9h12v9h-12zm-12 -51h12v9h-12z"/><path fill="#9d0026" d="M208 2273h6v9h-6zm12 -8h12v8h-12zm36 0h6v8h-6zm-54 -9h24v9h-24zm149 0h36v9h-36zm60 0h6v9h-6zm-239 -8h30v8h-30zm36 -8h6v16h-6zm24 8h35v8h-35zm65 0h78v8h-78zm84 0h24v8h-24zm71 0h60v8h-60zm102 0h24v8h-24zm54 0h35v8h-35zm83 0h6v8h-6zm12 -8h18v16h-18zm-436 0h30v8h-30zm197 0h24v8h-24zm48 0h6v8h-6zm48 0h6v8h-6zm12 0h42v8h-42zm53 0h60v8h-60zm-441 -9h6v9h-6zm370 0h6v9h-6zm12 0h6v9h-6zm59 0h6v9h-6zm24 0h18v9h-18zm48 0h12v9h-12zm-483 -17h6v9h-6zm42 0h6v9h-6zm310 0h6v9h-6zm113 0h6v9h-6zm12 -8h6v8h-6zm-477 -9h6v9h-6z"/><path fill="#800026" d="M423 2256h12v9h-12zm23 0h12v9h-12zm-226 -8h12v8h-12zm292 0h18v8h-18zm66 0h30v8h-30zm65 0h12v8h-12zm30 0h18v8h-18zm-358 -8h12v8h-12zm18 0h24v8h-24zm167 0h12v8h-12zm114 0h11v8h-11zm71 0h6v8h-6zm6 -9h6v9h-6zm18 0h12v9h-12zm-459 -42h6v8h-6z"/></g></g>
<rect x="178" y="2002.5" width="534" height="380.9" fill="none" stroke="#8a8a7a" stroke-width="1.3"/>
<path d="M178 2383.4v-5M178 2002.5v5M237.7 2383.4v-5M237.7 2002.5v5M297.3 2383.4v-5M297.3 2002.5v5M357 2383.4v-5M357 2002.5v5M416.7 2383.4v-5M416.7 2002.5v5M476.3 2383.4v-5M476.3 2002.5v5M536 2383.4v-5M536 2002.5v5M595.7 2383.4v-5M595.7 2002.5v5M655.3 2383.4v-5M655.3 2002.5v5M178 2383.4h5M712 2383.4h-5M178 2341.1h5M712 2341.1h-5M178 2298.8h5M712 2298.8h-5M178 2256.4h5M712 2256.4h-5M178 2214.1h5M712 2214.1h-5M178 2171.8h5M712 2171.8h-5M178 2129.5h5M712 2129.5h-5M178 2087.1h5M712 2087.1h-5M178 2044.8h5M712 2044.8h-5M178 2002.5h5M712 2002.5h-5" stroke="#8a8a7a" stroke-width="1.2" fill="none"/>
<g font-size="19.2" fill="#4a4a4a" text-anchor="end"><text x="171" y="2389.8">80</text><text x="171" y="2347.5">90</text><text x="171" y="2305.2">100</text><text x="171" y="2262.9">110</text><text x="171" y="2220.5">120</text><text x="171" y="2178.2">130</text><text x="171" y="2135.9">140</text><text x="171" y="2093.6">150</text><text x="171" y="2051.3">160</text><text x="171" y="2008.9">170</text></g><g font-size="19.2" fill="#4a4a4a" text-anchor="middle"><text x="178" y="2408.9">2</text><text x="237.7" y="2408.9">2.2</text><text x="297.3" y="2408.9">2.4</text><text x="357" y="2408.9">2.6</text><text x="416.7" y="2408.9">2.8</text><text x="476.3" y="2408.9">3</text><text x="536" y="2408.9">3.2</text><text x="595.7" y="2408.9">3.4</text><text x="655.3" y="2408.9">3.6</text></g>
<text x="374.3" y="2432.2" font-size="22.0" fill="#4a4a4a">Frequency/MHz</text>
<text transform="translate(132.8,2192.9) rotate(-90)" text-anchor="middle" font-size="22.1" fill="#4a4a4a">Virtual Height/km</text>
<g font-size="34.6" fill="#1e1e1e"><text x="249.5" y="2063.4">2021-06-08</text><text x="454.8" y="2063.4">22:34:37</text></g>
<linearGradient id="gb3" x1="0" y1="1" x2="0" y2="0"><stop offset="0.000" stop-color="#ffffcc"/><stop offset="0.125" stop-color="#ffeda0"/><stop offset="0.250" stop-color="#fed976"/><stop offset="0.375" stop-color="#feb24c"/><stop offset="0.500" stop-color="#fd8d3c"/><stop offset="0.625" stop-color="#fc4e2a"/><stop offset="0.750" stop-color="#e31a1c"/><stop offset="0.875" stop-color="#bd0026"/><stop offset="1.000" stop-color="#800026"/></linearGradient>
<rect x="722.5" y="2003.2" width="23.8" height="379" fill="url(#gb3)" stroke="#8a8a7a" stroke-width="1.2"/>
<path d="M746.3 2365.3h-3.5M746.3 2325.1h-3.5M746.3 2284.8h-3.5M746.3 2244.6h-3.5M746.3 2204.4h-3.5M746.3 2164.1h-3.5M746.3 2123.9h-3.5M746.3 2083.7h-3.5M746.3 2043.4h-3.5M746.3 2003.2h-3.5" stroke="#8a8a7a" stroke-width="1"/>
<g font-size="16" fill="#4a4a4a"><text x="751.3" y="2370.7">0.1</text><text x="751.3" y="2330.4">0.2</text><text x="751.3" y="2290.2">0.3</text><text x="751.3" y="2250">0.4</text><text x="751.3" y="2209.7">0.5</text><text x="751.3" y="2169.5">0.6</text><text x="751.3" y="2129.3">0.7</text><text x="751.3" y="2089">0.8</text><text x="751.3" y="2048.8">0.9</text><text x="751.3" y="2008.6">1</text></g>
<text x="734.4" y="1993.2" text-anchor="middle" font-size="18.0" fill="#4a4a4a">Normalized Range Spectrum</text>
<clipPath id="cb4"><rect x="928" y="2008.8" width="528.5" height="374.6"/></clipPath>
<g clip-path="url(#cb4)"><g filter="url(#bl2)"><path fill="#ffeea3" d="M1087 2003h6v386h-6zm119 0h5v386h-5zm35 0h12v386h-12zm89 0h23v386h-23z"/><path fill="#ffe58f" d="M1082 2003h5v386h-5zm11 0h6v386h-6zm107 0h6v386h-6zm23 0h6v386h-6zm42 0h29v386h-29zm47 0h6v386h-6zm12 0h6v386h-6zm29 0h24v386h-24zm41 0h18v386h-18zm24 0h6v386h-6zm12 0h6v386h-6z"/><path fill="#fedb7b" d="M1099 2003h6v386h-6zm24 0h18v386h-18zm23 0h12v386h-12zm18 0h18v386h-18zm47 0h6v386h-6zm18 0h12v386h-12zm24 0h12v386h-12zm47 0h12v386h-12zm18 0h6v386h-6zm65 0h11v386h-11zm29 0h6v386h-6z"/><path fill="#fecb67" d="M1058 2003h6v386h-6zm18 0h6v386h-6zm35 0h12v386h-12zm30 0h5v386h-5zm41 0h6v386h-6zm35 0h6v386h-6zm77 0h6v386h-6zm83 0h6v386h-6zm47 0h6v386h-6zm18 0h6v386h-6zm12 0h11v386h-11z"/><path fill="#feb953" d="M1052 2003h6v386h-6zm18 0h6v386h-6zm35 0h6v386h-6zm53 0h6v386h-6zm30 0h12v386h-12zm248 0h6v386h-6zm12 0h6v386h-6z"/><path fill="#fea747" d="M1022 2003h6v386h-6zm12 0h6v386h-6zm12 0h6v386h-6zm18 0h6v386h-6z"/><path fill="#fd9640" d="M1017 2003h5v386h-5zm11 0h6v386h-6zm12 0h6v386h-6z"/><path fill="#fd7e38" d="M946 2003h17v386h-17zm65 0h6v386h-6z"/><path fill="#fc612f" d="M1005 2003h6v386h-6z"/><path fill="#f84528" d="M999 2003h6v386h-6z"/><path fill="#ec2c21" d="M940 2003h6v386h-6zm29 0h6v386h-6zm12 0h6v386h-6zm12 0h6v386h-6z"/><path fill="#df171d" d="M934 2003h6v386h-6zm53 0h6v386h-6z"/><path fill="#cd0b22" d="M922 2003h12v386h-12zm41 0h6v386h-6zm12 0h6v386h-6z"/><path fill="#fff7b7" d="M1247 2358h6v17h-6zm83 9h5v8h-5zm5 -9h6v9h-6zm0 -16h6v8h-6zm-88 -25h6v25h-6zm88 8h6v8h-6zm0 -17h6v9h-6zm-129 -8h5v8h-5zm41 -16h6v8h-6zm-160 -75h6v8h-6zm0 -25h6v8h-6zm248 -9h6v9h-6zm-88 -8h6v8h-6zm100 -8h6v8h-6zm-12 -9h6v9h-6zm0 -25h6v17h-6zm-88 -8h6v8h-6zm88 -8h6v8h-6zm12 0h6v8h-6zm0 -17h6v8h-6zm-12 -8h12v8h-12zm-88 -17h6v8h-6zm100 -17h6v17h-6zm-141 0h5v9h-5zm129 -25h6v17h-6zm0 -22h6v14h-6z"/><path fill="#ffeea3" d="M1093 2375h6v14h-6zm266 0h6v14h-6zm-159 -17h6v9h-6zm88 0h6v9h-6zm65 0h6v9h-6zm18 0h6v9h-6zm-89 -8h6v8h-6zm112 0h6v8h-6zm-129 -17h5v9h-5zm88 -16h6v25h-6zm-153 0h6v16h-6zm88 8h6v8h-6zm-23 -8h5v8h-5zm-42 -9h6v9h-6zm-23 -8h6v8h-6zm76 0h6v8h-6zm12 0h6v8h-6zm118 0h6v8h-6zm-53 -8h6v8h-6zm-260 -17h6v17h-6zm172 9h5v8h-5zm23 0h6v8h-6zm-6 -75h12v8h-12zm-189 -25h6v8h-6zm260 0h12v8h-12zm-153 -9h6v9h-6zm82 0h6v9h-6zm-106 -8h6v8h-6zm177 0h12v8h-12zm0 -17h6v17h-6zm-260 -8h6v17h-6zm107 8h6v9h-6zm65 0h5v9h-5zm106 0h6v9h-6zm23 0h6v9h-6zm-70 -8h6v8h-6zm82 -17h6v9h-6zm-313 -8h6v8h-6zm266 0h6v8h-6zm-94 -17h5v17h-5zm141 9h6v8h-6zm-313 -17h6v8h-6zm260 0h6v8h-6zm30 0h6v8h-6zm11 -17h6v25h-6zm-41 0h18v9h-18zm-153 -8h6v8h-6zm76 0h6v8h-6zm-183 -17h6v17h-6zm260 9h6v8h-6zm53 0h6v8h-6zm-53 -17h6v8h-6zm-88 -17h5v17h-5zm-65 0h6v9h-6zm153 0h6v9h-6zm65 0h6v9h-6zm-130 -22h6v14h-6zm65 0h12v14h-12zm41 0h6v14h-6zm12 0h6v14h-6z"/><path fill="#ffe58f" d="M1087 2375h6v14h-6zm65 0h6v14h-6zm12 0h6v14h-6zm12 -8h6v22h-6zm59 0h6v22h-6zm106 8h6v14h-6zm42 0h6v14h-6zm-237 -8h6v8h-6zm-23 -9h12v9h-12zm106 0h6v9h-6zm112 -25h6v34h-6zm48 25h5v9h-5zm-302 -8h6v8h-6zm89 -25h6v33h-6zm59 17h6v16h-6zm18 -25h6v41h-6zm53 25h6v16h-6zm12 8h6v8h-6zm65 -8h6v8h-6zm29 0h6v8h-6zm-325 -25h6v25h-6zm154 16h6v9h-6zm-6 -8h6v8h-6zm65 -8h6v16h-6zm89 0h5v16h-5zm-83 -9h6v17h-6zm106 -8h6v25h-6zm-283 8h6v9h-6zm47 0h6v9h-6zm59 0h6v9h-6zm-148 -16h6v16h-6zm36 8h6v8h-6zm118 -8h6v16h-6zm100 0h6v16h-6zm42 8h6v8h-6zm-148 -8h6v8h-6zm18 -8h6v16h-6zm47 0h6v16h-6zm-71 -9h6v17h-6zm154 0h6v17h-6zm-177 0h5v9h-5zm29 0h6v9h-6zm71 0h6v9h-6zm24 0h5v9h-5zm11 0h12v9h-12zm-100 -16h6v16h-6zm18 0h6v16h-6zm-53 0h5v8h-5zm-83 -50h6v8h-6zm41 -9h6v17h-6zm177 9h6v8h-6zm-206 -17h6v8h-6zm171 0h6v8h-6zm-183 -17h6v17h-6zm177 9h6v8h-6zm41 0h12v8h-12zm-254 -17h6v17h-6zm119 8h5v9h-5zm23 0h6v9h-6zm77 -8h6v17h-6zm12 8h6v9h-6zm-189 -8h6v8h-6zm106 0h12v8h-12zm18 -8h6v16h-6zm82 8h6v8h-6zm48 0h6v8h-6zm-237 -8h6v8h-6zm65 0h6v8h-6zm119 -9h5v17h-5zm-207 0h6v9h-6zm41 -8h6v17h-6zm71 8h18v9h-18zm-29 -8h5v8h-5zm23 0h6v8h-6zm12 0h6v8h-6zm12 0h6v8h-6zm-118 -8h6v8h-6zm206 0h12v8h-12zm-177 -9h6v9h-6zm12 0h6v9h-6zm165 0h6v9h-6zm42 0h6v9h-6zm-260 -16h6v8h-6zm29 0h6v8h-6zm12 0h6v8h-6zm12 -9h6v17h-6zm59 0h6v17h-6zm18 9h6v8h-6zm88 0h6v8h-6zm42 -9h6v17h-6zm-142 0h6v9h-6zm59 0h6v9h-6zm-213 -16h6v16h-6zm124 8h6v8h-6zm42 -8h6v16h-6zm77 8h5v8h-5zm-166 -8h6v8h-6zm42 -9h5v9h-5zm29 0h12v9h-12zm95 0h5v9h-5zm-207 -16h6v16h-6zm53 0h6v8h-6zm30 0h5v8h-5zm88 0h6v8h-6zm12 0h6v8h-6zm77 -9h6v17h-6zm-219 -8h6v17h-6zm83 8h6v9h-6zm94 0h6v9h-6zm-218 -8h6v8h-6zm53 -8h6v16h-6zm59 8h12v8h-12zm95 -17h5v25h-5zm-89 0h6v17h-6zm142 9h6v8h-6zm-284 -9h6v9h-6zm136 0h6v9h-6zm71 -8h6v17h-6zm35 8h6v9h-6zm-41 -8h6v8h-6zm-213 -14h6v14h-6zm36 0h6v14h-6zm53 0h6v14h-6zm65 0h6v14h-6zm77 0h6v14h-6zm12 0h5v14h-5zm11 0h6v14h-6zm42 0h6v14h-6zm29 0h6v14h-6z"/><path fill="#fedb7b" d="M1294 2375h6v14h-6zm71 0h6v14h-6zm53 0h6v14h-6zm12 -8h6v22h-6zm-372 0h6v8h-6zm53 0h6v8h-6zm165 0h12v8h-12zm36 -9h6v17h-6zm47 9h6v8h-6zm12 0h6v8h-6zm-295 -17h11v17h-11zm206 8h6v9h-6zm12 0h6v9h-6zm30 -8h6v17h-6zm76 8h12v9h-12zm-342 -16h6v16h-6zm159 8h6v8h-6zm53 0h12v8h-12zm95 0h6v8h-6zm35 0h6v8h-6zm-200 -8h6v8h-6zm70 0h6v8h-6zm18 0h12v8h-12zm24 0h6v8h-6zm41 0h12v8h-12zm41 0h6v8h-6zm12 0h6v8h-6zm12 0h6v8h-6zm-336 -9h5v9h-5zm212 -8h6v17h-6zm71 8h6v9h-6zm35 -25h6v34h-6zm30 9h6v25h-6zm24 0h11v25h-11zm-231 8h6v8h-6zm89 0h6v8h-6zm12 0h6v8h-6zm-248 -25h6v25h-6zm35 17h6v8h-6zm159 0h12v8h-12zm18 0h6v8h-6zm130 0h6v8h-6zm-153 -17h5v17h-5zm11 8h6v9h-6zm36 0h6v9h-6zm53 0h6v9h-6zm-254 -8h6v8h-6zm183 -8h6v16h-6zm30 0h6v16h-6zm-266 0h6v8h-6zm212 -8h6v16h-6zm148 8h6v8h-6zm-342 -8h11v8h-11zm35 0h6v8h-6zm112 -9h6v17h-6zm142 9h18v8h-18zm-307 -9h6v9h-6zm24 0h5v9h-5zm206 0h6v9h-6zm24 0h6v9h-6zm12 0h6v9h-6zm41 0h6v9h-6zm35 0h6v9h-6zm-200 -16h6v8h-6zm23 0h6v8h-6zm-141 -42h11v8h-11zm29 0h6v8h-6zm159 0h24v8h-24zm77 0h12v8h-12zm-265 -17h5v17h-5zm188 -25h6v42h-6zm-194 25h6v9h-6zm206 0h6v9h-6zm30 0h6v9h-6zm59 0h6v9h-6zm29 0h6v9h-6zm-135 -8h5v8h-5zm59 -8h6v16h-6zm41 8h6v8h-6zm-307 -8h6v8h-6zm24 -9h5v17h-5zm124 9h5v8h-5zm224 0h6v8h-6zm12 0h6v8h-6zm-225 -9h6v9h-6zm77 0h6v9h-6zm18 0h6v9h-6zm47 0h6v9h-6zm95 0h11v9h-11zm-396 -8h6v8h-6zm18 -8h6v16h-6zm65 8h5v8h-5zm82 0h6v8h-6zm42 0h5v8h-5zm23 0h6v8h-6zm-206 -8h5v8h-5zm29 0h6v8h-6zm159 0h6v8h-6zm95 -25h6v33h-6zm-41 16h6v9h-6zm-242 -8h5v8h-5zm100 0h6v8h-6zm112 0h6v8h-6zm-236 -8h6v8h-6zm18 0h6v8h-6zm124 -9h6v17h-6zm23 -8h6v25h-6zm89 17h6v8h-6zm12 0h6v8h-6zm47 0h12v8h-12zm-289 -17h5v17h-5zm100 0h6v17h-6zm177 8h6v9h-6zm41 0h6v9h-6zm-342 -8h6v8h-6zm212 0h6v8h-6zm12 0h6v8h-6zm12 -8h6v16h-6zm18 8h6v8h-6zm59 0h6v8h-6zm59 -8h6v16h-6zm-154 -9h6v17h-6zm118 9h12v8h-12zm60 -17h11v25h-11zm-396 8h6v9h-6zm35 0h6v9h-6zm272 -16h6v25h-6zm-148 8h12v8h-12zm53 -17h6v25h-6zm154 17h6v8h-6zm-366 -17h6v17h-6zm83 9h5v8h-5zm135 0h6v8h-6zm18 0h6v8h-6zm30 -9h6v17h-6zm47 9h6v8h-6zm29 0h12v8h-12zm18 0h6v8h-6zm-18 -9h6v9h-6zm30 0h6v9h-6zm-248 -8h6v8h-6zm112 0h6v8h-6zm77 0h6v8h-6zm-154 -8h12v8h-12zm59 0h6v8h-6zm36 0h6v8h-6zm12 -9h6v17h-6zm106 9h6v8h-6zm-354 -9h11v9h-11zm206 0h6v9h-6zm12 0h6v9h-6zm77 0h6v9h-6zm71 0h6v9h-6zm12 0h11v9h-11zm-396 -25h6v25h-6zm18 9h6v16h-6zm194 0h12v16h-12zm42 8h6v8h-6zm47 0h6v8h-6zm47 0h6v8h-6zm12 -8h6v16h-6zm-325 0h6v8h-6zm124 0h12v8h-12zm77 0h6v8h-6zm30 0h6v8h-6zm41 -9h6v17h-6zm29 9h6v8h-6zm-283 -9h6v9h-6zm266 0h6v9h-6zm-160 -8h6v8h-6zm77 0h6v8h-6zm30 -14h6v22h-6zm47 14h6v8h-6zm59 -14h6v22h-6zm-372 0h6v14h-6zm18 0h11v14h-11zm194 0h6v14h-6zm130 0h6v14h-6zm18 0h6v14h-6z"/><path fill="#fecb67" d="M1099 2375h12v14h-12zm36 0h6v14h-6zm35 0h6v14h-6zm-18 -8h12v8h-12zm166 0h6v8h-6zm130 0h6v8h-6zm-378 -9h6v9h-6zm82 0h6v9h-6zm18 -25h6v34h-6zm41 25h6v9h-6zm-112 -16h6v16h-6zm30 8h12v8h-12zm319 0h6v8h-6zm-325 -8h6v8h-6zm65 0h6v8h-6zm71 0h6v8h-6zm-130 -9h12v9h-12zm23 0h6v9h-6zm-100 -8h6v8h-6zm18 0h6v8h-6zm29 -8h6v16h-6zm30 8h6v8h-6zm29 0h6v8h-6zm-12 -8h6v8h-6zm24 0h6v8h-6zm-6 -9h6v9h-6zm24 0h6v9h-6zm130 0h6v9h-6zm71 0h5v9h-5zm-231 -24h6v24h-6zm101 16h6v8h-6zm189 0h6v8h-6zm-278 -8h6v8h-6zm219 -8h5v16h-5zm-178 0h6v8h-6zm107 0h6v8h-6zm-213 -9h6v9h-6zm18 0h12v9h-12zm159 0h6v9h-6zm-200 -8h11v8h-11zm129 -8h6v8h-6zm-88 -34h6v17h-6zm6 0h6v9h-6zm17 -8h6v8h-6zm12 -17h6v25h-6zm142 17h18v8h-18zm24 0h17v8h-17zm35 0h6v8h-6zm-230 -17h12v17h-12zm177 9h6v8h-6zm77 0h6v8h-6zm-284 -9h6v9h-6zm24 0h6v9h-6zm47 -8h6v17h-6zm236 8h6v9h-6zm-260 -8h6v8h-6zm30 0h6v8h-6zm242 0h6v8h-6zm12 0h6v8h-6zm-331 -17h6v17h-6zm148 9h12v8h-12zm165 0h6v8h-6zm-266 -9h6v9h-6zm12 -8h6v17h-6zm30 8h12v9h-12zm-18 -8h6v8h-6zm24 -8h6v16h-6zm17 8h6v8h-6zm195 0h6v8h-6zm12 0h6v8h-6zm-313 -8h6v8h-6zm289 0h6v8h-6zm-295 -25h6v25h-6zm30 16h6v9h-6zm29 -8h6v17h-6zm12 0h6v17h-6zm219 8h5v9h-5zm-254 -8h6v8h-6zm-83 -17h6v17h-6zm112 9h6v8h-6zm47 0h6v8h-6zm48 0h6v8h-6zm59 0h6v8h-6zm76 0h6v8h-6zm-271 -9h6v9h-6zm-24 -8h6v8h-6zm36 -8h6v16h-6zm53 0h6v16h-6zm23 8h6v8h-6zm225 0h6v8h-6zm12 0h6v8h-6zm-396 -8h6v8h-6zm53 0h6v8h-6zm41 -9h6v17h-6zm12 0h6v17h-6zm160 9h6v8h-6zm-124 -9h6v9h-6zm17 0h6v9h-6zm237 -8h6v17h-6zm-349 0h12v8h-12zm0 -25h6v25h-6zm30 17h6v8h-6zm23 0h12v8h-12zm-82 -9h6v9h-6zm65 0h6v9h-6zm11 0h6v9h-6zm12 -8h6v17h-6zm101 0h6v17h-6zm-130 -8h6v16h-6zm23 8h6v8h-6zm18 -8h6v16h-6zm278 8h6v8h-6zm-313 -25h6v25h-6zm183 17h6v8h-6zm-219 -9h12v9h-12zm53 -8h6v8h-6zm18 -8h6v16h-6zm242 8h6v8h-6zm36 0h6v8h-6zm-396 -8h6v8h-6zm47 0h6v8h-6zm47 0h6v8h-6zm48 0h6v8h-6zm35 -9h6v9h-6zm160 0h5v9h-5zm59 -8h6v17h-6zm-343 0h6v8h-6zm30 0h6v8h-6zm23 -14h6v22h-6zm53 0h6v14h-6zm178 0h5v14h-5z"/><path fill="#feb953" d="M1022 2375h6v14h-6zm402 0h6v14h-6zm-360 -8h6v8h-6zm77 0h5v8h-5zm301 0h6v8h-6zm-325 -9h6v9h-6zm65 0h6v9h-6zm242 -8h6v17h-6zm-360 0h6v8h-6zm77 0h5v8h-5zm301 0h6v8h-6zm-378 -42h6v34h-6zm360 25h6v9h-6zm18 0h6v9h-6zm-260 -8h6v8h-6zm260 -8h6v8h-6zm-325 -17h6v17h-6zm65 8h6v9h-6zm195 -16h6v16h-6zm-331 0h6v8h-6zm18 0h6v8h-6zm118 -8h6v16h-6zm35 8h6v8h-6zm225 -17h6v25h-6zm-301 9h5v8h-5zm-24 -9h6v9h-6zm159 0h6v9h-6zm-218 -8h6v8h-6zm35 0h12v8h-12zm219 0h23v8h-23zm106 0h12v8h-12zm-336 -8h5v8h-5zm100 0h6v8h-6zm83 0h5v8h-5zm165 0h6v8h-6zm-207 -9h42v9h-42zm-6 -8h6v8h-6zm-118 -8h6v8h-6zm12 -9h6v9h-6zm24 0h6v9h-6zm147 0h6v9h-6zm101 0h6v9h-6zm-242 -8h5v8h-5zm23 0h6v8h-6zm213 0h6v8h-6zm-207 -8h6v8h-6zm219 0h5v8h-5zm-278 -9h12v9h-12zm89 0h6v9h-6zm29 0h6v9h-6zm183 0h6v9h-6zm-348 -25h6v25h-6zm47 0h6v25h-6zm260 17h6v8h-6zm23 -17h6v25h-6zm12 0h6v25h-6zm-289 9h6v8h-6zm100 0h30v8h-30zm42 0h6v8h-6zm118 0h6v8h-6zm23 0h6v8h-6zm-354 -9h6v9h-6zm343 0h5v9h-5zm29 0h6v9h-6zm12 0h6v9h-6zm-408 -8h6v8h-6zm195 -8h6v16h-6zm183 8h6v8h-6zm12 0h6v8h-6zm30 -8h6v16h-6zm-260 0h6v8h-6zm189 0h6v8h-6zm35 0h6v8h-6zm12 0h6v8h-6zm-354 -17h6v17h-6zm313 8h6v9h-6zm23 -8h6v17h-6zm-17 -8h6v16h-6zm23 8h6v8h-6zm12 -8h6v16h-6zm6 0h12v8h-12zm-378 -9h6v9h-6zm18 -8h6v8h-6zm313 -8h6v8h-6zm-260 -9h6v9h-6zm65 0h6v9h-6zm35 0h6v9h-6zm207 0h6v9h-6zm-360 -8h6v8h-6zm77 0h5v8h-5zm301 0h6v8h-6zm-325 -8h6v8h-6zm65 -9h6v17h-6zm-41 -8h5v17h-5zm-77 -8h6v16h-6zm53 0h6v16h-6zm-83 0h6v8h-6zm148 0h6v8h-6zm-160 -9h6v9h-6zm119 -8h5v8h-5zm283 -8h6v8h-6zm18 0h6v8h-6zm-378 -9h6v9h-6zm118 -8h6v8h-6zm260 0h6v8h-6zm-325 -14h6v14h-6zm24 0h5v14h-5z"/><path fill="#fea747" d="M1448 2375h6v14h-6zm-254 -58h6v25h-6zm242 8h6v8h-6zm-419 -8h5v8h-5zm431 -9h6v9h-6zm-396 -8h6v8h-6zm136 0h6v8h-6zm-171 -8h5v8h-5zm88 0h6v8h-6zm89 -8h6v16h-6zm254 0h6v8h-6zm-420 -9h6v9h-6zm24 -8h6v8h-6zm53 0h6v8h-6zm24 0h6v8h-6zm165 0h18v8h-18zm41 0h18v8h-18zm71 0h12v8h-12zm24 0h12v8h-12zm-254 -8h6v8h-6zm171 0h6v8h-6zm65 0h6v8h-6zm-195 -9h6v9h-6zm183 0h6v9h-6zm24 0h6v9h-6zm-171 -8h6v8h-6zm-201 -17h6v9h-6zm53 0h6v9h-6zm36 0h5v9h-5zm17 0h6v9h-6zm207 -8h6v8h-6zm-189 -17h6v9h-6zm242 0h6v9h-6zm-390 -8h6v8h-6zm24 0h6v8h-6zm130 0h18v8h-18zm29 0h6v8h-6zm172 0h11v8h-11zm41 0h6v8h-6zm-230 -8h6v8h-6zm189 0h6v8h-6zm35 0h6v8h-6zm-313 -9h6v9h-6zm266 -8h6v17h-6zm53 8h6v9h-6zm-47 -16h6v16h-6zm53 8h6v8h-6zm-41 -8h5v8h-5zm35 -9h6v17h-6zm-230 0h6v9h-6zm212 0h18v9h-18zm24 -8h6v17h-6zm-41 0h11v8h-11zm-361 -17h6v17h-6zm42 9h6v8h-6zm319 0h5v8h-5zm11 0h6v8h-6zm-295 -9h6v9h-6zm83 0h6v9h-6zm6 -16h6v16h-6zm-166 -17h6v8h-6zm12 0h6v8h-6zm148 0h6v8h-6zm248 0h6v8h-6zm-396 -25h6v8h-6zm30 0h6v8h-6zm124 0h6v8h-6zm-166 -8h6v8h-6zm24 0h6v8h-6zm136 0h6v8h-6zm248 0h6v8h-6zm-242 -9h6v9h-6zm242 -16h6v8h-6zm-242 -17h6v17h-6zm-142 -14h6v14h-6zm18 0h6v14h-6zm118 0h6v14h-6z"/><path fill="#fd9640" d="M1034 2375h6v14h-6zm-12 -8h6v8h-6zm0 -17h6v8h-6zm12 -8h6v16h-6zm-23 0h6v8h-6zm11 -17h6v8h-6zm12 -8h6v8h-6zm-12 -9h6v9h-6zm-70 -33h6v9h-6zm70 0h6v9h-6zm12 -8h6v17h-6zm12 8h6v9h-6zm18 0h6v9h-6zm289 -8h24v8h-24zm47 0h6v8h-6zm42 0h6v8h-6zm-390 -8h6v8h-6zm278 0h5v8h-5zm106 -9h6v17h-6zm-242 0h6v9h-6zm17 0h6v9h-6zm201 0h6v9h-6zm42 0h11v9h-11zm-254 -8h6v8h-6zm-154 -8h6v8h-6zm112 0h6v8h-6zm53 0h6v8h-6zm12 0h6v8h-6zm53 0h6v8h-6zm48 0h6v8h-6zm-231 -9h12v9h-12zm53 0h6v9h-6zm154 0h6v9h-6zm65 0h6v9h-6zm12 0h6v9h-6zm-355 -8h6v8h-6zm54 0h6v8h-6zm242 0h6v8h-6zm53 0h6v8h-6zm-360 -8h6v8h-6zm23 0h6v8h-6zm142 0h12v8h-12zm24 0h6v8h-6zm254 0h11v8h-11zm-207 -9h12v9h-12zm177 0h12v9h-12zm-189 -8h6v8h-6zm12 0h6v8h-6zm-225 -8h6v8h-6zm367 0h5v8h-5zm11 -9h6v9h-6zm12 0h6v9h-6zm-23 -8h11v8h-11zm-378 -8h6v8h-6zm23 0h6v8h-6zm366 0h6v8h-6zm12 0h6v8h-6zm18 0h6v8h-6zm-408 -34h6v25h-6zm12 17h6v8h-6zm390 0h6v8h-6zm-472 -17h6v9h-6zm59 -8h6v8h-6zm23 0h6v8h-6zm-12 -25h6v8h-6zm12 -17h6v9h-6zm0 -33h6v17h-6zm-88 -8h6v8h-6zm65 0h6v8h-6zm11 0h6v8h-6zm12 -31h6v14h-6z"/><path fill="#fd7e38" d="M1017 2375h5v14h-5zm23 0h6v14h-6zm-12 -8h6v8h-6zm12 -25h6v16h-6zm-23 -17h5v8h-5zm23 0h6v8h-6zm-23 -50h5v17h-5zm118 0h6v9h-6zm135 0h6v9h-6zm-224 -16h6v16h-6zm65 8h6v8h-6zm41 -8h6v16h-6zm225 8h23v8h-23zm71 0h17v8h-17zm-319 -8h6v8h-6zm153 0h6v8h-6zm77 0h6v8h-6zm18 0h6v8h-6zm23 0h6v8h-6zm-194 -9h5v9h-5zm200 0h6v9h-6zm12 0h6v9h-6zm-207 -8h6v8h-6zm18 0h6v8h-6zm-118 -8h6v8h-6zm248 0h6v8h-6zm-207 -9h6v9h-6zm189 -8h6v8h-6zm-301 -25h6v25h-6zm18 17h18v8h-18zm336 0h12v8h-12zm30 0h6v8h-6zm-207 -9h6v9h-6zm18 0h6v9h-6zm213 0h6v9h-6zm-248 -8h6v8h-6zm23 0h6v8h-6zm30 0h6v8h-6zm-236 -25h5v8h-5zm0 -17h5v9h-5zm0 -33h5v8h-5zm0 -83h5v8h-5zm23 -9h6v17h-6zm-12 -8h6v8h-6z"/><path fill="#fc612f" d="M946 2375h6v14h-6zm0 -33h12v8h-12zm0 -17h6v8h-6zm65 0h6v8h-6zm-59 -8h11v8h-11zm-6 -9h12v9h-12zm65 -8h6v17h-6zm-59 0h6v8h-6zm-6 -25h6v25h-6zm6 9h6v8h-6zm59 0h6v8h-6zm6 -17h5v8h-5zm23 0h6v8h-6zm36 -8h6v8h-6zm29 0h6v8h-6zm41 0h6v8h-6zm225 0h6v8h-6zm12 0h6v8h-6zm41 0h6v8h-6zm30 0h11v8h-11zm-60 -9h6v9h-6zm48 0h6v9h-6zm-254 -8h6v8h-6zm35 0h6v8h-6zm-277 -17h12v17h-12zm88 9h6v8h-6zm112 0h6v8h-6zm71 0h6v8h-6zm24 0h6v8h-6zm53 0h6v8h-6zm12 0h12v8h-12zm-242 -17h6v17h-6zm266 8h5v9h-5zm-372 -8h5v8h-5zm94 0h12v8h-12zm41 0h12v8h-12zm201 0h6v8h-6zm-348 -8h12v8h-12zm460 0h6v8h-6zm42 0h6v8h-6zm-254 -9h6v9h-6zm12 0h11v9h-11zm35 0h6v9h-6zm-295 -16h12v8h-12zm12 -9h5v9h-5zm-12 -16h6v16h-6zm65 8h6v8h-6zm-65 -25h6v8h-6zm6 -8h6v8h-6zm-6 -9h6v9h-6zm12 -33h5v33h-5zm41 25h6v8h-6zm12 -17h6v9h-6zm-65 -8h12v8h-12zm53 0h6v8h-6zm-53 -17h12v9h-12zm0 -8h6v8h-6zm6 -8h6v8h-6zm6 -17h5v8h-5zm-6 -17h6v9h-6zm59 0h6v9h-6zm-65 -8h6v8h-6zm6 -14h6v14h-6z"/><path fill="#f84528" d="M993 2375h6v14h-6zm12 -17h6v17h-6zm-12 0h6v9h-6zm-53 -8h6v8h-6zm53 -25h6v25h-6zm12 0h6v17h-6zm0 -17h6v9h-6zm-12 -8h6v8h-6zm-53 -8h6v8h-6zm65 -8h6v16h-6zm-12 0h6v8h-6zm171 -9h12v9h-12zm-153 -8h6v8h-6zm124 0h11v8h-11zm135 0h12v8h-12zm-330 -8h6v8h-6zm12 0h6v8h-6zm118 0h6v8h-6zm17 0h6v8h-6zm83 0h6v8h-6zm165 0h6v8h-6zm83 0h6v8h-6zm24 0h6v8h-6zm-254 -9h6v9h-6zm71 -8h6v8h-6zm-266 -8h6v8h-6zm35 0h6v8h-6zm101 0h6v8h-6zm35 -9h6v9h-6zm130 0h6v9h-6zm47 0h6v9h-6zm-348 -8h6v8h-6zm12 0h6v8h-6zm260 -17h5v17h-5zm-296 0h6v9h-6zm24 -33h6v42h-6zm12 25h6v17h-6zm437 8h6v9h-6zm-213 -8h6v8h-6zm30 0h6v8h-6zm189 0h6v8h-6zm-479 -8h6v8h-6zm473 -9h12v9h-12zm-449 -33h6v17h-6zm12 8h6v9h-6zm449 0h11v9h-11zm-6 -8h6v8h-6zm-479 -25h6v17h-6zm24 8h6v9h-6zm12 -33h6v25h-6zm-36 8h6v9h-6zm24 -16h6v16h-6zm12 -42h6v8h-6zm-36 -17h6v17h-6zm12 0h6v9h-6zm-41 -8h6v8h-6zm65 -14h6v14h-6z"/><path fill="#ec2c21" d="M987 2375h6v14h-6zm12 -8h6v8h-6zm-12 -9h6v9h-6zm12 -16h6v16h-6zm-12 -25h6v8h-6zm12 0h6v8h-6zm0 -33h6v8h-6zm177 -17h6v17h-6zm-213 0h6v8h-6zm24 0h6v8h-6zm12 0h6v8h-6zm165 0h6v8h-6zm-206 -8h5v8h-5zm53 0h6v8h-6zm147 0h6v8h-6zm236 0h6v8h-6zm54 0h6v8h-6zm-414 -9h12v9h-12zm59 0h6v9h-6zm201 0h6v9h-6zm53 0h6v9h-6zm12 0h6v9h-6zm-295 -8h6v8h-6zm53 0h6v8h-6zm35 0h6v8h-6zm54 0h5v8h-5zm29 0h6v8h-6zm-195 -8h6v8h-6zm130 0h6v8h-6zm12 -9h6v17h-6zm77 9h6v8h-6zm94 0h6v8h-6zm12 0h6v8h-6zm-289 -9h11v9h-11zm118 -8h6v8h-6zm260 0h11v8h-11zm-467 -8h6v8h-6zm236 0h6v8h-6zm219 -17h6v8h-6zm-455 -8h6v8h-6zm461 0h6v8h-6zm-514 -9h6v9h-6zm502 -33h6v42h-6zm-437 17h6v16h-6zm455 8h11v8h-11zm-520 -8h6v8h-6zm514 0h6v8h-6zm-449 -34h6v17h-6zm0 -25h6v9h-6zm-12 -16h6v8h-6zm0 -34h6v17h-6zm12 0h6v9h-6zm0 -16h6v8h-6zm-12 -9h6v9h-6zm-24 -8h6v8h-6zm24 -14h6v14h-6z"/><path fill="#df171d" d="M963 2367h6v22h-6zm12 0h6v22h-6zm-53 0h12v8h-12zm59 -17h6v8h-6zm-59 -17h12v9h-12zm41 -33h6v42h-6zm12 25h6v8h-6zm-6 -8h6v8h-6zm-29 -17h6v8h-6zm29 0h18v8h-18zm6 -25h6v25h-6zm18 -8h6v8h-6zm12 -17h6v25h-6zm23 17h6v8h-6zm89 -8h12v16h-12zm29 8h6v8h-6zm136 0h12v8h-12zm-336 -8h6v8h-6zm17 0h6v8h-6zm95 0h6v8h-6zm35 0h12v8h-12zm18 0h6v8h-6zm24 0h11v8h-11zm29 0h6v8h-6zm106 0h12v8h-12zm18 0h42v8h-42zm53 0h6v8h-6zm12 0h6v8h-6zm12 0h6v8h-6zm24 0h5v8h-5zm17 0h6v8h-6zm-389 -9h5v9h-5zm29 0h6v9h-6zm41 0h6v9h-6zm113 0h6v9h-6zm65 -8h5v17h-5zm35 8h6v9h-6zm12 0h6v9h-6zm118 0h6v9h-6zm18 -8h6v17h-6zm-490 -8h5v16h-5zm76 8h6v8h-6zm65 0h6v8h-6zm24 0h6v8h-6zm12 -8h6v16h-6zm29 8h12v8h-12zm18 0h6v8h-6zm12 -8h6v16h-6zm47 8h12v8h-12zm177 0h6v8h-6zm24 0h6v8h-6zm12 0h11v8h-11zm-449 -8h12v8h-12zm53 -9h6v17h-6zm24 9h17v8h-17zm23 0h6v8h-6zm12 0h6v8h-6zm35 0h6v8h-6zm12 0h6v8h-6zm42 0h5v8h-5zm23 0h12v8h-12zm18 0h12v8h-12zm23 -9h6v17h-6zm12 9h12v8h-12zm36 -9h6v17h-6zm53 0h6v17h-6zm-431 0h6v9h-6zm41 0h6v9h-6zm89 0h6v9h-6zm17 0h6v9h-6zm136 0h6v9h-6zm18 0h6v9h-6zm24 -8h5v17h-5zm11 8h6v9h-6zm12 0h6v9h-6zm18 0h12v9h-12zm18 0h6v9h-6zm11 0h6v9h-6zm12 0h18v9h-18zm42 -8h17v17h-17zm59 0h6v17h-6zm-473 -8h6v16h-6zm195 8h12v8h-12zm36 -8h5v16h-5zm53 8h6v8h-6zm124 0h6v8h-6zm23 0h30v8h-30zm36 -8h6v16h-6zm-520 0h12v8h-12zm266 0h12v8h-12zm41 0h24v8h-24zm189 0h6v8h-6zm12 0h12v8h-12zm-449 -9h6v9h-6zm201 0h12v9h-12zm41 0h6v9h-6zm36 0h6v9h-6zm177 -8h6v17h-6zm18 0h11v17h-11zm-532 0h12v8h-12zm284 0h5v8h-5zm11 0h6v8h-6zm24 0h6v8h-6zm-278 -8h6v8h-6zm12 -25h6v8h-6zm479 0h11v8h-11zm-479 -25h12v8h-12zm-12 -17h6v17h-6zm18 0h6v17h-6zm-18 -50h6v42h-6zm6 17h12v8h-12zm0 -9h6v9h-6zm6 -16h12v8h-12zm0 -17h6v17h-6zm-12 0h6v8h-6zm-23 -17h6v9h-6zm35 0h6v9h-6zm-6 -22h6v22h-6zm-47 0h12v14h-12zm18 0h6v14h-6zm23 0h6v14h-6z"/><path fill="#cd0b22" d="M934 2358h6v9h-6zm53 -8h6v8h-6zm-53 -25h6v8h-6zm88 -58h6v8h-6zm136 0h6v8h-6zm-141 -8h5v8h-5zm-18 -9h6v9h-6zm83 0h5v9h-5zm188 0h6v9h-6zm36 0h6v9h-6zm12 0h6v9h-6zm35 0h6v9h-6zm12 0h12v9h-12zm-431 -8h24v8h-24zm124 0h6v8h-6zm12 0h6v8h-6zm23 0h6v8h-6zm12 0h12v8h-12zm24 0h6v8h-6zm12 0h11v8h-11zm17 0h6v8h-6zm-136 -8h6v8h-6zm30 0h6v8h-6zm89 0h5v8h-5zm35 0h6v8h-6zm12 0h6v8h-6zm77 0h5v8h-5zm124 0h5v8h-5zm-455 -9h6v9h-6zm236 0h6v9h-6zm41 0h12v9h-12zm195 0h12v9h-12zm36 0h6v9h-6zm12 0h11v9h-11zm-272 -8h12v8h-12zm35 -8h6v8h-6zm36 0h12v8h-12zm159 0h6v8h-6zm30 -67h6v8h-6zm-508 -33h6v8h-6z"/><path fill="#b90026" d="M922 2350h12v8h-12zm0 -83h12v17h-12zm89 -17h6v9h-6zm17 0h6v9h-6zm48 0h6v9h-6zm301 0h17v9h-17zm-337 -8h18v8h-18zm47 0h6v8h-6zm337 0h18v8h-18zm-47 -8h12v8h-12zm17 0h6v8h-6zm-218 -9h6v9h-6zm12 0h12v9h-12zm41 -8h12v17h-12zm30 8h6v9h-6zm159 0h6v9h-6zm-218 -8h6v8h-6zm11 0h12v8h-12zm0 -8h6v8h-6zm-236 -17h6v8h-6zm0 -17h6v9h-6z"/><path fill="#9d0026" d="M1022 2259h24v8h-24zm-100 -9h53v9h-53zm100 -8h6v17h-6zm136 8h30v9h-30zm118 -8h18v17h-18zm48 8h23v9h-23zm-355 -8h53v8h-53zm59 0h6v8h-6zm242 0h6v8h-6zm24 0h47v8h-47zm65 0h12v8h-12zm-396 -8h24v8h-24zm101 0h18v8h-18zm136 0h6v8h-6zm100 0h6v8h-6zm142 0h23v8h-23zm-195 -17h12v17h-12zm-6 0h6v8h-6z"/><path fill="#800026" d="M975 2250h24v9h-24zm77 0h24v9h-24zm47 0h59v9h-59zm-23 -8h11v8h-11zm100 0h6v8h-6zm165 0h18v8h-18zm30 0h47v8h-47zm-41 -8h23v8h-23zm70 0h42v8h-42zm-200 -9h11v9h-11zm224 0h18v9h-18zm-201 -8h6v8h-6z"/></g></g>
<rect x="928" y="2008.8" width="528.5" height="374.6" fill="none" stroke="#8a8a7a" stroke-width="1.3"/>
<path d="M928 2383.4v-5M928 2008.8v5M987.1 2383.4v-5M987.1 2008.8v5M1046.1 2383.4v-5M1046.1 2008.8v5M1105.2 2383.4v-5M1105.2 2008.8v5M1164.2 2383.4v-5M1164.2 2008.8v5M1223.3 2383.4v-5M1223.3 2008.8v5M1282.3 2383.4v-5M1282.3 2008.8v5M1341.4 2383.4v-5M1341.4 2008.8v5M1400.4 2383.4v-5M1400.4 2008.8v5M928 2383.4h5M1456.5 2383.4h-5M928 2341.8h5M1456.5 2341.8h-5M928 2300.2h5M1456.5 2300.2h-5M928 2258.5h5M1456.5 2258.5h-5M928 2216.9h5M1456.5 2216.9h-5M928 2175.3h5M1456.5 2175.3h-5M928 2133.7h5M1456.5 2133.7h-5M928 2092h5M1456.5 2092h-5M928 2050.4h5M1456.5 2050.4h-5M928 2008.8h5M1456.5 2008.8h-5" stroke="#8a8a7a" stroke-width="1.2" fill="none"/>
<g font-size="19.2" fill="#4a4a4a" text-anchor="end"><text x="921" y="2389.8">80</text><text x="921" y="2348.2">90</text><text x="921" y="2306.6">100</text><text x="921" y="2265">110</text><text x="921" y="2223.3">120</text><text x="921" y="2181.7">130</text><text x="921" y="2140.1">140</text><text x="921" y="2098.5">150</text><text x="921" y="2056.9">160</text><text x="921" y="2015.2">170</text></g><g font-size="19.2" fill="#4a4a4a" text-anchor="middle"><text x="928" y="2408.9">2</text><text x="987.1" y="2408.9">2.2</text><text x="1046.1" y="2408.9">2.4</text><text x="1105.2" y="2408.9">2.6</text><text x="1164.2" y="2408.9">2.8</text><text x="1223.3" y="2408.9">3</text><text x="1282.3" y="2408.9">3.2</text><text x="1341.4" y="2408.9">3.4</text><text x="1400.4" y="2408.9">3.6</text></g>
<text x="1120.1" y="2433.7" font-size="22.0" fill="#4a4a4a">Frequency/MHz</text>
<text transform="translate(882.8,2196.1) rotate(-90)" text-anchor="middle" font-size="22.1" fill="#4a4a4a">Virtual Height/km</text>
<g font-size="34.6" fill="#1e1e1e"><text x="1000.9" y="2063.4">2021-06-08</text><text x="1206.2" y="2063.4">22:49:00</text></g>
<linearGradient id="gb4" x1="0" y1="1" x2="0" y2="0"><stop offset="0.000" stop-color="#ffffcc"/><stop offset="0.125" stop-color="#ffeda0"/><stop offset="0.250" stop-color="#fed976"/><stop offset="0.375" stop-color="#feb24c"/><stop offset="0.500" stop-color="#fd8d3c"/><stop offset="0.625" stop-color="#fc4e2a"/><stop offset="0.750" stop-color="#e31a1c"/><stop offset="0.875" stop-color="#bd0026"/><stop offset="1.000" stop-color="#800026"/></linearGradient>
<rect x="1466.8" y="2009" width="22.9" height="373" fill="url(#gb4)" stroke="#8a8a7a" stroke-width="1.2"/>
<path d="M1489.7 2372.7h-3.5M1489.7 2332.3h-3.5M1489.7 2291.9h-3.5M1489.7 2251.5h-3.5M1489.7 2211.1h-3.5M1489.7 2170.6h-3.5M1489.7 2130.2h-3.5M1489.7 2089.8h-3.5M1489.7 2049.4h-3.5M1489.7 2009h-3.5" stroke="#8a8a7a" stroke-width="1"/>
<g font-size="16" fill="#4a4a4a"><text x="1494.7" y="2378.1">0.1</text><text x="1494.7" y="2337.7">0.2</text><text x="1494.7" y="2297.2">0.3</text><text x="1494.7" y="2256.8">0.4</text><text x="1494.7" y="2216.4">0.5</text><text x="1494.7" y="2176">0.6</text><text x="1494.7" y="2135.6">0.7</text><text x="1494.7" y="2095.2">0.8</text><text x="1494.7" y="2054.8">0.9</text><text x="1494.7" y="2014.4">1</text></g>
<text x="1478.2" y="1999" text-anchor="middle" font-size="18.0" fill="#4a4a4a">Normalized Range Spectrum</text>
<clipPath id="cb5"><rect x="178.8" y="2474.4" width="540.7" height="374.9"/></clipPath>
<g clip-path="url(#cb5)"><g filter="url(#bl2)"><path fill="#ffeea3" d="M578 2468h12v387h-12zm24 0h12v387h-12z"/><path fill="#ffe58f" d="M505 2468h6v387h-6zm48 0h6v387h-6zm12 0h13v387h-13zm25 0h12v387h-12zm36 0h6v387h-6zm72 0h6v387h-6z"/><path fill="#fedb7b" d="M445 2468h6v387h-6zm12 0h6v387h-6zm24 0h24v387h-24zm30 0h6v387h-6zm12 0h6v387h-6zm12 0h18v387h-18zm24 0h6v387h-6zm55 0h12v387h-12zm24 0h6v387h-6zm12 0h24v387h-24zm54 0h6v387h-6zm12 0h13v387h-13z"/><path fill="#fecb67" d="M439 2468h6v387h-6zm12 0h6v387h-6zm12 0h12v387h-12zm54 0h6v387h-6zm12 0h6v387h-6zm103 0h6v387h-6zm12 0h6v387h-6zm30 0h24v387h-24z"/><path fill="#feb953" d="M336 2468h12v387h-12zm36 0h24v387h-24zm30 0h6v387h-6zm12 0h25v387h-25zm61 0h6v387h-6zm235 0h6v387h-6z"/><path fill="#fea747" d="M312 2468h6v387h-6zm12 0h12v387h-12zm24 0h24v387h-24zm48 0h6v387h-6zm12 0h6v387h-6z"/><path fill="#fd9640" d="M318 2468h6v387h-6z"/><path fill="#f84528" d="M197 2468h6v387h-6z"/><path fill="#ec2c21" d="M282 2468h30v387h-30z"/><path fill="#df171d" d="M185 2468h12v387h-12zm18 0h12v387h-12zm18 0h6v387h-6zm18 0h12v387h-12zm18 0h6v387h-6zm18 0h7v387h-7z"/><path fill="#cd0b22" d="M173 2468h12v387h-12zm42 0h6v387h-6zm12 0h12v387h-12zm24 0h6v387h-6zm12 0h6v387h-6z"/><path fill="#b90026" d="M269 2468h6v387h-6z"/><path fill="#fff7b7" d="M584 2766h6v8h-6zm0 -133h6v8h-6zm42 -42h6v8h-6zm-42 -8h6v8h-6zm-6 -17h12v8h-12zm30 -33h6v8h-6zm-24 -9h6v9h-6zm0 -33h6v8h-6z"/><path fill="#ffeea3" d="M505 2841h6v14h-6zm48 -25h6v17h-6zm43 0h6v8h-6zm-31 -17h6v9h-6zm31 -8h6v17h-6zm102 0h6v17h-6zm-127 0h7v8h-7zm19 0h6v8h-6zm-19 -25h7v8h-7zm55 0h6v8h-6zm-73 -17h6v17h-6zm43 9h6v8h-6zm-91 -9h6v9h-6zm193 0h6v9h-6zm-102 -8h6v8h-6zm-91 -75h6v8h-6zm91 -8h6v8h-6zm-91 -25h6v8h-6zm48 0h6v8h-6zm0 -17h6v8h-6zm37 -17h12v9h-12zm36 0h6v9h-6zm72 0h6v9h-6zm-193 -8h6v8h-6zm91 0h6v8h-6zm-91 -17h6v9h-6zm60 0h6v9h-6zm31 -8h6v17h-6zm-43 0h6v8h-6zm-48 -25h6v17h-6zm48 8h6v9h-6zm18 0h7v9h-7zm25 -16h6v16h-6zm-91 -9h6v9h-6zm48 0h6v9h-6zm73 0h6v9h-6zm72 0h6v9h-6zm-102 -16h6v16h-6zm-91 -17h6v25h-6zm36 17h6v8h-6zm30 0h7v8h-7zm-18 -9h6v9h-6zm6 -8h6v8h-6zm37 0h6v8h-6zm102 -23h6v23h-6zm-139 0h6v15h-6z"/><path fill="#ffe58f" d="M487 2841h6v14h-6zm12 0h6v14h-6zm42 -8h6v22h-6zm67 -17h6v39h-6zm30 25h6v14h-6zm78 0h13v14h-13zm-223 -8h6v8h-6zm30 -9h6v17h-6zm24 9h6v8h-6zm31 0h12v8h-12zm42 0h6v8h-6zm42 -9h6v9h-6zm-175 -16h6v16h-6zm54 8h6v8h-6zm37 0h6v8h-6zm42 0h6v8h-6zm-127 -8h6v8h-6zm66 0h6v8h-6zm43 -9h6v17h-6zm66 9h6v8h-6zm-211 -9h6v9h-6zm42 -16h6v25h-6zm85 16h6v9h-6zm24 0h6v9h-6zm12 -16h6v25h-6zm-61 -17h6v33h-6zm19 25h6v8h-6zm-121 -8h6v8h-6zm66 -17h6v25h-6zm18 8h6v17h-6zm61 -8h6v25h-6zm6 0h6v17h-6zm-73 0h6v8h-6zm43 -8h6v8h-6zm42 0h6v8h-6zm-121 -9h6v9h-6zm24 0h6v9h-6zm18 0h6v9h-6zm61 -8h6v17h-6zm-115 0h6v8h-6zm133 0h6v8h-6zm-163 -75h6v8h-6zm66 0h6v8h-6zm36 -8h6v16h-6zm19 8h6v8h-6zm-91 -33h6v33h-6zm115 25h12v8h-12zm18 0h6v8h-6zm18 -9h6v9h-6zm-139 -8h6v8h-6zm24 -17h6v25h-6zm36 -8h6v33h-6zm43 25h12v8h-12zm-61 -8h6v8h-6zm61 -9h6v17h-6zm18 9h6v8h-6zm-175 -17h6v8h-6zm12 0h6v8h-6zm84 -8h6v16h-6zm67 8h6v8h-6zm-121 -8h6v8h-6zm36 0h6v8h-6zm85 -9h6v9h-6zm12 0h6v9h-6zm-121 -8h6v8h-6zm24 0h6v8h-6zm36 0h6v8h-6zm91 0h6v8h-6zm-163 -8h6v8h-6zm54 0h6v8h-6zm37 0h6v8h-6zm-85 -9h12v9h-12zm66 0h6v9h-6zm43 0h6v9h-6zm36 0h6v9h-6zm-97 -16h6v16h-6zm-18 0h6v8h-6zm55 -9h6v17h-6zm24 9h6v8h-6zm18 -9h6v9h-6zm-133 -25h6v25h-6zm36 9h6v16h-6zm36 8h6v8h-6zm43 0h6v8h-6zm-24 -8h12v8h-12zm-79 -9h6v9h-6zm42 0h6v9h-6zm18 0h6v9h-6zm79 0h6v9h-6zm-115 -8h6v8h-6zm79 0h6v8h-6zm66 0h6v8h-6zm-181 -8h6v8h-6zm60 0h6v8h-6zm31 0h6v8h-6zm30 -9h6v17h-6zm-85 0h6v9h-6zm115 0h6v9h-6zm-97 -8h6v8h-6zm-18 -8h6v8h-6zm79 0h6v8h-6zm-115 -15h6v15h-6zm175 0h6v15h-6z"/><path fill="#fedb7b" d="M439 2833h6v22h-6zm151 8h6v14h-6zm-61 -8h6v8h-6zm151 0h6v8h-6zm18 0h6v8h-6zm-181 -34h6v34h-6zm169 17h6v17h-6zm-223 0h12v8h-12zm102 -8h6v16h-6zm25 8h6v8h-6zm-37 -8h6v8h-6zm-84 -9h6v9h-6zm217 -8h6v8h-6zm-247 -8h6v8h-6zm24 0h6v8h-6zm90 0h6v8h-6zm18 0h7v8h-7zm-102 -9h6v9h-6zm157 0h6v9h-6zm54 -8h6v8h-6zm-217 -8h12v8h-12zm127 -9h6v9h-6zm-127 -8h6v8h-6zm42 0h6v8h-6zm48 0h6v8h-6zm12 0h6v8h-6zm61 0h6v8h-6zm48 0h6v8h-6zm12 0h6v8h-6zm-133 -50h6v8h-6zm0 -17h6v9h-6zm91 0h6v9h-6zm54 0h6v9h-6zm-229 -8h6v8h-6zm157 0h6v8h-6zm48 0h12v8h-12zm-211 -8h6v8h-6zm102 0h6v8h-6zm25 0h6v8h-6zm90 -25h6v33h-6zm-211 16h6v9h-6zm36 0h6v9h-6zm24 0h6v9h-6zm42 -33h7v42h-7zm55 33h6v9h-6zm60 -25h6v34h-6zm-223 17h6v8h-6zm133 0h6v8h-6zm-127 -17h6v17h-6zm96 9h6v8h-6zm25 0h6v8h-6zm54 0h6v8h-6zm-205 -9h6v9h-6zm24 -8h6v8h-6zm181 -17h6v17h-6zm36 9h12v8h-12zm0 -17h6v17h-6zm-217 0h6v8h-6zm223 -8h6v16h-6zm-169 -9h6v17h-6zm181 9h6v8h-6zm-235 -9h6v9h-6zm108 0h7v9h-7zm109 0h6v9h-6zm-241 -8h6v8h-6zm126 0h6v8h-6zm79 0h6v8h-6zm42 0h6v8h-6zm-6 -17h6v17h-6zm-241 -16h6v25h-6zm30 16h6v9h-6zm175 0h6v9h-6zm42 0h6v9h-6zm-12 -16h6v16h-6zm-109 0h6v8h-6zm115 -9h6v17h-6zm-211 0h6v9h-6zm48 -8h6v17h-6zm12 8h6v9h-6zm-90 -8h6v8h-6zm24 -8h6v16h-6zm90 8h6v8h-6zm12 0h6v8h-6zm-96 -17h6v17h-6zm205 9h6v8h-6zm24 0h6v8h-6zm-133 -9h6v9h-6zm61 0h6v9h-6zm18 0h6v9h-6zm42 -8h6v8h-6zm-247 -8h6v8h-6zm24 -15h6v23h-6zm54 15h6v8h-6zm36 0h6v8h-6zm12 0h13v8h-13zm79 0h6v8h-6zm-73 -15h7v15h-7z"/><path fill="#fecb67" d="M378 2841h6v14h-6zm36 0h6v14h-6zm12 0h7v14h-7zm19 0h6v14h-6zm48 0h6v14h-6zm18 0h6v14h-6zm36 0h6v14h-6zm67 -17h6v31h-6zm90 17h12v14h-12zm-42 -8h6v8h-6zm48 -17h6v25h-6zm-308 0h6v17h-6zm12 8h6v9h-6zm133 -16h6v25h-6zm157 8h6v17h-6zm-229 0h12v8h-12zm18 0h6v8h-6zm-157 -8h6v8h-6zm109 -9h6v17h-6zm36 9h6v8h-6zm133 0h6v8h-6zm36 -9h6v17h-6zm66 9h13v8h-13zm-344 -9h6v9h-6zm30 -8h6v17h-6zm18 8h6v9h-6zm115 0h6v9h-6zm-199 -8h6v8h-6zm145 0h6v8h-6zm133 0h6v8h-6zm54 0h6v8h-6zm36 0h25v8h-25zm-290 -8h6v8h-6zm61 0h6v8h-6zm36 0h6v8h-6zm36 0h6v8h-6zm109 -9h6v17h-6zm60 -8h13v25h-13zm-102 8h6v9h-6zm54 0h6v9h-6zm36 -8h6v17h-6zm-278 -8h7v16h-7zm49 8h12v8h-12zm-73 -8h6v8h-6zm43 0h6v8h-6zm48 -17h6v25h-6zm54 17h6v8h-6zm109 -9h6v17h-6zm12 -8h6v25h-6zm-254 0h6v17h-6zm61 8h12v9h-12zm175 -8h6v17h-6zm54 8h25v9h-25zm-247 -8h6v8h-6zm54 0h6v8h-6zm12 0h6v8h-6zm175 0h6v8h-6zm-296 -50h6v8h-6zm103 -17h12v9h-12zm42 -8h6v17h-6zm18 8h19v9h-19zm55 0h12v9h-12zm30 0h6v9h-6zm12 0h12v9h-12zm48 0h19v9h-19zm-308 -8h6v8h-6zm31 0h6v8h-6zm205 0h6v8h-6zm18 0h6v8h-6zm48 0h6v8h-6zm-368 -25h6v25h-6zm36 17h6v8h-6zm42 0h6v8h-6zm61 0h12v8h-12zm139 -17h6v25h-6zm36 17h6v8h-6zm18 -9h6v17h-6zm42 9h19v8h-19zm-308 -9h6v9h-6zm31 0h6v9h-6zm102 0h6v9h-6zm121 0h12v9h-12zm54 0h6v9h-6zm-163 -8h6v8h-6zm109 0h6v8h-6zm60 0h13v8h-13zm-235 -8h6v8h-6zm54 0h6v8h-6zm115 -9h6v17h-6zm54 9h6v8h-6zm-302 -9h6v9h-6zm55 0h6v9h-6zm54 0h6v9h-6zm145 0h6v9h-6zm-181 -16h6v16h-6zm72 8h6v8h-6zm67 -42h6v50h-6zm48 42h12v8h-12zm-229 -8h6v8h-6zm12 -9h6v17h-6zm12 0h6v17h-6zm24 9h6v8h-6zm229 0h19v8h-19zm-374 -25h6v25h-6zm78 8h6v17h-6zm97 8h6v9h-6zm-127 -8h6v8h-6zm42 0h13v8h-13zm230 -8h6v16h-6zm48 8h6v8h-6zm-271 -8h6v8h-6zm60 0h6v8h-6zm54 0h6v8h-6zm91 0h6v8h-6zm24 0h12v8h-12zm54 0h13v8h-13zm-259 -9h6v9h-6zm253 0h6v9h-6zm-284 -8h7v8h-7zm19 0h6v8h-6zm102 0h6v8h-6zm-54 -17h6v17h-6zm42 9h6v8h-6zm121 0h6v8h-6zm60 0h13v8h-13zm-271 -9h6v9h-6zm36 0h6v9h-6zm223 0h12v9h-12zm-326 -8h6v8h-6zm79 0h6v8h-6zm18 0h6v8h-6zm60 0h6v8h-6zm121 0h6v8h-6zm12 0h6v8h-6zm48 -17h13v25h-13zm-374 9h6v8h-6zm48 0h6v8h-6zm43 0h6v8h-6zm48 0h6v8h-6zm133 0h6v8h-6zm36 -9h6v17h-6zm12 9h6v8h-6zm-217 -25h6v25h-6zm66 16h6v9h-6zm109 0h6v9h-6zm90 0h6v9h-6zm-374 -16h6v16h-6zm42 0h6v16h-6zm36 8h6v8h-6zm61 0h6v8h-6zm235 -8h6v8h-6zm-368 -9h6v9h-6zm133 0h12v9h-12zm72 -8h6v17h-6zm67 8h6v9h-6zm54 0h6v9h-6zm36 0h6v9h-6zm12 -8h13v17h-13zm-380 0h6v8h-6zm48 0h6v8h-6zm30 0h6v8h-6zm43 0h6v8h-6zm36 0h6v8h-6zm163 0h12v8h-12zm-211 -23h6v23h-6zm90 0h6v23h-6zm121 0h6v23h-6zm-242 0h6v15h-6zm254 0h6v15h-6z"/><path fill="#feb953" d="M348 2841h6v14h-6zm12 0h6v14h-6zm48 0h6v14h-6zm121 0h6v14h-6zm-199 -8h6v8h-6zm187 0h6v8h-6zm18 0h6v8h-6zm139 -9h6v17h-6zm-314 -8h6v17h-6zm36 8h6v9h-6zm236 0h6v9h-6zm-278 -8h6v8h-6zm12 0h6v8h-6zm42 0h6v8h-6zm43 0h6v8h-6zm78 -8h6v8h-6zm103 -25h6v33h-6zm42 25h6v8h-6zm-314 -9h6v9h-6zm91 0h6v9h-6zm-103 -8h6v8h-6zm326 -8h6v16h-6zm-308 0h6v8h-6zm320 0h6v8h-6zm-356 -9h6v9h-6zm18 0h6v9h-6zm103 -16h6v25h-6zm78 16h6v9h-6zm103 -8h6v8h-6zm60 -8h6v16h-6zm-344 -9h6v17h-6zm48 -8h6v17h-6zm236 8h6v9h-6zm-272 -8h6v8h-6zm79 0h6v8h-6zm12 0h6v8h-6zm78 0h6v8h-6zm175 0h6v8h-6zm-223 -8h6v8h-6zm103 0h36v8h-36zm-25 -50h6v8h-6zm-199 -9h12v9h-12zm109 0h6v9h-6zm30 0h6v9h-6zm85 0h36v9h-36zm108 -8h6v17h-6zm-332 0h6v8h-6zm36 -8h6v8h-6zm55 -9h6v17h-6zm-103 0h6v9h-6zm284 0h6v9h-6zm60 -8h6v8h-6zm-344 -8h6v8h-6zm48 0h6v8h-6zm121 0h6v8h-6zm115 0h6v8h-6zm-302 -9h6v9h-6zm30 0h12v9h-12zm-12 -8h6v8h-6zm91 0h6v8h-6zm193 0h6v8h-6zm60 -8h6v16h-6zm-36 0h6v8h-6zm-326 -9h6v9h-6zm302 -8h6v17h-6zm42 0h6v17h-6zm-145 0h6v8h-6zm-205 -8h6v8h-6zm36 -17h6v25h-6zm36 17h6v8h-6zm43 0h6v8h-6zm12 -9h6v17h-6zm193 9h6v8h-6zm36 0h6v8h-6zm12 0h6v8h-6zm-284 -17h6v17h-6zm224 8h6v9h-6zm-236 -25h6v25h-6zm-84 9h6v8h-6zm139 -17h6v25h-6zm181 0h6v25h-6zm42 17h6v8h-6zm18 0h6v8h-6zm-332 -34h6v34h-6zm-12 0h6v25h-6zm296 17h6v8h-6zm-12 -17h6v9h-6zm60 0h6v9h-6zm-296 -8h6v8h-6zm55 -17h6v17h-6zm241 9h6v8h-6zm-380 -9h6v9h-6zm48 0h6v9h-6zm272 -8h6v17h-6zm-278 0h6v8h-6zm42 0h6v8h-6zm73 0h6v8h-6zm-109 -8h6v8h-6zm91 0h6v8h-6zm241 0h6v8h-6zm-362 -15h6v15h-6zm66 0h6v15h-6z"/><path fill="#fea747" d="M318 2841h6v14h-6zm115 0h6v14h-6zm-91 -8h6v8h-6zm-24 -17h6v17h-6zm60 8h6v9h-6zm-42 -8h6v8h-6zm48 -8h12v16h-12zm36 8h6v8h-6zm13 0h6v8h-6zm-43 -17h6v9h-6zm-18 -8h6v8h-6zm48 0h13v8h-13zm-102 -8h6v8h-6zm60 0h6v8h-6zm-60 -25h6v8h-6zm157 0h6v8h-6zm-103 -9h6v9h-6zm6 -8h6v8h-6zm42 0h13v8h-13zm25 0h6v8h-6zm265 0h6v8h-6zm-284 -17h7v17h-7zm61 9h6v8h-6zm30 0h6v8h-6zm54 0h13v8h-13zm49 0h6v8h-6zm-175 -9h6v9h-6zm18 0h6v9h-6zm102 0h6v9h-6zm25 0h6v9h-6zm-254 -33h6v8h-6zm193 0h6v8h-6zm73 0h6v8h-6zm36 0h6v8h-6zm78 -8h13v16h-13zm-223 -9h6v9h-6zm-157 -8h6v8h-6zm42 0h6v8h-6zm12 0h6v8h-6zm-6 -8h6v8h-6zm-66 -9h6v9h-6zm54 0h12v9h-12zm48 -25h6v34h-6zm-42 17h6v8h-6zm48 0h7v8h-7zm-84 -8h6v8h-6zm48 0h6v8h-6zm-72 -25h6v25h-6zm54 8h6v8h-6zm18 0h6v8h-6zm36 -8h7v8h-7zm-84 -9h6v9h-6zm78 0h6v9h-6zm-42 -8h6v8h-6zm97 0h6v8h-6zm-91 -8h12v8h-12zm36 -42h6v42h-6zm-102 25h6v8h-6zm24 -25h6v33h-6zm48 17h6v16h-6zm-54 -9h6v9h-6zm48 0h6v9h-6zm-42 -25h6v9h-6zm78 -16h6v25h-6zm-78 0h6v8h-6zm48 -40h6v40h-6zm30 15h6v16h-6zm-102 0h6v8h-6zm60 -15h6v23h-6zm48 0h7v15h-7z"/><path fill="#fd9640" d="M324 2833h6v8h-6zm42 0h6v8h-6zm-12 -25h6v8h-6zm-30 -17h12v8h-12zm30 0h6v8h-6zm-42 -25h6v17h-6zm18 0h6v8h-6zm24 -17h6v9h-6zm54 -8h6v8h-6zm308 0h13v8h-13zm-368 -8h6v8h-6zm127 0h6v8h-6zm18 -9h6v17h-6zm36 9h12v8h-12zm36 0h6v8h-6zm61 0h6v8h-6zm72 0h6v8h-6zm-247 -9h6v9h-6zm54 0h6v9h-6zm24 0h6v9h-6zm157 0h6v9h-6zm-326 -33h6v8h-6zm54 -8h6v16h-6zm37 8h6v8h-6zm193 0h6v8h-6zm24 0h6v8h-6zm18 0h6v8h-6zm-314 -8h6v8h-6zm24 0h6v8h-6zm30 0h7v8h-7zm73 0h12v8h-12zm18 0h6v8h-6zm193 0h6v8h-6zm-380 -25h6v25h-6zm145 16h6v9h-6zm12 0h6v9h-6zm-163 -16h6v8h-6zm42 -9h6v9h-6zm-36 -8h6v8h-6zm18 0h12v8h-12zm60 0h6v8h-6zm-54 -8h6v8h-6zm-6 -9h6v9h-6zm-18 -8h6v8h-6zm24 0h6v8h-6zm54 -17h6v9h-6zm-54 -16h6v16h-6zm12 0h6v8h-6zm42 0h6v8h-6zm-78 -17h6v8h-6zm24 0h6v8h-6zm-30 -8h6v8h-6zm30 -17h6v17h-6zm12 0h6v8h-6zm-36 -17h6v17h-6zm78 9h6v8h-6zm0 -25h6v8h-6zm-12 -9h6v9h-6zm-72 -16h6v8h-6zm84 0h6v8h-6z"/><path fill="#fd7e38" d="M336 2733h12v8h-12zm18 0h12v8h-12zm24 0h6v8h-6zm24 0h6v8h-6zm12 0h6v8h-6zm55 -9h6v17h-6zm42 9h6v8h-6zm48 -9h6v17h-6zm73 0h6v17h-6zm12 0h6v17h-6zm36 9h6v8h-6zm-272 -9h6v9h-6zm67 0h6v9h-6zm48 0h6v9h-6zm55 0h6v9h-6zm18 0h6v9h-6zm72 0h6v9h-6zm24 0h12v9h-12zm-350 -8h6v8h-6zm272 0h6v8h-6zm-302 -17h6v9h-6zm133 0h6v9h-6zm-91 -8h6v8h-6zm54 0h6v8h-6zm12 0h6v8h-6zm37 0h6v8h-6zm108 0h6v8h-6zm85 -8h6v16h-6zm24 8h6v8h-6zm24 -8h6v16h-6zm12 8h6v8h-6zm-386 -8h6v8h-6zm121 0h12v8h-12zm42 0h6v8h-6zm109 0h6v8h-6zm18 0h6v8h-6zm30 0h6v8h-6zm36 0h6v8h-6zm24 0h6v8h-6zm-223 -9h6v9h-6z"/><path fill="#fc612f" d="M197 2766h6v8h-6zm266 -33h6v8h-6zm36 -9h6v17h-6zm157 9h6v8h-6zm18 0h6v8h-6zm12 0h6v8h-6zm18 -9h6v17h-6zm-350 -8h6v17h-6zm12 8h6v9h-6zm12 0h18v9h-18zm36 0h12v9h-12zm43 0h6v9h-6zm78 0h6v9h-6zm12 0h6v9h-6zm55 0h6v9h-6zm6 -8h6v8h-6zm-284 -25h6v8h-6zm24 0h6v8h-6zm78 0h7v8h-7zm19 0h6v8h-6zm30 -8h6v16h-6zm66 8h12v8h-12zm18 0h6v8h-6zm12 0h7v8h-7zm25 0h6v8h-6zm-266 -8h6v8h-6zm36 0h6v8h-6zm67 0h6v8h-6zm24 0h12v8h-12zm36 0h6v8h-6zm54 0h6v8h-6zm73 0h6v8h-6zm12 0h12v8h-12zm24 0h12v8h-12z"/><path fill="#f84528" d="M294 2841h6v14h-6zm-12 -8h12v8h-12zm6 -9h12v9h-12zm-6 -16h6v8h-6zm6 -34h6v9h-6zm-6 -8h6v8h-6zm0 -17h6v9h-6zm90 -16h6v8h-6zm18 0h6v8h-6zm55 0h6v8h-6zm193 0h6v8h-6zm-308 -9h6v9h-6zm12 0h6v9h-6zm175 0h6v9h-6zm24 0h6v9h-6zm30 0h7v9h-7zm49 0h6v9h-6zm36 0h6v9h-6zm18 0h6v9h-6zm36 0h6v9h-6zm-132 -8h6v8h-6zm-260 -17h6v9h-6zm398 0h13v9h-13zm-338 -8h18v8h-18zm85 0h6v8h-6zm24 0h6v8h-6zm18 0h6v8h-6zm85 0h6v8h-6zm18 0h6v8h-6zm96 0h6v8h-6zm-362 -8h6v8h-6zm127 0h6v8h-6zm72 0h6v8h-6zm12 0h6v8h-6zm49 0h6v8h-6zm-296 -42h6v8h-6zm-18 -8h6v8h-6zm-6 -34h6v9h-6zm24 -8h6v8h-6zm-18 -8h6v8h-6zm-6 -9h6v9h-6zm18 0h6v9h-6zm0 -16h6v8h-6zm6 -9h6v9h-6zm-18 -8h6v8h-6zm6 -8h6v8h-6zm-12 -25h6v16h-6zm18 0h6v8h-6zm-12 -17h6v8h-6z"/><path fill="#ec2c21" d="M197 2833h6v22h-6zm24 -17h6v25h-6zm-30 0h12v8h-12zm48 0h6v8h-6zm-30 -8h6v8h-6zm-6 -9h6v9h-6zm18 0h6v9h-6zm-30 -8h6v8h-6zm30 -8h6v8h-6zm18 0h6v8h-6zm-48 -9h6v9h-6zm12 0h6v9h-6zm18 -8h6v8h-6zm-30 -17h6v17h-6zm48 9h6v8h-6zm-18 -9h6v9h-6zm-36 -8h6v8h-6zm6 -8h6v8h-6zm205 0h6v8h-6zm314 0h6v8h-6zm-350 -9h6v9h-6zm121 0h6v9h-6zm90 -8h7v8h-7zm79 0h6v8h-6zm18 0h6v8h-6zm12 0h6v8h-6zm-175 -8h6v8h-6zm-175 -9h6v9h-6zm72 0h6v9h-6zm212 0h6v9h-6zm-423 -8h6v8h-6zm248 -8h6v16h-6zm54 8h12v8h-12zm42 0h6v8h-6zm91 0h6v8h-6zm-405 -8h6v8h-6zm133 0h6v8h-6zm157 0h6v8h-6zm18 0h6v8h-6zm61 0h6v8h-6zm-393 -9h6v9h-6zm229 0h7v9h-7zm-223 -8h6v8h-6zm18 0h6v8h-6zm175 0h6v8h-6zm18 0h6v8h-6zm-175 -8h6v8h-6zm194 0h6v8h-6zm-230 -17h6v8h-6zm18 0h6v8h-6zm-24 -8h6v8h-6zm60 0h6v8h-6zm-66 -9h6v9h-6zm30 0h6v9h-6zm-24 -8h12v8h-12zm0 -17h6v17h-6zm78 0h7v9h-7zm-72 -8h6v8h-6zm-12 -8h6v8h-6zm48 -9h6v17h-6zm-54 0h6v9h-6zm12 0h6v9h-6zm0 -33h12v17h-12zm-6 0h6v8h-6zm0 -17h18v9h-18zm0 -25h6v25h-6zm30 9h6v16h-6zm18 8h6v8h-6zm-54 -17h6v9h-6zm12 0h12v9h-12zm6 -8h6v8h-6zm36 -8h6v16h-6zm-18 -15h6v15h-6z"/><path fill="#df171d" d="M215 2841h6v14h-6zm85 -8h12v8h-12zm-67 -9h6v9h-6zm67 0h6v9h-6zm6 -8h6v8h-6zm-91 -33h6v33h-6zm79 8h6v17h-6zm12 0h6v8h-6zm-6 -8h6v8h-6zm-37 -17h6v17h-6zm25 0h12v8h-12zm18 0h6v8h-6zm-109 -17h6v9h-6zm72 0h6v9h-6zm-6 -16h6v16h-6zm55 8h6v8h-6zm-12 -8h6v8h-6zm24 0h6v8h-6zm54 0h6v8h-6zm24 0h6v8h-6zm12 0h6v8h-6zm13 -9h12v17h-12zm18 9h12v8h-12zm54 0h6v8h-6zm18 0h6v8h-6zm18 0h6v8h-6zm12 0h6v8h-6zm97 -9h6v17h-6zm12 9h12v8h-12zm30 0h6v8h-6zm24 0h13v8h-13zm-398 -9h6v9h-6zm30 -8h6v17h-6zm48 0h12v17h-12zm91 8h6v9h-6zm24 -8h6v17h-6zm73 8h6v9h-6zm24 0h12v9h-12zm18 0h6v9h-6zm12 0h6v9h-6zm24 -8h6v17h-6zm18 8h6v9h-6zm-417 -8h6v8h-6zm73 0h6v8h-6zm30 0h12v8h-12zm24 0h6v8h-6zm133 0h12v8h-12zm67 0h12v8h-12zm84 0h6v8h-6zm12 0h6v8h-6zm18 0h6v8h-6zm-507 -8h6v8h-6zm157 -9h6v17h-6zm139 9h6v8h-6zm103 0h6v8h-6zm18 0h6v8h-6zm24 -9h12v17h-12zm78 9h13v8h-13zm-283 -9h12v9h-12zm18 0h6v9h-6zm24 0h6v9h-6zm42 -8h6v17h-6zm12 8h6v9h-6zm30 0h6v9h-6zm12 0h13v9h-13zm85 -8h12v17h-12zm-362 0h6v8h-6zm12 0h18v8h-18zm24 0h6v8h-6zm12 0h6v8h-6zm30 0h6v8h-6zm61 0h6v8h-6zm36 0h6v8h-6zm42 0h6v8h-6zm12 -8h6v16h-6zm55 8h6v8h-6zm36 0h6v8h-6zm18 0h6v8h-6zm48 0h6v8h-6zm12 -8h6v16h-6zm-392 -9h6v17h-6zm36 9h6v8h-6zm12 0h6v8h-6zm30 0h18v8h-18zm24 0h12v8h-12zm79 0h6v8h-6zm54 0h6v8h-6zm30 0h13v8h-13zm19 0h6v8h-6zm24 0h6v8h-6zm18 0h6v8h-6zm42 0h12v8h-12zm18 0h6v8h-6zm-272 -9h6v9h-6zm-199 -16h6v8h-6zm79 0h6v8h-6zm66 0h6v8h-6zm-145 -17h6v8h-6zm91 -25h6v17h-6zm-18 0h6v8h-6zm6 -8h12v8h-12zm-6 -9h6v9h-6zm12 0h6v9h-6zm-49 -8h6v8h-6zm12 -17h6v17h-6zm43 9h6v8h-6zm-91 -17h6v8h-6zm73 -8h6v8h-6zm-73 -17h6v17h-6zm85 8h6v9h-6zm-49 -8h6v8h-6zm-36 -17h6v9h-6zm85 0h12v9h-12zm-12 -8h6v8h-6zm18 0h6v8h-6zm-91 -17h6v17h-6zm48 9h6v8h-6zm37 -9h6v9h-6zm-37 -8h6v8h-6zm43 0h6v8h-6zm-91 -8h6v8h-6zm85 0h6v8h-6z"/><path fill="#cd0b22" d="M209 2833h6v22h-6zm36 8h6v14h-6zm12 -8h6v22h-6zm12 -67h6v89h-6zm-66 58h6v9h-6zm72 0h7v9h-7zm-30 -8h6v8h-6zm-60 -17h6v17h-6zm18 9h6v8h-6zm54 0h6v8h-6zm-48 -34h6v34h-6zm-6 17h6v8h-6zm42 -8h6v16h-6zm12 0h6v16h-6zm-72 -9h6v9h-6zm60 -16h6v16h-6zm-6 -17h6v8h-6zm30 0h6v8h-6zm13 0h6v8h-6zm12 0h6v8h-6zm18 0h6v8h-6zm-103 -8h6v8h-6zm12 -17h6v25h-6zm326 17h6v8h-6zm-356 -9h12v9h-12zm66 -8h6v17h-6zm25 8h6v9h-6zm12 0h6v9h-6zm30 -8h6v17h-6zm229 8h6v9h-6zm-235 -8h6v8h-6zm12 0h6v8h-6zm54 0h6v8h-6zm24 0h6v8h-6zm109 0h6v8h-6zm42 0h12v8h-12zm43 -8h6v16h-6zm18 -9h6v25h-6zm12 17h6v8h-6zm12 0h6v8h-6zm12 -8h6v16h-6zm-465 0h6v8h-6zm169 0h6v8h-6zm127 0h6v8h-6zm163 -9h6v17h-6zm12 9h12v8h-12zm-465 -9h6v9h-6zm12 0h6v9h-6zm30 0h12v9h-12zm127 0h12v9h-12zm30 0h6v9h-6zm67 0h12v9h-12zm18 -8h6v17h-6zm18 8h6v9h-6zm12 0h6v9h-6zm42 0h6v9h-6zm73 0h6v9h-6zm84 0h6v9h-6zm-465 -16h6v16h-6zm24 8h6v8h-6zm-66 -8h6v8h-6zm72 -9h7v17h-7zm-90 0h6v9h-6zm248 0h6v9h-6zm-224 -8h6v8h-6zm30 0h6v8h-6zm30 -8h6v16h-6zm25 8h12v8h-12zm78 0h6v8h-6zm-115 -17h6v17h-6zm18 9h7v8h-7zm37 0h6v8h-6zm66 0h6v8h-6zm-133 -9h6v9h-6zm-54 -8h6v8h-6zm18 0h6v8h-6zm60 0h6v8h-6zm-66 -8h6v8h-6zm36 0h6v8h-6zm-30 -9h6v9h-6zm48 -16h6v16h-6zm-66 0h6v8h-6zm18 -17h6v25h-6zm36 17h6v8h-6zm-54 -17h6v8h-6zm54 -8h6v16h-6zm24 8h6v8h-6zm19 0h6v8h-6zm-79 -17h6v9h-6zm66 -8h7v17h-7zm-90 0h12v8h-12zm6 -8h6v8h-6zm30 0h6v8h-6zm18 0h6v8h-6zm-30 -17h6v17h-6zm48 8h6v9h-6zm12 -8h6v8h-6zm-24 -8h6v8h-6zm-60 -9h6v9h-6zm72 0h6v9h-6zm-12 -25h6v25h-6zm12 -31h6v40h-6zm18 31h7v9h-7zm-90 -16h6v8h-6zm24 -15h6v23h-6zm36 0h6v15h-6zm24 0h6v15h-6z"/><path fill="#b90026" d="M173 2841h12v14h-12zm42 -25h6v8h-6zm12 0h12v8h-12zm36 -8h6v8h-6zm-90 -9h12v9h-12zm78 0h6v9h-6zm-18 -8h6v8h-6zm-6 -17h6v9h-6zm24 -8h6v17h-6zm-78 -8h12v16h-12zm60 8h6v8h-6zm-36 -8h6v8h-6zm30 -9h6v17h-6zm-24 0h12v9h-12zm30 0h6v9h-6zm30 0h6v9h-6zm-42 -8h6v8h-6zm36 0h6v8h-6zm-84 -17h12v17h-12zm102 9h13v8h-13zm37 0h6v8h-6zm12 0h6v8h-6zm-91 -9h6v9h-6zm12 0h6v9h-6zm18 0h6v9h-6zm25 0h6v9h-6zm-97 -8h12v8h-12zm169 0h6v8h-6zm18 0h6v8h-6zm36 0h6v8h-6zm31 0h6v8h-6zm181 -8h6v16h-6zm12 8h6v8h-6zm54 0h12v8h-12zm-453 -8h6v8h-6zm127 0h12v8h-12zm115 0h6v8h-6zm18 0h6v8h-6zm72 0h25v8h-25zm37 -9h6v17h-6zm24 9h6v8h-6zm66 0h18v8h-18zm-441 -9h6v9h-6zm67 0h6v9h-6zm36 0h6v9h-6zm97 0h6v9h-6zm30 0h6v9h-6zm18 0h6v9h-6zm18 0h6v9h-6zm12 0h18v9h-18zm30 0h6v9h-6zm-344 -8h6v8h-6zm12 0h6v8h-6zm-60 -8h12v8h-12zm24 0h6v8h-6zm18 0h6v8h-6zm12 -9h6v17h-6zm193 9h6v8h-6zm158 0h6v8h-6zm-387 -9h6v9h-6zm48 0h6v9h-6zm24 0h6v9h-6zm19 0h6v9h-6zm-85 -8h6v8h-6zm54 0h6v8h-6zm-78 -42h12v42h-12zm36 34h6v8h-6zm12 0h18v8h-18zm42 -9h6v17h-6zm37 9h12v8h-12zm66 0h6v8h-6zm60 0h7v8h-7zm-211 -9h6v9h-6zm18 -16h6v16h-6zm55 8h6v8h-6zm-79 -8h6v8h-6zm-24 -9h6v9h-6zm42 -8h6v17h-6zm18 8h6v9h-6zm37 0h6v9h-6zm12 0h6v9h-6zm-43 -8h6v8h-6zm12 0h6v8h-6zm37 0h6v8h-6zm-127 -42h12v42h-12zm78 25h18v9h-18zm-66 -8h6v8h-6zm12 0h6v8h-6zm78 0h7v8h-7zm-42 -8h6v8h-6zm67 0h6v8h-6zm-55 -17h12v17h-12zm67 8h6v9h-6zm-79 -8h6v8h-6zm-60 -17h12v17h-12zm78 9h6v8h-6zm12 0h6v8h-6zm12 0h7v8h-7zm31 0h6v8h-6zm-49 -17h6v8h-6zm-24 -17h6v9h-6zm-18 -8h6v8h-6zm36 -8h6v8h-6zm-18 -9h6v9h-6zm-60 -8h12v8h-12zm54 0h6v8h-6zm0 -23h12v15h-12z"/><path fill="#9d0026" d="M215 2758h6v8h-6zm-42 -17h12v8h-12zm42 0h6v8h-6zm18 0h6v8h-6zm12 0h6v8h-6zm43 -8h12v8h-12zm-37 -9h6v9h-6zm55 -16h6v25h-6zm410 8h13v17h-13zm-543 0h18v8h-18zm121 -8h12v16h-12zm18 0h6v16h-6zm108 0h25v16h-25zm67 8h24v8h-24zm48 0h24v8h-24zm49 0h6v8h-6zm126 0h6v8h-6zm-465 -8h49v8h-49zm73 0h36v8h-36zm84 0h18v8h-18zm55 0h24v8h-24zm54 0h6v8h-6zm42 0h18v8h-18zm121 -9h24v17h-24zm-459 0h24v9h-24zm48 -8h6v17h-6zm115 8h18v9h-18zm30 0h25v9h-25zm224 0h6v9h-6zm36 0h6v9h-6zm30 0h12v9h-12zm-525 -8h12v8h-12zm24 0h6v8h-6zm78 0h7v8h-7zm309 0h6v8h-6zm36 0h6v8h-6zm-369 -8h12v8h-12zm31 0h6v8h-6zm-109 -9h12v9h-12zm36 0h6v9h-6zm169 0h6v9h-6zm-115 -8h6v8h-6zm12 0h7v8h-7zm7 -8h6v8h-6zm-55 -9h6v9h-6zm67 0h6v9h-6zm18 0h6v9h-6zm-55 -8h6v8h-6zm43 0h6v8h-6zm-85 -17h6v17h-6zm12 9h6v8h-6zm24 0h6v8h-6zm-54 -9h12v9h-12zm72 -8h13v8h-13zm-78 -17h6v9h-6zm36 -8h6v8h-6zm36 0h6v8h-6zm19 0h6v8h-6zm30 -8h6v8h-6zm-97 -9h6v9h-6zm91 0h6v9h-6zm-109 -8h12v8h-12zm66 0h6v8h-6zm25 0h6v8h-6zm12 0h6v8h-6zm12 0h6v8h-6zm-109 -8h6v8h-6zm91 0h6v8h-6z"/><path fill="#800026" d="M227 2716h24v8h-24zm42 0h25v8h-25zm182 0h36v8h-36zm-278 -8h12v8h-12zm36 0h30v8h-30zm169 0h24v8h-24zm67 0h12v8h-12zm72 0h36v8h-36zm-314 -9h6v9h-6zm72 0h7v9h-7zm13 0h24v9h-24zm48 0h18v9h-18zm157 0h6v9h-6zm91 0h24v9h-24zm-296 -8h6v8h-6zm12 0h6v8h-6zm-31 -17h6v9h-6zm37 0h6v9h-6zm-97 -25h6v9h-6zm-12 -8h6v8h-6zm78 -8h7v8h-7zm-42 -25h6v8h-6zm-12 -9h6v9h-6zm24 0h6v9h-6zm-24 -25h6v17h-6zm73 9h6v8h-6zm-103 -9h6v9h-6zm12 0h6v9h-6z"/></g></g>
<rect x="178.8" y="2474.4" width="540.7" height="374.9" fill="none" stroke="#8a8a7a" stroke-width="1.3"/>
<path d="M178.8 2849.3v-5M178.8 2474.4v5M239.2 2849.3v-5M239.2 2474.4v5M299.6 2849.3v-5M299.6 2474.4v5M360 2849.3v-5M360 2474.4v5M420.5 2849.3v-5M420.5 2474.4v5M480.9 2849.3v-5M480.9 2474.4v5M541.3 2849.3v-5M541.3 2474.4v5M601.7 2849.3v-5M601.7 2474.4v5M662.1 2849.3v-5M662.1 2474.4v5M178.8 2849.3h5M719.5 2849.3h-5M178.8 2807.6h5M719.5 2807.6h-5M178.8 2766h5M719.5 2766h-5M178.8 2724.3h5M719.5 2724.3h-5M178.8 2682.7h5M719.5 2682.7h-5M178.8 2641h5M719.5 2641h-5M178.8 2599.4h5M719.5 2599.4h-5M178.8 2557.7h5M719.5 2557.7h-5M178.8 2516.1h5M719.5 2516.1h-5M178.8 2474.4h5M719.5 2474.4h-5" stroke="#8a8a7a" stroke-width="1.2" fill="none"/>
<g font-size="19.2" fill="#4a4a4a" text-anchor="end"><text x="171.8" y="2855.7">80</text><text x="171.8" y="2814.1">90</text><text x="171.8" y="2772.4">100</text><text x="171.8" y="2730.8">110</text><text x="171.8" y="2689.1">120</text><text x="171.8" y="2647.5">130</text><text x="171.8" y="2605.8">140</text><text x="171.8" y="2564.1">150</text><text x="171.8" y="2522.5">160</text><text x="171.8" y="2480.8">170</text></g><g font-size="19.2" fill="#4a4a4a" text-anchor="middle"><text x="178.8" y="2874.8">2</text><text x="239.2" y="2874.8">2.2</text><text x="299.6" y="2874.8">2.4</text><text x="360" y="2874.8">2.6</text><text x="420.5" y="2874.8">2.8</text><text x="480.9" y="2874.8">3</text><text x="541.3" y="2874.8">3.2</text><text x="601.7" y="2874.8">3.4</text><text x="662.1" y="2874.8">3.6</text></g>
<text x="375.7" y="2900.1" font-size="22.5" fill="#4a4a4a">Frequency/MHz</text>
<text transform="translate(133.6,2661.9) rotate(-90)" text-anchor="middle" font-size="22.1" fill="#4a4a4a">Virtual Height/km</text>
<g font-size="34.6" fill="#1e1e1e"><text x="249.5" y="2537.9">2021-06-08</text><text x="454.8" y="2537.9">23:03:23</text></g>
<linearGradient id="gb5" x1="0" y1="1" x2="0" y2="0"><stop offset="0.000" stop-color="#ffffcc"/><stop offset="0.125" stop-color="#ffeda0"/><stop offset="0.250" stop-color="#fed976"/><stop offset="0.375" stop-color="#feb24c"/><stop offset="0.500" stop-color="#fd8d3c"/><stop offset="0.625" stop-color="#fc4e2a"/><stop offset="0.750" stop-color="#e31a1c"/><stop offset="0.875" stop-color="#bd0026"/><stop offset="1.000" stop-color="#800026"/></linearGradient>
<rect x="730" y="2475" width="22.8" height="373.3" fill="url(#gb5)" stroke="#8a8a7a" stroke-width="1.2"/>
<path d="M752.8 2838.6h-3.5M752.8 2798.2h-3.5M752.8 2757.8h-3.5M752.8 2717.4h-3.5M752.8 2677h-3.5M752.8 2636.6h-3.5M752.8 2596.2h-3.5M752.8 2555.8h-3.5M752.8 2515.4h-3.5M752.8 2475h-3.5" stroke="#8a8a7a" stroke-width="1"/>
<g font-size="16" fill="#4a4a4a"><text x="757.8" y="2844">0.1</text><text x="757.8" y="2803.6">0.2</text><text x="757.8" y="2763.2">0.3</text><text x="757.8" y="2722.8">0.4</text><text x="757.8" y="2682.4">0.5</text><text x="757.8" y="2642">0.6</text><text x="757.8" y="2601.6">0.7</text><text x="757.8" y="2561.2">0.8</text><text x="757.8" y="2520.8">0.9</text><text x="757.8" y="2480.4">1</text></g>
<text x="741.4" y="2465" text-anchor="middle" font-size="18.0" fill="#4a4a4a">Normalized Range Spectrum</text>
<clipPath id="cb6"><rect x="939.2" y="2478.5" width="526.1" height="370.8"/></clipPath>
<g clip-path="url(#cb6)"><g filter="url(#bl2)"><path fill="#ffeea3" d="M1098 2472h6v383h-6zm41 0h6v383h-6z"/><path fill="#ffe58f" d="M1021 2472h6v383h-6zm12 0h6v383h-6zm112 0h6v383h-6zm35 0h6v383h-6z"/><path fill="#fedb7b" d="M1027 2472h6v383h-6zm224 0h12v383h-12zm76 0h6v383h-6zm18 0h6v383h-6z"/><path fill="#fecb67" d="M1063 2472h6v383h-6zm111 0h6v383h-6zm147 0h6v383h-6z"/><path fill="#feb953" d="M1039 2472h12v383h-12zm18 0h6v383h-6zm47 0h6v383h-6zm123 0h6v383h-6zm18 0h6v383h-6zm18 0h17v383h-17zm70 0h6v383h-6zm24 0h5v383h-5z"/><path fill="#fea747" d="M969 2472h11v383h-11zm82 0h6v383h-6zm18 0h5v383h-5zm23 0h6v383h-6zm35 0h6v383h-6zm41 0h6v383h-6zm30 0h6v383h-6zm17 0h6v383h-6zm18 0h6v383h-6zm47 0h6v383h-6zm12 0h12v383h-12zm23 0h6v383h-6zm53 0h6v383h-6zm12 0h12v383h-12zm18 0h6v383h-6zm41 0h6v383h-6z"/><path fill="#fd9640" d="M963 2472h6v383h-6zm17 0h6v383h-6zm18 0h6v383h-6zm76 0h18v383h-18zm36 0h6v383h-6zm11 0h6v383h-6zm12 0h6v383h-6zm24 0h6v383h-6zm29 0h12v383h-12zm18 0h11v383h-11zm82 0h6v383h-6zm18 0h6v383h-6zm35 0h6v383h-6zm12 0h6v383h-6zm11 0h6v383h-6zm12 0h6v383h-6zm18 0h6v383h-6zm35 0h12v383h-12z"/><path fill="#fd7e38" d="M945 2472h6v383h-6zm41 0h12v383h-12zm165 0h6v383h-6zm70 0h6v383h-6zm18 0h6v383h-6zm71 0h5v383h-5zm111 0h6v383h-6z"/><path fill="#fc612f" d="M1116 2472h5v383h-5zm47 0h5v383h-5z"/><path fill="#f84528" d="M1004 2472h6v383h-6zm12 0h5v383h-5zm388 0h11v383h-11z"/><path fill="#ec2c21" d="M933 2472h12v383h-12zm77 0h6v383h-6zm441 0h11v383h-11z"/><path fill="#df171d" d="M951 2472h12v383h-12zm464 0h6v383h-6zm47 0h12v383h-12z"/><path fill="#cd0b22" d="M1445 2472h6v383h-6z"/><path fill="#ffffcc" d="M1098 2833h6v8h-6zm-65 -33h6v8h-6zm106 -148h6v8h-6zm-41 -33h6v16h-6z"/><path fill="#fff7b7" d="M1021 2833h6v8h-6zm118 0h6v8h-6zm-41 -25h6v8h-6zm-77 -16h6v8h-6zm77 -9h6v9h-6zm0 -131h6v8h-6zm0 -83h6v17h-6zm41 -33h6v8h-6zm-41 -25h6v9h-6z"/><path fill="#ffeea3" d="M1021 2841h6v14h-6zm124 0h6v14h-6zm-118 -25h6v9h-6zm118 -16h6v8h-6zm182 -17h6v25h-6zm-294 9h6v8h-6zm312 -9h6v9h-6zm0 -16h6v8h-6zm-312 -91h6v8h-6zm312 -8h6v8h-6zm-324 -16h6v16h-6zm0 -17h6v8h-6zm0 -25h6v17h-6zm324 0h6v9h-6zm-312 -16h6v16h-6zm-6 0h6v8h-6zm118 -58h6v25h-6zm-124 -8h6v8h-6zm124 -8h6v8h-6zm200 -17h6v8h-6zm-324 -8h12v8h-12zm0 -8h6v8h-6z"/><path fill="#ffe58f" d="M1174 2841h6v14h-6zm171 0h6v14h-6zm-88 -8h6v8h-6zm-118 -8h6v8h-6zm112 0h6v8h-6zm94 -9h6v9h-6zm-318 -16h6v8h-6zm318 -8h6v16h-6zm-247 0h6v8h-6zm41 -9h6v17h-6zm112 0h6v9h-6zm-188 -8h6v8h-6zm35 0h6v8h-6zm229 -16h6v24h-6zm-300 8h6v8h-6zm230 0h6v8h-6zm-230 -99h6v25h-6zm112 8h6v8h-6zm35 0h6v8h-6zm171 0h6v8h-6zm-247 -16h6v8h-6zm229 -8h6v8h-6zm-300 -17h6v8h-6zm294 0h6v8h-6zm6 -8h6v8h-6zm-153 -8h6v8h-6zm83 0h6v8h-6zm70 -33h6v33h-6zm-300 16h6v8h-6zm71 0h6v8h-6zm153 0h12v8h-12zm94 -25h6v33h-6zm-88 17h6v8h-6zm-159 -8h6v8h-6zm41 0h6v8h-6zm35 -9h6v9h-6zm100 0h6v9h-6zm-135 -8h6v8h-6zm118 0h6v8h-6zm-159 -8h6v8h-6zm-35 -17h6v9h-6zm194 0h6v9h-6zm-230 -33h6v33h-6zm224 25h6v8h-6zm94 -8h6v16h-6zm-206 -17h6v17h-6zm112 0h6v17h-6zm94 0h6v9h-6zm-206 -24h6v8h-6zm35 0h6v8h-6zm77 0h6v8h-6zm94 -15h6v15h-6z"/><path fill="#fedb7b" d="M1268 2841h6v14h-6zm-235 -8h6v8h-6zm112 0h6v8h-6zm129 0h6v8h-6zm-241 -17h6v9h-6zm30 -8h6v17h-6zm82 8h6v9h-6zm82 0h6v9h-6zm94 0h6v9h-6zm-182 -8h6v8h-6zm35 0h6v8h-6zm-70 -8h6v8h-6zm76 -8h6v8h-6zm24 0h6v8h-6zm23 0h6v8h-6zm47 0h6v8h-6zm-241 -25h6v25h-6zm212 16h6v9h-6zm-106 -8h12v8h-12zm-118 -8h6v8h-6zm153 0h12v8h-12zm-141 -83h6v9h-6zm112 -8h6v17h-6zm-82 -8h6v16h-6zm117 0h6v16h-6zm-6 -16h6v24h-6zm-70 8h6v8h-6zm41 -33h6v41h-6zm129 33h6v8h-6zm47 0h6v8h-6zm-141 -8h6v8h-6zm141 -9h6v9h-6zm-141 -8h6v8h-6zm-117 -8h6v8h-6zm111 0h6v8h-6zm-35 -8h6v8h-6zm35 -9h12v9h-12zm100 0h6v9h-6zm47 0h6v9h-6zm-258 -16h6v8h-6zm-30 -8h6v8h-6zm112 0h6v8h-6zm29 0h12v8h-12zm147 0h6v8h-6zm-276 -9h6v9h-6zm135 0h6v9h-6zm-35 -8h6v8h-6zm82 0h6v8h-6zm-206 -16h6v16h-6zm12 8h6v8h-6zm30 0h6v8h-6zm117 -8h6v16h-6zm65 8h6v8h-6zm-106 -17h6v17h-6zm135 9h6v8h-6zm-241 -17h6v17h-6zm141 -8h12v8h-12zm100 0h6v8h-6zm-241 -8h6v8h-6zm-12 -9h6v9h-6zm153 0h6v9h-6zm53 0h6v9h-6zm-194 -8h6v8h-6zm30 -8h6v16h-6zm211 8h6v8h-6zm-129 -8h6v8h-6zm176 0h6v8h-6zm-217 -8h6v8h-6zm76 -15h6v23h-6zm94 0h6v23h-6zm-241 0h6v15h-6zm12 0h6v15h-6zm18 0h6v15h-6zm82 0h6v15h-6z"/><path fill="#fecb67" d="M1027 2841h6v14h-6zm218 0h23v14h-23zm153 0h6v14h-6zm-359 -8h12v8h-12zm141 0h6v8h-6zm71 0h6v8h-6zm-212 -8h6v8h-6zm235 0h6v8h-6zm59 -9h6v17h-6zm24 9h5v8h-5zm-265 -9h6v9h-6zm12 -8h6v17h-6zm-83 0h6v8h-6zm206 0h6v8h-6zm24 0h6v8h-6zm76 0h6v8h-6zm53 -8h6v8h-6zm-353 -17h6v17h-6zm188 9h6v8h-6zm30 0h6v8h-6zm112 0h5v8h-5zm-130 -9h6v9h-6zm-123 -8h6v8h-6zm94 0h6v8h-6zm47 0h12v8h-12zm88 -8h6v16h-6zm-241 0h6v8h-6zm182 0h6v8h-6zm-229 -83h6v9h-6zm12 0h6v9h-6zm288 0h6v9h-6zm35 -8h6v8h-6zm-311 -8h5v8h-5zm35 0h6v8h-6zm82 0h6v8h-6zm-159 -8h6v8h-6zm18 0h6v8h-6zm182 0h6v8h-6zm30 0h6v8h-6zm-218 -8h6v8h-6zm176 0h6v8h-6zm30 0h6v8h-6zm29 0h6v8h-6zm83 0h5v8h-5zm-106 -9h12v9h-12zm94 0h6v9h-6zm-88 -8h6v8h-6zm17 -16h6v24h-6zm-229 8h6v8h-6zm141 0h6v8h-6zm106 0h6v8h-6zm41 0h6v8h-6zm24 0h5v8h-5zm17 0h6v8h-6zm-347 -8h6v8h-6zm153 0h6v8h-6zm65 -9h6v17h-6zm-271 0h6v9h-6zm130 0h6v9h-6zm123 0h6v9h-6zm30 0h6v9h-6zm-77 -8h6v8h-6zm94 -16h6v24h-6zm59 8h6v8h-6zm-306 -8h6v8h-6zm18 0h6v8h-6zm47 0h6v8h-6zm12 0h6v8h-6zm123 0h6v8h-6zm159 0h6v8h-6zm-135 -9h6v9h-6zm82 -8h6v17h-6zm-359 0h6v8h-6zm53 0h6v8h-6zm65 0h6v8h-6zm12 0h6v8h-6zm-59 -8h6v8h-6zm-6 -17h6v17h-6zm188 9h6v8h-6zm18 0h6v8h-6zm88 0h6v8h-6zm-229 -9h6v9h-6zm164 0h6v9h-6zm-223 -8h6v8h-6zm135 0h6v8h-6zm77 -8h6v16h-6zm17 8h6v8h-6zm41 0h6v8h-6zm42 0h5v8h-5zm-171 -8h6v8h-6zm65 0h6v8h-6zm-53 -8h6v8h-6zm59 -17h6v17h-6zm-218 0h6v8h-6zm159 0h6v8h-6zm17 0h6v8h-6zm12 0h6v8h-6zm-123 -8h6v8h-6zm170 0h6v8h-6zm83 0h5v8h-5zm-130 -8h6v8h-6zm18 -15h6v23h-6zm-153 0h6v15h-6z"/><path fill="#feb953" d="M1192 2841h18v14h-18zm94 0h12v14h-12zm-194 -8h6v8h-6zm229 0h6v8h-6zm118 0h6v8h-6zm-459 -8h6v8h-6zm18 0h6v8h-6zm217 0h6v8h-6zm65 0h6v8h-6zm106 0h6v8h-6zm-335 -9h6v9h-6zm76 0h6v9h-6zm-58 -8h5v8h-5zm211 -8h6v16h-6zm12 0h6v16h-6zm88 8h6v8h-6zm-288 -8h6v8h-6zm118 0h11v8h-11zm164 0h6v8h-6zm-247 -8h6v8h-6zm30 0h6v8h-6zm41 0h6v8h-6zm141 0h6v8h-6zm29 0h6v8h-6zm18 0h6v8h-6zm47 0h6v8h-6zm-459 -9h6v9h-6zm194 -8h6v17h-6zm124 8h6v9h-6zm82 0h6v9h-6zm53 0h6v9h-6zm-241 -8h6v8h-6zm-212 -8h12v8h-12zm77 0h6v8h-6zm18 0h5v8h-5zm129 0h12v8h-12zm17 0h6v8h-6zm183 0h6v8h-6zm-335 -8h6v8h-6zm35 0h6v8h-6zm217 0h6v8h-6zm65 0h6v8h-6zm12 0h6v8h-6zm-371 -9h6v9h-6zm277 0h6v9h-6zm-159 -57h6v8h-6zm-170 -9h5v9h-5zm94 0h6v9h-6zm194 0h6v9h-6zm123 0h6v9h-6zm-311 -8h5v8h-5zm41 0h6v8h-6zm76 0h6v8h-6zm212 0h6v8h-6zm-429 -8h5v8h-5zm17 0h6v8h-6zm141 0h6v8h-6zm83 0h5v8h-5zm88 0h6v8h-6zm17 0h6v8h-6zm59 0h6v8h-6zm-123 -8h6v8h-6zm35 0h6v8h-6zm-235 -8h6v8h-6zm12 -9h6v17h-6zm29 9h6v8h-6zm35 0h6v8h-6zm30 0h6v8h-6zm-88 -17h5v17h-5zm11 8h6v9h-6zm-111 -8h5v8h-5zm11 0h6v8h-6zm94 0h6v8h-6zm53 -16h6v24h-6zm165 16h6v8h-6zm23 0h6v8h-6zm53 0h6v8h-6zm12 0h6v8h-6zm59 0h6v8h-6zm-347 -16h6v16h-6zm76 8h6v8h-6zm30 0h12v8h-12zm123 0h6v8h-6zm-70 -8h6v8h-6zm182 0h6v8h-6zm-441 -9h6v9h-6zm77 0h5v9h-5zm23 -8h6v8h-6zm106 0h6v8h-6zm182 0h12v8h-12zm18 0h6v8h-6zm-424 -8h6v8h-6zm259 0h6v8h-6zm88 0h6v8h-6zm47 0h6v8h-6zm-388 -8h6v8h-6zm89 -9h5v17h-5zm223 9h6v8h-6zm23 0h6v8h-6zm24 0h6v8h-6zm59 0h6v8h-6zm-306 -9h6v9h-6zm123 0h6v9h-6zm224 0h6v9h-6zm-470 -8h5v8h-5zm229 -8h6v16h-6zm94 0h6v16h-6zm29 8h6v8h-6zm77 0h6v8h-6zm-265 -8h6v8h-6zm71 0h6v8h-6zm47 -8h6v16h-6zm64 8h6v8h-6zm77 0h6v8h-6zm-218 -8h6v8h-6zm41 -17h6v25h-6zm171 17h6v8h-6zm-200 -9h6v9h-6zm100 0h6v9h-6zm94 0h6v9h-6zm53 0h6v9h-6zm-464 -8h11v8h-11zm123 -8h6v16h-6zm76 8h6v8h-6zm153 -8h6v16h-6zm-352 0h5v8h-5zm158 -17h6v25h-6zm71 17h6v8h-6zm200 0h6v8h-6zm41 -8h6v16h-6zm-370 0h5v8h-5zm105 0h6v8h-6zm12 0h6v8h-6zm29 0h6v8h-6zm77 0h6v8h-6zm53 0h6v8h-6zm35 -9h6v17h-6zm-411 -8h5v17h-5zm405 8h6v9h-6zm18 0h6v9h-6zm-306 -8h6v8h-6zm100 -8h6v16h-6zm135 8h6v8h-6zm18 0h6v8h-6zm47 0h6v8h-6zm-6 -8h6v8h-6zm-411 -8h11v8h-11zm23 0h6v8h-6zm71 0h6v8h-6zm105 -15h6v23h-6zm36 0h6v23h-6zm170 15h6v8h-6zm59 -15h6v23h-6zm-235 0h6v15h-6zm12 0h11v15h-11zm170 0h6v15h-6zm18 0h6v15h-6z"/><path fill="#fea747" d="M980 2833h6v22h-6zm18 8h6v14h-6zm41 0h12v14h-12zm18 0h6v14h-6zm17 0h18v14h-18zm47 0h6v14h-6zm36 -16h6v30h-6zm200 16h5v14h-5zm17 -8h6v22h-6zm18 8h6v14h-6zm-312 -8h6v8h-6zm71 0h6v8h-6zm35 -17h6v25h-6zm18 9h6v16h-6zm64 8h6v8h-6zm18 -17h6v25h-6zm24 17h5v8h-5zm117 0h6v8h-6zm-341 -8h6v8h-6zm35 0h6v8h-6zm124 0h6v8h-6zm18 0h5v8h-5zm129 0h6v8h-6zm-394 -17h6v17h-6zm41 8h6v9h-6zm271 0h5v9h-5zm29 0h6v9h-6zm12 0h11v9h-11zm23 0h6v9h-6zm-317 -8h6v8h-6zm29 -8h6v16h-6zm106 8h6v8h-6zm71 0h5v8h-5zm129 0h6v8h-6zm29 0h12v8h-12zm-382 -8h6v8h-6zm35 0h6v8h-6zm130 0h6v8h-6zm35 0h12v8h-12zm47 0h6v8h-6zm76 0h6v8h-6zm71 0h6v8h-6zm-447 -8h12v8h-12zm59 0h6v8h-6zm12 0h6v8h-6zm23 -17h6v25h-6zm30 17h6v8h-6zm76 0h12v8h-12zm124 0h5v8h-5zm23 0h6v8h-6zm18 -9h6v17h-6zm23 9h6v8h-6zm-376 -33h6v33h-6zm41 16h6v17h-6zm47 -8h6v25h-6zm18 16h6v9h-6zm100 0h11v9h-11zm35 -8h6v17h-6zm24 0h11v17h-11zm-283 0h12v8h-12zm65 0h6v8h-6zm76 -8h6v16h-6zm30 8h6v8h-6zm53 0h6v8h-6zm188 0h6v8h-6zm-400 -8h6v8h-6zm118 0h6v8h-6zm82 0h6v8h-6zm76 0h6v8h-6zm18 -8h6v16h-6zm76 8h6v8h-6zm-305 -8h6v8h-6zm194 -9h6v17h-6zm23 9h6v8h-6zm59 0h12v8h-12zm24 0h5v8h-5zm76 -9h6v17h-6zm-112 0h6v9h-6zm18 0h6v9h-6zm82 0h6v9h-6zm-423 -49h6v8h-6zm35 -8h6v16h-6zm-12 0h12v8h-12zm18 0h6v8h-6zm-59 -17h6v17h-6zm177 8h6v9h-6zm17 0h12v9h-12zm18 -8h6v17h-6zm-206 0h6v8h-6zm53 0h12v8h-12zm18 0h6v8h-6zm17 0h6v8h-6zm12 -8h6v16h-6zm35 8h6v8h-6zm312 0h6v8h-6zm-323 -8h6v8h-6zm47 0h6v8h-6zm111 -25h6v33h-6zm53 25h6v8h-6zm12 0h6v8h-6zm24 -8h5v16h-5zm-365 0h6v8h-6zm47 0h6v8h-6zm94 0h6v8h-6zm71 0h6v8h-6zm41 0h6v8h-6zm65 0h5v8h-5zm-253 -8h6v8h-6zm53 0h6v8h-6zm76 0h12v8h-12zm77 0h5v8h-5zm23 0h6v8h-6zm76 0h6v8h-6zm65 0h6v8h-6zm-70 -9h5v9h-5zm17 0h6v9h-6zm-335 -8h6v8h-6zm135 0h6v8h-6zm12 0h6v8h-6zm18 0h11v8h-11zm106 -8h5v16h-5zm23 8h6v8h-6zm59 0h6v8h-6zm-400 -8h6v8h-6zm65 -8h6v16h-6zm47 8h12v8h-12zm106 -8h5v16h-5zm58 8h6v8h-6zm18 -17h6v25h-6zm135 17h18v8h-18zm-441 -8h6v8h-6zm65 0h6v8h-6zm41 0h6v8h-6zm35 -9h6v17h-6zm83 0h6v17h-6zm217 9h6v8h-6zm-423 -17h6v17h-6zm335 8h6v9h-6zm-229 -16h6v16h-6zm47 8h6v8h-6zm76 0h6v8h-6zm36 0h5v8h-5zm129 0h6v8h-6zm-353 -8h12v8h-12zm47 0h6v8h-6zm106 -8h6v16h-6zm12 8h6v8h-6zm82 0h6v8h-6zm24 0h5v8h-5zm52 0h6v8h-6zm12 0h6v8h-6zm-335 -8h6v8h-6zm82 -17h6v25h-6zm12 8h6v17h-6zm53 -8h6v25h-6zm24 17h5v8h-5zm53 -9h11v17h-11zm70 9h6v8h-6zm24 0h5v8h-5zm35 0h6v8h-6zm29 0h12v8h-12zm-441 -9h6v9h-6zm77 0h6v9h-6zm170 0h6v9h-6zm18 0h6v9h-6zm65 0h5v9h-5zm29 -8h6v17h-6zm12 8h6v9h-6zm-353 -16h6v16h-6zm47 8h6v8h-6zm29 -8h6v16h-6zm77 0h6v16h-6zm-94 -8h6v16h-6zm47 8h6v8h-6zm106 0h5v8h-5zm100 -8h5v16h-5zm23 8h6v8h-6zm24 0h11v8h-11zm17 -25h6v33h-6zm59 25h6v8h-6zm-453 -8h6v8h-6zm206 0h12v8h-12zm77 0h5v8h-5zm99 -17h6v25h-6zm30 17h6v8h-6zm-282 -9h6v9h-6zm11 0h6v9h-6zm118 0h6v9h-6zm118 0h5v9h-5zm-377 -16h6v16h-6zm206 8h6v8h-6zm24 -8h5v16h-5zm17 0h6v16h-6zm59 8h6v8h-6zm47 -8h6v16h-6zm59 8h6v8h-6zm-353 -8h6v8h-6zm35 0h6v8h-6zm59 -8h6v16h-6zm24 8h6v8h-6zm88 0h6v8h-6zm112 0h5v8h-5zm-153 -8h6v8h-6zm59 -9h5v17h-5zm76 9h6v8h-6zm53 0h6v8h-6zm-412 -9h6v9h-6zm18 0h6v9h-6zm59 -8h6v17h-6zm100 -8h6v25h-6zm29 16h12v9h-12zm82 0h6v9h-6zm153 0h6v9h-6zm-217 -8h6v8h-6zm82 0h6v8h-6zm47 0h6v8h-6zm24 0h11v8h-11zm-359 -8h6v8h-6zm88 0h6v8h-6zm47 0h6v8h-6zm106 0h6v8h-6zm29 0h6v8h-6zm106 0h6v8h-6zm-335 -8h12v8h-12zm153 -15h6v23h-6zm18 15h5v8h-5zm129 0h6v8h-6zm18 0h5v8h-5zm35 0h6v8h-6zm-400 -15h12v15h-12zm65 0h6v15h-6zm29 0h6v15h-6zm18 0h6v15h-6zm29 0h6v15h-6zm24 0h6v15h-6zm29 0h6v15h-6zm118 0h6v15h-6zm70 0h6v15h-6z"/><path fill="#fd9640" d="M969 2841h11v14h-11zm199 -16h6v30h-6zm47 16h6v14h-6zm24 0h6v14h-6zm59 0h6v14h-6zm12 0h5v14h-5zm58 -8h6v22h-6zm-376 0h6v8h-6zm77 0h5v8h-5zm152 0h6v8h-6zm42 0h5v8h-5zm29 0h6v8h-6zm106 0h6v8h-6zm23 0h6v8h-6zm-435 -8h6v8h-6zm71 -9h6v17h-6zm94 0h6v17h-6zm47 9h6v8h-6zm35 0h12v8h-12zm65 -9h6v17h-6zm-324 -24h6v33h-6zm18 24h6v9h-6zm223 0h6v9h-6zm53 0h6v9h-6zm24 0h6v9h-6zm94 0h6v9h-6zm12 0h6v9h-6zm-412 -16h6v16h-6zm65 8h6v8h-6zm41 0h6v8h-6zm141 -8h6v16h-6zm77 8h11v8h-11zm-47 -8h5v8h-5zm35 0h6v8h-6zm17 0h6v8h-6zm-264 -8h6v8h-6zm65 0h5v8h-5zm123 0h6v8h-6zm41 0h6v8h-6zm12 0h6v8h-6zm88 0h6v8h-6zm18 0h6v8h-6zm23 -9h6v17h-6zm18 9h6v8h-6zm-276 -9h5v9h-5zm52 0h6v9h-6zm18 -8h6v17h-6zm135 0h6v17h-6zm18 8h6v9h-6zm-441 -8h6v8h-6zm365 0h11v8h-11zm70 0h6v8h-6zm18 0h6v8h-6zm-429 -16h5v16h-5zm17 0h6v16h-6zm59 8h6v8h-6zm12 0h6v8h-6zm70 0h6v8h-6zm18 0h6v8h-6zm23 0h6v8h-6zm95 0h5v8h-5zm29 0h6v8h-6zm94 -8h6v16h-6zm35 8h6v8h-6zm18 -17h6v25h-6zm-447 9h6v8h-6zm59 0h6v8h-6zm182 0h6v8h-6zm24 0h6v8h-6zm23 0h6v8h-6zm-82 -9h6v9h-6zm17 -8h6v8h-6zm24 0h6v8h-6zm12 0h12v8h-12zm41 0h12v8h-12zm-147 -33h6v8h-6zm-94 -16h6v8h-6zm94 0h6v8h-6zm23 0h6v8h-6zm124 0h6v8h-6zm23 0h6v8h-6zm-370 -17h6v17h-6zm94 8h6v9h-6zm30 0h5v9h-5zm58 0h6v9h-6zm24 -8h6v17h-6zm88 8h6v9h-6zm24 -8h5v17h-5zm17 8h6v9h-6zm41 0h6v9h-6zm47 0h6v9h-6zm18 0h6v9h-6zm-417 -8h5v8h-5zm23 0h6v8h-6zm100 -8h6v16h-6zm106 8h6v8h-6zm17 0h12v8h-12zm-164 -8h12v8h-12zm188 0h6v8h-6zm41 0h6v8h-6zm12 -8h6v16h-6zm147 8h6v8h-6zm-465 -25h6v25h-6zm247 17h6v8h-6zm42 0h5v8h-5zm35 -17h6v25h-6zm100 17h6v8h-6zm23 0h6v8h-6zm-435 -17h6v17h-6zm165 9h6v8h-6zm129 0h6v8h-6zm30 0h5v8h-5zm23 0h6v8h-6zm35 0h6v8h-6zm12 -9h6v17h-6zm-388 -8h6v17h-6zm223 0h6v17h-6zm183 8h6v9h-6zm23 -8h6v17h-6zm-476 0h6v8h-6zm206 -8h6v16h-6zm88 8h6v8h-6zm-253 -8h6v8h-6zm65 0h6v8h-6zm264 0h6v8h-6zm83 0h6v8h-6zm-453 -8h6v8h-6zm94 -9h6v17h-6zm124 9h11v8h-11zm129 0h12v8h-12zm18 -17h5v25h-5zm23 17h6v8h-6zm24 0h5v8h-5zm-300 -9h6v9h-6zm35 0h6v9h-6zm35 0h6v9h-6zm88 0h6v9h-6zm224 0h6v9h-6zm-470 -8h5v8h-5zm17 -8h6v16h-6zm177 8h11v8h-11zm70 0h6v8h-6zm65 -16h6v24h-6zm-247 8h6v8h-6zm18 0h5v8h-5zm170 0h6v8h-6zm24 0h5v8h-5zm94 0h5v8h-5zm41 0h6v8h-6zm23 0h6v8h-6zm-294 -8h6v8h-6zm71 0h6v8h-6zm112 0h5v8h-5zm-365 -9h6v9h-6zm29 0h6v9h-6zm77 0h6v9h-6zm229 0h6v9h-6zm141 0h6v9h-6zm-364 -8h6v8h-6zm111 0h6v8h-6zm130 0h6v8h-6zm88 0h6v8h-6zm53 0h6v8h-6zm-465 -8h6v8h-6zm12 0h12v8h-12zm247 0h6v8h-6zm35 -8h6v16h-6zm100 8h6v8h-6zm-200 -8h6v8h-6zm112 0h6v8h-6zm35 -9h6v17h-6zm-346 0h5v9h-5zm264 0h6v9h-6zm30 0h5v9h-5zm176 0h6v9h-6zm-447 -16h6v16h-6zm59 8h6v8h-6zm18 0h5v8h-5zm211 0h6v8h-6zm100 -8h6v16h-6zm18 8h6v8h-6zm-412 -16h6v16h-6zm71 8h6v8h-6zm211 0h6v8h-6zm24 0h6v8h-6zm129 0h6v8h-6zm-476 -8h6v8h-6zm206 0h6v8h-6zm17 0h6v8h-6zm112 -9h6v17h-6zm30 9h11v8h-11zm88 -17h6v25h-6zm-424 0h6v17h-6zm18 8h6v9h-6zm206 0h6v9h-6zm47 0h6v9h-6zm47 -8h6v17h-6zm76 8h6v9h-6zm-135 -8h6v8h-6zm30 -8h5v16h-5zm35 8h6v8h-6zm17 0h6v8h-6zm106 0h6v8h-6zm18 0h6v8h-6zm-447 -8h6v8h-6zm59 0h6v8h-6zm18 0h5v8h-5zm146 0h6v8h-6zm95 0h5v8h-5zm-218 -8h6v8h-6zm35 0h6v8h-6zm24 0h6v8h-6zm82 -15h6v23h-6zm47 0h6v23h-6zm12 15h6v8h-6zm23 0h6v8h-6zm53 -15h6v23h-6zm18 0h6v23h-6zm53 0h6v23h-6zm-470 0h11v15h-11zm70 0h6v15h-6zm30 0h5v15h-5z"/><path fill="#fd7e38" d="M963 2833h6v22h-6zm88 0h6v22h-6zm59 0h6v22h-6zm17 8h6v14h-6zm153 0h6v14h-6zm24 0h6v14h-6zm123 0h6v14h-6zm-458 -16h5v16h-5zm105 8h6v8h-6zm89 0h5v8h-5zm152 0h6v8h-6zm36 -8h6v16h-6zm11 -17h6v33h-6zm-388 17h6v8h-6zm394 0h6v8h-6zm12 0h6v8h-6zm53 0h12v8h-12zm-470 -25h6v25h-6zm111 16h18v9h-18zm42 0h11v9h-11zm17 -8h6v17h-6zm30 8h11v9h-11zm117 0h6v9h-6zm24 0h6v9h-6zm129 0h6v9h-6zm-464 -16h5v16h-5zm188 8h6v8h-6zm41 0h6v8h-6zm100 0h6v8h-6zm53 -8h6v16h-6zm23 8h6v8h-6zm24 0h6v8h-6zm-235 -8h5v8h-5zm141 -25h6v33h-6zm-230 0h6v25h-6zm47 17h6v8h-6zm12 -17h6v25h-6zm130 17h5v8h-5zm-294 -9h5v9h-5zm11 0h6v9h-6zm77 0h6v9h-6zm223 0h6v9h-6zm153 -8h6v17h-6zm-470 -8h6v16h-6zm88 8h6v8h-6zm59 0h6v8h-6zm53 0h5v8h-5zm29 0h6v8h-6zm147 -8h6v16h-6zm88 8h6v8h-6zm-270 -8h6v8h-6zm76 0h6v8h-6zm47 0h6v8h-6zm18 0h6v8h-6zm-277 -8h6v8h-6zm59 0h12v8h-12zm30 0h6v8h-6zm58 0h47v8h-47zm95 0h11v8h-11zm141 0h5v8h-5zm-288 -9h5v9h-5zm58 0h6v9h-6zm112 0h12v9h-12zm18 0h6v9h-6zm23 0h6v9h-6zm18 0h6v9h-6zm-382 -8h6v8h-6zm11 0h6v8h-6zm194 0h6v8h-6zm36 0h6v8h-6zm41 0h6v8h-6zm88 0h6v8h-6zm29 0h12v8h-12zm71 0h6v8h-6zm-59 -49h6v16h-6zm-329 0h6v8h-6zm88 0h6v8h-6zm41 0h12v8h-12zm53 0h12v8h-12zm41 0h6v8h-6zm130 0h6v8h-6zm-318 -9h18v9h-18zm24 0h12v9h-12zm64 0h6v9h-6zm65 -32h6v41h-6zm129 32h6v9h-6zm-311 -8h6v8h-6zm29 -8h6v16h-6zm47 8h6v8h-6zm247 0h6v8h-6zm-411 -8h6v8h-6zm229 0h6v8h-6zm147 0h6v8h-6zm23 0h12v8h-12zm18 0h6v8h-6zm-382 -8h6v8h-6zm88 0h6v8h-6zm24 0h6v8h-6zm53 0h5v8h-5zm47 0h5v8h-5zm217 0h6v8h-6zm-447 -8h6v8h-6zm153 0h6v8h-6zm35 0h6v8h-6zm36 0h6v8h-6zm100 0h6v8h-6zm35 0h6v8h-6zm94 0h6v8h-6zm-382 -9h6v9h-6zm59 0h17v9h-17zm176 -8h6v17h-6zm65 8h6v9h-6zm76 -8h6v17h-6zm12 8h6v9h-6zm-135 -8h6v8h-6zm35 -25h6v33h-6zm35 25h6v8h-6zm-405 -8h5v8h-5zm111 0h6v8h-6zm41 0h6v8h-6zm12 0h6v8h-6zm94 0h6v8h-6zm124 0h6v8h-6zm58 0h6v8h-6zm30 0h6v8h-6zm-476 -8h6v8h-6zm111 0h6v8h-6zm159 -9h6v17h-6zm47 9h6v8h-6zm82 -9h6v17h-6zm-311 0h6v9h-6zm159 -8h5v17h-5zm94 8h6v9h-6zm70 0h12v9h-12zm-253 -8h6v8h-6zm306 0h6v8h-6zm12 0h6v8h-6zm-459 -8h6v8h-6zm94 0h6v8h-6zm36 0h11v8h-11zm47 0h6v8h-6zm135 0h6v8h-6zm47 0h6v8h-6zm47 0h6v8h-6zm-300 -8h6v8h-6zm276 0h12v8h-12zm-288 -9h6v9h-6zm36 0h6v9h-6zm58 0h6v9h-6zm24 0h6v9h-6zm106 0h12v9h-12zm64 0h6v9h-6zm30 0h6v9h-6zm-429 -8h6v8h-6zm88 -16h6v24h-6zm18 16h5v8h-5zm11 0h6v8h-6zm36 -8h5v16h-5zm47 8h5v8h-5zm100 0h5v8h-5zm23 0h6v8h-6zm65 0h6v8h-6zm17 0h6v8h-6zm12 0h6v8h-6zm-411 -8h5v8h-5zm158 0h6v8h-6zm171 0h6v8h-6zm129 0h6v8h-6zm-353 -25h6v25h-6zm12 17h6v8h-6zm35 0h6v8h-6zm42 -9h5v17h-5zm70 9h6v8h-6zm118 0h6v8h-6zm17 0h6v8h-6zm-405 -17h6v17h-6zm11 8h12v9h-12zm142 0h5v9h-5zm17 0h6v9h-6zm59 -8h6v17h-6zm112 8h6v9h-6zm35 -16h6v25h-6zm-341 -8h6v24h-6zm82 16h6v8h-6zm30 -16h6v24h-6zm11 16h6v8h-6zm247 -8h6v16h-6zm-200 0h6v8h-6zm130 -8h6v16h-6zm53 8h6v8h-6zm11 0h6v8h-6zm30 0h6v8h-6zm35 0h6v8h-6zm-453 -8h6v8h-6zm100 0h6v8h-6zm42 0h11v8h-11zm76 0h6v8h-6zm18 -9h5v17h-5zm23 0h6v17h-6zm71 9h6v8h-6zm-300 -9h6v9h-6zm129 -8h6v17h-6zm30 8h5v9h-5zm123 0h6v9h-6zm-323 -8h6v8h-6zm17 0h6v8h-6zm18 0h6v8h-6zm53 0h6v8h-6zm18 0h11v8h-11zm41 0h6v8h-6zm11 0h6v8h-6zm183 -8h6v16h-6zm-330 0h6v8h-6zm83 0h6v8h-6zm106 -8h5v16h-5zm270 8h6v8h-6zm-382 -8h6v8h-6zm70 0h6v8h-6zm36 0h6v8h-6zm111 0h6v8h-6zm18 -15h6v23h-6zm47 15h6v8h-6zm18 0h6v8h-6zm47 0h6v8h-6zm29 0h6v8h-6zm-317 -15h6v15h-6z"/><path fill="#fc612f" d="M1221 2841h6v14h-6zm183 0h5v14h-5zm17 0h6v14h-6zm12 0h6v14h-6zm-194 -8h6v8h-6zm65 -8h6v16h-6zm105 8h6v8h-6zm42 0h5v8h-5zm-506 -8h6v8h-6zm18 0h6v8h-6zm170 0h6v8h-6zm106 -9h6v9h-6zm182 0h12v9h-12zm-411 -8h6v8h-6zm70 -8h6v8h-6zm141 -8h6v16h-6zm89 8h5v8h-5zm99 0h6v8h-6zm-464 -8h6v8h-6zm459 -9h5v9h-5zm-388 -8h5v8h-5zm205 -8h6v16h-6zm-82 0h6v8h-6zm165 0h6v8h-6zm-300 -8h6v8h-6zm-30 -9h6v9h-6zm12 0h6v9h-6zm24 0h6v9h-6zm17 0h6v9h-6zm24 0h6v9h-6zm35 0h6v9h-6zm35 0h6v9h-6zm47 0h6v9h-6zm59 0h18v9h-18zm106 0h6v9h-6zm24 0h5v9h-5zm41 0h6v9h-6zm-418 -8h6v8h-6zm124 0h6v8h-6zm70 0h6v8h-6zm12 0h12v8h-12zm24 0h5v8h-5zm76 0h6v8h-6zm41 0h6v8h-6zm53 0h6v8h-6zm41 0h6v8h-6zm-117 -8h6v8h-6zm-253 -33h6v8h-6zm12 0h6v8h-6zm29 0h6v8h-6zm88 0h6v8h-6zm35 0h6v8h-6zm130 0h6v8h-6zm35 0h6v8h-6zm-417 -8h11v8h-11zm23 0h18v8h-18zm294 0h6v8h-6zm82 0h6v8h-6zm-346 -9h5v9h-5zm276 0h6v9h-6zm23 0h6v9h-6zm89 0h5v9h-5zm23 0h6v9h-6zm-123 -8h6v8h-6zm58 0h6v8h-6zm-370 -8h6v8h-6zm18 0h6v8h-6zm211 0h6v8h-6zm177 0h6v8h-6zm-382 -8h5v8h-5zm388 -33h5v41h-5zm-459 25h6v8h-6zm129 0h12v8h-12zm147 0h6v8h-6zm200 0h6v8h-6zm-405 -9h5v9h-5zm393 0h6v9h-6zm-476 -8h12v8h-12zm53 0h6v8h-6zm18 -8h6v8h-6zm217 -8h6v16h-6zm-211 0h6v8h-6zm-24 -9h6v9h-6zm18 -8h6v17h-6zm70 8h6v9h-6zm206 0h6v9h-6zm-335 -8h6v8h-6zm18 0h6v8h-6zm47 0h6v8h-6zm211 0h6v8h-6zm200 0h6v8h-6zm-429 -8h6v8h-6zm417 0h6v8h-6zm-399 -8h11v8h-11zm70 -9h6v17h-6zm-117 0h6v9h-6zm446 0h6v9h-6zm-99 -8h5v8h-5zm94 -16h5v24h-5zm-424 8h6v8h-6zm177 0h6v8h-6zm258 0h6v8h-6zm-470 -8h6v8h-6zm206 0h6v8h-6zm88 0h6v8h-6zm-247 -9h6v9h-6zm24 -8h5v17h-5zm405 8h6v9h-6zm41 0h12v9h-12zm-476 -8h6v8h-6zm253 0h6v8h-6zm71 -8h5v16h-5zm41 8h6v8h-6zm53 0h5v8h-5zm-400 -8h6v8h-6zm188 0h6v8h-6zm-229 -8h6v8h-6zm17 0h6v8h-6zm12 0h6v8h-6zm24 0h5v8h-5zm205 0h6v8h-6zm183 0h5v8h-5zm-294 -9h6v9h-6zm-106 -8h6v8h-6zm235 0h6v8h-6zm165 0h5v8h-5zm-441 -31h6v31h-6zm53 23h5v8h-5zm205 0h6v8h-6zm-276 -23h6v23h-6zm135 15h6v8h-6zm53 0h6v8h-6zm82 0h6v8h-6zm24 0h6v8h-6zm59 0h6v8h-6zm41 -15h6v15h-6z"/><path fill="#f84528" d="M1163 2841h5v14h-5zm-206 -8h6v8h-6zm-24 -25h12v8h-12zm183 -8h5v16h-5zm-106 0h6v8h-6zm452 0h12v8h-12zm-529 -8h12v8h-12zm30 0h6v8h-6zm200 0h5v8h-5zm288 0h5v8h-5zm-500 -9h6v9h-6zm270 0h6v9h-6zm194 0h6v9h-6zm-252 -24h5v16h-5zm-230 0h12v8h-12zm77 0h6v8h-6zm64 -9h6v9h-6zm24 0h6v9h-6zm41 0h6v9h-6zm71 0h5v9h-5zm11 0h6v9h-6zm36 0h11v9h-11zm-288 -8h5v8h-5zm23 0h6v8h-6zm35 0h6v8h-6zm200 0h6v8h-6zm47 0h6v8h-6zm41 0h6v8h-6zm42 0h5v8h-5zm29 0h6v8h-6zm12 0h6v8h-6zm-194 -16h6v16h-6zm41 8h6v8h-6zm23 0h6v8h-6zm30 0h6v8h-6zm12 0h5v8h-5zm105 0h12v8h-12zm-446 -8h5v8h-5zm100 0h5v8h-5zm129 0h6v8h-6zm12 0h5v8h-5zm64 0h6v8h-6zm100 0h6v8h-6zm65 0h6v8h-6zm-394 -9h6v9h-6zm29 0h6v9h-6zm247 0h6v9h-6zm-341 -8h6v8h-6zm177 -8h6v16h-6zm147 0h6v16h-6zm123 8h6v8h-6zm-253 -8h6v8h-6zm47 0h12v8h-12zm59 0h6v8h-6zm59 0h6v8h-6zm53 0h6v8h-6zm-459 -33h12v33h-12zm77 25h6v8h-6zm82 0h6v8h-6zm100 0h6v8h-6zm47 0h6v8h-6zm35 0h6v8h-6zm24 -9h6v17h-6zm12 0h5v17h-5zm11 9h6v8h-6zm24 0h6v8h-6zm-359 -9h6v9h-6zm177 -8h5v8h-5zm-47 -8h5v8h-5zm-159 -8h6v8h-6zm53 0h6v8h-6zm141 0h6v8h-6zm-35 -8h5v8h-5zm-106 -9h6v9h-6zm153 -8h5v8h-5zm-230 -8h12v8h-12zm482 0h6v8h-6zm-299 -8h5v8h-5zm-106 -9h6v9h-6zm153 0h5v9h-5zm58 0h6v9h-6zm235 0h6v9h-6zm-523 -8h12v8h-12zm77 -8h6v8h-6zm-59 -8h6v8h-6zm41 0h6v8h-6zm229 0h6v8h-6zm194 -9h6v9h-6zm36 0h5v9h-5zm-518 -8h12v8h-12zm77 0h6v8h-6zm446 -8h6v8h-6zm-505 -8h6v8h-6zm12 0h6v8h-6zm258 0h6v8h-6zm241 0h12v8h-12zm-47 -33h6v16h-6zm-482 0h12v8h-12zm77 -9h6v9h-6zm-77 -8h12v8h-12zm183 0h5v8h-5zm-171 -8h12v8h-12zm65 -8h6v16h-6zm106 0h5v8h-5zm346 0h12v8h-12zm-511 -15h6v15h-6zm270 0h6v15h-6zm230 0h5v15h-5z"/><path fill="#ec2c21" d="M951 2841h12v14h-12zm65 0h5v14h-5zm446 -16h12v30h-12zm-458 0h6v8h-6zm411 -17h6v25h-6zm-458 8h6v9h-6zm59 -8h5v17h-5zm393 0h6v17h-6zm-5 0h5v8h-5zm-400 -8h6v8h-6zm-47 -8h6v8h-6zm458 0h6v8h-6zm47 0h12v8h-12zm-346 -9h5v9h-5zm299 -8h6v8h-6zm-411 -8h6v8h-6zm12 -8h5v16h-5zm446 -9h12v25h-12zm-511 9h6v8h-6zm159 -9h6v9h-6zm82 0h6v9h-6zm182 0h12v9h-12zm30 0h11v9h-11zm-418 -8h6v8h-6zm359 0h6v8h-6zm59 0h5v8h-5zm-430 -8h6v8h-6zm124 0h6v8h-6zm35 0h12v8h-12zm59 -25h6v33h-6zm59 25h6v8h-6zm23 0h6v8h-6zm18 0h6v8h-6zm59 0h6v8h-6zm29 0h6v8h-6zm-323 -8h6v8h-6zm17 0h6v8h-6zm59 0h6v8h-6zm106 0h6v8h-6zm18 -9h6v17h-6zm11 9h6v8h-6zm12 0h6v8h-6zm88 0h6v8h-6zm65 0h6v8h-6zm12 0h6v8h-6zm-453 -9h12v9h-12zm47 -16h6v25h-6zm12 16h6v9h-6zm112 0h5v9h-5zm35 -8h6v17h-6zm12 0h5v17h-5zm135 8h6v9h-6zm-400 -8h6v8h-6zm41 0h6v8h-6zm12 0h6v8h-6zm18 0h5v8h-5zm29 -8h6v16h-6zm141 8h6v8h-6zm29 0h6v8h-6zm71 0h18v8h-18zm76 0h18v8h-18zm59 -8h6v16h-6zm12 8h6v8h-6zm-459 -8h6v8h-6zm30 -8h6v16h-6zm82 8h6v8h-6zm323 0h6v8h-6zm-429 -8h6v8h-6zm118 0h12v8h-12zm88 0h6v8h-6zm200 0h6v8h-6zm-435 -9h6v9h-6zm182 0h12v9h-12zm288 0h6v9h-6zm-305 -8h5v8h-5zm293 -16h6v24h-6zm53 16h12v8h-12zm-458 -16h6v16h-6zm117 8h6v8h-6zm-170 -8h6v8h-6zm6 -8h6v8h-6zm59 0h5v8h-5zm446 0h12v8h-12zm-47 -9h6v9h-6zm-194 -8h6v8h-6zm188 0h6v8h-6zm-458 -25h6v17h-6zm53 9h6v8h-6zm400 0h5v8h-5zm-388 -9h5v9h-5zm399 -8h6v17h-6zm-6 0h6v8h-6zm53 0h12v8h-12zm-511 -8h6v8h-6zm453 -8h5v16h-5zm-400 0h6v8h-6zm-12 -9h6v9h-6zm-35 -8h6v8h-6zm47 0h6v8h-6zm411 0h6v8h-6zm-464 -8h6v8h-6zm494 0h6v8h-6zm17 0h12v8h-12zm-446 -8h5v8h-5zm399 0h6v8h-6zm-6 -25h6v25h-6zm-452 8h6v8h-6zm505 0h12v8h-12zm-446 -8h5v8h-5zm388 0h5v8h-5zm-453 -8h6v8h-6zm53 0h6v8h-6zm-47 -9h6v9h-6zm59 0h5v9h-5zm393 0h12v9h-12zm53 0h12v9h-12zm-47 -8h6v8h-6zm30 -8h6v8h-6zm17 0h12v8h-12zm-458 -8h6v8h-6zm405 -15h6v23h-6zm6 0h6v15h-6zm47 0h12v15h-12z"/><path fill="#df171d" d="M1004 2841h6v14h-6zm447 0h5v14h-5zm-435 -16h5v8h-5zm-6 -9h6v9h-6zm441 -8h5v8h-5zm-441 -16h6v8h-6zm446 0h6v8h-6zm-47 -9h6v9h-6zm36 0h6v9h-6zm6 -16h5v16h-5zm-441 0h6v8h-6zm435 -17h6v17h-6zm11 9h6v8h-6zm-523 -9h12v9h-12zm112 0h6v9h-6zm12 0h6v9h-6zm35 0h6v9h-6zm41 0h6v9h-6zm30 0h5v9h-5zm52 0h6v9h-6zm236 0h5v9h-5zm-453 -8h6v8h-6zm23 0h6v8h-6zm95 0h5v8h-5zm41 0h6v8h-6zm194 0h6v8h-6zm-382 -8h5v8h-5zm111 -8h6v16h-6zm65 8h6v8h-6zm41 0h6v8h-6zm12 0h6v8h-6zm88 0h6v8h-6zm41 0h6v8h-6zm12 0h12v8h-12zm35 0h6v8h-6zm18 0h6v8h-6zm-429 -8h6v8h-6zm29 0h12v8h-12zm94 0h6v8h-6zm53 0h6v8h-6zm112 0h6v8h-6zm12 0h5v8h-5zm99 0h6v8h-6zm-417 -9h6v9h-6zm88 0h6v9h-6zm36 -8h5v17h-5zm99 8h6v9h-6zm12 0h6v9h-6zm24 -8h6v17h-6zm11 8h6v9h-6zm136 0h6v9h-6zm-388 -8h17v8h-17zm41 0h12v8h-12zm47 0h6v8h-6zm23 0h12v8h-12zm89 0h5v8h-5zm23 -8h6v8h-6zm12 0h6v8h-6zm12 -25h5v33h-5zm76 25h18v8h-18zm24 0h5v8h-5zm-183 -8h6v8h-6zm30 0h11v8h-11zm129 0h6v8h-6zm94 0h6v8h-6zm12 0h6v8h-6zm47 0h6v8h-6zm12 0h11v8h-11zm-353 -9h6v9h-6zm18 0h5v9h-5zm335 0h5v9h-5zm-447 -8h6v8h-6zm200 0h6v8h-6zm53 0h6v8h-6zm76 0h12v8h-12zm123 0h6v8h-6zm-323 -8h12v8h-12zm312 0h11v8h-11zm-512 -8h12v8h-12zm518 0h11v8h-11zm0 -25h5v8h-5zm5 -16h6v8h-6zm-523 -9h12v9h-12zm518 0h5v9h-5zm5 -8h6v8h-6zm-5 -8h5v8h-5zm-518 -8h12v8h-12zm512 0h6v8h-6zm11 -9h6v9h-6zm-523 -33h12v25h-12zm476 17h6v8h-6zm42 0h5v8h-5zm-447 -17h6v9h-6zm447 0h5v9h-5zm-441 -16h6v16h-6zm399 -8h6v8h-6zm36 0h6v8h-6zm-512 -25h12v8h-12zm71 0h6v8h-6zm447 -8h5v16h-5zm-518 -15h12v15h-12zm523 0h6v15h-6z"/><path fill="#cd0b22" d="M1415 2841h6v14h-6zm-464 -16h6v16h-6zm6 -25h6v16h-6zm499 8h6v8h-6zm-41 -8h6v8h-6zm-464 -33h12v8h-12zm182 -8h6v16h-6zm-100 0h12v8h-12zm88 0h12v8h-12zm18 0h6v8h-6zm18 0h6v8h-6zm-212 -9h6v9h-6zm12 0h17v9h-17zm23 0h6v9h-6zm12 0h12v9h-12zm47 0h6v9h-6zm65 0h6v9h-6zm23 0h6v9h-6zm53 0h12v9h-12zm24 0h6v9h-6zm41 0h6v9h-6zm23 0h18v9h-18zm83 0h6v9h-6zm11 0h12v9h-12zm24 0h12v9h-12zm-370 -8h5v8h-5zm35 0h6v8h-6zm12 0h41v8h-41zm47 0h6v8h-6zm53 0h5v8h-5zm17 0h6v8h-6zm18 0h6v8h-6zm23 0h6v8h-6zm12 0h6v8h-6zm30 0h11v8h-11zm17 -8h6v16h-6zm24 8h11v8h-11zm35 0h6v8h-6zm35 0h6v8h-6zm18 0h6v8h-6zm23 0h6v8h-6zm12 -8h6v16h-6zm12 0h6v16h-6zm17 8h6v8h-6zm-329 -8h6v8h-6zm24 0h6v8h-6zm182 0h6v8h-6zm35 0h6v8h-6zm18 0h6v8h-6zm65 0h5v8h-5zm-447 -17h6v17h-6zm241 9h6v8h-6zm135 0h6v8h-6zm82 0h12v8h-12zm-505 -42h6v33h-6zm106 25h6v8h-6zm70 -8h12v16h-12zm18 0h6v16h-6zm288 8h6v8h-6zm-488 -8h6v8h-6zm12 0h11v8h-11zm17 0h18v8h-18zm41 0h12v8h-12zm48 -8h17v16h-17zm47 8h17v8h-17zm29 0h6v8h-6zm23 0h6v8h-6zm36 -8h6v16h-6zm29 8h6v8h-6zm24 0h23v8h-23zm70 -8h6v16h-6zm30 0h5v16h-5zm11 0h6v16h-6zm18 8h6v8h-6zm-412 -8h6v8h-6zm83 0h12v8h-12zm53 0h6v8h-6zm135 0h23v8h-23zm59 -9h6v17h-6zm35 9h6v8h-6zm12 0h6v8h-6zm58 0h12v8h-12zm18 0h12v8h-12zm-159 -9h6v9h-6zm124 0h6v9h-6zm23 0h6v9h-6zm-282 -8h6v8h-6zm141 -8h6v16h-6zm147 8h12v8h-12zm18 0h6v8h-6zm-212 -8h6v8h-6zm18 0h12v8h-12zm-288 -25h6v9h-6zm-6 -8h6v8h-6zm511 -8h12v16h-12zm-505 0h6v8h-6zm505 -17h12v9h-12zm-511 -66h6v9h-6zm6 -72h6v15h-6z"/><path fill="#b90026" d="M1445 2775h6v8h-6zm-418 -16h6v8h-6zm47 0h6v8h-6zm71 0h6v8h-6zm-194 -9h6v9h-6zm82 0h6v9h-6zm47 0h6v9h-6zm-35 -8h6v8h-6zm12 -8h6v16h-6zm264 8h6v8h-6zm124 0h6v8h-6zm-465 -8h24v8h-24zm83 0h17v8h-17zm164 0h18v8h-18zm-135 -8h6v8h-6zm-35 -9h12v9h-12zm129 0h6v9h-6zm53 0h18v9h-18zm24 0h17v9h-17zm117 0h12v9h-12zm-294 -8h12v8h-12zm24 0h23v8h-23zm335 0h6v8h-6zm-112 -8h6v8h-6zm18 0h6v8h-6zm11 0h6v8h-6zm-164 -8h6v8h-6zm23 -9h6v17h-6zm183 9h5v8h-5zm17 0h6v8h-6zm41 0h12v8h-12zm-247 -9h6v9h-6zm30 0h12v9h-12zm129 0h6v9h-6zm24 0h6v9h-6zm11 0h6v9h-6zm30 0h12v9h-12zm-488 -8h6v8h-6zm147 0h6v8h-6zm129 0h6v8h-6zm18 0h6v8h-6zm23 0h6v8h-6zm53 0h6v8h-6zm36 0h5v8h-5zm88 0h11v8h-11zm0 -24h6v16h-6zm-512 -9h12v17h-12zm24 -57h6v8h-6zm-24 -9h12v9h-12zm512 -8h6v8h-6zm-488 -25h6v9h-6zm488 -41h6v17h-6zm0 -31h6v15h-6z"/><path fill="#9d0026" d="M1445 2800h6v8h-6zm-400 -41h6v8h-6zm18 -9h6v9h-6zm82 0h18v9h-18zm-112 -24h12v24h-12zm88 16h36v8h-36zm-176 -8h24v8h-24zm59 0h29v8h-29zm82 0h12v8h-12zm71 0h29v8h-29zm100 0h11v8h-11zm58 0h12v8h-12zm42 0h11v8h-11zm41 0h17v8h-17zm35 0h6v8h-6zm29 0h12v8h-12zm-488 -8h18v8h-18zm42 -9h17v17h-17zm29 9h12v8h-12zm18 0h6v8h-6zm35 0h12v8h-12zm23 -9h12v17h-12zm42 9h29v8h-29zm123 -9h35v17h-35zm41 9h35v8h-35zm59 0h23v8h-23zm35 -9h12v17h-12zm30 9h11v8h-11zm-471 -9h12v9h-12zm30 0h6v9h-6zm94 0h17v9h-17zm29 0h30v9h-30zm41 -8h6v17h-6zm47 8h18v9h-18zm59 -8h6v17h-6zm47 8h18v9h-18zm35 0h18v9h-18zm30 -8h12v17h-12zm41 8h18v9h-18zm-500 -8h12v8h-12zm59 0h6v8h-6zm106 -8h12v16h-12zm70 8h6v8h-6zm12 0h6v8h-6zm65 0h35v8h-35zm65 0h23v8h-23zm29 0h23v8h-23zm41 0h12v8h-12zm24 0h11v8h-11zm52 0h18v8h-18zm-346 -8h6v8h-6zm129 0h18v8h-18zm76 0h12v8h-12zm83 0h6v8h-6zm41 0h12v8h-12zm23 0h12v8h-12zm-247 -8h6v8h-6zm118 -9h6v17h-6zm-106 0h6v9h-6zm100 0h6v9h-6zm30 0h5v9h-5zm76 0h6v9h-6zm29 0h12v9h-12zm-58 -8h5v8h-5zm-189 -8h6v8h-6zm42 0h11v8h-11zm188 -66h6v8h-6z"/><path fill="#800026" d="M1069 2750h5v9h-5zm-136 -8h30v8h-30zm0 -25h12v25h-12zm112 17h12v8h-12zm59 0h23v8h-23zm106 0h17v8h-17zm-265 -8h18v8h-18zm165 0h11v8h-11zm35 0h18v8h-18zm70 0h24v8h-24zm106 0h6v8h-6zm-364 -9h23v9h-23zm123 0h24v9h-24zm277 0h5v9h-5zm47 0h17v9h-17zm58 0h12v9h-12zm-441 -8h18v8h-18zm36 0h6v8h-6zm164 0h24v8h-24zm112 0h6v8h-6zm94 -8h12v8h-12zm24 0h11v8h-11zm-518 -107h12v8h-12z"/></g></g>
<rect x="939.2" y="2478.5" width="526.1" height="370.8" fill="none" stroke="#8a8a7a" stroke-width="1.3"/>
<path d="M939.2 2849.3v-5M939.2 2478.5v5M998 2849.3v-5M998 2478.5v5M1056.8 2849.3v-5M1056.8 2478.5v5M1115.5 2849.3v-5M1115.5 2478.5v5M1174.3 2849.3v-5M1174.3 2478.5v5M1233.1 2849.3v-5M1233.1 2478.5v5M1291.9 2849.3v-5M1291.9 2478.5v5M1350.7 2849.3v-5M1350.7 2478.5v5M1409.5 2849.3v-5M1409.5 2478.5v5M939.2 2849.3h5M1465.3 2849.3h-5M939.2 2808.1h5M1465.3 2808.1h-5M939.2 2766.9h5M1465.3 2766.9h-5M939.2 2725.7h5M1465.3 2725.7h-5M939.2 2684.5h5M1465.3 2684.5h-5M939.2 2643.3h5M1465.3 2643.3h-5M939.2 2602.1h5M1465.3 2602.1h-5M939.2 2560.9h5M1465.3 2560.9h-5M939.2 2519.7h5M1465.3 2519.7h-5M939.2 2478.5h5M1465.3 2478.5h-5" stroke="#8a8a7a" stroke-width="1.2" fill="none"/>
<g font-size="19.2" fill="#4a4a4a" text-anchor="end"><text x="932.2" y="2855.7">80</text><text x="932.2" y="2814.5">90</text><text x="932.2" y="2773.3">100</text><text x="932.2" y="2732.1">110</text><text x="932.2" y="2690.9">120</text><text x="932.2" y="2649.7">130</text><text x="932.2" y="2608.5">140</text><text x="932.2" y="2567.3">150</text><text x="932.2" y="2526.1">160</text><text x="932.2" y="2484.9">170</text></g><g font-size="19.2" fill="#4a4a4a" text-anchor="middle"><text x="939.2" y="2874.8">2</text><text x="998" y="2874.8">2.2</text><text x="1056.8" y="2874.8">2.4</text><text x="1115.5" y="2874.8">2.6</text><text x="1174.3" y="2874.8">2.8</text><text x="1233.1" y="2874.8">3</text><text x="1291.9" y="2874.8">3.2</text><text x="1350.7" y="2874.8">3.4</text><text x="1409.5" y="2874.8">3.6</text></g>
<text x="1130.7" y="2900.1" font-size="21.8" fill="#4a4a4a">Frequency/MHz</text>
<text transform="translate(894,2663.9) rotate(-90)" text-anchor="middle" font-size="22.1" fill="#4a4a4a">Virtual Height/km</text>
<g font-size="34.6" fill="#1e1e1e"><text x="1000.9" y="2537.9">2021-06-08</text><text x="1206.2" y="2537.9">23:17:46</text></g>
<linearGradient id="gb6" x1="0" y1="1" x2="0" y2="0"><stop offset="0.000" stop-color="#ffffcc"/><stop offset="0.125" stop-color="#ffeda0"/><stop offset="0.250" stop-color="#fed976"/><stop offset="0.375" stop-color="#feb24c"/><stop offset="0.500" stop-color="#fd8d3c"/><stop offset="0.625" stop-color="#fc4e2a"/><stop offset="0.750" stop-color="#e31a1c"/><stop offset="0.875" stop-color="#bd0026"/><stop offset="1.000" stop-color="#800026"/></linearGradient>
<rect x="1475.7" y="2479.3" width="22.8" height="369" fill="url(#gb6)" stroke="#8a8a7a" stroke-width="1.2"/>
<path d="M1498.5 2809.7h-3.5M1498.5 2754.7h-3.5M1498.5 2699.6h-3.5M1498.5 2644.5h-3.5M1498.5 2589.4h-3.5M1498.5 2534.4h-3.5M1498.5 2479.3h-3.5" stroke="#8a8a7a" stroke-width="1"/>
<g font-size="16" fill="#4a4a4a"><text x="1503.5" y="2815.1">0.4</text><text x="1503.5" y="2760">0.5</text><text x="1503.5" y="2705">0.6</text><text x="1503.5" y="2649.9">0.7</text><text x="1503.5" y="2594.8">0.8</text><text x="1503.5" y="2539.7">0.9</text><text x="1503.5" y="2484.7">1</text></g>
<text x="1487.1" y="2469.3" text-anchor="middle" font-size="18.0" fill="#4a4a4a">Normalized Range Spectrum</text>
<text x="23.5" y="62.6" font-size="63" font-weight="bold" fill="#111">(a)</text>
<text x="22.5" y="1563" font-size="63" font-weight="bold" fill="#111">(b)</text>
</svg></body></html>
